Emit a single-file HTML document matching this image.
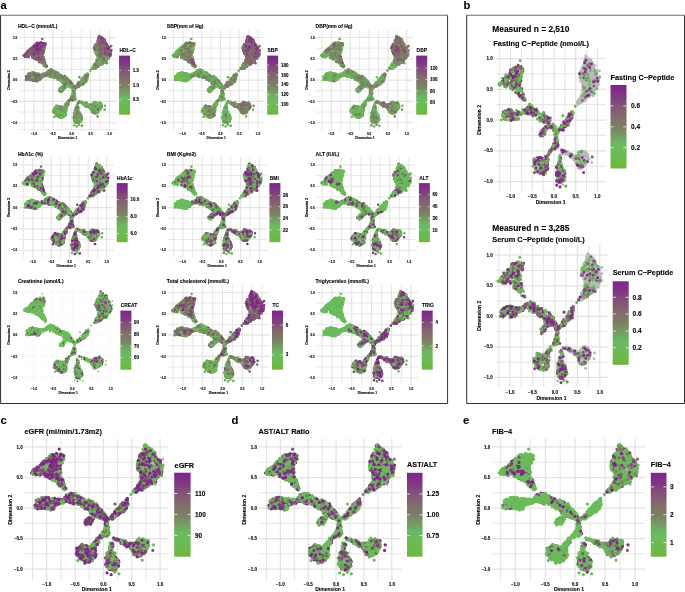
<!DOCTYPE html>
<html><head><meta charset="utf-8"><title>Figure</title>
<style>html,body{margin:0;padding:0;background:#fff}body{width:685px;height:592px;overflow:hidden;font-family:"Liberation Sans",sans-serif}svg{display:block;will-change:transform;filter:blur(0.3px)}text{stroke:#000;stroke-width:.1px}</style></head>
<body>
<svg width="685" height="592" viewBox="0 0 685 592" font-family="Liberation Sans, sans-serif" font-weight="bold" fill="#000">
<defs><linearGradient id="cg" x1="0" y1="0" x2="0" y2="1"><stop offset="0.00" stop-color="#7e228c"/><stop offset="0.14" stop-color="#803a82"/><stop offset="0.25" stop-color="#835477"/><stop offset="0.38" stop-color="#836c6c"/><stop offset="0.50" stop-color="#7b7f61"/><stop offset="0.60" stop-color="#769864"/><stop offset="0.68" stop-color="#6cb260"/><stop offset="0.75" stop-color="#6abc60"/><stop offset="0.88" stop-color="#6cba4e"/><stop offset="1.00" stop-color="#70b63e"/></linearGradient></defs>
<rect width="685" height="592" fill="#fff"/>
<path d="M0.6 15.3V403.5H447.6V15.3M466.7 15.3V403.5H684.5V15.3" fill="none" stroke="#2e2e2e" stroke-width="1"/>
<path d="M0.1 15.3H448.1M466.2 15.3H685" fill="none" stroke="#6e6e6e" stroke-width="1.1"/>
<text x="0.6" y="8.9" font-size="11.2">a</text>
<text x="463.4" y="8.9" font-size="11.2">b</text>
<text x="0.6" y="424.1" font-size="11.2">c</text>
<text x="231.4" y="424.1" font-size="11.2">d</text>
<text x="463.0" y="424.1" font-size="11.2">e</text>
<g><path d="M24.45 30.00V130.20M43.35 30.00V130.20M18.60 112.05H116.60M62.25 30.00V130.20M18.60 90.75H116.60M81.15 30.00V130.20M18.60 69.45H116.60M100.05 30.00V130.20M18.60 48.15H116.60M18.60 129.60H116.60" stroke="#e3e3e3" stroke-width="0.85" fill="none"/><path d="M33.90 30.00V130.20M18.60 122.70H116.60M52.80 30.00V130.20M18.60 101.40H116.60M71.70 30.00V130.20M18.60 80.10H116.60M90.60 30.00V130.20M18.60 58.80H116.60M109.50 30.00V130.20M18.60 37.50H116.60" stroke="#e3e3e3" stroke-width="1.10" fill="none"/><g transform="translate(19 30) scale(0.2)" fill="none" stroke-linecap="round" stroke-width="13.0"><path d="M0 0m219 411zm144-12zm15-8zm23-18z" stroke="#70b63e"/><path d="M0 0m230 384zm35-110zm36 135zm39-189zm43-112zm5 59zm-10 196zm3 33zm13 16z" stroke="#6db949"/><path d="M0 0m85 243zm56-21zm9-8zm13 14zm35 161zm-9 14zm0 10zm26-117zm0 91zm1 2zm-7 12zm14 1zm-11 19zm-3 13zm2 5zm18-177zm51 83zm13 32zm-6 31zm2 7zm5 42zm54-80zm-11 1zm22 21zm2 0zm26-223zm-7 5zm2 190zm13 27zm10-24z" stroke="#6bbb54"/><path d="M0 0m79 244zm82-19zm3 3zm30 153zm5 5zm-8 14zm15-171zm1 22zm9 42zm4 8zm-17 5zm2 86zm18 14zm-1 12zm-22 10zm22 1zm-22 3zm27-181zm11 120zm-10 24zm3 2zm19-144zm14 17zm-7 2zm13 30zm-7 48zm11 84zm15-158zm-9 62zm-5 5zm20 55zm4 17zm-4 18zm-4 6zm-10 6zm-4 9zm8 7zm16-182zm3 82zm9 74zm-11 23zm33-225zm-4 14zm-2 1zm-3 9zm12 110zm10 10zm2 6zm23 11zm24-305zm-15 16zm-1 3zm17 25zm0 23zm-16 18zm6 5zm-11 181zm12 13zm5 10zm-17 2zm13 18zm3 1zm-1 2zm23-275zm-13 0zm9 21zm-1 216zm0 21zm16-246z" stroke="#6abc60"/><path d="M0 0m72 246zm10-25zm-6 12zm40-66zm-12 73zm-4 7zm28-68zm20 45zm2-21zm9 0zm-4 9zm29 1zm-1 18zm-1 2zm17 12zm16 42zm8 1zm-21 10zm-2 3zm2 81zm14 8zm0 8zm-12 18zm39-172zm-15 1zm3 16zm3 12zm13 92zm-16 22zm2 13zm38-56zm-5 1zm-8 1zm-3 4zm38-69zm-17 48zm9 59zm2 9zm4 8zm1 1zm6 5zm-15 2zm-3 7zm14 1zm-10 23zm12 21zm26-226zm-1 3zm-19 117zm1 84zm33-197zm-11 6zm1 11zm15 110zm2 3zm-3 1zm34 0zm-19 2zm5 5zm28-279zm-5 6zm4 4zm-8 55zm-4 18zm7 172zm5 14zm10 13zm-15 16zm-1 11zm25-297zm10 1zm-11 5zm4 9zm-2 20zm-3 4zm20 7zm-21 3zm0 205zm2 1zm-4 4zm9 17zm16-282zm-1 4zm23 16zm-22 7zm3 12zm-4 10z" stroke="#6eae61"/><path d="M0 0m49 246zm12-28zm1 6zm-12 7zm38-138zm0 50zm3 0zm8 80zm-22 17zm3 3zm22-114zm11 3zm-3 15zm4 14zm1 63zm22-7zm8 7zm11 11zm23-26zm2 14zm18 11zm-5 14zm21-16zm-7 16zm9 16zm-7 24zm0 14zm0 8zm-9 114zm28-190zm6 4zm6 4zm0 10zm-7 122zm3 2zm-8 19zm28-135zm-6 8zm16 1zm-8 3zm12 77zm8-1zm11 29zm-6 22zm9 22zm-11 6zm-1 17zm-3 5zm9 2zm-10 4zm46-215zm-1 25zm0 2zm-11 5zm-3 155zm-6 17zm-1 19zm14 16zm31-257zm-5 16zm-3 15zm-11 9zm5 107zm-7 2zm13 2zm8 8zm-9 0zm34-193zm-1 1zm-6 189zm-13 8zm9 11zm31-301zm-12 9zm9 9zm4 11zm7 10zm-1 14zm0 19zm-18 11zm0 220zm-5 3zm15 3zm15-340zm19 26zm-20 3zm18 23zm-5 0zm-8 14zm2 10zm24-30zm-3 0zm15 16zm-22 8zm10 7zm-1 1zm1 16z" stroke="#779464"/><path d="M0 0m45 123zm-5 109zm27-7zm-4 17zm-9 4zm45-134zm-7 19zm-15 2zm21 97zm-7 8zm-2 7zm6 2zm16-148zm9 34zm2 9zm-17 14zm56 41zm-2 15zm-7 5zm-1 7zm4 1zm17 13zm22 8zm3 1zm-1 157zm13-173zm-4 8zm13 48zm-8 2zm33 70zm-18 27zm9 15zm34-55zm23-62zm-10 1zm-3 9zm9 92zm10 3zm-18 14zm2 52zm43-194zm-19 7zm0 7zm-5 7zm3 79zm14 7zm-6 59zm-10 13zm30-76zm36 24zm23-279zm-8 56zm5 13zm2 238zm4 16zm12-351zm-3 6zm11 15zm-9 20zm15 0zm-10 4zm13 27zm-4 17zm14-94zm0 38zm-5 16zm21 12zm-21 12zm29-26z" stroke="#7b7f61"/><path d="M0 0m30 126zm38-19zm-13 10zm3 5zm10 15zm-2 75zm-13 5zm9 2zm-12 7zm17 1zm4 1zm22-160zm-18 46zm15 1zm9 16zm-21 99zm4 1zm3 16zm17-125zm13 4zm-8 103zm22-8zm2 5zm36-25zm-17 5zm0 11zm23 1zm48 19zm-13 17zm3 50zm64 18zm28-58zm95-191zm-13 44zm3 34zm7 29zm-13 7zm26-139zm2 59zm-5 60zm33-47zm0 3zm5 8zm2 7zm7-20zm2 5z" stroke="#817269"/><path d="M0 0m58 118zm14 0zm-1 20zm10-57zm17 19zm-8 15zm-14 15zm20 9zm-12 7zm5 73zm-1 26zm8 3zm-20 5zm28-179zm10 13zm-4 3zm-2 8zm10 11zm-16 10zm21 38zm-9 2zm-8 0zm24-84zm-4 24zm-1 77zm4 3zm21 33zm183 46zm62-198zm-13 23zm-5 4zm6 0zm22-45zm17 14zm-3 9zm-8 1zm12 6zm-5 8zm1 7zm5 16zm3-42zm10 13zm11 15zm-3 5zm-5 11zm16 8zm3 9zm-6 8z" stroke="#836370"/><path d="M0 0m40 118zm1 4zm8 107zm0 5zm20-146zm-1 5zm-1 9zm4 1zm-21 10zm12 137zm30-176zm-1 3zm-10 3zm13 10zm-12 2zm-4 0zm14 9zm4 4zm16-38zm3 4zm4 6zm-18 3zm5 24zm16 4zm-21 1zm8 3zm-6 2zm307-57zm14 1zm-24 2zm29-11zm-2 21zm16 23zm3 5zm1 8zm4 25z" stroke="#835477"/><path d="M0 0m46 128zm-3 7zm22-15zm24-48zm-3 5zm3 25zm-10 13zm20 8zm-3 9zm15-39zm11 10zm11-35zm-3 9zm-4 1zm275-41zm7 16zm5 4zm1 10z" stroke="#81407f"/><path d="M0 0m83 73zm-1 1zm-5 30zm41-25zm-17 22zm29-28zm-5 1zm282-13zm39 26z" stroke="#7f3086"/><path d="M0 0m192 402zm23 14zm-13 10zm6 13zm40-81z" stroke="#70b63e"/><path d="M0 0m311 249zm-3 17zm36-38zm-1 156zm29-18zm-18 23zm37 12zm-15 10zm38-248z" stroke="#6db949"/><path d="M0 0m158 204zm19 18zm4 185zm3 11zm6 7zm32-181zm-10 149zm-4 6zm-3 22zm0 2zm13 1zm-10 8zm23-30zm26-144zm-7 10zm35 78zm6 27zm1 17zm-3 33zm-5 8zm6 14zm-10 10zm61-226zm-1 154zm25 1zm6 4zm25-216zm-4 193zm7 6zm0 22zm-11 19zm33-263zm-12 22zm-7 228zm34-235z" stroke="#6bbb54"/><path d="M0 0m93 239zm-2 2zm73-29zm9 199zm3-201zm0 183zm1 3zm35-160zm-1 152zm10 23zm0 1zm-1 14zm15-172zm1 7zm-2 1zm2 13zm4 90zm0 2zm-7 16zm3 4zm-2 39zm36-148zm-5 7zm7 33zm-4 3zm-8 29zm14 90zm17-165zm-16 42zm2 14zm20 67zm-16 7zm14 3zm0 43zm5-191zm2 97zm2 7zm7 86zm28-214zm3 9zm-15 12zm20 117zm-1 8zm14-6zm-5 12zm25-292zm5 22zm-2 68zm16 185zm-1 2zm-8 25zm6 4zm12-254zm8 7zm-16 22zm0 195zm5 28z" stroke="#6abc60"/><path d="M0 0m44 241zm24-16zm29-7zm22 4zm-9 19zm19-24zm8 2zm16 14zm43-13zm-19 3zm0 2zm13 14zm-5 175zm14 3zm-21 17zm29-207zm-7 3zm6 3zm10 4zm-12 1zm4 1zm10 45zm-12 22zm6 95zm21-159zm-4 12zm11 25zm9 76zm-20 25zm-3 3zm6 3zm41-99zm-1 31zm-4 10zm4 4zm2 3zm-6 2zm6 4zm2-22zm18 56zm-3 18zm-6 14zm1 11zm-10 11zm13 2zm2 26zm24-211zm2 11zm-8 8zm10 100zm-18 109zm30-244zm3 3zm6 6zm-7 10zm1 133zm36-193zm1 2zm1 4zm-16 8zm17 178zm-12 3zm25-265zm7 61zm4 3zm-6 183zm-9 5zm17 2zm-2 25zm-2 8zm20-322zm2 7zm5 20zm-8 10zm5 9zm-10 1zm-8 5zm8 10zm11 8zm-15 220zm6 2zm33-265zm-14 31zm6 1zm0 9z" stroke="#6eae61"/><path d="M0 0m49 234zm0 6zm-3 3zm27-105zm-18 81zm6 9zm-3 12zm2 2zm18-21zm0 3zm-2 19zm38-122zm-10 4zm15 6zm-7 93zm8 4zm-10 2zm-2 14zm26-58zm-3 36zm36-17zm-17 6zm5 10zm16 6zm23-14zm4 4zm0 3zm-3 23zm-10 145zm-4 14zm26-177zm9 13zm3 2zm-6 7zm9 30zm-5 24zm-12 93zm24-164zm4 14zm14 5zm-22 4zm5 11zm16 1zm-1 2zm-1 1zm4 8zm-4 0zm1 93zm-16 25zm1 8zm21-128zm19 44zm4 17zm-9 3zm5 13zm20-74zm7 3zm-7 5zm2 100zm-5 3zm-1 15zm7 1zm-13 9zm0 49zm25-195zm-1 160zm4 2zm-2 4zm-6 7zm43-213zm-11 17zm3 4zm-5 1zm44 124zm-8 3zm29-309zm-18 16zm8 23zm12 10zm-3 24zm-9 29zm-5 5zm4 200zm-5 7zm18 16zm-15 20zm23-321zm-4 7zm22 15zm-13 3zm13 1zm-17 7zm1 7zm9 4zm-7 27zm5 207zm20-301zm-4 11zm1 8zm-1 4zm4 48z" stroke="#779464"/><path d="M0 0m69 91zm0 34zm2 91zm0 7zm-10 1zm4 10zm-6 0zm9 16zm20-123zm-11 13zm22 13zm-15 64zm-6 18zm4 2zm10 4zm30-134zm-19 18zm10 5zm8 96zm27-15zm13-12zm-3 1zm-3 10zm12 18zm3 2zm-4 3zm8 2zm5-6zm-3 7zm17 2zm23 1zm-1 2zm-8 7zm0 188zm23-62zm43-87zm0 30zm-23 38zm37-65zm-4 103zm-1 18zm13 46zm-9 5zm38-212zm-1 5zm-16 8zm-5 184zm37-219zm35-52zm12-94zm13 11zm-13 12zm0 7zm7 48zm-3 16zm4 6zm2 201zm21-334zm-14 35zm18 3zm-12 12zm1 9zm9 11zm-7 22zm-11 30zm10 214zm14-261zm7 20z" stroke="#7b7f61"/><path d="M0 0m46 121zm1 98zm-1 14zm-4 11zm1 1zm-8 5zm26-146zm-11 5zm24 104zm13-106zm12 3zm-10 10zm6 102zm-18 6zm10 21zm6 5zm-5 2zm29-187zm1 38zm1 1zm-15 13zm-2 7zm7 17zm71 84zm19 176zm62-56zm21 77zm4 10zm10 19zm5-178zm72 125zm22-322zm1 7zm-17 7zm1 92zm40-126zm-11 2zm6 3zm-10 18zm-5 4zm4 16zm0 4zm19 31zm16-53zm1 23zm-15 3zm1 11zm23 4zm-12 11zm-6 0zm21-35zm0 32z" stroke="#817269"/><path d="M0 0m42 107zm0 23zm8-7zm0 7zm0 3zm23 5zm-13 91zm4 14zm16-137zm12 8zm-9 20zm-8 110zm29-174zm19 2zm-11 24zm3 3zm-14 16zm12 14zm10 16zm5-76zm66 170zm94 40zm31-10zm-5 0zm-8 155zm35-192zm56-168zm2 21zm12-31zm-11 10zm22 0zm2 6zm-6 26zm3 3zm-10 17zm26-15zm-7 21zm6 5zm25-47z" stroke="#836370"/><path d="M0 0m52 221zm8 11zm31-167zm1 1zm-7 11zm5 22zm7 37zm-7 9zm-1 102zm7 3zm14-189zm-3 18zm9 14zm1 13zm-3 1zm-10 26zm19 9zm-17 3zm16 74zm-19 26zm300-170zm5 1zm25 2zm9 2zm-8 4zm-8 4zm-1 1zm4 1zm-2 0zm13 11zm-2 7zm-10 0zm22-3z" stroke="#835477"/><path d="M0 0m48 107zm25-28zm0 7zm-10 3zm11 10zm-1 0zm-11 10zm0 5zm10 15zm27-63zm-7 20zm2 5zm-14 1zm22-22zm16 14zm-16 6zm9 14zm-9 18zm24-50zm293-19zm5 5zm-13 0zm4 38zm14-36zm-4 8zm8 8z" stroke="#81407f"/><path d="M0 0m59 100zm0 1zm-4 1zm-5 9zm14 6zm30-18zm316-48zm33 31zm5 22z" stroke="#7f3086"/><path d="M0 0m46 116zm56-33zm317-30zm9-2z" stroke="#7e228c"/><path d="M0 0m188 399zm-7 17zm44 17zm34-146zm31 93zm5 6zm5 78z" stroke="#70b63e"/><path d="M0 0m138 229zm67 182zm15 15zm-6 8zm-10 1zm1 3zm28-180zm-8 9zm6 107zm7 26zm36 42zm6-31zm30-145zm95 98zm1 6z" stroke="#6db949"/><path d="M0 0m198 383zm-15 16zm6 4zm5 4zm-4 5zm8 17zm4-198zm21 37zm1 2zm-21 136zm18 4zm-18 7zm13 19zm28-192zm-9 44zm-1 102zm0 1zm-8 2zm0 16zm44-68zm25-57zm-9 179zm-10 13zm59-223zm32 119zm-3 14zm32-226zm3 17zm-7 188zm4 9zm-20 2zm23 3zm-4 18z" stroke="#6bbb54"/><path d="M0 0m172 204zm1 20zm-15 1zm36 157zm-9 4zm1 12zm10 2zm-17 0zm5 1zm10 5zm-5 4zm-1 15zm35-184zm-2 8zm-5 53zm-1 104zm-2 4zm2 0zm-10 7zm-5 8zm2 6zm22 0zm-8 5zm-3 3zm12-186zm1 8zm8 107zm-3 27zm-1 26zm0 4zm39-151zm-17 1zm19 2zm-12 2zm-3 2zm18 0zm-3 1zm-1 35zm3 17zm10-51zm-4 15zm14 73zm-8 24zm-4 9zm8 13zm-3 19zm-7 16zm11 1zm-14 4zm33-200zm7 1zm-3 10zm-1 5zm28-46zm-13 23zm2 8zm2 111zm-6 7zm46-1zm-8 15zm-4 2zm21-218zm17 4zm-15 185zm17 20zm-5 8zm0 9zm-10 2zm18-269zm1 2zm0 36zm27-52zm9 9z" stroke="#6abc60"/><path d="M0 0m95 135zm23 30zm26 52zm13-13zm-2 13zm22 15zm9 4zm-2 1zm2 154zm3 6zm-5 4zm4 14zm1 2zm10 6zm25-183zm-5 0zm-12 15zm4 32zm3 3zm-5 94zm8 15zm-3 17zm31-157zm-13 0zm-3 3zm0 1zm20 91zm-11 19zm-2 16zm24-102zm8 13zm-7 37zm-2 3zm-3 10zm31 45zm-5 18zm4 3zm3 6zm7 28zm1 9zm-1 1zm25-193zm-19 167zm4 15zm-5 8zm41-239zm-3 7zm-4 2zm-4 9zm-1 4zm-1 1zm-3 2zm0 122zm5 1zm39 9zm2 3zm-12 9zm37-222zm-13 2zm15 6zm-18 5zm-4 194zm9 4zm-9 27zm20 0zm12-292zm-5 0zm13 31zm-9 17zm-5 1zm-3 2zm7 219zm-7 14zm27-269zm2 18zm-2 10zm0 3zm1 241z" stroke="#6eae61"/><path d="M0 0m43 234zm13-9zm29-115zm7 117zm15-136zm9 23zm-13 16zm11 9zm21 36zm-8 46zm44-16zm1 8zm7 6zm7 12zm-8 0zm5 2zm8 146zm0 29zm7 4zm-8 7zm-4 4zm19-183zm13 13zm-11 46zm8 3zm-11 1zm13 106zm22-166zm-11 26zm19 0zm-20 6zm1 0zm16 89zm-1 5zm-13 23zm3 27zm40-76zm22-79zm-19 40zm17 98zm4 21zm-14 4zm8 2zm3 8zm-17 17zm46-199zm-15 17zm-7 85zm15 6zm-15 1zm-1 48zm8 11zm-6 17zm31-206zm9 2zm-17 1zm5 18zm30 118zm13 17zm0 15zm-8 4zm17-337zm2 0zm-7 17zm21 49zm0 20zm1 7zm-6 9zm-7 7zm-11 12zm21 217zm7-317zm7 4zm-4 24zm15 7zm-13 6zm8 1zm-5 38zm28-49zm-13 12zm0 21zm14 9z" stroke="#779464"/><path d="M0 0m41 233zm29-5zm-8 11zm10 5zm8-150zm0 19zm8 13zm-4 15zm-2 79zm-6 14zm46-100zm-10 12zm1 18zm23 16zm-9 43zm20 3zm1 2zm2-23zm16 0zm4 3zm-16 0zm3 13zm6 4zm10 3zm-13 6zm24-23zm3 15zm7 202zm43-154zm-4 5zm11 92zm-9 6zm-8 20zm30-122zm10 61zm19-54zm-9 16zm-1 22zm-1 10zm12 108zm-2 8zm2 16zm15-226zm16 5zm-4 16zm8 14zm-19 187zm32-198zm-4 109zm43-186zm-6 214zm24-305zm-9 6zm6 5zm4 7zm0 9zm-2 59zm-9 236zm10 0zm12-351zm10 27zm-13 3zm11 12zm-4 12zm3 9zm13 7zm-21 19zm9 8zm37-43zm-16 26zm-7 2zm1 10zm8 3zm20-38z" stroke="#7b7f61"/><path d="M0 0m47 105zm2 22zm-11 105zm9 5zm22-141zm-14 24zm13 5zm6 102zm-23 9zm37-143zm10 32zm1 8zm-2 1zm-12 7zm9 1zm3 85zm2 11zm-14 4zm2 12zm36-141zm-13 47zm-10 0zm12 77zm34-14zm13-25zm5 36zm33-13zm-9 12zm-13 3zm28 62zm24-55zm20 16zm22 55zm28-44zm-7 166zm24 10zm84-385zm-2 10zm-5 14zm-6 97zm7 206zm17-302zm5 2zm-12 17zm13 2zm1 2zm17-45zm-2 19zm13 15zm-8 3zm20 20zm1 2z" stroke="#817269"/><path d="M0 0m47 229zm-10 2zm3 8zm27-150zm-10 5zm17 2zm0 7zm-20 6zm19 1zm-19 9zm14 3zm-9 100zm-4 11zm12 12zm-13 3zm21-133zm7 14zm10 6zm7 1zm17-91zm3 23zm-8 4zm8 9zm4 22zm-9 27zm-5 30zm10 62zm-7 17zm-7 3zm25-166zm77 216zm97 126zm94-371zm-3 16zm-1 21zm21-40zm-15 5zm13 20zm-1 12zm12 15zm-6 29zm13-39zm-4 2zm23 41z" stroke="#836370"/><path d="M0 0m73 87zm-3 14zm-19 11zm30-36zm3 17zm-7 33zm1 2zm14 20zm32-82zm-12 9zm0 17zm8 2zm-8 5zm-11 14zm5 4zm1 5zm7 3zm-13 32zm298-116zm-3 30zm11-33zm11 8zm1 7zm0 10zm-7 1zm-11 8zm27-14zm3 2zm8 10zm8 65z" stroke="#835477"/><path d="M0 0m23 128zm50-41zm-11 17zm12 7zm-8 19zm2 3zm25-69zm-5 24zm7 11zm-12 19zm-7 25zm47-73zm-1 10zm-1 0zm-17 7zm18 16zm-6 10zm-15 47zm298-117zm1-9zm11 27zm13 2zm19 39zm16 14z" stroke="#81407f"/><path d="M0 0m85 87zm14 15zm19-28zm12 0zm289-24zm-4 22zm0 21zm11-15zm19 19z" stroke="#7f3086"/><path d="M0 0m407 37zm3 2z" stroke="#7e228c"/><path d="M0 0m199 420zm49-62zm138-191z" stroke="#70b63e"/><path d="M0 0m186 232zm7 170zm28 2zm-17 1zm-4 20zm35-38zm1 14zm14-121zm39 114zm7 11zm-7 77zm19-38zm102-273zm-4 223z" stroke="#6db949"/><path d="M0 0m146 202zm22 25zm14 164zm-1 21zm14 5zm0 0zm28-186zm-3 57zm-11 10zm14 120zm-19 17zm45-163zm-21 1zm3 14zm0 139zm23-171zm18 60zm-9 25zm33 125zm23-216zm-8 209zm16-228zm11 3zm-1 144zm35-196zm-20 208zm28-283zm16 41zm-19 41zm22 178zm-11 15zm13-13z" stroke="#6bbb54"/><path d="M0 0m161 230zm25 10zm7 0zm17-12zm14 56zm-14 21zm6 85zm3 14zm-17 7zm9 2zm9 3zm5-175zm3 30zm13 8zm1 5zm-13 8zm-3 95zm9 2zm-2 22zm-5 5zm2 7zm41-111zm-5 27zm-11 8zm25-31zm6 77zm10 31zm-11 11zm0 9zm-3 9zm46-214zm11 131zm25-180zm-4 189zm-3 2zm14 10zm25-289zm-3 0zm-7 6zm13 5zm-20 55zm12 4zm-6 194zm12 1zm-8 11zm1 8zm-6 1zm5 12zm-6 17zm22-294zm-1 5zm15 8zm-16 241z" stroke="#6abc60"/><path d="M0 0m61 217zm18 25zm12 3zm30-83zm2 70zm-11 4zm22-59zm5 34zm10 17zm11-25zm1 2zm-3 8zm-2 10zm19-13zm17 14zm7 6zm-14 7zm14 149zm-9 2zm-9 5zm9 23zm11-181zm15 48zm-15 108zm23 4zm-17 6zm3 6zm11 16zm-18 0zm2 10zm37-167zm6 7zm-8 2zm-3 107zm-12 17zm6 11zm39-130zm-1 49zm-4 0zm6 18zm4-44zm2 22zm3 17zm14 43zm-3 5zm-1 2zm4 2zm-19 21zm21 13zm-11 6zm12 9zm20-183zm2 108zm-1 1zm-6 67zm-2 16zm23-218zm-2 21zm1 2zm7 114zm9 2zm1 7zm-1 0zm8 7zm7 3zm0 1zm8 1zm9-291zm18 31zm-8 28zm-1 7zm-3 198zm-6 44zm-4 6zm30-323zm15 38zm-7 1zm-1 9zm2 10zm-14 4zm12 1zm-13 9zm10 5zm1 210zm3 5zm-14 7zm27-305zm10 57zm0 2zm-5 10zm-3 3z" stroke="#6eae61"/><path d="M0 0m38 241zm36-123zm-6 124zm-17 2zm23 1zm7-28zm9 23zm3 1zm-18 1zm17 1zm31-139zm-11 43zm-10 5zm9 5zm7 1zm-2 77zm18-54zm5 3zm8 23zm9-1zm-6 19zm36 157zm-6 9zm12 1zm9-162zm22 17zm-14 135zm5 3zm-8 3zm13 4zm5 36zm12-180zm8 2zm-1 9zm-10 13zm8 111zm-11 1zm-2 10zm30-112zm13 9zm-2 14zm5 4zm21-27zm-19 46zm15 78zm-15 14zm4 9zm36-182zm-15 26zm12 86zm-13 59zm14 25zm17-219zm11 1zm2 151zm-14 1zm8 6zm20 1zm10 28zm24-300zm3 52zm-15 8zm8 5zm-9 1zm0 2zm8 2zm-4 4zm1 195zm-2 19zm3 0zm34-300zm-17 18zm0 8zm17 3zm-6 21zm2 16zm-2 7zm13-78zm3 10zm7 30zm9 5zm-12 1zm26-35z" stroke="#779464"/><path d="M0 0m39 236zm24-114zm-8 107zm-5 13zm2 1zm34-133zm2 0zm-3 12zm-8 108zm18 6zm-4 9zm21-136zm-4 22zm6 20zm-12 5zm22 1zm-22 65zm4 24zm21-88zm4 69zm20-10zm11 5zm-1 8zm12 180zm10-201zm15 12zm-16 9zm-1 173zm29-178zm9 73zm-6 1zm-6 101zm18-154zm1 3zm21 124zm0 1zm25-71zm23 129zm2 3zm-16 23zm14 2zm5-180zm37-49zm-6 10zm36 154zm12-302zm13 58zm-16 23zm13 12zm-5 4zm-3 191zm-3 23zm25-323zm1 49zm13 9zm-14 1zm-3 4zm18 1zm-17 1zm10 6zm14-103zm0 59zm10 46zm-5 9zm21-78zm8 42z" stroke="#7b7f61"/><path d="M0 0m48 100zm-3 11zm-18 15zm10 115zm33-143zm-1 25zm-19 99zm22 4zm-14 8zm13 7zm-3 3zm5 3zm16-154zm-5 12zm14 10zm-13 5zm4 1zm2 18zm-1 2zm-9 1zm15 2zm-11 88zm14 11zm14-133zm-3 23zm3 2zm0 6zm-12 1zm7 3zm16 9zm-1 0zm-3 9zm3 66zm2-69zm15 58zm43 0zm16 4zm6 83zm13 87zm11-162zm6 152zm29-51zm60-70zm43 140zm8-310zm10 1zm7 58zm1 32zm23-142zm-16 13zm14 4zm0 26zm-11 5zm15 6zm0 5zm-16 23zm8 8zm30-39zm4 6zm-11 1zm10 12zm3 3zm-7 8zm2 5zm-15 18zm11 4zm-1 9zm23-43z" stroke="#817269"/><path d="M0 0m44 123zm-10 11zm7 95zm-5 6zm9 3zm3 0zm2-128zm10 1zm9 6zm-12 103zm5 2zm-7 22zm14 9zm24-186zm-11 16zm0 23zm10 5zm7 4zm-19 8zm-1 3zm4 1zm-6 8zm7 1zm9 119zm11-181zm4 16zm-2 7zm3 17zm0 2zm12 1zm-10 1zm3 7zm2 26zm1 2zm-15 81zm23-166zm13 111zm64 58zm93 31zm42-38zm57-179zm-1 23zm10-43zm4 9zm8 1zm6 6zm1 28zm-21 2zm14 13zm9 10zm-17 9zm32-39zm-2 10zm2 22zm-7 25z" stroke="#836370"/><path d="M0 0m44 106zm-1 17zm13-28zm0 18zm15 1zm-21 1zm9 3zm36-53zm-4 17zm-12 16zm15 9zm-19 147zm41-174zm-8 26zm14 0zm2 57zm-5 69zm9-143zm294-30zm-7 14zm6 19zm8-37zm-4 11zm9 5zm13 39zm-19 10zm22-10z" stroke="#835477"/><path d="M0 0m28 125zm1 0zm40-31zm-8 3zm-7 10zm20 3zm19-38zm-16 7zm8 9zm-1 4zm21-1zm307-50zm6 10zm-17 3zm34 18zm-3 21zm-3 15zm5 5z" stroke="#81407f"/><path d="M0 0m61 118zm10 7zm17-45zm-3 8zm30-9zm2 1zm-17 3zm300-42zm62 60z" stroke="#7f3086"/><path d="M0 0m93 97zm27-29zm281-35zm0 6z" stroke="#7e228c"/><path d="M0 0m198 425zm12-15zm2 10zm183-44z" stroke="#70b63e"/><path d="M0 0m187 385zm-11 12zm-1 7zm7 16zm34 4zm-12 7zm70-111zm-8 12zm10 108zm10 16zm101-84zm21 20z" stroke="#6db949"/><path d="M0 0m189 236zm-1 143zm-11 18zm12 7zm10 17zm11-173zm7 44zm5 107zm-22 32zm9 7zm18-163zm2 110zm-2 15zm6 8zm-4 22zm43-95zm9 71zm3 23zm10 10zm-11 19zm22-29zm-4 24zm84-335zm7 17zm2 26zm-10 29zm2 178zm5 5zm-4 33zm3 8zm-15 2zm35-270zm0 23zm-6 200zm10 15zm26-238z" stroke="#6bbb54"/><path d="M0 0m88 217zm1 12zm42-64zm7 45zm-2 5zm-2 2zm61 27zm25 46zm-1 1zm-17 5zm9 2zm7 109zm-1 27zm20-199zm-9 12zm8 17zm-4 8zm9 9zm-11 6zm10 94zm-13 2zm3 37zm25-138zm8 49zm-5 20zm39 95zm7-5zm34-203zm-2 133zm-6 1zm-5 1zm18 0zm3 1zm19-181zm9 183zm15-261zm4 48zm-5 201zm0 6zm6 3zm-9 33zm20-253zm25-4zm-4 12zm4 218z" stroke="#6abc60"/><path d="M0 0m67 221zm-1 15zm30-15zm-16 2zm13 6zm-15 3zm37-78zm7 24zm2 47zm-14 7zm9 0zm6-1zm40-5zm2 5zm3 2zm0 171zm23-169zm6 4zm-3 3zm-15 146zm15 11zm17-162zm-4 1zm4 6zm-12 5zm0 0zm19 36zm-5 4zm7 103zm-12 33zm10 10zm18-183zm-6 16zm-3 6zm-4 20zm22 61zm-5 23zm-13 16zm6 11zm20-147zm-1 17zm12 1zm6 19zm-1 48zm5-26zm-1 21zm13 71zm2 2zm-13 6zm13 6zm-1 11zm-3 21zm38-210zm-11 26zm3 1zm-16 5zm7 0zm3 84zm0 1zm14 10zm12-127zm-10 14zm45-67zm-3 2zm4 173zm-1 2zm1 4zm-12 12zm-6 4zm13 10zm3 10zm4 6zm12-303zm-1 1zm11 40zm-5 222zm-5 23zm-10 6zm18 5zm1 2zm28-276zm-12 3zm-4 1zm4 31zm-6 193zm44-232zm-9 4z" stroke="#6eae61"/><path d="M0 0m49 225zm22-102zm-21 117zm17 4zm0 5zm25-9zm5 7zm10-151zm15 57zm-1 71zm-4 5zm-2 1zm-4 3zm5 3zm15-67zm16 37zm-7 17zm16-12zm13 14zm-4 5zm33-10zm-7 7zm-13 2zm16 5zm0 2zm-18 2zm16 188zm2 8zm16-199zm4 3zm8 60zm-6 8zm1 89zm6 9zm-14 0zm-4 20zm34-177zm0 2zm5 110zm-8 30zm55-109zm8 0zm-15 0zm12 3zm-15 0zm-6 25zm3 15zm0 13zm8 57zm-6 30zm11 5zm7 5zm-18 2zm9 6zm-3 1zm4 1zm0 8zm7 10zm14-27zm-11 2zm13 10zm15-206zm6 11zm-4 3zm7 109zm2 19zm19-9zm9 5zm2 17zm2 17zm15-338zm6 8zm-6 9zm12 7zm-18 2zm19 4zm-11 20zm9 7zm-8 27zm-2 11zm-8 13zm-3 6zm7 5zm-8 182zm34-266zm-9 14zm23 12zm-16 18zm11 8zm-16 13zm6 211zm32-276zm-6 24zm-3 23z" stroke="#779464"/><path d="M0 0m40 120zm8 13zm0 2zm1 106zm-6 2zm2 5zm22-126zm-8 128zm11 0zm-20 0zm29-118zm4 91zm-1 5zm4 14zm-2 3zm5 2zm6 7zm-10 1zm37-161zm-19 53zm19 16zm-16 84zm23-78zm11 47zm26-10zm2 3zm-11 0zm7 3zm19 22zm13 8zm26-7zm16 8zm-13 0zm11 7zm0 16zm-10 3zm27-16zm-1 11zm21 18zm6 2zm1 3zm15 76zm-4 24zm-2 16zm2 12zm-15 20zm27-163zm39-41zm-9 6zm3 5zm-2 9zm52-177zm0 9zm-8 1zm19 4zm-8 63zm-10 23zm10 7zm-9 231zm42-340zm-14 17zm6 2zm-10 4zm15 10zm-1 4zm3 29zm11-77zm17 32zm-9 3zm10 26zm5 4z" stroke="#7b7f61"/><path d="M0 0m49 125zm-17 5zm12 4zm22-39zm-5 8zm-7 12zm13 23zm5 81zm-16 11zm-2 10zm35-169zm10 11zm-2 18zm-9 28zm7 6zm-17 9zm-3 83zm15 4zm-4 1zm-5 20zm20-124zm14 13zm1 7zm-7 7zm18-84zm0 80zm1 10zm2 66zm6 4zm77 8zm17 35zm-3 12zm33-25zm6 74zm-6 11zm38-62zm-3 104zm24-118zm73-211zm1 1zm4 19zm-3 24zm7-60zm17 3zm-13 8zm-5 4zm12 18zm-11 6zm6 5zm2 0zm-7 12zm0 5zm1 15zm8 3zm-2 15zm17-61zm-1 6zm1 1zm23 18zm-9 30zm14-44z" stroke="#817269"/><path d="M0 0m70 109zm-15 2zm19 7zm0 4zm14-55zm-1 9zm-12 64zm19 1zm-9 3zm-5 79zm3 14zm40-167zm-9 4zm3 1zm-13 35zm4 7zm2 11zm6 1zm-6 3zm-10 7zm8 2zm-6 93zm161 34zm-11 83zm145-283zm-20 20zm3 8zm15 299zm13-310zm13 7zm-8 3zm-7 2zm4 3zm1 11zm-5 14zm24-60zm3 29zm2 4zm14 2zm-2 8zm-21 41zm29-19z" stroke="#836370"/><path d="M0 0m37 123zm9 9zm22-43zm-5 4zm5 9zm-8 17zm12 1zm26-51zm-10 6zm3 6zm-1 0zm-9 2zm8 28zm4 12zm-9 17zm0 4zm5 5zm7 76zm4-128zm5 1zm11 13zm-16 24zm12 14zm14-82zm141 284zm132-314zm14 1zm-6 14zm8 13zm-10 6zm21-22zm18 30zm-6 9zm-8 4zm9 26zm13-28zm4 27z" stroke="#835477"/><path d="M0 0m36 115zm-6 8zm0 11zm58-68zm4 1zm3 9zm-17 3zm19 16zm-19 12zm19 7zm-3 1zm-18 10zm22 18zm26-73zm-12 11zm-2 18zm311-38zm1 0zm27 29zm-1 2z" stroke="#81407f"/><path d="M0 0m74 122zm17-54zm7 2zm-2 9zm-20 6zm19 3zm11-24zm9 1zm-10 30zm338 0zm10 26z" stroke="#7f3086"/><path d="M0 0m87 80zm5 21zm325-61z" stroke="#7e228c"/></g><g font-size="3.10" stroke="#000" stroke-width="0.09"><text x="33.90" y="135.00" text-anchor="middle">−1.0</text><text x="17.20" y="123.82" text-anchor="end">−1.0</text><text x="52.80" y="135.00" text-anchor="middle">−0.5</text><text x="17.20" y="102.52" text-anchor="end">−0.5</text><text x="71.70" y="135.00" text-anchor="middle">0.0</text><text x="17.20" y="81.22" text-anchor="end">0.0</text><text x="90.60" y="135.00" text-anchor="middle">0.5</text><text x="17.20" y="59.92" text-anchor="end">0.5</text><text x="109.50" y="135.00" text-anchor="middle">1.0</text><text x="17.20" y="38.62" text-anchor="end">1.0</text></g><text x="67.60" y="139.00" text-anchor="middle" font-size="3.25">Dimension 1</text><text transform="translate(10.40 80.10) rotate(-90)" text-anchor="middle" font-size="3.25">Dimension 2</text><text x="18.00" y="28.30" font-size="5.00">HDL−C (mmol/L)</text><rect x="119.05" y="55.60" width="11.00" height="59.10" fill="url(#cg)"/><path d="M119.05 70.40h2.20M130.05 70.40h-2.20M119.05 84.90h2.20M130.05 84.90h-2.20M119.05 99.50h2.20M130.05 99.50h-2.20" stroke="#fff" stroke-width="0.55" fill="none"/><g font-size="4.50"><text x="132.75" y="72.02">1.5</text><text x="132.75" y="86.52">1.0</text><text x="132.75" y="101.12">0.5</text></g><text x="119.45" y="52.00" font-size="4.90">HDL−C</text></g>
<g><path d="M173.51 30.00V130.20M192.29 30.00V130.20M167.40 112.05H265.00M211.06 30.00V130.20M167.40 90.75H265.00M229.84 30.00V130.20M167.40 69.45H265.00M248.61 30.00V130.20M167.40 48.15H265.00" stroke="#e3e3e3" stroke-width="0.85" fill="none"/><path d="M182.90 30.00V130.20M167.40 122.70H265.00M201.67 30.00V130.20M167.40 101.40H265.00M220.45 30.00V130.20M167.40 80.10H265.00M239.22 30.00V130.20M167.40 58.80H265.00M258.00 30.00V130.20M167.40 37.50H265.00" stroke="#e3e3e3" stroke-width="1.10" fill="none"/><g transform="translate(167 30) scale(0.2)" fill="none" stroke-linecap="round" stroke-width="13.0"><path d="M0 0m35 126zm36 86zm-15 14zm-2 3zm27 4zm3 11zm9 1zm-12 8zm23-30zm193 154zm-6 20zm53-159z" stroke="#70b63e"/><path d="M0 0m59 217zm7 1zm1 32zm27-31zm-4 28zm97-14zm26-2zm-13 173zm42-33zm28-26zm1 1zm3 3zm10-11zm9 39zm14-16z" stroke="#6db949"/><path d="M0 0m45 118zm4 17zm18 84zm0 5zm5 1zm0 2zm-4 15zm-9 4zm-5 0zm22-18zm7 2zm13 8zm-11 5zm5 0zm4 2zm11 2zm-5 0zm1 1zm66-20zm9 10zm45 26zm-2 32zm-14 128zm28-162zm-8 39zm26 64zm29-36zm8 70zm-5 4zm10 12zm5 6zm-14 24zm37-77zm-16 41z" stroke="#6bbb54"/><path d="M0 0m45 232zm28-125zm-18 6zm5 4zm3 5zm10 15zm-18 94zm36-154zm-15 61zm17 5zm-6 78zm0 10zm-5 9zm-5 6zm32-172zm2 30zm9 22zm-17 104zm6 10zm17-137zm8 118zm29-9zm-10 12zm6 1zm10 3zm15-19zm-7 9zm22 163zm3-134zm12 63zm-1 91zm-5 15zm-4 12zm1 4zm11 7zm9-202zm14 1zm6 4zm2 117zm-12 38zm-8 9zm34-146zm-6 8zm12 2zm2 4zm5 70zm-12 2zm17-3zm5 2zm6 41zm8 12zm-4 7zm-10 15zm-6 14zm16 5zm-13 15zm0 1zm16 2zm8-98zm2 2zm-7 28zm28-137zm55-73zm9 224zm-7 0zm11 1zm-1 2zm2 6z" stroke="#6abc60"/><path d="M0 0m73 93zm0 9zm-2 18zm-21 3zm2 5zm2 106zm28-142zm11 1zm4 8zm-21 2zm19 12zm-1 0zm-10 0zm-7 3zm43-47zm-4 22zm-4 5zm4 1zm-10 10zm8 3zm-7 10zm7 25zm-4 9zm2 73zm22-154zm1 2zm-5 1zm11 139zm5 5zm3 2zm16-27zm-10 9zm0 6zm-1 5zm1 7zm11 1zm19-2zm8 180zm0 10zm26-181zm-16 2zm0 11zm9 3zm-1 3zm11 36zm-8 2zm-10 12zm10 1zm1 2zm-7 2zm-5 80zm17 12zm13-164zm14 10zm-9 130zm3 2zm-7 11zm-2 8zm1 0zm-7 23zm35-146zm-2 78zm8 0zm30-69zm-12 4zm-2 63zm12 58zm-4 2zm6 13zm-12 6zm13 6zm-17 16zm10 2zm17-183zm-3 11zm-4 132zm2 4zm11 12zm-10 13zm2 3zm-1 1zm-5 21zm39-219zm-8 16zm-2 1zm13 104zm1 10zm19 22zm2 0zm18-294zm-4 83zm17 244zm24-314zm-13 253zm-6 16zm13 2z" stroke="#6eae61"/><path d="M0 0m74 88zm24-20zm-10 5zm-1 1zm-1 6zm8 22zm-12 2zm42-27zm-18 3zm13 7zm-16 13zm1 12zm4 2zm-1 15zm-6 10zm10 20zm8 2zm2 6zm-2 57zm16-151zm-6 1zm-2 34zm2 68zm42 25zm-16 2zm9 0zm-4 9zm0 23zm38 11zm0 2zm-3 152zm15-171zm-1 10zm10 48zm2 6zm-15 5zm14 91zm-18 0zm7 3zm4 42zm14-146zm6 96zm-4 2zm8 14zm1 1zm16-148zm8 19zm19 22zm4 161zm3 6zm18-197zm2 11zm3 152zm-6 31zm0 5zm14 16zm25-259zm5 2zm-11 11zm-12 6zm1 1zm5 8zm-7 17zm20 108zm-4 0zm11 4zm11 20zm17-310zm11 18zm0 9zm-1 64zm-7 3zm-8 7zm5 172zm12 56zm21-275zm-5 26zm5 226z" stroke="#779464"/><path d="M0 0m47 122zm17-4zm35-28zm-12 2zm-7 22zm1 16zm16 1zm-8 15zm34-67zm-8 11zm-14 15zm22 4zm-19 14zm13 9zm16 47zm3 47zm18-12zm3 3zm31 14zm24 23zm2 34zm5 99zm1 3zm-4 31zm16-176zm13 7zm-7 21zm-11 129zm-1 27zm44-160zm4 33zm19-26zm-4 112zm-3 25zm28-141zm2 163zm18-188zm7 6zm-5 5zm-2 106zm-6 7zm12 7zm27 0zm-14 5zm13 16zm18-291zm9 1zm-4 6zm2 52zm-9 3zm8 6zm1 3zm-6 181zm-4 3zm4 8zm7 2zm-3 1zm-12 3zm20 6zm-17 2zm4 29zm25-297zm-4 14zm-4 4zm8 17zm-1 222zm-5 2zm43-283zm-19 10zm22 3zm-11 5zm-3 0zm6 12zm5 8zm-14 19zm-7 3zm13 6z" stroke="#7b7f61"/><path d="M0 0m93 72zm3 5zm-10 4zm-4 52zm14 10zm21-76zm-12 34zm-1 30zm33-63zm-12 65zm2 9zm62 71zm17 169zm17 29zm12-150zm50 183zm39-202zm-20 40zm25-25zm-1 4zm-2 6zm9 102zm5 12zm11-4zm7 2zm-8 2zm13 3zm7 4zm24-292zm-6 21zm-3 48zm0 9zm13 6zm-13 7zm-4 204zm3 5zm14 2zm-5 7zm10-345zm-3 29zm20 28zm2 5zm-15 1zm5 9zm-11 1zm0 16zm6 7zm-2 10zm-4 2zm11 200zm-5 4zm-3 1zm31-297zm13 11zm-21 28zm-2 2zm12 26zm-9 17zm-1 3zm31-35zm-5 3zm-2 0zm0 11z" stroke="#817269"/><path d="M0 0m107 119zm-6 13zm18 27zm12-60zm100 152zm63 33zm-15 38zm8 122zm59-68zm27-187zm-19 197zm31-303zm1 4zm-1 18zm1 6zm9 14zm-4 26zm-15 243zm2 8zm33-354zm-3 17zm9 2zm4 13zm-13 1zm-3 6zm2 7zm4 32zm1 5zm2 21zm-13 4zm20 14zm5-79zm23 7zm-14 16zm-7 21zm1 3zm0 5zm30-30zm-5 5zm3 5z" stroke="#836370"/><path d="M0 0m97 74zm30 83zm271-97zm-12 48zm-3 291zm30-342zm1 9zm-13 7zm12 34zm-6 15zm20-64zm3 3zm-1 9zm-3 2zm2 39zm19 27zm-18 16zm33-32zm-6 8z" stroke="#835477"/><path d="M0 0m132 179zm292-123zm-8 1zm-6 4zm12 4zm0 22zm-6 15zm2 29zm22-57zm7 20zm-4 11zm-2 15zm-12 10zm9 12zm12-53zm0 38z" stroke="#81407f"/><path d="M0 0m408 42zm3 11z" stroke="#7f3086"/><path d="M0 0m404 37zm27 12z" stroke="#7e228c"/><path d="M0 0m47 244zm1 1zm5-26zm13 5zm0 4zm-1 4zm-1 2zm9 16zm3-34zm7 5zm0 3zm0 11zm18 15zm25-31zm86 20zm32 126zm0 2zm27-30zm5-19zm29 156z" stroke="#70b63e"/><path d="M0 0m40 250zm33-25zm-10 15zm2 2zm-14 1zm28-30zm17 28zm-4 8zm23-19zm68 204zm39-150zm3 128zm28-57zm36-9zm5 99z" stroke="#6db949"/><path d="M0 0m49 241zm6-130zm10 118zm-11 5zm43-168zm-19 20zm21 5zm-22 38zm5 99zm5 9zm-7 7zm24-134zm61 89zm-6 22zm52 6zm12 13zm-12 8zm22-18zm-4 23zm5 11zm6 11zm-10 108zm6 3zm36-65zm-9 29zm26 57zm1 11zm-2 13zm-4 31zm21-15zm42-219zm26-39zm31-18zm-3 222z" stroke="#6bbb54"/><path d="M0 0m64 100zm3 9zm-12 14zm5 96zm-3 2zm-6 12zm19 1zm-1 9zm20-166zm-11 2zm10 55zm-10 4zm-2 85zm21 18zm-16 2zm13 4zm4 7zm-5 2zm30-149zm-19 46zm13 71zm7 4zm-9 13zm13-99zm7 80zm41 5zm2 8zm21 8zm-13 159zm9 23zm25-187zm-3 9zm-8 176zm13 1zm-11 12zm1 3zm25-195zm2 10zm9 14zm-4 11zm5 90zm-12 14zm3 4zm-7 7zm-8 17zm25-146zm4 3zm18 60zm-3 10zm-16 17zm25-14zm17 32zm1 12zm-11 20zm13 3zm-5 15zm-13 6zm12 2zm-8 24zm15 2zm8-93zm-7 34zm10 26zm-3 3zm2 6zm35-201zm-18 23zm23 127zm36 35zm29-41z" stroke="#6abc60"/><path d="M0 0m47 130zm20-16zm-16 2zm23 9zm-19 8zm-1 107zm31-134zm7 1zm-3 110zm9 22zm17-178zm-3 18zm-5 11zm14 3zm-3 14zm5 1zm-15 17zm9 4zm-8 4zm2 12zm-9 73zm11 26zm20-175zm1 148zm-9 9zm37-26zm10 5zm-2 28zm10 3zm18 3zm-2 163zm-11 5zm17-190zm9 8zm-7 5zm17 9zm0 62zm-5 100zm-13 4zm0 12zm21 9zm-18 0zm6 6zm37-165zm-1 9zm-22 1zm7 103zm18-131zm10 9zm-9 18zm21 2zm-5 7zm-16 73zm25-41zm2 0zm-4 1zm4 1zm2 12zm-6 1zm3 3zm-1 0zm14 53zm4 2zm-8 3zm7 0zm2 11zm-10 22zm9 31zm-5 5zm28-216zm3 11zm-21 198zm37-222zm5 3zm-7 8zm-1 5zm-6 1zm67-70zm2 2zm-11 4zm-10 195zm22 25zm14-285zm-10 250zm6 3z" stroke="#6eae61"/><path d="M0 0m47 107zm17-6zm-4 1zm-7 5zm2 2zm14 8zm-14 13zm41-65zm1 21zm-12 6zm-6 7zm14 28zm6 95zm8-152zm16 14zm-4 37zm5 10zm-16 114zm22-173zm8 114zm4 33zm20-15zm-3 6zm21 0zm1 13zm17 15zm-3 1zm-6 149zm-12 23zm12 3zm0 4zm14-198zm-3 0zm10 13zm6 3zm4 1zm-11 1zm10 3zm-10 153zm10 22zm-10 5zm28-179zm1 20zm-4 112zm40-56zm-9 31zm8 2zm3-64zm1 0zm20 88zm-8 28zm-4 8zm-1 2zm5 23zm10 15zm15-202zm-3 17zm-3 1zm-2 90zm5 72zm-7 11zm11 10zm31-223zm-2 2zm-10 1zm9 9zm-7 10zm23-46zm5 181zm4 0zm31-297zm-11 19zm11 66zm0 225zm0 5zm-20 9zm36-270zm-12 36zm0 195zm-1 1zm-2 25zm7 2zm30-316z" stroke="#779464"/><path d="M0 0m68 89zm-16 32zm23-30zm3 8zm19 15zm-3 6zm1 25zm14-75zm-2 13zm10 13zm3 3zm-4 5zm6 2zm-14 15zm-1 1zm11 8zm-16 6zm22 86zm3-150zm26 139zm15 1zm6 18zm-16 3zm40-20zm-17 9zm3 7zm-1 0zm-2 167zm29-90zm6 87zm-3 6zm13-155zm7 10zm2 148zm3 24zm17-152zm40 1zm-4 4zm-14 161zm27-180zm-4 20zm22 85zm23-120zm-15 12zm7 125zm10 2zm27-193zm-16 197zm-1 1zm31-271zm5 58zm-10 10zm-8 9zm19 171zm-1 32zm-17 4zm42-306zm-14 40zm12 27zm-15 210zm15 1zm12-263zm5 11z" stroke="#7b7f61"/><path d="M0 0m66 104zm29-5zm-17 39zm4 2zm40-71zm-16 46zm8 30zm12-38zm2 38zm44 83zm10-3zm-1 168zm34-5zm19 14zm59-125zm1 8zm-4 5zm21-27zm2 2zm10 4zm19-41zm1 155zm20-7zm11 12zm15-306zm8 58zm-2 20zm-7 9zm-5 5zm-6 2zm10 198zm7 27zm-3 11zm33-325zm-21 0zm-1 6zm11 15zm11 3zm-6 44zm-18 28zm13 202zm-8 14zm36-314zm-14 4zm5 1zm2 2zm4 35zm-4 10zm5 27zm24-84zm-13 24z" stroke="#817269"/><path d="M0 0m99 99zm5-33zm5 59zm45 86zm86 50zm77 8zm-12 8zm34-29zm12 126zm18 2zm14-280zm12 269zm-20 1zm10 5zm-8 2zm22 10zm20-334zm3 4zm-4 12zm-7 11zm-5 8zm12 0zm6 15zm-20 4zm5 26zm12 1zm-9 1zm-2 5zm1 12zm12 1zm-11 22zm19-120zm-3 17zm17 14zm-12 2zm-3 6zm13 18zm4 3zm-19 11zm0 2zm-2 14zm6 4zm7 1zm12-17zm3 8z" stroke="#836370"/><path d="M0 0m107 128zm273-45zm2 11zm6 11zm1 7zm0 7zm24-68zm-1 11zm-9 2zm3 11zm2 8zm-6 2zm19 11zm-9 3zm-5 8zm15 12zm-5 2zm2 19zm-7 27zm-10 204zm23-307zm2 6zm10 3zm-2 5zm-2 18zm8 12zm-10 0zm-5 14zm8 22zm3 0z" stroke="#835477"/><path d="M0 0m397 67zm1 13zm-16 301zm40-328zm-8 5zm-14 6zm20 27zm-12 5zm-1 7zm-7 13zm23 38zm3-96zm6 2zm12 20zm-1 21zm-4 51zm15-50zm-1 3z" stroke="#81407f"/><path d="M0 0m413 54zm10 6zm-9 56zm-2 30zm24-70zm-10 42zm13 19z" stroke="#7f3086"/><path d="M0 0m429 88zm11 13z" stroke="#7e228c"/><path d="M0 0m45 239zm7-10zm4 7zm-4 1zm7 11zm20-21zm-2 17zm15 10zm168 96z" stroke="#70b63e"/><path d="M0 0m43 232zm3 1zm21 6zm14-5zm134 53zm61 56zm17 74zm-6 10zm19 31zm71-275z" stroke="#6db949"/><path d="M0 0m56 112zm41 115zm-22 1zm15 14zm14-4zm72-33zm0 8zm3 23zm4 164zm18-179zm22 19zm-1 13zm-11 39zm-11 108zm19 6zm-13 25zm2 4zm20-195zm-1 1zm4 2zm-6 6zm24 10zm-8 15zm20 1zm-1 6zm12 19zm2 17zm-11 23zm10 1zm-20 13zm24-73zm2 39zm17 51zm-8 24zm9 7zm2 48zm-19 7zm10 5zm13-50zm2 22z" stroke="#6bbb54"/><path d="M0 0m29 128zm13 103zm30-142zm-13 20zm12 21zm-10 95zm11 20zm17-152zm-4 1zm-6 2zm-1 14zm5 18zm14 7zm-16 8zm6 77zm29-128zm4 22zm-18 20zm24-54zm6 143zm32-25zm25 188zm4 11zm-2 1zm3 12zm1 2zm-2 13zm13-194zm12 59zm-11 8zm13 4zm1 0zm-13 1zm13 96zm-14 7zm11 28zm3 2zm11-161zm7 13zm-1 80zm10 3zm-6 2zm-5 46zm-3 6zm-6 6zm44-117zm3-37zm0 5zm8 16zm11 82zm-4 15zm-1 21zm3 6zm5 15zm-19 5zm11 21zm19-45zm-3 22zm4 9zm-5 8zm-3 2zm2 5zm42-246zm0 18zm-12 5zm45-48zm9 209zm21-38z" stroke="#6abc60"/><path d="M0 0m49 234zm25-138zm-7 8zm-7 15zm13 14zm-9 89zm22-146zm7 12zm-14 15zm1 12zm17 33zm24-103zm-5 27zm-16 27zm16 0zm-10 61zm18 62zm-7 17zm18-165zm-9 29zm2 10zm-2 21zm22 83zm-16 4zm42-13zm-15 0zm2 13zm-10 2zm11 2zm6 9zm9-30zm11 7zm-5 8zm7 12zm-8 0zm10 2zm-3 4zm6 142zm4 27zm-1 1zm-6 8zm-2 8zm19-183zm2 59zm10 110zm-2 1zm-10 1zm-7 18zm18 7zm-11 2zm8 1zm26-196zm-13 18zm3 1zm0 1zm-6 5zm4 7zm6 4zm11 85zm-1 5zm-12 5zm5 15zm-2 2zm-8 2zm1 4zm11 3zm-13 33zm22-164zm22 5zm-17 1zm7 4zm8 57zm16-53zm-9 47zm7 74zm9 25zm-1 7zm-4 10zm-6 6zm-2 2zm-2 22zm42-235zm-8 16zm-8 107zm7 59zm-12 0zm17 23zm26-221zm-7 9zm-2 2zm-5 7zm-3 28zm36 121zm6 17zm16-231zm4 4zm-3 232zm46-16z" stroke="#6eae61"/><path d="M0 0m62 94zm-10 11zm8 15zm13 2zm-18 5zm43-63zm-8 23zm-12 0zm-3 14zm15 9zm-2 8zm11 24zm25-61zm-20 21zm1 11zm7 9zm6 8zm-14 6zm-2 91zm8 15zm25-166zm-7 27zm14 126zm12-24zm-2 21zm0 2zm13 6zm12-10zm14 2zm7 156zm-6 17zm1 4zm0 14zm24-7zm-15 2zm16 4zm-11 1zm-4 6zm1 2zm44-181zm-11 14zm2 119zm-1 13zm-4 2zm1 3zm-5 14zm4 12zm16-162zm15 78zm24-55zm-8 16zm-5 36zm23 52zm-9 50zm3 17zm6 7zm6-224zm14 22zm-19 12zm11 2zm4 1zm28-46zm-10 13zm-1 18zm2 108zm1 3zm38 6zm16-194zm10 193zm-4 14zm-19 2zm20 10zm-16 3zm19 7zm-4 4zm6-276zm5 14zm4 7zm-7 3zm3 9zm-4 2zm0 4zm-2 1zm9 192zm-6 25zm-3 8z" stroke="#779464"/><path d="M0 0m73 125zm-13 108zm33-140zm-14 18zm6 2zm5 28zm-1 0zm34-67zm-7 1zm-7 12zm3 4zm9 22zm-3 12zm-10 5zm9 16zm5 19zm-5 72zm12-171zm-1 4zm-1 10zm-2 14zm36 110zm-2 13zm8 8zm10 3zm5 4zm8 4zm0 155zm-3 8zm2 2zm7 7zm-10 8zm8 3zm18-164zm-10 128zm11 1zm-4 33zm15 9zm12-167zm-7 8zm-4 143zm37-123zm36-3zm-19 20zm5 107zm33-154zm-3 9zm3 2zm-12 89zm33-130zm-7 23zm7 3zm-5 2zm6 5zm-10 116zm41-4zm-3 14zm-4 1zm8 10zm16-230zm9 7zm-13 0zm11 4zm-14 194zm9 4zm-14 2zm1 27zm37-308zm6 38zm-18 30zm-1 0zm29-87zm-3 55zm3 22zm23-38zm6 3zm-6 9z" stroke="#7b7f61"/><path d="M0 0m78 87zm15 39zm-11 0zm5 3zm36-61zm-12 49zm-11 18zm19 4zm-13 18zm8 3zm1 0zm-10 0zm35 15zm0 5zm30 25zm19 196zm9 27zm31-175zm3 16zm31 18zm36-23zm25 3zm-5 96zm9-126zm-1 18zm3 110zm4 4zm29 4zm4 17zm12-14zm23-335zm-2 6zm7 16zm8 42zm-3 6zm8 14zm-6 1zm10 2zm-23 30zm5 2zm8 13zm-13 206zm1 4zm45-285zm-9 3zm7 1zm-16 43zm0 9zm9 4zm24-42zm-12 19z" stroke="#817269"/><path d="M0 0m103 125zm0 8zm15 31zm69 69zm41 37zm58 143zm5 25zm83-63zm25-304zm-14 1zm2 0zm10 12zm-17 5zm12 14zm-7 260zm12 28zm1 6zm4-354zm19 3zm1 4zm-6 19zm2 3zm-1 16zm0 2zm-13 3zm14 0zm-13 12zm13 2zm1 2zm-5 51zm-4 221zm21-323zm-4 5zm14 7zm-8 13zm1 3zm-4 2zm-3 8zm21 1zm-15 22zm9 5zm0 4zm-13 8zm3 8zm-3 13zm-1 0zm15 9zm16-43z" stroke="#836370"/><path d="M0 0m399 71zm-4 21zm-9 6zm10 21zm3 41zm-5 205zm24-321zm-4 17zm8 2zm-7 1zm-11 8zm10 9zm-2 5zm-5 25zm4 6zm-2 4zm-4 12zm1 2zm14 7z" stroke="#835477"/><path d="M0 0m398 63zm-2 47zm7-76zm6 3zm3 2zm9 14zm-20 8zm9 73zm24-74zm2 4zm0 79zm22-22z" stroke="#81407f"/><path d="M0 0m394 85zm8-36zm28 77z" stroke="#7f3086"/><path d="M0 0m410 38zm-5 55z" stroke="#7e228c"/><path d="M0 0m66 217zm-4 3zm5 2zm-4 12zm-10 4zm20 4zm-13 2zm35-4zm-16 5zm-1 2zm2 7zm203 62z" stroke="#70b63e"/><path d="M0 0m46 229zm-2 7zm-2 5zm31 3zm9-14zm-6 11zm31-7zm-7 2zm11 10zm103-21zm-11 195zm64-80zm14-15zm16 60zm2 75z" stroke="#6db949"/><path d="M0 0m34 125zm8 110zm1 6zm18-146zm-6 127zm-4 16zm4 4zm3 1zm-2 1zm34-156zm0 0zm-14 26zm6 21zm-5 91zm21 15zm-18 1zm34-128zm-10 1zm24 114zm0 3zm60-23zm-9 1zm8 8zm-2 175zm0 19zm10 4zm10-186zm0 5zm8 63zm-5 125zm0 12zm24-164zm3 16zm4 95zm35-70zm-6 19zm-18 42zm25-58zm9 27zm10 48zm0 16zm-6 38zm16-26zm11 18zm26-203zm-1 144zm53 9zm-14 29z" stroke="#6bbb54"/><path d="M0 0m49 106zm-16 19zm-1 1zm22-26zm5 7zm9 15zm-8 107zm14 24zm8-174zm-7 19zm18 12zm-9 132zm13 1zm-1 2zm1 10zm11-181zm13 6zm-14 142zm14 13zm-4 1zm-14 7zm41-32zm20-8zm22 27zm11 10zm-10 151zm-1 12zm-8 7zm28-173zm14 46zm-3 16zm-3 6zm-5 128zm24-203zm-6 1zm0 16zm3 2zm7 23zm7 3zm0 108zm13-128zm-3 25zm20 0zm-1 49zm-21 29zm27-55zm-2 6zm-2 38zm18 45zm-14 23zm20 13zm-15 1zm15 3zm-14 21zm14 12zm1-60zm1 30zm0 8zm13 15zm20-217zm7 142zm26-193zm16-18z" stroke="#6abc60"/><path d="M0 0m48 123zm-8 11zm34-40zm-7 3zm-12 13zm-5 1zm24 6zm-8 1zm-16 5zm43-43zm-6 3zm11 14zm-14 1zm-5 12zm11 10zm-1 2zm0 14zm-3 6zm4 90zm31-152zm-10 17zm2 34zm-12 13zm18 7zm5 81zm9-143zm-7 28zm18 101zm-9 9zm16-25zm15 20zm-6 1zm12 4zm25-3zm-8 13zm2 145zm-7 9zm13 1zm0 10zm2 15zm3-196zm1 1zm21 66zm-1 10zm-19 88zm6 2zm-5 3zm6 10zm12 3zm1 12zm-20 9zm25-184zm19 9zm-1 9zm-2 7zm1 18zm-7 105zm-11 6zm12 6zm-15 3zm0 19zm9 0zm19-151zm20 33zm-3 34zm-11 8zm-9 27zm25-83zm5 37zm18 66zm-18 26zm19 4zm-10 10zm-1 1zm-3 23zm8 24zm27-235zm-3 196zm-6 1zm20-214zm9 1zm-6 24zm-7 6zm25 119zm8 1zm14 10zm5-217zm-4 7zm5 7zm11 193zm1 18zm11-31zm6 26z" stroke="#6eae61"/><path d="M0 0m65 111zm-1 7zm10 5zm15-18zm5 16zm-6 6zm-2 90zm10 28zm4-180zm20 14zm-15 4zm11 26zm-1 9zm2 29zm-10 5zm23-84zm-3 36zm-1 2zm6 52zm11 21zm-5 2zm23 25zm-9 1zm1 21zm37 4zm0 8zm13-10zm6 75zm11 85zm4 2zm-13 8zm3 7zm-8 4zm-6 6zm32-144zm13 6zm-17 5zm5 8zm8 90zm-7 2zm-4 3zm9 0zm-7 7zm3 16zm2 1zm-5 5zm3 10zm16-153zm11 9zm6 47zm8-26zm14 90zm3 1zm28-25zm-8 83zm27-222zm-4 27zm6 114zm-8 6zm29 2zm-4 8zm15 5zm-3 20zm18-245zm-7 11zm0 2zm8 2zm6 0zm-9 8zm5 188zm-7 22zm20-274zm13 40zm-1 218zm-14 7zm31-264z" stroke="#779464"/><path d="M0 0m61 113zm37-46zm-4 26zm-7 13zm12 1zm-8 3zm-12 8zm-3 7zm20 14zm16-49zm1 16zm5 4zm-15 5zm11 1zm5 9zm2 26zm1 2zm-16 3zm10 1zm6 1zm6-1zm2 3zm13 24zm23 21zm-3 8zm-9 12zm11 5zm29 158zm25-3zm-11 20zm7 8zm14-167zm11 2zm-11 151zm-2 19zm94-158zm-17 20zm18 88zm13-144zm11 1zm-9 9zm-6 5zm17 137zm3-3zm10 11zm-6 5zm11 2zm16-298zm7 15zm6 4zm-13 56zm9 9zm-5 9zm3 179zm-1 1zm-1 15zm-6 23zm2 5zm3 7zm32-326zm-10 32zm5 8zm7 9zm-15 1zm-2 24zm-3 203zm5 9zm9 3zm22-281zm13 15zm-5 13zm-8 15zm4 2zm-11 1zm8 10zm-5 4z" stroke="#7b7f61"/><path d="M0 0m55 115zm43-43zm-9 20zm8 19zm-13 15zm11 15zm15-50zm4 42zm-2 12zm13-77zm3 86zm-3 9zm13 14zm18 40zm10 13zm48-2zm-1 154zm9 10zm6 36zm70-146zm24-33zm-17 24zm11 86zm26 11zm9 10zm16 10zm29-316zm-18 17zm9 1zm-4 14zm15 41zm-6 20zm0 19zm-8 195zm3 6zm1 13zm32-349zm-17 2zm15 20zm-15 4zm17 17zm-4 37zm0 9zm-12 6zm10 6zm2 3zm0 18zm11-107zm10 6zm10 25zm-20 3zm5 8zm4 5zm-5 7zm17 20zm-15 23zm19-53zm9 4z" stroke="#817269"/><path d="M0 0m96 82zm-11 41zm33 12zm-1 6zm-12 1zm20 20zm3 1zm170 105zm99-217zm-14 50zm13 1zm-1 48zm0 1zm-2 9zm5 4zm-4 8zm24-132zm6 19zm0 16zm-19 43zm0 4zm17 7zm-15 1zm-4 14zm14 6zm-1 0zm-4 19zm1 2zm-11 195zm30-311zm-2 31zm11 16zm-13 6zm21 2zm-7 11zm-3 27zm14-63zm8 21zm0 21z" stroke="#836370"/><path d="M0 0m370 395zm28-293zm8-71zm-2 8zm11 2zm-12 0zm21 6zm-16 45zm16 0zm-4 7zm2 1zm-12 9zm13 21zm-2 15zm-17 9zm30-61zm-6 2zm4 10zm7 30zm1 10zm-1 12zm25-56z" stroke="#835477"/><path d="M0 0m128 154zm242 247zm34-368zm5 7zm-5 14zm13 3zm-11 24zm10 2zm-15 49zm21 3zm6-86zm13 21zm1 21zm4 19z" stroke="#81407f"/><path d="M0 0m418 41zm-16 72zm5 14zm33-47zm-5 75z" stroke="#7f3086"/><path d="M0 0m406 88zm30-17z" stroke="#7e228c"/><path d="M0 0m72 221zm-22 27zm30-22zm15 4zm186 187z" stroke="#70b63e"/><path d="M0 0m42 123zm6 120zm17-124zm-4 111zm11 6zm-17 4zm0 1zm17 3zm0 5zm-8 1zm15-128zm9 101zm-2 28zm15-26zm14 8zm-8 1zm4 13zm50-38zm24 179zm-5 9zm33-159zm7 68zm9-63zm-3 55zm58 108zm-1 29zm31-74zm17-121z" stroke="#6db949"/><path d="M0 0m42 115zm4 5zm7 13zm1 92zm5 15zm40-125zm-5 114zm-3 2zm-8 1zm5 5zm9 3zm-22 10zm15 5zm11-34zm0 26zm-1 7zm39-37zm-13 7zm15 6zm41 167zm11 7zm3 22zm7-187zm21 51zm-4 134zm-7 14zm28-203zm2 14zm-9 24zm12 105zm12-103zm6 70zm18-22zm16 64zm-4 28zm-1 19zm0 7zm0 10zm15-10zm-8 5zm40-201zm-3 6zm-8 8zm17 114zm33-185zm-4 185z" stroke="#6bbb54"/><path d="M0 0m71 95zm-20 37zm4 118zm28-171zm13 2zm1 20zm-17 39zm-3 79zm8 4zm0 0zm13 6zm-7 13zm-2 3zm30-171zm-15 8zm15 58zm1 96zm7-142zm14 121zm4 1zm25-10zm-10 5zm35 16zm4 9zm0 8zm0 190zm4-214zm14 17zm0 1zm7 47zm-3 7zm-15 4zm-3 125zm1 10zm17 3zm22-187zm2 34zm-14 4zm2 100zm-7 7zm1 12zm43-128zm0 56zm1 19zm14-68zm-2 1zm-2 52zm9 57zm2 10zm-9 20zm-3 17zm9 2zm24-80zm-4 67zm-7 4zm2 3zm1 17zm36-215zm8 136zm19-181zm14-19zm8 232zm-7 6z" stroke="#6abc60"/><path d="M0 0m36 123zm13 11zm-14 0zm38-45zm-5 4zm-8 18zm-1 4zm34-49zm-1 1zm5 0zm-14 40zm-8 2zm14 31zm-6 3zm9 74zm-5 11zm7 19zm9-177zm-3 6zm1 3zm-1 9zm15 11zm-13 15zm4 13zm-1 12zm-2 4zm19 86zm-2 1zm-6 2zm16-165zm-2 3zm16 153zm-15 2zm0 6zm23-25zm21 3zm0 16zm-3 1zm-1 4zm3 1zm3 2zm43 5zm-17 4zm16 2zm-3 4zm-9 1zm18 42zm-8 7zm6 97zm21-152zm-10 4zm8 3zm0 14zm-10 5zm3 5zm-2 1zm-2 19zm15 87zm-13 2zm0 17zm28-142zm-3 6zm3 18zm8 49zm-5 20zm-12 4zm49-72zm-15 4zm-9 48zm24 28zm-7 46zm2 2zm-6 18zm-9 6zm19 4zm-9 16zm0 1zm17-184zm9 162zm1 12zm57-37zm24-36zm-3 2zm11-201z" stroke="#6eae61"/><path d="M0 0m38 130zm17-5zm31-42zm8 28zm-15 7zm-3 5zm5 2zm12 3zm6 13zm-10 3zm1 0zm30-15zm-15 6zm7 6zm5 8zm10 4zm56 76zm15 5zm-1 1zm-6 150zm-16 19zm5 0zm34-169zm-14 7zm19 47zm-19 110zm22 8zm-8 3zm-5 14zm5 1zm-12 0zm22 10zm2-200zm10 33zm12 91zm-8 30zm-7 5zm6 11zm-2 3zm26-148zm4 8zm21 12zm-12 2zm0 13zm4 22zm-2 3zm1 18zm-4 5zm20 44zm-1 56zm-7 15zm33-186zm16-35zm4 126zm-1 8zm-12 1zm1 1zm46-181zm-11 193zm7 14zm21-275zm5 39zm-4 18zm-10 1zm5 8zm4 180zm-2 28zm8 11zm19-314zm6 10zm-14 258zm26-207z" stroke="#779464"/><path d="M0 0m73 102zm-7 1zm-13 32zm19 3zm24-70zm-2 3zm-2 4zm0 1zm0 4zm3 1zm-18 39zm21 3zm-4 26zm9-80zm19 6zm-5 6zm-7 14zm1 1zm-6 1zm5 1zm11 13zm-9 6zm-12 17zm24 98zm5-162zm6 95zm-2 4zm-6 9zm16 32zm-9 16zm47 12zm6 182zm29 0zm-7 11zm33-179zm-2 14zm-4 6zm-2 15zm-8 112zm7 31zm24-177zm13 81zm25-54zm-17 28zm16 115zm29-154zm-7 2zm-12 6zm-2 3zm-2 181zm45-230zm-6 11zm-12 3zm10 6zm-3 121zm37-178zm3 175zm7-285zm8 28zm3 3zm-3 54zm2 195zm-16 3zm19 6zm3 22zm-18 9zm9 2zm10 5zm-21 4zm31-362zm0 18zm6 67zm-6 15zm6 17zm-7 199zm4 16zm22-293zm9 38zm-16 5zm16 11zm-14 3zm0 12zm5 218z" stroke="#7b7f61"/><path d="M0 0m72 122zm9-37zm-2 37zm5 10zm17-37zm1 5zm12 28zm1 4zm-7 15zm5 7zm19-84zm0 90zm36 52zm20 22zm5 2zm0 143zm12-130zm29 171zm22-69zm39 77zm16-151zm-10 6zm32-29zm9 128zm28-4zm-13 11zm17 23zm15-338zm-9 14zm8 3zm-5 5zm5 22zm4 33zm7 2zm-7 5zm5 3zm-11 32zm4 179zm-12 3zm20 1zm-6 38zm-14 2zm22-338zm2 26zm10 5zm2 2zm-9 7zm9 3zm-5 4zm-9 6zm24 7zm-11 8zm-2 246zm14-320zm18 37zm-18 26zm30-45zm3 40z" stroke="#817269"/><path d="M0 0m111 64zm9 1zm-11 45zm10 44zm12-4zm82 254zm148-31zm11 22zm24-336zm-7 24zm-1 30zm7 22zm-6 233zm-12 8zm41-311zm-18 3zm15 7zm-11 6zm8 5zm-12 2zm24 4zm-18 3zm3 2zm-8 1zm12 2zm-8 3zm16 6zm-9 27zm-2 3zm0 14zm3 16zm3 215zm18-323zm-1 4zm-4 10zm-1 7zm12 6zm-5 6zm10 1zm-7 3zm-5 51zm24-63zm-5 4zm-1 10zm7 17zm-2 4zm-3 1z" stroke="#836370"/><path d="M0 0m121 147zm14 22zm260-111zm-6 16zm-6 26zm19-63zm18 3zm-16 2zm-1 15zm13 34zm13-42zm-1 32zm15 15zm8 4zm-1 8zm7 18zm-6 5z" stroke="#835477"/><path d="M0 0m127 163zm268-81zm2 20zm24-57zm3 16zm-14 25zm1 3zm-6 9zm-2 25zm18 38zm25-82zm-10 54zm7 2z" stroke="#81407f"/><path d="M0 0m416 38zm-6 14zm15 9zm17 57zm8-26zm2 1z" stroke="#7f3086"/><path d="M0 0m411 85z" stroke="#7e228c"/></g><g font-size="3.10" stroke="#000" stroke-width="0.09"><text x="182.90" y="135.00" text-anchor="middle">−1.0</text><text x="166.00" y="123.82" text-anchor="end">−1.0</text><text x="201.67" y="135.00" text-anchor="middle">−0.5</text><text x="166.00" y="102.52" text-anchor="end">−0.5</text><text x="220.45" y="135.00" text-anchor="middle">0.0</text><text x="166.00" y="81.22" text-anchor="end">0.0</text><text x="239.22" y="135.00" text-anchor="middle">0.5</text><text x="166.00" y="59.92" text-anchor="end">0.5</text><text x="258.00" y="135.00" text-anchor="middle">1.0</text><text x="166.00" y="38.62" text-anchor="end">1.0</text></g><text x="216.20" y="139.00" text-anchor="middle" font-size="3.25">Dimension 1</text><text transform="translate(159.20 80.10) rotate(-90)" text-anchor="middle" font-size="3.25">Dimension 2</text><text x="166.80" y="28.30" font-size="5.00">SBP(mm of Hg)</text><rect x="267.20" y="55.60" width="11.00" height="59.10" fill="url(#cg)"/><path d="M267.20 65.10h2.20M278.20 65.10h-2.20M267.20 74.90h2.20M278.20 74.90h-2.20M267.20 84.80h2.20M278.20 84.80h-2.20M267.20 94.60h2.20M278.20 94.60h-2.20M267.20 104.50h2.20M278.20 104.50h-2.20" stroke="#fff" stroke-width="0.55" fill="none"/><g font-size="4.50"><text x="280.90" y="66.72">180</text><text x="280.90" y="76.52">160</text><text x="280.90" y="86.42">140</text><text x="280.90" y="96.22">120</text><text x="280.90" y="106.12">100</text></g><text x="267.60" y="52.00" font-size="4.90">SBP</text></g>
<g><path d="M321.86 30.00V130.20M340.74 30.00V130.20M316.20 112.05H413.50M359.61 30.00V130.20M316.20 90.75H413.50M378.49 30.00V130.20M316.20 69.45H413.50M397.36 30.00V130.20M316.20 48.15H413.50" stroke="#e3e3e3" stroke-width="0.85" fill="none"/><path d="M331.30 30.00V130.20M316.20 122.70H413.50M350.18 30.00V130.20M316.20 101.40H413.50M369.05 30.00V130.20M316.20 80.10H413.50M387.93 30.00V130.20M316.20 58.80H413.50M406.80 30.00V130.20M316.20 37.50H413.50" stroke="#e3e3e3" stroke-width="1.10" fill="none"/><g transform="translate(316 30) scale(0.2)" fill="none" stroke-linecap="round" stroke-width="13.0"><path d="M0 0m152 212zm80 175z" stroke="#70b63e"/><path d="M0 0m64 219zm-11 7zm-2 8zm0 12zm40-27zm-12 21zm3 3zm16 5zm-20 5zm22-23zm91 173zm20-172zm85 190zm33-159zm52-92zm0 9zm3 8z" stroke="#6db949"/><path d="M0 0m43 122zm5 6zm20 84zm-12 5zm13 8zm0 2zm4 1zm-21 3zm13 11zm9 4zm6-154zm4 129zm-6 12zm13 12zm10-22zm16 1zm-11 16zm22-162zm5 148zm36-25zm-8 2zm-9 3zm1 18zm13 4zm17-5zm13 158zm16-79zm1 2zm-8 2zm-1 76zm13 16zm7 31zm-13 5zm22-173zm0 136zm2 3zm37-51zm24 49zm7 11zm-2 6zm11 12zm2 8zm-12 5zm1 18zm0 5zm28-215zm42-60zm33-21zm-6 1z" stroke="#6bbb54"/><path d="M0 0m45 135zm18 83zm1 6zm-13 5zm5 17zm38-172zm-14 156zm7 13zm-6 1zm25-170zm15 3zm-13 27zm-6 143zm25-173zm12 143zm4 5zm4 2zm14-12zm-9 2zm0 3zm41 183zm8-166zm5 5zm13 25zm-1 29zm-17 8zm10 9zm6 77zm0 3zm3 21zm-17 13zm-1 4zm11 11zm17-177zm15 97zm4 6zm-11 11zm-2 25zm55-24zm-5 22zm-5 4zm14 18zm-10 23zm11 13zm27-192zm-11 7zm-3 155zm8 52zm73-312zm-2 9zm-7 5zm-5 7zm14 185zm-2 1zm-6 22zm9 7zm3 1zm-2 1zm21-253zm-2 216zm-5 4zm-4 4zm35-217zm13-17z" stroke="#6abc60"/><path d="M0 0m32 126zm10 106zm28-139zm0 14zm-18 6zm5 4zm17 1zm-14 4zm13 16zm-9 112zm27-178zm2 5zm3 13zm-12 2zm7 10zm-5 44zm-2 85zm9 7zm-3 7zm-3 2zm33-168zm-17 1zm13 7zm-3 12zm-8 15zm-4 9zm15 38zm-7 68zm18-53zm4 45zm32-24zm-6 15zm-3 5zm-4 7zm7 1zm8 3zm-7 7zm16 3zm10-5zm11 13zm4 1zm0 142zm-9 24zm27-181zm-7 22zm10 33zm-8 1zm5 8zm-14 2zm3 94zm18 10zm-18 14zm18 2zm7-184zm12 18zm-18 36zm15 83zm-9 13zm0 11zm-6 11zm43-137zm-3 1zm-5 2zm12 72zm-3 2zm-4 4zm30-69zm-15 13zm-2 35zm3 19zm14 29zm-8 11zm5 17zm1 1zm-4 2zm-5 5zm-2 7zm14 13zm-20 1zm3 15zm19 16zm26-226zm-20 25zm20 3zm-17 8zm-3 84zm1 2zm-1 82zm-1 1zm39-224zm-6 13zm3 20zm-12 4zm7 1zm-6 5zm17 113zm26-187zm-15 190zm9 20zm-3 0zm37-310zm-9 62zm-6 14zm-1 9zm13 6zm3 207zm-18 12zm-4 3zm30-360zm11 76zm1 52zm-17 203zm29-223zm22-32z" stroke="#6eae61"/><path d="M0 0m42 118zm5 5zm24-35zm-2 14zm4 1zm-3 34zm25-69zm-10 5zm-2 7zm7 13zm-13 21zm4 1zm-3 15zm16 1zm-15 2zm19 6zm-8 4zm3 0zm4 104zm17-180zm3 4zm-4 22zm-13 7zm2 1zm21 2zm1 5zm-21 1zm8 3zm-7 7zm0 3zm0 7zm11 3zm-3 15zm-4 12zm27-91zm-3 9zm-1 102zm21 24zm11 22zm23-12zm-1 18zm11 17zm2 156zm3-159zm9 3zm7 39zm-5 2zm10 12zm-4 88zm-7 12zm2 20zm-11 11zm35-194zm8 6zm-15 1zm6 28zm0 101zm-9 12zm3 9zm22-142zm1 15zm19 34zm-4 43zm-8 1zm-3 4zm34-74zm-8 9zm-6 37zm5 16zm-5 5zm5 2zm6 41zm11 3zm0 22zm-15 16zm9 12zm-10 5zm0 1zm6 6zm-10 3zm4 1zm3 6zm21-193zm-4 11zm-1 3zm4 79zm13 7zm29-146zm-10 24zm-5 1zm-7 14zm7 103zm-7 7zm17 2zm-4 0zm3 4zm7 0zm-10 4zm11-4zm2 6zm40-274zm-3 69zm1 1zm-12 181zm-2 17zm2 8zm4 29zm41-358zm-16 9zm5 1zm4 1zm8 50zm-20 14zm-4 18zm24 4zm-18 3zm-2 10zm3 208zm5 15zm16-328zm20 37zm-6 7zm-5 6zm12 16zm-21 11zm8 4zm-9 18zm31-47zm-2 10z" stroke="#779464"/><path d="M0 0m67 120zm17-46zm-1 7zm11 20zm-15 3zm13 11zm-1 0zm19-17zm10 11zm-19 3zm16 14zm-16 5zm23 11zm-17 14zm17 1zm-8 2zm2 8zm13-92zm-3 24zm2 80zm51 30zm26 20zm16 8zm-14 14zm-8 135zm42-144zm-14 9zm29 9zm35 24zm-4 113zm-10 58zm44-213zm20-4zm-18 2zm15 127zm-7 2zm15 12zm18-3zm-14 8zm9 11zm36-337zm-18 27zm5 0zm-3 18zm1 3zm6 7zm-1 2zm-3 243zm-4 3zm4 8zm-9 23zm22 4zm-14 5zm13 9zm-5 4zm3 16zm17-375zm-5 24zm15 6zm-6 15zm-3 5zm7 10zm2 5zm-15 1zm5 8zm5 0zm-8 21zm-4 219zm24-301zm-3 2zm14 2zm-6 2zm14 11zm2 2zm-24 2zm20 2zm3 13zm-12 37zm-8 0zm33-21zm-4 6z" stroke="#7b7f61"/><path d="M0 0m60 118zm28-41zm10 28zm0 27zm14-42zm10 43zm53 85zm84 54zm67-20zm13 126zm23 6zm6 4zm-7 11zm32-303zm-3 9zm-6 0zm1 6zm11 272zm-2 23zm21-349zm-14 3zm8 1zm12 4zm-1 15zm-17 7zm3 7zm0 28zm5 10zm-11 3zm0 21zm12 237zm34-299zm-20 9zm1 8zm7 0zm0 3zm6 6zm0 3zm5 8zm-18 4zm19 3zm-18 16zm-2 9zm29-33zm-5 1z" stroke="#817269"/><path d="M0 0m132 73zm135 201zm24 141zm108-342zm-15 10zm1 25zm9 17zm-14 266zm23-354zm7 11zm-2 69zm2 9zm-10 7zm12 8zm13-83zm1 57zm2 15zm24 1z" stroke="#836370"/><path d="M0 0m409 53zm21-4z" stroke="#835477"/><path d="M0 0m390 114z" stroke="#81407f"/><path d="M0 0m49 219zm13 13zm-2 8z" stroke="#70b63e"/><path d="M0 0m44 107zm0 137zm1 1zm-8 5zm33-25zm-19 15zm11 2zm29 5zm82-20zm22 11zm-8 176zm23 18zm79-44zm-6 23zm98-237z" stroke="#6db949"/><path d="M0 0m48 121zm0 112zm17-144zm-4 12zm2 127zm-2 6zm-10 0zm29 1zm9 14zm9 1zm-8 6zm29-150zm-16 9zm11 109zm9 2zm-11 4zm19-13zm8 2zm59 1zm-11 168zm6 14zm-7 16zm14-198zm18 19zm1 62zm3 110zm-12 28zm37-70zm-13 17zm17-31zm42 18zm1 31zm-11 1zm8 18zm-9 32zm21-178zm6 152zm63-240z" stroke="#6bbb54"/><path d="M0 0m52 123zm0 10zm21 83zm-19 5zm9 3zm-1 5zm5 5zm3 16zm23-185zm3 26zm0 8zm-7 8zm-13 106zm10 4zm13 1zm-20 10zm16 11zm0 15zm24-185zm-15 14zm16 1zm-2 9zm-4 3zm-1 8zm2 26zm-9 3zm18 86zm-2 9zm-12 16zm23-22zm27-18zm-4 17zm13 7zm3 2zm23 9zm2 4zm-14 159zm9 23zm-12 9zm20-217zm2 13zm16 7zm6 7zm-15 4zm-2 146zm3 5zm7 17zm-16 1zm21 9zm9-196zm0 24zm5 8zm12 3zm-16 109zm2 9zm1 43zm18-152zm21 44zm-13 32zm-10 5zm-1 3zm42 35zm6 5zm-11 9zm-1 24zm30-185zm-14 14zm7 3zm6 6zm-9 95zm2 69zm-5 14zm34-199zm8 136zm29-189zm23-23zm-1 10zm-14 4zm16 211zm-6 1zm0 3zm-9 16zm19-246zm-1 6zm0 194zm1 1zm34-288zm13 20zm-20 4z" stroke="#6abc60"/><path d="M0 0m48 116zm-2 125zm15-141zm-11 7zm2 2zm12 0zm0 5zm2 3zm-9 102zm35-120zm-17 0zm19 15zm5 22zm-24 2zm0 0zm22 84zm-17 2zm4 13zm9 4zm-15 2zm-1 1zm35-183zm-6 9zm11 29zm7 8zm-3 1zm-20 2zm5 15zm5 20zm10 77zm9-153zm-5 3zm0 70zm35 58zm-10 11zm18 22zm-13 0zm41-20zm-15 16zm-6 6zm3 158zm1 3zm4 11zm-8 4zm33-178zm6 3zm3 2zm-2 9zm9 30zm-4 7zm-7 104zm1 13zm9 11zm-16 11zm-3 3zm5 10zm22-172zm14 12zm-14 104zm-4 3zm4 11zm1 8zm27-144zm12 20zm0 73zm18-72zm-12 38zm2 14zm-3 4zm20 40zm-9 28zm10 5zm-19 21zm12 2zm2 14zm-4 17zm31-205zm-8 8zm-4 2zm14 2zm-13 155zm-6 16zm39-212zm1 11zm-8 5zm9 1zm-17 5zm3 7zm43 131zm-16 1zm38-229zm-18 16zm23 7zm-14 3zm9 179zm-1 1zm-17 7zm10 1zm11 9zm-19 28zm11 1zm33-263zm-11 18zm-11 206zm1 0zm6 1zm21-284zm10 11zm4 0zm-17 17zm13 19zm0 27z" stroke="#6eae61"/><path d="M0 0m44 130zm4 113zm23-118zm-19 5zm21 93zm-7 20zm28-177zm-19 13zm19 7zm-19 0zm7 6zm-6 7zm9 35zm-5 87zm24-151zm5 9zm11 28zm-15 18zm10 4zm-14 24zm11 88zm-7 4zm30-59zm27 13zm7 6zm-18 6zm15 1zm12-2zm0 26zm14 3zm17-14zm-3 13zm2 68zm-7 99zm19 19zm18-163zm9 6zm-5 12zm-1 88zm-8 35zm19-134zm20 50zm-2 10zm4 4zm-5 5zm-2 1zm-4 11zm29-72zm6 3zm-10 10zm-11 29zm-1 16zm11 11zm7 39zm0 5zm-7 46zm-12 4zm22 11zm1 4zm-1 2zm-15 5zm30-213zm12 6zm-14 11zm-6 91zm16 8zm-15 62zm8 23zm-10 24zm42-246zm-12 2zm3 3zm-1 16zm14 125zm-2 8zm10-179zm16 163zm-11 10zm5 0zm31-289zm-12 82zm8 11zm-11 191zm29-317zm-10 33zm4 16zm-3 0zm13 18zm-5 0zm0 50zm-11 200zm15 3zm-3 2zm-8 23zm33-256zm15-38zm-2 21z" stroke="#779464"/><path d="M0 0m71 91zm-14 11zm6 2zm11 25zm17-9zm-1 7zm-11 13zm22-74zm3 24zm2 31zm10 0zm-12 7zm4 17zm20-73zm-3 73zm54 80zm3 4zm27-2zm0 12zm12 1zm-4 1zm-11 180zm29-177zm14 5zm-22 4zm10 1zm9 14zm-4 97zm-4 22zm28-102zm7 33zm-3 3zm23-46zm-1 10zm-17 32zm1 24zm9 52zm-3 20zm6 5zm-4 8zm61-199zm-4 9zm-9 13zm40-58zm-10 193zm4 0zm-9 4zm39-321zm-15 27zm15 46zm-5 36zm-16 205zm6 0zm17 21zm14-351zm-1 11zm6 3zm-12 10zm-4 10zm-1 8zm17 3zm4 23zm-14 10zm13 1zm-3 10zm-8 8zm12 6zm-6 9zm-3 222zm-12 8zm29-342zm-2 17zm-1 2zm10 3zm-2 5zm9 2zm1 2zm-12 2zm8 1zm6 26zm-21 11zm8 15zm-8 1zm8 6zm5 8zm15-18z" stroke="#7b7f61"/><path d="M0 0m52 111zm35-34zm-5 29zm10 39zm2 96zm21-134zm6 24zm36 79zm21 12zm1 1zm34 170zm22-151zm3 33zm11 1zm25 11zm1 0zm68-55zm-1 151zm56-319zm-1 16zm-10 25zm0 1zm12 10zm-12 2zm0 1zm12 279zm-3 8zm25-353zm0 0zm-19 11zm21 0zm-16 19zm15 4zm-15 9zm3 3zm13 0zm-11 9zm11 3zm-13 20zm-7 5zm11 5zm-4 5zm7 9zm-11 245zm19-342zm3 30zm-2 1zm5 1zm1 6zm0 26zm-5 0zm4 20z" stroke="#817269"/><path d="M0 0m104 122zm189 335zm50-228zm-8 153zm44-299zm2 13zm6 16zm31-63zm-5 9zm-4 18zm10 15zm-13 16zm3 29zm22-76zm4 16zm7 32zm-2 0zm-13 16zm10 3zm-1 17zm17-42z" stroke="#836370"/><path d="M0 0m387 82zm-12 320zm47-342zm-17 24zm12 0zm45-4z" stroke="#835477"/><path d="M0 0m420 96zm-7 20zm19-24zm-6 19z" stroke="#81407f"/><path d="M0 0m45 234zm111-26zm30 178z" stroke="#70b63e"/><path d="M0 0m57 120zm95 85zm14 29zm25 163zm9 15zm0 17zm6 6z" stroke="#6db949"/><path d="M0 0m26 128zm14 104zm2 7zm30-11zm-15 5zm7 6zm5 6zm14-169zm4 65zm7 7zm5 79zm-21 7zm9 8zm2 12zm24-182zm-8 58zm9 107zm35-11zm-9 3zm19-25zm9 1zm12 26zm-3 5zm11 162zm10 2zm-7 3zm5 4zm11-167zm8 50zm4 119zm-4 1zm-8 1zm0 6zm11 19zm-11 2zm28-159zm11 92zm-7 2zm-7 19zm-5 17zm7 10zm-2 2zm19-67zm41 26zm-8 33zm15 10zm-7 30zm32-182zm-23 141zm6 37zm75-275zm-5 19z" stroke="#6bbb54"/><path d="M0 0m39 231zm4 2zm21-129zm-11 8zm-2 15zm35-34zm-9 22zm9 26zm-10 86zm38-152zm-8 12zm16 7zm-8 5zm-13 139zm6 4zm19-176zm20 151zm-17 4zm0 2zm44-18zm-1 3zm1 5zm-8 12zm-3 9zm19-15zm7 12zm-9 1zm7 5zm7 142zm-3 20zm-5 0zm1 2zm7 7zm-1 4zm-3 3zm3 4zm-4 4zm25-136zm-8 11zm4 1zm9 3zm1 97zm-2 7zm-15 19zm14 9zm-1 5zm11-186zm9 5zm-3 116zm5 15zm-1 1zm-8 3zm5 2zm-1 30zm-5 8zm31-152zm13 60zm26-77zm-10 18zm7 89zm-4 51zm3 7zm-14 25zm8 9zm17-227zm11 21zm-9 161zm4 5zm26-170zm-11 2zm2 121zm47 2zm25-213zm-16 13zm5 3zm-11 195zm1 27zm19 7zm-13 4zm24-44z" stroke="#6abc60"/><path d="M0 0m49 229zm0 8zm7-128zm12 21zm2 3zm-12 92zm-5 11zm21 8zm-18 4zm39-184zm-20 23zm15 1zm0 5zm0 33zm-10 2zm19 6zm-21 9zm16 84zm26-159zm0 6zm3 6zm-14 11zm7 48zm-13 18zm-1 3zm13 4zm6 58zm-7 17zm34-16zm11-2zm1 4zm-10 3zm35-17zm-10 17zm15 5zm-2 3zm-8 164zm6 1zm5 9zm-8 6zm12 12zm14-173zm0 37zm-3 11zm5 81zm12 26zm-6 0zm-2 6zm-11 1zm-4 6zm4 8zm25-188zm18 16zm-17 10zm19 0zm-23 1zm3 5zm17 89zm-10 4zm9 1zm-9 22zm-7 6zm-4 34zm48-154zm-12 2zm11 38zm-3 19zm-11 14zm41-80zm-20 28zm-4 45zm13 52zm7 7zm-12 2zm-1 7zm6 5zm3 1zm1 19zm-4 0zm9 14zm-16 2zm18 7zm20-218zm-1 17zm-9 14zm-6 162zm0 23zm33-230zm29 159zm32-226zm-10 22zm-11 1zm8 180zm9 2zm5 9zm-4 14zm2 3zm1 6zm-2 3zm9-295zm0 47zm-4 6zm13 2zm-9 11zm-3 2zm0 4zm40-53zm1 42zm19-50zm-3 7z" stroke="#6eae61"/><path d="M0 0m49 105zm22-9zm1 5zm-2 21zm-9 100zm26-135zm10 12zm-22 11zm12 0zm-2 8zm-6 8zm5 3zm10 6zm3 0zm-13 85zm34-175zm6 35zm-23 22zm17 12zm-4 32zm-3 14zm-8 0zm9 0zm8 5zm5-62zm36 95zm13 6zm25 17zm-10 5zm6 156zm-7 9zm8 15zm-6 19zm31-185zm-1 13zm-3 49zm-17 81zm5 23zm17 20zm3-185zm16 2zm-7 16zm-4 3zm0 1zm-3 4zm11 7zm-1 103zm3 23zm31-126zm-12 1zm-5 0zm6 12zm1 0zm9 13zm-7 37zm12-56zm2 49zm20 56zm-11 9zm-1 32zm4 11zm-13 4zm11 4zm-9 11zm19 3zm-8 2zm22-205zm12 10zm-8 1zm-12 96zm0 76zm13 6zm-11 12zm-4 6zm31-228zm-6 1zm5 4zm-3 2zm1 7zm1 8zm7 2zm-4 109zm41 36zm12-238zm6 11zm-13 194zm-4 18zm11 12zm13 1zm21-357zm-1 79zm-10 34zm-4 1zm-5 5zm13 8zm-6 191zm2 17zm-8 14zm29-337zm-1 30zm-3 8zm11 5zm-9 35zm-1 21zm3 241zm21-281zm6 3z" stroke="#779464"/><path d="M0 0m69 89zm-10 5zm-3 25zm14 6zm5-38zm1 9zm0 15zm6 2zm32-21zm-11 21zm6 9zm-8 14zm24-66zm7 6zm-7 37zm13 67zm19 37zm18 7zm10 9zm5 184zm14-186zm19 18zm-5 187zm7-196zm21 4zm-21 24zm5 7zm6 13zm37-6zm-12 58zm20-42zm-4 22zm0 156zm35-210zm-9 91zm14 6zm26-145zm-2 7zm0 2zm3 9zm-13 4zm0 15zm-3 110zm40 7zm-6 1zm11 2zm-11 12zm3 3zm-4 2zm9 5zm-3 12zm30-338zm-3 39zm1 9zm-1 55zm5 4zm-5 236zm26-361zm-7 8zm8 2zm-6 6zm2 3zm-4 9zm3 9zm0 3zm-10 18zm13 31zm-19 237zm1 4zm24-320zm7 20zm0 3zm15 11zm-3 5zm-15 24zm1 18zm-2 1zm0 12zm9 1zm14-29z" stroke="#7b7f61"/><path d="M0 0m76 103zm45-22zm-3 32zm-10 4zm-8 8zm16 0zm0 5zm-15 3zm31-59zm5 101zm111 84zm-21 2zm43 53zm4 20zm11-51zm11 1zm-19 20zm18 133zm39-203zm-1 132zm0 3zm38 6zm28-328zm-5 45zm-6 284zm13-342zm8 4zm-8 3zm0 8zm20 1zm-7 14zm-11 8zm8 14zm4 2zm-7 33zm14 7zm-17 7zm13 0zm-17 27zm34-98zm5 6zm-12 8zm18 20zm-14 21zm17 16zm-21 20z" stroke="#817269"/><path d="M0 0m82 94zm14 48zm27-39zm1 31zm189 139zm85-202zm-2 13zm12-47zm-7 6zm16 1zm-11 19zm8 42zm-3 6zm2 15zm-9 7zm5 1zm-9 4zm33-78zm8 68zm-13 26zm29-33z" stroke="#836370"/><path d="M0 0m397 63zm-13 9zm-5 17zm6 9zm26-59zm-9 54zm2 0zm13 14zm0 2zm-7 8zm15 16zm10 10z" stroke="#835477"/><path d="M0 0m399 61zm-13 11zm7 13zm-2 18zm21-6z" stroke="#81407f"/><path d="M0 0m57 244zm162 148zm77-110z" stroke="#70b63e"/><path d="M0 0m41 236zm11-121zm8 119zm-6 9zm87-32zm34 199zm40-111zm-2 114zm26-31zm53 24zm-15 9zm5 14zm21-156zm78-105zm9 213z" stroke="#6db949"/><path d="M0 0m46 123zm-3 106zm-5 6zm1 6zm33-143zm-8 124zm-14 16zm23 3zm2 6zm2 7zm41-19zm-4 1zm16-147zm18 113zm-23 27zm0 3zm59-14zm4 22zm-5 172zm38-114zm-16 125zm22-182zm-2 6zm8 40zm15 87zm-6 9zm-14 4zm9 0zm-10 12zm30-52zm29 88zm11 30zm77-284zm21 1zm-4 4z" stroke="#6bbb54"/><path d="M0 0m45 123zm-15 2zm17 113zm16-141zm-11 13zm19 7zm-8 100zm-10 27zm18 9zm13-147zm-1 36zm15 2zm-19 86zm8 2zm10 4zm-20 6zm16 3zm17-155zm5 20zm8 7zm-3 41zm-16 76zm-3 9zm48-36zm9-1zm-7 22zm12 2zm0 0zm28 158zm-8 15zm29-178zm10 63zm-12 10zm-3 7zm10 85zm-14 1zm6 10zm13 3zm-16 1zm6 2zm-8 4zm19 12zm-22 2zm5 10zm40-185zm-3 16zm-1 9zm-12 17zm7 97zm-11 6zm12 6zm-3 10zm-9 17zm24-156zm24 31zm-24 55zm32-16zm11 48zm-2 2zm0 2zm7 11zm-20 15zm19 4zm21-177zm-16 33zm0 138zm12 18zm1 7zm17-188zm14 121zm23 36zm19-245zm-7 5zm8 5zm-8 1zm-1 2zm-2 8zm13 190zm1 8zm-7 1zm-8 28zm38-242zm-3 206zm-5 15zm33-292z" stroke="#6abc60"/><path d="M0 0m29 126zm7 8zm4 107zm16-134zm7 11zm8 5zm-12 97zm-7 2zm22 4zm-17 3zm13 13zm-18 0zm18 2zm25-172zm-5 8zm3 2zm-2 11zm-3 17zm-12 8zm11 2zm4 1zm-6 6zm-2 90zm9 23zm3 1zm-14 1zm13 1zm-1 2zm2 10zm27-187zm-5 11zm-3 68zm2 4zm7 11zm-19 60zm17 10zm4-128zm1 53zm0 6zm15 55zm21-15zm-9 14zm4 6zm-5 2zm36 7zm-2 5zm-4 154zm2 0zm10 1zm-2 24zm4 1zm1 0zm3-196zm1 1zm0 8zm1 5zm9 147zm5 3zm-15 1zm7 2zm13 4zm0 12zm1 12zm-21 4zm25-174zm11 2zm6 31zm-17 5zm22 89zm-11 9zm-5 2zm-2 10zm3 16zm-3 6zm42-136zm-6 49zm0 2zm30-63zm-14 48zm5 118zm12 1zm0 8zm-13 1zm-3 14zm14 2zm-6 22zm30-233zm-2 11zm-5 99zm-2 93zm0 6zm21-234zm6 6zm0 3zm-5 24zm-9 4zm13 116zm20 10zm15 5zm23-228zm-5 3zm2 5zm-4 10zm-4 4zm1 4zm0 176zm4 33zm-7 1zm3 0zm20-270zm12 9zm-15 7zm8 25zm-9 197zm2 8zm22-310zm13 14zm-4 61zm4 4zm-3 9zm16-69zm8 42z" stroke="#6eae61"/><path d="M0 0m46 106zm-15 19zm31-14zm-1 7zm23-35zm3 5zm0 0zm-1 17zm4 5zm-3 12zm-5 1zm-1 3zm12 13zm-1 2zm-16 104zm42-165zm-11 11zm3 15zm13 0zm-12 8zm2 4zm-1 15zm3 2zm-12 7zm15 9zm-14 1zm4 94zm19-178zm2 90zm11 21zm1 5zm23 38zm6 5zm7-17zm7 20zm11 10zm-7 142zm-5 11zm12 9zm17-174zm-9 2zm6 170zm16-169zm3 18zm17 10zm-10 13zm14 1zm-5 11zm-19 134zm7 5zm42-108zm-3 14zm-3 10zm-3 1zm8 7zm2-38zm3 19zm10 65zm9 39zm-14 21zm38-85zm-11 76zm19-214zm10 1zm-7 146zm8 6zm11-3zm-1 0zm4 9zm11 1zm3 5zm14-294zm-4 73zm10 191zm-5 16zm-1 28zm35-368zm-12 40zm14 18zm-15 27zm2 1zm-3 27zm13 12zm-5 3zm-11 197zm16 18zm15-329zm5 17zm5 19zm5 6zm-1 13zm-10 3zm6 8zm-2 22zm-1 5zm13-38z" stroke="#779464"/><path d="M0 0m47 111zm24-17zm-13 1zm0 18zm7 9zm8 3zm24-60zm-18 14zm7 13zm9 5zm1 10zm-20 3zm18 1zm-8 25zm20-62zm13 6zm-11 17zm6 12zm-13 6zm10 1zm-1 15zm5 10zm4 12zm-6 4zm23 24zm-4 46zm28-14zm25-4zm9 15zm10 13zm14 46zm-6 22zm-5 128zm24-203zm-1 43zm3 153zm22-171zm5 27zm11 23zm1 7zm5-9zm18 82zm1 9zm2 34zm22-59zm24-144zm-9 9zm-5 5zm2 2zm34-51zm-7 194zm6 7zm4 10zm7-310zm21 11zm-15 4zm11 44zm1 1zm-8 230zm16-348zm6 7zm11 11zm-3 6zm-1 26zm7 9zm-3 2zm-19 19zm3 9zm18 7zm1 1zm-7 1zm5 4zm-16 5zm-2 4zm18 1zm-4 5zm-1 5zm20-84zm-8 24zm0 13zm4 0zm-1 12zm7 15zm-9 9zm6 11zm29-54zm-3 5z" stroke="#7b7f61"/><path d="M0 0m51 100zm44-33zm-14 31zm-2 37zm23-52zm8 62zm-7 11zm23-2zm-1 0zm11 23zm94 94zm22 9zm21 11zm6 34zm62 46zm20 8zm-2 2zm13 10zm23-340zm0 23zm-9 18zm-6 1zm13 19zm4 35zm-5 13zm7 207zm-14 49zm18-377zm11 2zm-12 12zm1 1zm20 21zm-18 13zm11 2zm-9 2zm2 17zm-2 13zm-7 10zm15 8zm0 10zm-13 14zm0 227zm33-293zm-4 7zm17 5zm0 3zm-5 13zm-10 1zm14 13zm-9 17zm-8 1zm1 5zm29-49z" stroke="#817269"/><path d="M0 0m73 114zm27 1zm16 10zm6 38zm5-3zm36 45zm178 165zm9 3zm45-271zm-15 302zm24-373zm13 9zm6 7zm0 12zm-7 14zm-14 4zm18 23zm-16 18zm36-48zm-11 16zm4 7zm-7 7z" stroke="#836370"/><path d="M0 0m387 108zm15-67zm10 89zm1 22zm14-103z" stroke="#835477"/><path d="M0 0m47 248zm22-110zm-13 102zm36-10zm12 4zm174 206zm106-247z" stroke="#70b63e"/><path d="M0 0m32 134zm37 87zm-11 9zm3 20zm26-106zm3 73zm8 4zm-21 5zm11 16zm-2 3zm37-21zm15-9zm31 16zm3 173zm59 16zm82 14zm75-265zm8 204z" stroke="#6db949"/><path d="M0 0m42 120zm32 99zm-22 21zm20 10zm6-165zm8 55zm-6 92zm5 5zm13 10zm-1 7zm22-25zm-1 7zm-10 11zm28-30zm-9 14zm58 3zm-7 4zm0 159zm13 7zm5 30zm28-42zm0 7zm-18 32zm-4 0zm9 7zm28-203zm-10 50zm19 70zm25-20zm19 80zm0 28zm29-174zm-14 160zm8 17zm23-204zm34-50zm-2 2zm45 190z" stroke="#6bbb54"/><path d="M0 0m39 123zm7 11zm16-15zm-12 16zm18 101zm1 8zm0 5zm-17 1zm46-171zm1 21zm-3 41zm-5 8zm-6 74zm-3 0zm1 28zm28-123zm-1 13zm7 89zm-5 2zm14-162zm23 136zm-9 4zm-2 20zm30-24zm3 19zm-4 5zm5 3zm24 3zm1 8zm-7 135zm-11 18zm-2 7zm7 16zm19-171zm15 43zm0 14zm1 89zm5 9zm-4 3zm-8 3zm-5 14zm11 10zm22-182zm-11 131zm2 11zm6 11zm-6 25zm26-172zm0 24zm8 49zm3 1zm0 2zm-8 17zm33-71zm-13 43zm-3 15zm11 55zm2 10zm2 20zm6 23zm-13 12zm53-213zm-12 0zm47 128zm-5 26zm23-218zm-11 1zm-3 6zm9 2zm-5 222zm30-243zm-2 216z" stroke="#6abc60"/><path d="M0 0m38 115zm-6 8zm16 9zm-3 111zm25-141zm4 18zm-5 2zm4 1zm-22 2zm-1 8zm1 92zm43-158zm-14 12zm0 28zm11 4zm-15 11zm14 6zm-10 15zm2 80zm2 5zm10 12zm6-170zm6 40zm-6 33zm5 4zm9 2zm-1 84zm16-163zm2 99zm2 0zm9 47zm0 7zm-16 2zm6 1zm38-17zm-3 17zm26 1zm2 8zm3 7zm0 157zm-4 27zm6-206zm4 76zm20 2zm-11 0zm-2 106zm1 21zm9 10zm20-186zm-13 20zm1 6zm2 12zm14 72zm-15 26zm-1 15zm6 8zm20-155zm10 15zm-12 83zm30-68zm-7 37zm3 16zm3 70zm8 3zm-9 14zm0 12zm7 7zm-1 13zm28-184zm-10 1zm13 0zm-18 8zm11 82zm-11 71zm3 20zm31-216zm5 1zm-10 2zm-4 132zm42-179zm1 185zm2 17zm2 17zm9-316zm17 57zm-17 21zm12 199zm-1 2zm4 1zm0 19zm-5 19zm-14 2zm37-341zm-4 317zm34-297zm-9 38zm-8 28zm5 218zm18-279zm8 17zm-3 4z" stroke="#6eae61"/><path d="M0 0m34 130zm36-41zm-5 4zm7 16zm-16 6zm-5 126zm32-158zm14 5zm-3 13zm2 14zm1 19zm-20 6zm21 85zm-3 4zm-7 2zm3 16zm17-183zm9 1zm-17 4zm7 26zm0 3zm11 13zm-8 6zm-7 10zm9 5zm-10 7zm22 14zm-14 1zm14 24zm-3 54zm7-165zm1 83zm29 61zm8 1zm14 17zm15 5zm-4 2zm7 6zm-15 146zm29-153zm3 3zm-14 1zm14 5zm-4 4zm-8 1zm13 40zm5 2zm-7 129zm-14 5zm40-182zm-10 4zm11 0zm-3 3zm-1 14zm-3 4zm-3 6zm12 7zm1 97zm-3 3zm-3 8zm16-125zm20 31zm-12 50zm7 6zm29-68zm-17 1zm1 3zm-6 21zm2 9zm19 46zm-4 24zm3 0zm-17 30zm14 11zm-2 6zm5 5zm-5 12zm-4 5zm40-83zm47-6zm-2 42zm27-341zm-4 93zm-5 203zm-3 4zm3 2zm-1 2zm-13 3zm0 1zm11 22zm2 8zm8 5zm-21 4zm47-323zm1 43zm-16 18zm12 8zm-16 13zm2 195zm22-320zm17 30zm-3 17zm-17 39z" stroke="#779464"/><path d="M0 0m57 111zm33-45zm0 9zm7 1zm-5 5zm7 14zm-23 23zm0 4zm19 1zm-17 2zm3 7zm5 12zm5 85zm25-155zm3 1zm-5 6zm-13 1zm23 12zm-15 2zm-7 1zm10 2zm5 30zm-15 6zm14 19zm9-84zm5 90zm59 225zm35-150zm-8 3zm6 47zm0 5zm-22 131zm18 3zm8-181zm12 23zm-7 7zm-4 21zm34-34zm-5 15zm12 1zm5 67zm13-63zm6 131zm-15 24zm14 6zm8 20zm3-184zm-2 6zm2 153zm4 5zm30-190zm0 0zm-4 3zm-4 5zm9 112zm10 3zm-6 8zm20 3zm33-327zm-6 16zm6 8zm-13 18zm6 18zm6 17zm-2 16zm-1 7zm4 5zm-7 243zm14-369zm17 3zm-9 12zm-2 19zm8 24zm-15 3zm20 11zm-9 0zm-3 16zm3 11zm2 34zm-6 193zm26-302zm-1 4zm-4 10zm-1 7zm22 10zm-17 0zm9 26zm0 12zm-9 19zm1 7zm23-70zm-2 4zm-4 10zm2 22zm5 8zm-7 1z" stroke="#7b7f61"/><path d="M0 0m63 103zm27-36zm-1 9zm4 5zm6 33zm-12 141zm30-115zm1 7zm6 16zm35 46zm56 28zm-4 1zm22 34zm41 10zm12 147zm23-152zm3 84zm31-130zm-11 141zm13 1zm28-4zm-13 4zm-4 16zm39-330zm-7 15zm11 4zm0 10zm-12 3zm1 21zm11 19zm-22 273zm19 5zm18-371zm-8 15zm-4 4zm20 4zm2 0zm0 11zm-15 17zm-4 6zm-1 3zm0 5zm16 2zm-18 18zm10 15zm11 0zm-14 1zm30-51zm-5 6zm15 14zm-7 27zm-1 11zm9-56zm1 3zm5 33z" stroke="#817269"/><path d="M0 0m93 68zm-2 3zm-2 9zm299 3zm8 19zm-5 13zm-1 9zm13-82zm17 3zm-4 20zm-7 20zm2 1zm4 5zm-3 9zm-8 18zm9 3zm-1 25zm-5 7zm20-4z" stroke="#836370"/><path d="M0 0m68 95zm65 70zm206 198zm41-279zm-1 4zm7 25zm23-27zm4 25zm14-30zm10 17z" stroke="#835477"/><path d="M0 0m402 81zm6 16zm-8 7zm42 5z" stroke="#81407f"/></g><g font-size="3.10" stroke="#000" stroke-width="0.09"><text x="331.30" y="135.00" text-anchor="middle">−1.0</text><text x="314.80" y="123.82" text-anchor="end">−1.0</text><text x="350.18" y="135.00" text-anchor="middle">−0.5</text><text x="314.80" y="102.52" text-anchor="end">−0.5</text><text x="369.05" y="135.00" text-anchor="middle">0.0</text><text x="314.80" y="81.22" text-anchor="end">0.0</text><text x="387.93" y="135.00" text-anchor="middle">0.5</text><text x="314.80" y="59.92" text-anchor="end">0.5</text><text x="406.80" y="135.00" text-anchor="middle">1.0</text><text x="314.80" y="38.62" text-anchor="end">1.0</text></g><text x="364.85" y="139.00" text-anchor="middle" font-size="3.25">Dimension 1</text><text transform="translate(308.00 80.10) rotate(-90)" text-anchor="middle" font-size="3.25">Dimension 2</text><text x="315.60" y="28.30" font-size="5.00">DBP(mm of Hg)</text><rect x="416.20" y="55.60" width="11.00" height="59.10" fill="url(#cg)"/><path d="M416.20 67.90h2.20M427.20 67.90h-2.20M416.20 79.30h2.20M427.20 79.30h-2.20M416.20 90.90h2.20M427.20 90.90h-2.20M416.20 102.30h2.20M427.20 102.30h-2.20" stroke="#fff" stroke-width="0.55" fill="none"/><g font-size="4.50"><text x="429.90" y="69.52">120</text><text x="429.90" y="80.92">100</text><text x="429.90" y="92.52">80</text><text x="429.90" y="103.92">60</text></g><text x="416.60" y="52.00" font-size="4.90">DBP</text></g>
<g><path d="M23.57 157.50V257.70M42.02 157.50V257.70M18.60 239.55H113.90M60.47 157.50V257.70M18.60 218.25H113.90M78.92 157.50V257.70M18.60 196.95H113.90M97.37 157.50V257.70M18.60 175.65H113.90" stroke="#e3e3e3" stroke-width="0.85" fill="none"/><path d="M32.80 157.50V257.70M18.60 250.20H113.90M51.25 157.50V257.70M18.60 228.90H113.90M69.70 157.50V257.70M18.60 207.60H113.90M88.15 157.50V257.70M18.60 186.30H113.90M106.60 157.50V257.70M18.60 165.00H113.90" stroke="#e3e3e3" stroke-width="1.10" fill="none"/><g transform="translate(19 158) scale(0.2)" fill="none" stroke-linecap="round" stroke-width="13.0"><path d="M0 0m44 244zm22-129zm4 13zm-10 81zm-4 12zm6 4zm5 19zm21-157zm9 25zm-7 17zm-7 87zm-4 29zm11 0zm53-44zm-5 20zm43 180zm19-172zm22 29zm-3 1zm8 115zm58 89zm57-87zm-17 2zm13 3zm31-209zm5 3zm14-141zm6 16zm-9 20zm4 15zm-13 328zm33-344zm3 39zm32 11zm-5 8zm-5 13z" stroke="#6db949"/><path d="M0 0m42 125zm6 90zm-3 14zm-1 3zm27-130zm-1 10zm-17 4zm21 124zm9-170zm-3 4zm5 0zm-10 4zm1 12zm10 8zm-3 1zm13 17zm0 4zm-3 0zm-7 9zm-8 15zm7 91zm4 9zm29-173zm-5 4zm6 1zm-11 9zm-7 10zm14 10zm-12 4zm13 31zm-9 17zm3 8zm12 11zm21 35zm10-16zm6 3zm6 18zm8 4zm-19 2zm32 156zm5 48zm28-183zm-19 8zm8 11zm-2 32zm-5 6zm0 8zm20 77zm-2 7zm-6 24zm-10 20zm31-195zm-2 8zm8 2zm9 18zm-4 79zm10-77zm16 11zm-3 9zm-8 9zm5 19zm1 7zm-6 16zm-3 2zm12 2zm4 51zm-3 45zm0 11zm24-180zm-4 3zm-1 3zm2 78zm-3 56zm-5 6zm1 0zm8 21zm-1 1zm-8 13zm40-224zm-7 30zm-5 4zm18-29zm-3 15zm2 125zm20 6zm22-301zm-6 5zm2 18zm5 2zm-3 1zm4 9zm-6 53zm8 6zm-9 186zm-13 16zm17 24zm28-337zm-13 24zm7 5zm-16 10zm0 10zm18 2zm3 14zm-11 3zm0 1zm12 6zm-4 11zm-18 15zm0 12zm17 195zm-10 24zm-2 7zm-3 0zm38-355zm-9 38zm-6 14zm11 13zm-8 3zm21 5zm-12 20zm3 8zm-7 3zm5 1zm-3 8zm22-76zm-6 19zm7 22zm8 1zm-7 3zm-5 0zm2 6z" stroke="#6bbb54"/><path d="M0 0m45 110zm-5 10zm-3 0zm-11 4zm13 8zm7 92zm-2 3zm-9 2zm29-144zm-1 5zm-3 28zm-3 99zm5 5zm10 6zm-1 2zm0 7zm2 4zm15-176zm10 7zm-3 5zm-13 14zm10 6zm3 9zm-2 23zm-3 7zm-8 5zm17 12zm-1 85zm-18 2zm2 2zm1 0zm23-177zm17 7zm-11 5zm7 19zm-14 1zm-5 4zm14 29zm-11 14zm18 32zm2 42zm3-153zm15 157zm3 0zm20 13zm33-9zm-11 19zm13 4zm-6 46zm-2 4zm15-69zm-6 15zm9 40zm-8 1zm13 0zm-6 5zm-6 10zm4 83zm-6 14zm23 0zm-9 6zm-1 22zm19-186zm10 26zm-17 133zm29-132zm11 73zm27-79zm0 97zm-15 36zm7 1zm29-145zm1 4zm-4 8zm-10 7zm13 100zm13 1zm4 1zm-5 5zm9 2zm14 18zm22-293zm4 10zm-5 245zm-5 0zm0 24zm-10 3zm14 9zm0 18zm24-372zm4 15zm-9 2zm5 5zm-14 31zm19 12zm-6 15zm-6 27zm-10 1zm14 16zm7 201zm-7 3zm2 1zm-7 16zm13 1zm0 4zm-18 14zm2 6zm32-352zm-7 5zm17 9zm-12 29zm7 10zm-9 3zm-5 1zm20 3zm-19 2zm15 21zm1 16zm-17 11zm28-65zm7 17zm-3 9z" stroke="#6abc60"/><path d="M0 0m35 115zm14 129zm14-139zm-10 15zm18 11zm-9 3zm15-64zm17 175zm49-42zm5 7zm9 15zm19-14zm25 75zm11 13zm-5 88zm22-18zm-4 2zm46 53zm-4 29zm27-188zm18-28zm15 127zm4 9zm5 1zm26-188zm0 213zm15-293zm18 18zm15-36zm-9 40z" stroke="#6eae61"/><path d="M0 0m77 72zm15 156zm31-154zm72 230zm25 89zm27-135zm17 173zm9 10zm1 18zm43-213zm4 9zm15 120zm11 21zm23-288zm-3 71zm46-112z" stroke="#779464"/><path d="M0 0m56 215zm20-137zm20 48zm9-36zm78 308zm9 24zm28-41zm-13 14zm-4 24zm22-148zm56 132zm6 6zm95-231zm-6 193zm11 2zm13-319zm32 42zm10 14z" stroke="#7b7f61"/><path d="M0 0m124 71zm-12 36zm-4 115zm87 192zm11-130zm1 103zm7 12zm47-53zm-8 2zm16 52zm8 49zm47-205zm10-24zm23-34zm10 210zm18-243zm-4 227zm20-316z" stroke="#817269"/><path d="M0 0m62 99zm46 24zm10 50zm25 41zm2 0zm48 165zm-2 5zm1 45zm24-45zm6 11zm57-121zm4 5zm10 79zm20-99zm57-175zm-1 79zm0 206zm36-291zm13 30z" stroke="#836370"/><path d="M0 0m66 101zm5 150zm23-152zm-4 4zm-14 115zm32-60zm67 71zm14 15zm0 142zm7 4zm61-124zm-1 76zm30 44zm4 52zm29-193zm9-27zm19 177zm27-23zm21-326zm-4 33zm5 51zm37-43z" stroke="#835477"/><path d="M0 0m93 110zm-8 2zm0 28zm63 92zm23-25zm-16 18zm19 6zm17 0zm43 125zm3 7zm33-27zm-3 115zm9-68zm-1 2zm1 20zm2 7zm13 44zm20-219zm56-61zm-5 198zm4 15zm16-332zm7 71zm2 36zm-14 237zm31-347zm3 78zm10 7zm9-47z" stroke="#81407f"/><path d="M0 0m72 90zm-22 25zm16 20zm-8 104zm-1 8zm29-175zm-2 41zm9 107zm15-152zm-5 20zm12 12zm-9 30zm10 24zm-16 2zm43 54zm-13 5zm22-15zm-1 9zm40 34zm-6 1zm3 158zm-8 9zm38-163zm8-13zm22 35zm0 74zm22-2zm2 69zm-2 7zm1 23zm-4 5zm13-164zm2 92zm-2 28zm10 5zm-6 23zm6 30zm20-221zm10 127zm-14 0zm-6 58zm1 9zm3 44zm35-93zm30-200zm-10 1zm32-65zm0 34zm-6 12zm-5 264zm38-356zm-5 54zm-1 8zm17-45zm8 25z" stroke="#7f3086"/><path d="M0 0m74 113zm-8 113zm10 3zm48-5zm-23 2zm33-7zm13 3zm49 14zm24-4zm-8 2zm-2 174zm-9 24zm78-57zm18 50zm-17 11zm35-175zm4 100zm42 31zm-10 4zm43-337zm-15 64zm19 27zm-11 221zm23-315zm11 53zm-9 49z" stroke="#7e228c"/><path d="M0 0m45 120zm11 102zm17 11zm29-91zm14 1zm-12 84zm87 187zm29-163zm18-5zm-11 12zm48 86zm10 109zm-1 1zm-3 1zm23-212zm17 3zm36-59zm1 2zm13 183zm-19 9zm29-316zm6 19zm-1 286zm6 2zm-1 25zm19-329zm7 14zm-10 2zm-2 10zm11 25z" stroke="#6db949"/><path d="M0 0m43 105zm2 3zm-1 130zm-3 3zm-11 7zm38-164zm0 13zm-14 1zm-4 2zm7 12zm15 106zm-7 3zm-10 5zm0 4zm-1 2zm1 7zm7 8zm23-185zm1 22zm2 12zm-7 9zm12 3zm-10 10zm14 1zm-1 7zm-19 5zm14 2zm2 17zm-17 85zm10 3zm1 13zm-5 3zm22-195zm17 8zm-9 15zm-1 23zm5 34zm6 75zm2 6zm-10 3zm-12 19zm45-35zm-5 1zm26 0zm-12 1zm16 18zm-10 1zm4 4zm19-22zm4 4zm-2 3zm12 6zm-3 12zm-14 1zm3 1zm-8 148zm6 14zm-7 17zm27-182zm5 3zm16 2zm-11 3zm-9 2zm17 18zm-13 36zm12 79zm-16 21zm5 23zm17-169zm21 3zm-10 7zm-10 10zm4 91zm-1 1zm-3 20zm32-109zm4 39zm2 0zm-7 12zm-1 8zm-6 12zm-1 2zm9 0zm13 43zm-2 20zm19-154zm5 8zm-14 8zm6 5zm5 77zm-16 45zm3 21zm7 27zm-9 12zm24-213zm29-20zm1 15zm5 129zm38-292zm-2 105zm-11 8zm1 178zm-3 15zm24-307zm10 3zm0 12zm-1 11zm6 1zm-13 8zm8 13zm3 3zm-7 4zm11 6zm-4 5zm-1 1zm-11 24zm1 12zm-5 182zm5 32zm5 2zm-6 2zm19-317zm9 5zm5 7zm7 4zm-9 7zm-8 12zm6 3zm8 22zm-13 4zm-1 5zm-6 10zm0 210zm27-294zm-1 21zm0 8zm4 2zm4 15zm3 9z" stroke="#6bbb54"/><path d="M0 0m37 104zm4 10zm-4 13zm8 4zm-3 86zm-3 21zm-2 3zm27-153zm-10 9zm14 0zm-12 9zm11 20zm1 10zm3 2zm-2 72zm-4 3zm6 12zm-15 1zm4 6zm-7 5zm6 3zm10 1zm27-174zm-17 8zm17 12zm-8 1zm-4 8zm11 17zm1 6zm2 4zm-1 0zm-19 91zm13 2zm-2 3zm-8 28zm25-154zm3 4zm2 6zm-4 16zm-1 8zm-6 16zm4 95zm37-29zm12-13zm-3 2zm18 193zm5 8zm17-182zm1 10zm6 3zm2 6zm-14 0zm1 4zm-9 172zm19 6zm0 2zm-14 3zm16 10zm12-195zm-4 1zm18 2zm-8 10zm-13 140zm38-126zm-3 8zm-4 0zm-4 4zm33 8zm4 43zm-5 2zm2 3zm-9 2zm9 4zm26-65zm-10 117zm-4 25zm19 5zm-2 3zm-4 13zm1 35zm26-217zm-16 192zm27-222zm21 149zm-14 5zm-6 2zm15 4zm-1 2zm31-284zm0 14zm-1 50zm-10 7zm-3 190zm2 15zm0 20zm2 10zm33-350zm-12 2zm3 1zm3 11zm-4 9zm9 14zm2 18zm-16 23zm-2 20zm17 12zm-15 10zm5 190zm11 5zm-14 7zm14 1zm-14 12zm20-347zm3 10zm2 5zm-7 1zm10 3zm2 21zm2 1zm-12 1zm-1 5zm6 14zm-7 10zm8 1zm2 2zm10 3zm-4 10zm-7 1zm-8 2zm14 2zm-14 14zm20 9zm6-82zm5 22z" stroke="#6abc60"/><path d="M0 0m45 106zm-3 12zm-4 125zm36-139zm-2 117zm21-157zm-7 0zm0 48zm33-43zm-18 7zm45 155zm25-4zm36 9zm17 24zm-3 139zm45 27zm31-163zm-15 120zm42-138zm-11 2zm31-46zm-15 29zm44-121zm-4 305zm18-239zm-12 235zm61-307z" stroke="#6eae61"/><path d="M0 0m58 86zm6 37zm19 121zm32-139zm-3 1zm-5 22zm-1 94zm92 23zm15 30zm-11 110zm9 38zm29-70zm-5 13zm27-81zm9 123zm22-47zm38-137zm36-53zm12 6zm40-101zm-2 13z" stroke="#779464"/><path d="M0 0m58 114zm54 15zm111 254zm-3 8zm2 9zm2 24zm36-108zm10 136zm9-177zm12 170zm57-64zm20-198zm1 185zm37-318zm6 35zm12 20z" stroke="#7b7f61"/><path d="M0 0m44 231zm53 12zm8-142zm8 118zm56 1zm30 209zm13-20zm58 51zm9-177zm18 143zm-2 4zm37-205zm-4 12zm44-134zm0 12zm16-15zm32-19zm3 54z" stroke="#817269"/><path d="M0 0m68 136zm28-56zm13 10zm4 135zm47-23zm9 18zm0 2zm-11 9zm38 161zm-3 32zm27-196zm21 44zm17 47zm14 105zm125-376zm0 4zm1 4zm-13 35zm9 42zm15-17zm-4 11z" stroke="#836370"/><path d="M0 0m63 223zm44-118zm58 304zm56-37zm15-108zm4 89zm22-38zm34-54zm12 6zm59-174zm18 277zm29-322zm23 51z" stroke="#835477"/><path d="M0 0m45 127zm-4 104zm15-130zm26 24zm34-55zm82 155zm11 56zm55 51zm13 54zm5 16zm-7 2zm52-171zm37-153zm19 4zm-5 279zm8 5zm1 1zm-2 21zm20-339zm5 5zm10 15zm-1 3zm3 66zm0 9z" stroke="#81407f"/><path d="M0 0m50 216zm48-149zm-23 23zm23 40zm-14 13zm1 96zm5 9zm21-182zm4 151zm12-34zm3 33zm38 18zm5 171zm-3 26zm27-127zm-7 98zm9 35zm18-57zm-17 16zm12 13zm-6 4zm29-148zm3 90zm17-73zm6 33zm2 122zm35-175zm-21 15zm-1 10zm7 86zm-2 15zm5 7zm-11 39zm5 8zm39-214zm1 13zm-9 11zm-5 3zm-4 12zm5 95zm60-271zm-14 282zm38-273zm-3 69zm-11 4zm1 225zm4 6zm34-346zm-5 51zm7 32zm28-63z" stroke="#7f3086"/><path d="M0 0m47 219zm21-142zm2 163zm17-3zm60-19zm3-17zm14 24zm-5 1zm10 167zm38-159zm16 146zm42-63zm6 86zm3 25zm7-58zm3 36zm-6 22zm44-197zm-3 15zm3 133zm9 2zm36-3zm27-305zm-4 9zm6 37zm0 45zm-19 231zm31-298zm17-15z" stroke="#7e228c"/><path d="M0 0m42 102zm-6 129zm18-12zm10 7zm23-164zm5 61zm-10 1zm17 116zm6-143zm42 109zm52 83zm-21 106zm19 13zm-7 19zm31-55zm-4 34zm-11 2zm21-136zm36 68zm21-58zm37-50zm26 157zm4-6zm48-321zm-10 40zm10 1zm-14 60zm7 199zm2 16zm-14 19zm25-347zm1 10zm4 0zm11 38zm-9 45zm1 12zm8 0zm20-37zm-16 7zm10 1z" stroke="#6db949"/><path d="M0 0m42 226zm25-141zm0 0zm-6 2zm7 13zm1 12zm-7 10zm10 2zm-11 4zm2 2zm8 10zm-20 82zm17 2zm-18 7zm16 11zm-4 1zm17-152zm-4 1zm4 15zm26-38zm18 2zm-3 148zm0 1zm9-43zm20 24zm-9 22zm12-27zm12 14zm7 6zm-4 17zm26-5zm-17 7zm23 62zm-14 83zm5 1zm-13 2zm3 14zm-4 1zm10 5zm0 1zm-5 3zm-2 6zm15 2zm-3 7zm27-182zm-6 7zm-3 4zm10 9zm-1 13zm0 122zm-12 9zm6 4zm9 15zm16-157zm12 11zm0 61zm-3 9zm-21 28zm1 11zm35-106zm8 15zm-10 16zm6 6zm5 92zm19 1zm24-176zm3 13zm1 8zm-12 0zm43 129zm17-14zm-8 3zm6 1zm1 27zm5 10zm27-375zm-12 8zm2 2zm-4 15zm1 8zm-5 14zm18 0zm-8 8zm-8 17zm10 24zm-5 24zm2 3zm3 9zm8 3zm-12 210zm-4 14zm2 5zm-1 7zm22-364zm1 4zm11 10zm-15 13zm10 5zm5 6zm0 2zm-16 21zm13 20zm-1 28zm17-57zm5 20z" stroke="#6bbb54"/><path d="M0 0m19 126zm30-19zm0 10zm-17 111zm1 1zm6 2zm-4 6zm17-145zm12 1zm0 6zm-8 2zm12 6zm5 18zm-2 106zm8-147zm3 7zm15 36zm-6 5zm-5 1zm3 0zm6 21zm-1 3zm1 1zm-4 66zm2 11zm-14 5zm2 11zm31-179zm-7 1zm18 1zm-10 4zm2 22zm2 1zm-8 11zm-8 8zm2 37zm4 4zm6 59zm-7 15zm0 1zm22-63zm9 41zm2 6zm2 5zm-10 1zm33-25zm-14 18zm15 7zm5 2zm-14 3zm19-22zm4 14zm-1 11zm18 3zm-2 59zm1 5zm-13 75zm-4 13zm3 6zm13 9zm-11 1zm7 16zm-10 2zm34-185zm10 17zm-8 4zm4 2zm-4 3zm-2 1zm5 8zm-17 11zm5 16zm2 96zm-2 37zm23-193zm7 16zm10 16zm-4 1zm-4 79zm-14 13zm4 33zm34-120zm2 23zm-13 34zm8 4zm5 135zm19-212zm2 6zm11 2zm-21 123zm9 64zm4 5zm30-228zm4 16zm-11 3zm-8 108zm11 1zm5 4zm-1 1zm-5 7zm16-158zm-2 9zm20 146zm24-301zm-1 94zm-11 212zm-9 12zm9 15zm-7 3zm34-375zm-1 8zm12 20zm-7 2zm-8 8zm-2 13zm-2 7zm17 20zm-16 8zm13 2zm-4 12zm5 0zm-11 26zm1 5zm2 8zm-7 215zm2 4zm-2 22zm33-277zm-8 5zm11 2zm-3 13zm19-60zm-3 6zm13 17zm1 4zm-9 11z" stroke="#6abc60"/><path d="M0 0m42 235zm21-116zm54-52zm-3 11zm-4 33zm-10 4zm7 8zm-1 21zm69 253zm6 4zm12 27zm12 4zm20-44zm25-103zm17 10zm-7 20zm18 105zm24-166zm18 109zm-17 81zm66-374zm-2 102zm-5 9zm-4 191zm15 2zm18-266zm3 48zm-4 2zm-6 18zm-5 186zm4 9zm42-304z" stroke="#6eae61"/><path d="M0 0m98 85zm-16 0zm13 25zm20-33zm-1 15zm-7 35zm55 79zm-7 16zm64 45zm-4 1zm9 121zm-9 40zm19-62zm33 85zm30-32zm21-168zm12-19zm31 155zm37-264zm6-1zm10 273z" stroke="#779464"/><path d="M0 0m93 99zm-13 40zm6 85zm24-181zm55 179zm14 8zm-3 169zm41-9zm-13 46zm71-156zm9 104zm9 32zm-14 18zm12 3zm78-261zm38-50zm-4 7z" stroke="#7b7f61"/><path d="M0 0m68 109zm-18 9zm25-44zm30 15zm6 73zm88 90zm-3 162zm18-175zm10 38zm-24 105zm4 25zm31-39zm55-7zm-8 7zm41-144zm-21 42zm60-76zm24-149zm-1 336zm29-321zm11 66z" stroke="#817269"/><path d="M0 0m76 127zm10 18zm-9 72zm35-152zm57 165zm18 167zm3 13zm-5 15zm31-174zm-8 49zm-3 114zm16 5zm4-133zm32 48zm7 105zm2 16zm19-8zm-9 12zm34-194zm62-85zm17-90zm9 68zm-12 17zm15-88zm9 6zm6 24z" stroke="#836370"/><path d="M0 0m46 233zm29-123zm2 5zm11 25zm13-51zm63 114zm-6 0zm-8 20zm28 6zm2 185zm31 9zm25-167zm11 22zm-19 92zm45-89zm-15 16zm11 153zm6-7zm43-204zm56-61zm-18 216zm24-223zm21-130z" stroke="#835477"/><path d="M0 0m49 245zm104-13zm18 166zm64-156zm29 86zm-1 4zm11 60zm-3 9zm20-167zm-16 180zm11 7zm-10 13zm14 20zm28-217zm53 163zm5-300zm17 268zm33-205z" stroke="#81407f"/><path d="M0 0m46 110zm-2 14zm25-31zm20 4zm4 34zm0 2zm-14 6zm38-76zm-1 47zm-1 22zm-7 5zm35 66zm46 16zm-14 11zm7 180zm-4 11zm17 11zm2 3zm13-197zm13 18zm-18 31zm17 106zm-14 14zm15 10zm-15 16zm27-71zm24-90zm2 2zm11 136zm1 14zm26-160zm-9 91zm-11 22zm4 23zm-4 14zm1 12zm-4 10zm3 14zm7 7zm38-200zm-24 14zm28-48zm37-137zm-11 283zm39-334zm1 0zm-6 35zm10 9zm-1 15zm-2 20zm-10 21zm-7 41zm22-110zm0 20zm1 4zm1 16zm8 25zm3 22zm32-40z" stroke="#7f3086"/><path d="M0 0m57 237zm46-80zm45 57zm25 200zm9 2zm39-27zm-5 41zm33-146zm49-30zm-7 178zm-8 3zm12 11zm-3 9zm-17 6zm31-223zm8 3zm-3 27zm59-173zm-1 266zm16-303zm5 91zm-3 243zm32-330zm-6 23zm6 55z" stroke="#7e228c"/><path d="M0 0m24 122zm55-37zm-3 19zm29 3zm11 123zm-6 2zm-4 1zm26-52zm42 34zm2 20zm8 165zm36-173zm-1 41zm-4 14zm4 110zm-17 18zm17 3zm-7 7zm9 3zm5-177zm6 36zm35 41zm16 68zm16 65zm6-211zm-3 112zm45 19zm-11 1zm8 7zm22-294zm-7 88zm15 1zm-22 9zm36-137zm3 76zm-4 34zm-9 8zm42-100zm-12 4zm-8 7zm12 61zm-11 22zm24-44zm6 18z" stroke="#6db949"/><path d="M0 0m39 103zm6 9zm-9 115zm-4 5zm0 7zm40-162zm-9 15zm-12 1zm14 2zm-9 0zm-4 122zm15 6zm2 17zm0 2zm-6 0zm4 2zm2 7zm20-188zm-2 6zm-5 8zm12 3zm-16 10zm0 13zm5 16zm-4 111zm35-164zm-4 12zm12 8zm-20 17zm5 19zm-5 7zm1 1zm4 2zm9 20zm-5 3zm10 0zm-4 0zm2 3zm8 16zm5 42zm19-5zm9 13zm30-4zm0 8zm6 74zm-12 88zm12 12zm-10 12zm1 0zm14-188zm15 17zm-2 1zm8 40zm-21 18zm5 81zm1 4zm2 2zm6 3zm-14 12zm10 9zm4 12zm17-149zm9 1zm4 67zm15-66zm1 11zm1 11zm-2 9zm-1 17zm7 0zm-11 1zm6 18zm18 46zm6 30zm0 4zm0 4zm1 4zm13 16zm-15 8zm1 6zm23-217zm13 8zm-15 3zm1 109zm12 8zm6-145zm15 158zm22-299zm4 89zm-2 8zm7 199zm-20 4zm4 11zm11 2zm33-363zm-12 37zm-7 24zm9 20zm3 1zm-3 17zm-1 7zm-11 13zm5 4zm-7 13zm17 218zm-16 5zm36-351zm3 7zm-14 2zm17 36zm-14 0zm1 7zm6 8zm9 5zm-6 7zm-7 9zm-2 5zm-2 4zm20 7zm-2 9zm1 2zm10-46zm3 0zm-8 16z" stroke="#6bbb54"/><path d="M0 0m23 122zm-1 1zm23-15zm-5 13zm-10 10zm15 88zm-11 14zm9 2zm-2 1zm-8 2zm14 3zm-1 1zm8-133zm-3 1zm3 5zm1 1zm13 0zm-4 5zm10 2zm-3 9zm-15 82zm-3 18zm11 18zm23-185zm-2 14zm-6 7zm20 3zm-16 1zm-3 17zm2 1zm-3 11zm-4 2zm3 12zm6 6zm11 1zm-20 74zm21 17zm-12 6zm2 4zm-1 1zm1 1zm1 9zm13-158zm7 13zm-5 7zm2 1zm1 30zm5 3zm7 4zm-12 2zm7 76zm-12 14zm27-65zm12 20zm13 1zm2 19zm20 170zm-9 19zm25-189zm-6 2zm9 7zm-15 1zm0 8zm3 148zm17 0zm0 13zm-16 15zm8 4zm6 13zm5-208zm15 16zm8 32zm-5 1zm0 18zm-3 108zm-6 4zm14 7zm-3 13zm11-157zm7 5zm9 11zm-20 99zm-2 0zm33-76zm4 3zm6 7zm1 113zm1 30zm19-186zm30-49zm-8 37zm18-35zm-4 8zm1 137zm0 1zm6 4zm4 5zm35-288zm-4 9zm-1 5zm4 84zm0 190zm-2 1zm-2 28zm20-377zm3 48zm0 8zm-8 14zm3 29zm-3 16zm16 5zm-22 14zm8 200zm2 0zm-9 19zm24-345zm7 6zm-4 5zm4 8zm15 20zm-10 7zm-12 4zm6 1zm-3 7zm20 3zm-5 39zm-15 5zm-3 5zm17 4zm-2 8zm-16 11zm1 211zm35-300zm-4 28zm12 2zm0 13z" stroke="#6abc60"/><path d="M0 0m87 95zm5 17zm-2 29zm6 78zm-3 21zm25-175zm-2 161zm58 1zm20 181zm13-127zm14 100zm1 26zm4-20zm30-51zm10 82zm8 23zm1-9zm11 8zm22-75zm37 16zm22-212zm26-132zm-5 114zm-13 227zm35-280zm5 5zm0 3zm8 40zm-23 2z" stroke="#6eae61"/><path d="M0 0m49 104zm14 136zm68-64zm47 203zm13 44zm20-34zm3 27zm39-78zm31-73zm67 123zm7 1zm-4 4zm33-251zm-8 6zm1 32zm-4 3zm35-119zm7 61zm26-22z" stroke="#779464"/><path d="M0 0m58 119zm15 121zm-23 2zm47-171zm-21 10zm3 36zm-3 23zm38-26zm-8 24zm-5 5zm72 248zm0 18zm60-152zm6 99zm35 76zm5-43zm18 52zm48-62zm28-16zm-10 49zm31-305zm-3 17z" stroke="#7b7f61"/><path d="M0 0m71 227zm6-102zm18 28zm97 79zm0 157zm18-93zm-10 84zm17 5zm27-133zm-7 119zm52-94zm-5 2zm103-241zm-7 34zm17 55zm5-90zm22 30zm-1 73z" stroke="#817269"/><path d="M0 0m44 97zm29-2zm37-18zm3 83zm1 0zm40 67zm-1 1zm32 9zm26 48zm-11 10zm35-48zm30 165zm54-173zm-18 194zm88-405zm-10 82zm0 38z" stroke="#836370"/><path d="M0 0m57 219zm9 19zm42-162zm41 127zm-1 17zm-6 6zm25-18zm31 190zm19-152zm-5 155zm53-100zm6 149zm5-60zm46-159zm51-66zm-6 0zm-12 245zm37-321zm-6 22zm3 5zm33 16zm-7 24z" stroke="#835477"/><path d="M0 0m69 107zm-3 15zm22-17zm-2 4zm7 3zm3 37zm-9 90zm28-136zm122 268zm-6 10zm49 23zm36-176zm9-1zm11 143zm36-7zm-3 35zm27-231zm0 2zm-9 196zm34-295zm-20 0zm-1 59zm0 24z" stroke="#81407f"/><path d="M0 0m40 108zm5 131zm18-125zm38-27zm7 62zm3 1zm6 10zm7 64zm16-19zm-8 4zm12 6zm-1 7zm29 166zm1 13zm2-194zm19 27zm-3 149zm4 37zm0 13zm19-205zm-10 68zm23 103zm35-87zm-8 17zm29 53zm-3 6zm6 15zm30-166zm3 16zm-17 187zm61-269zm4 4zm4 9zm-13 205zm14 9zm-2 16zm18-378zm-1 14zm2 323zm8 3zm-21 0zm36-284zm-6 34zm-6 11zm30-42zm17 4zm-18 8z" stroke="#7f3086"/><path d="M0 0m38 120zm28-9zm-16 116zm35-90zm4 96zm27-132zm-13 11zm51 90zm84 68zm-7 2zm-5 112zm44-45zm20 76zm-11 65zm46-106zm1 7zm47-276zm8-57zm8 76zm-2 265zm32-293zm6-8z" stroke="#7e228c"/><path d="M0 0m61 241zm22-178zm2 3zm-2 42zm6 23zm-6 16zm-2 92zm35-148zm-12 39zm11 45zm43 48zm1 5zm4 3zm29 15zm-6 186zm29-191zm7 28zm-4 13zm2 3zm9-44zm-1 9zm17 5zm25 148zm-1 30zm-3 5zm80-68zm20-191zm28-129zm-14 6zm14 28zm0 3zm-13 12zm12 24zm2 266zm46-261z" stroke="#6db949"/><path d="M0 0m32 121zm13 1zm-17 6zm35-29zm-8 18zm12 1zm2 1zm-7 1zm8 18zm2 2zm-3 84zm3 5zm14-164zm6 2zm-7 11zm8 2zm-2 13zm-5 5zm12 9zm-11 13zm7 13zm-16 4zm10 2zm-10 82zm0 21zm5 2zm-8 5zm14 3zm30-188zm1 4zm-2 0zm-9 40zm-8 6zm2 11zm6 1zm1 19zm5 15zm-6 68zm9 1zm-14 2zm57-25zm0 17zm9 3zm5 5zm10 1zm3 7zm-1 2zm5 5zm2 48zm-13 107zm16 21zm-13 2zm7 5zm14-194zm-1 1zm0 6zm15 2zm-8 39zm-5 4zm2 2zm-6 6zm11 1zm5 85zm1 1zm1 10zm3 14zm-3 12zm-19 4zm19 6zm10-181zm-4 0zm27 19zm21 12zm-11 2zm6 2zm0 138zm19-142zm11 81zm-23 31zm3 48zm-4 1zm37-70zm7 1zm-5 0zm11-128zm9 130zm-7 7zm15 8zm31-315zm-7 10zm7 7zm-3 102zm-10 174zm13 30zm-10 6zm9 2zm-15 4zm10 2zm32-374zm-11 4zm3 11zm1 19zm-8 17zm5 10zm-2 24zm-8 12zm17 1zm-20 15zm17 3zm1 231zm-13 10zm0 14zm24-363zm7 4zm-5 12zm5 21zm-12 8zm8 2zm8 0zm-11 13zm4 29zm7 14zm-12 12zm8 0zm4 218zm-16 6zm35-295zm-1 2zm1 1zm-6 3zm-3 1zm7 12zm-7 1zm14 16zm-14 9z" stroke="#6bbb54"/><path d="M0 0m36 118zm-10 2zm17 10zm-18 1zm19 91zm-6 18zm7 8zm18-162zm-8 15zm11 20zm4 1zm-8 14zm5 80zm-5 3zm12 2zm-23 6zm10 7zm31-166zm-10 4zm8 5zm-8 1zm7 7zm10 11zm-16 29zm12 0zm-1 11zm-15 5zm18 3zm-15 71zm2 12zm-4 2zm16 3zm-18 2zm8 3zm4 7zm17-173zm4 2zm-11 20zm4 4zm-3 42zm4 7zm11 5zm-14 0zm20 16zm1 56zm-13 3zm2 3zm-9 1zm6 3zm-9 12zm29-33zm4 1zm-6 2zm6 6zm25-18zm-1 24zm12 8zm12-1zm10 3zm-3 3zm-1 156zm3 22zm12-186zm16 41zm-9 119zm9 5zm-11 24zm19-160zm17 1zm-16 1zm17 10zm2 7zm10-6zm8 32zm4 14zm-12 11zm9 4zm-4 5zm13 86zm22-152zm-15 3zm4 3zm0 80zm-5 61zm44-181zm-2 8zm-20 195zm28-215zm17 154zm26-301zm-6 17zm6 11zm-1 6zm-16 76zm28-126zm0 11zm4 2zm-9 2zm17 4zm-3 10zm3 3zm-7 4zm7 5zm2 13zm-14 10zm-3 241zm1 4zm37-282zm-2 62zm12-77zm5 21zm5 20zm-13 10z" stroke="#6abc60"/><path d="M0 0m58 91zm15 14zm-4 14zm5 102zm16-2zm18-82zm32 67zm16 5zm30 24zm10 195zm17-195zm0 163zm30-146zm-9 107zm-7 30zm23-130zm34 127zm2 75zm72-270zm-4 186zm2 17zm30-357zm0 67zm11 7zm-21 4zm-1 8zm22 15zm-14 14zm-6 262zm26-374zm10 35zm12 42zm9 13z" stroke="#6eae61"/><path d="M0 0m49 112zm-10 19zm75 91zm93 81zm-7 98zm1 6zm70-126zm45-43zm2 13zm-18 181zm58-22z" stroke="#779464"/><path d="M0 0m64 248zm17-174zm18 18zm25 74zm43 235zm22 22zm11-187zm16 55zm-16 145zm89-162zm37-38zm35 177zm35-247zm-4 195zm8-268zm12 53z" stroke="#7b7f61"/><path d="M0 0m68 115zm63 93zm42 178zm-10 16zm69-123zm0 96zm30-82zm4 21zm26-44zm7 89zm-21 42zm2 7zm-5 45zm56-82zm36-278zm-1 78zm-7 196zm40-294zm-10 98zm-13 8zm2 191zm4 38zm35-345zm6 23zm-18 20zm35-22zm-6 13z" stroke="#817269"/><path d="M0 0m40 246zm20-154zm-7 155zm38-149zm-1 125zm19-161zm7 5zm67 158zm-4 158zm22-137zm16 21zm3 3zm7-37zm3 12zm12 103zm6 0zm-11 4zm57 74zm-19 27zm30-183zm66-82zm-17 209zm40-260zm14-79zm10 1zm-8 73z" stroke="#836370"/><path d="M0 0m32 113zm11 19zm49 9zm8-79zm69 333zm51-123zm-9 161zm15-31zm52 5zm6 29zm2 8zm39-83zm47-251zm36-40z" stroke="#835477"/><path d="M0 0m45 238zm28-162zm0 53zm21-34zm-16 47zm42 5zm29 59zm-20 21zm79 205zm59-99zm-2 100zm24 1zm1 16zm32-201zm52 121zm-15 1zm3 2zm12 31zm-11 10zm27-321zm-5 3zm-9 60zm5 3zm45-15z" stroke="#81407f"/><path d="M0 0m45 239zm26-157zm-6 24zm-15 3zm12 138zm20-182zm1 3zm6 6zm-14 7zm16 31zm-3 0zm-12 114zm12 0zm-5 1zm-4 26zm27-175zm2 73zm82 66zm-5 14zm19 4zm19 31zm-12 22zm-1 1zm-7 129zm27-40zm40-93zm-17 44zm3 1zm5 2zm-11 11zm7 5zm16 108zm14-176zm-6 104zm-1 28zm1 13zm6 5zm-8 1zm0 9zm42-206zm-6 22zm-13 13zm22 100zm39-184zm-10 6zm20 174zm14-310zm-8 0zm15 27zm-5 34zm3 35zm-12 10zm-5 200zm0 6zm26-304zm10 16zm10 17zm-1 35zm18-43zm3 27zm-5 5z" stroke="#7f3086"/><path d="M0 0m41 130zm8 107zm35-159zm37 80zm3 4zm-7 61zm31-14zm20 186zm6 23zm6-42zm33 14zm1 11zm-5 4zm55-87zm3 96zm26 24zm-14 11zm34-207zm-5 25zm65-195zm-9 13zm10 81zm-13 208zm36-231zm1 25zm-7 199zm-13 5zm30-236z" stroke="#7e228c"/></g><g font-size="3.10" stroke="#000" stroke-width="0.09"><text x="32.80" y="262.50" text-anchor="middle">−1.0</text><text x="17.20" y="251.32" text-anchor="end">−1.0</text><text x="51.25" y="262.50" text-anchor="middle">−0.5</text><text x="17.20" y="230.02" text-anchor="end">−0.5</text><text x="69.70" y="262.50" text-anchor="middle">0.0</text><text x="17.20" y="208.72" text-anchor="end">0.0</text><text x="88.15" y="262.50" text-anchor="middle">0.5</text><text x="17.20" y="187.42" text-anchor="end">0.5</text><text x="106.60" y="262.50" text-anchor="middle">1.0</text><text x="17.20" y="166.12" text-anchor="end">1.0</text></g><text x="66.25" y="266.50" text-anchor="middle" font-size="3.25">Dimension 1</text><text transform="translate(10.40 207.60) rotate(-90)" text-anchor="middle" font-size="3.25">Dimension 2</text><text x="18.00" y="155.80" font-size="5.00">HbA1c (%)</text><rect x="116.70" y="183.10" width="11.00" height="59.10" fill="url(#cg)"/><path d="M116.70 199.60h2.20M127.70 199.60h-2.20M116.70 216.50h2.20M127.70 216.50h-2.20M116.70 233.60h2.20M127.70 233.60h-2.20" stroke="#fff" stroke-width="0.55" fill="none"/><g font-size="4.50"><text x="130.40" y="201.22">10.0</text><text x="130.40" y="218.12">8.0</text><text x="130.40" y="235.22">6.0</text></g><text x="117.10" y="179.50" font-size="4.90">HbA1c</text></g>
<g><path d="M173.31 157.50V257.70M192.49 157.50V257.70M167.40 239.55H266.80M211.66 157.50V257.70M167.40 218.25H266.80M230.84 157.50V257.70M167.40 196.95H266.80M250.01 157.50V257.70M167.40 175.65H266.80" stroke="#e3e3e3" stroke-width="0.85" fill="none"/><path d="M182.90 157.50V257.70M167.40 250.20H266.80M202.07 157.50V257.70M167.40 228.90H266.80M221.25 157.50V257.70M167.40 207.60H266.80M240.43 157.50V257.70M167.40 186.30H266.80M259.60 157.50V257.70M167.40 165.00H266.80" stroke="#e3e3e3" stroke-width="1.10" fill="none"/><g transform="translate(167 158) scale(0.2)" fill="none" stroke-linecap="round" stroke-width="13.0"><path d="M0 0m48 132zm25-42zm-19 20zm16 8zm1 91zm-4 8zm-1 4zm-11 8zm44-164zm-11 7zm-2 6zm11 20zm12-26zm-2 34zm-2 139zm27-149zm-5 4zm10 124zm28-15zm-8 13zm34-11zm19 93zm6 128zm25-61zm60-92zm-1 124zm32-166zm20 136zm35-288zm1 18zm29-44zm-10 28zm14 63zm-8 218zm-13 34zm32-288zm0 37z" stroke="#6db949"/><path d="M0 0m44 229zm7-104zm7 90zm-3 9zm-1 8zm43-160zm-6 2zm-5 4zm-10 23zm4 11zm15 1zm2 16zm0 11zm-8 4zm-2 85zm-6 1zm15 5zm-12 6zm-7 3zm13 1zm30-177zm-5 20zm2 2zm-16 13zm14 6zm-7 3zm-4 8zm-2 9zm16 1zm-3 14zm-4 9zm-7 67zm16 2zm-7 4zm-3 12zm-8 7zm37-180zm-9 6zm5 1zm-7 33zm-2 25zm2 10zm2 33zm4 3zm1 42zm32-23zm-1 5zm-9 1zm5 9zm-6 1zm13 14zm-7 7zm24-25zm3 24zm23 5zm3 9zm2 41zm5 8zm-5 6zm-5 90zm11 5zm-7 3zm-13 4zm16 17zm9-185zm21 6zm-21 59zm16 75zm-12 10zm6 1zm-2 7zm6 7zm-12 27zm20-185zm24 25zm-9 4zm-14 86zm46-82zm-8 8zm-11 18zm1 46zm19 29zm-6 22zm7 5zm-8 9zm6 1zm14-54zm-3 55zm-6 6zm14 6zm-14 29zm8 2zm35-212zm-7 2zm3 9zm-8 114zm14 1zm2 5zm1-4zm7 3zm0 1zm-2 3zm4 3zm31-275zm6 7zm0 61zm-12 200zm6 38zm25-372zm8 59zm-23 7zm14 48zm-12 250zm30-350zm2 2zm3 2zm-8 5zm13 11zm1 37zm-17 4zm11 37zm-9 16zm25-77zm17 28zm-5 1z" stroke="#6bbb54"/><path d="M0 0m44 115zm2 5zm-12 4zm40-39zm-1 20zm-10 15zm-13 0zm22 14zm-6 81zm6 7zm0 3zm-19 2zm15 12zm-9 5zm-6 0zm14 3zm21-177zm6 0zm3 4zm2 13zm-12 3zm-5 12zm14 10zm-12 1zm-7 2zm4 13zm1 3zm-6 4zm17 6zm1 75zm-7 2zm-11 8zm7 2zm-1 9zm3 3zm6 0zm2 2zm-12 9zm37-186zm6 12zm-21 20zm3 2zm-2 11zm3 6zm13 7zm-13 3zm-2 3zm14 28zm-16 71zm-3 16zm36-173zm0 3zm-5 2zm16 143zm9-9zm0 4zm-5 7zm3 1zm14 0zm-7 0zm9 3zm26 176zm17-175zm9 4zm-18 14zm-4 0zm22 40zm-14 11zm-2 4zm12 2zm-1 7zm-16 70zm6 48zm18-141zm12 96zm-11 27zm33-142zm12 1zm-16 96zm28-44zm1 7zm-6 16zm-3 2zm12 2zm8 37zm-7 35zm1 23zm-3 5zm9 3zm16-188zm2 12zm-10 157zm41-200zm-11 20zm2 11zm-4 3zm15 112zm0 2zm9-158zm-5 15zm22 161zm26-232zm-9 12zm7 196zm-10 10zm-10 3zm14 9zm-1 2zm10 5zm0 12zm12-379zm-1 23zm4 35zm5 36zm0 2zm-11 1zm4 33zm-8 14zm15 187zm-5 4zm-3 2zm-1 2zm-6 7zm3 5zm13 1zm0 4zm13-321zm-4 16zm6 16zm1 7zm6 0zm-15 7zm22 5zm-4 19zm-9 1zm8 1zm14-54zm-2 9zm-6 7zm16 23zm-7 14z" stroke="#6abc60"/><path d="M0 0m72 99zm11-9zm10 1zm1 151zm26-157zm-8 16zm-4 19zm71 96zm11 13zm16 2zm0 153zm17 3zm-16 42zm34-158zm25-2zm53 0zm-7 89zm7 66zm5 53zm45-96zm29-205zm-6 8zm-8 2zm4 174zm0 29zm3 11zm28-276zm1 14zm-12 9zm-6 255zm33-290zm32-2zm-12 25z" stroke="#6eae61"/><path d="M0 0m206 243zm8 6zm10 13zm0 29zm5 125zm45-74zm-12 6zm26-12zm25-71zm-9 198zm88-383zm0 23zm-3 65zm7 7zm22-125zm-14 360zm44-338zm-20 6zm6 82z" stroke="#779464"/><path d="M0 0m285 453zm48-194zm91-195zm-7 85zm32-31zm-13 40zm26-42zm-4 9z" stroke="#7b7f61"/><path d="M0 0m113 95zm11 12zm-4 51zm97 128zm26-51zm40 105zm10 45zm-6 15zm5 41zm18-84zm-7 62zm43-169zm45-78zm11-49zm27-3zm26-28zm6 37zm-7 0z" stroke="#817269"/><path d="M0 0m107 77zm51 137zm20 21zm20 163zm18-169zm7 158zm15-129zm33 90zm28 88zm-10 6zm0 11zm20-15zm25-184zm45-68zm28-116zm8 9zm22-12zm-3 21zm2 48zm23-7z" stroke="#836370"/><path d="M0 0m134 176zm22 27zm74 196zm69-117zm-4 112zm-5 30zm-8 7zm24-22zm23-170zm18 125zm26 12zm19-292zm-11 101zm17 186zm25-317zm-8 8zm-14 31zm45 16zm-21 19zm10 4z" stroke="#835477"/><path d="M0 0m63 116zm49 40zm10 9zm87 214zm-5 7zm41-17zm-8 24zm29-49zm22-2zm-3 109zm8 8zm15-180zm3 161zm29-79zm0 5zm58-218zm-9 31zm2 190zm29-314zm0 50zm-15 290zm40-238z" stroke="#81407f"/><path d="M0 0m60 115zm34-16zm23-2zm-16 39zm42 79zm45 5zm7 191zm20-160zm7 133zm-11 30zm25-182zm-1 11zm-1 5zm2 11zm4 139zm-10 6zm27-153zm16 20zm13 20zm15 83zm4 12zm-2 9zm6 12zm1 34zm39-223zm-18 19zm9 8zm24 131zm5 19zm-1 1zm2 0zm23-291zm0 3zm5 4zm-4 3zm-2 243zm26-312zm-13 11zm16 6zm-7 57zm-6 33zm7 218zm-13 59zm37-383zm-2 81zm3 20zm16-64zm1 19zm7 24z" stroke="#7f3086"/><path d="M0 0m125 75zm3 79zm45 44zm28 47zm7 177zm10 14zm31-187zm-19 37zm8 109zm26-137zm31 147zm15-129zm11 157zm-11 27zm26-200zm-6 2zm-4 104zm34 18zm38-282zm-6 61zm-6 195zm-3 34zm1 7zm28-314zm4 29zm-2 6zm-2 8zm-4 4zm7 32zm-7 2z" stroke="#7e228c"/><path d="M0 0m49 238zm10-138zm7 6zm-12 21zm24-50zm5 156zm15 4zm-2 2zm-3 15zm23-195zm-7 8zm12 30zm-5 4zm3 4zm-10 18zm0 0zm-7 10zm13 94zm-6 16zm16-114zm0 90zm57 15zm16 165zm21-1zm-13 4zm0 12zm31-163zm2 132zm-2 8zm20-38zm41-78zm52-45zm39 148zm30-209zm24-93zm3 64zm6-63z" stroke="#6db949"/><path d="M0 0m53 105zm14 7zm-16 2zm1 103zm4 2zm9 11zm5 2zm27-170zm0 2zm-19 20zm21 4zm-4 8zm4 0zm-1 16zm-21 14zm1 10zm-2 77zm13 1zm-6 4zm0 3zm39-131zm-13 29zm-1 0zm1 11zm-9 89zm16 19zm11-133zm16 111zm-16 1zm9 3zm28-22zm0 3zm-3 6zm-5 1zm4 23zm27-4zm-11 1zm21 8zm-14 155zm8 25zm6 7zm-12 8zm20-217zm14 20zm-7 184zm0 2zm3 17zm29-179zm-3 2zm3 12zm3 92zm-19 45zm30-137zm-7 1zm5 82zm-4 11zm28-51zm5 13zm14 63zm-5 9zm-1 4zm-12 33zm38-190zm-10 27zm2 81zm-6 40zm-4 7zm7 35zm12 10zm-16 6zm44-220zm-7 8zm1 5zm-6 9zm6 124zm7 2zm3-157zm3 155zm19 2zm21-302zm-6 14zm6 10zm0 14zm-5 66zm-8 216zm37-340zm-6 14zm-8 5zm8 4zm11 36zm-8 8zm-12 11zm18 2zm-3 5zm-1 1zm1 19zm-12 17zm2 187zm-1 2zm-3 11zm15 1zm29-300zm-13 3zm3 3zm2 1zm-9 8zm15 1zm-7 21zm4 23zm3 7zm25-71zm-21 28zm4 2z" stroke="#6bbb54"/><path d="M0 0m46 104zm1 137zm1 2zm-9 5zm29-162zm6 2zm-10 10zm2 3zm-12 5zm1 2zm13 6zm-17 4zm3 2zm20 3zm-8 99zm7 1zm-7 3zm-1 0zm-15 5zm4 0zm9 1zm0 5zm2 2zm4 1zm-19 1zm22 6zm25-163zm-11 6zm6 15zm1 20zm-14 85zm-3 11zm6 4zm5 10zm10 3zm-16 2zm13 4zm-2 3zm6 4zm6-187zm3 16zm11 13zm6 12zm0 1zm-20 2zm15 11zm0 9zm-7 15zm-9 73zm15 6zm-4 20zm-13 6zm33-181zm-2 2zm-4 1zm1 69zm0 4zm6 71zm-9 9zm-1 2zm49-23zm-20 7zm7 9zm21-10zm1 12zm1 2zm-4 10zm-1 177zm21-199zm3 7zm4 10zm6 3zm10 4zm-23 2zm20 8zm-7 60zm-1 88zm-3 32zm5 9zm26-192zm-11 1zm4 9zm-4 24zm18 2zm-9 95zm-2 5zm-8 32zm0 14zm24-158zm3 8zm2 80zm38-66zm-14 27zm-3 2zm6 1zm-8 2zm4 11zm-5 4zm7 5zm6 72zm9 17zm25-161zm-10 157zm28-196zm-9 24zm-5 3zm2 12zm37-66zm-13 24zm-2 2zm1 15zm1 139zm43-278zm0 12zm4 58zm-15 1zm-2 18zm9 176zm2 4zm13-288zm2 7zm11 38zm-2 4zm7 28zm-16 229zm-8 5zm12 2zm-7 7zm29-348zm-2 6zm-7 1zm16 19zm-3 23zm-6 3zm1 11zm13 5zm-16 27zm23-71zm-2 18zm11 1zm0 33z" stroke="#6abc60"/><path d="M0 0m64 97zm-4 119zm-6 22zm24-141zm7 7zm3 27zm-8 110zm33-165zm26 107zm28 13zm47 27zm10 14zm30 25zm4 3zm21 50zm16 101zm-5 8zm13-18zm12 15zm28-190zm46-140zm-6 279zm28-270zm3 297zm15-346zm8 36zm-9 7zm8 26z" stroke="#6eae61"/><path d="M0 0m82 138zm110 247zm44-157zm1 34zm40 13zm5 57zm11 12zm-4 59zm3 25zm12 20zm6 24zm77-392zm-8 107zm4 192zm24-318zm3 1zm4 38zm-12 57zm7 212zm12 5zm-21 24zm27-351zm2 3zm-4 32zm10 27zm-2 7zm14 19z" stroke="#779464"/><path d="M0 0m95 143zm128 93zm-4 155zm14-11zm66-10zm19-108zm-6 99zm58 20zm10 4zm11 29zm23-310zm-5 266zm26-304zm10 15zm-5 58z" stroke="#7b7f61"/><path d="M0 0m297 421zm-3 13zm5 21zm-5 5zm54-235zm45-41zm-7 225zm32-336zm-3 20zm-5 276zm28-321zm6 26z" stroke="#817269"/><path d="M0 0m106 113zm64 96zm8 16zm33 10zm11 4zm-4 146zm84-12zm79-9zm39-316zm-16 17zm6 19zm9 12zm2 18zm-10 55zm-9 8zm4 217zm38-323zm-15 46zm2 29z" stroke="#836370"/><path d="M0 0m90 75zm-12 61zm46-54zm-10 60zm77 270zm9-175zm22 176zm4-175zm17 14zm12-6zm18 89zm3-9zm23 116zm24-199zm26-6zm7 134zm65-315zm-14 57zm-1 56zm28-101zm-3 16zm4 3zm-10 7zm34 29z" stroke="#835477"/><path d="M0 0m46 127zm62-40zm-4 63zm83 255zm51-6zm34-117zm9 3zm1 48zm6 127zm17-182zm9 152zm13-68zm68-253zm9 70zm-3 184zm6 32zm33-301zm-6 41zm8 6z" stroke="#81407f"/><path d="M0 0m55 131zm24-34zm44-31zm60 154zm2 7zm-2 166zm5 6zm17-182zm9 8zm1 11zm-13 4zm12 5zm1 184zm10-148zm23 82zm-8 17zm-2 20zm-13 21zm16 3zm24-169zm-12 9zm43 13zm-15 8zm2 29zm-6 34zm19 38zm-5 5zm-7 35zm4 26zm28-191zm-3 4zm-13 118zm0 5zm16 38zm-13 28zm36-208zm-6 1zm36 127zm-5 11zm30-218zm-14 22zm-5 184zm45-321zm-5 29zm5 24zm0 14zm-10 56zm-8 188zm22 8zm-18 28zm24-342zm-3 32zm22 16zm-14 16zm6 13zm-15 3zm0 16zm20 9zm12-60zm3 1z" stroke="#7f3086"/><path d="M0 0m94 118zm13-51zm16 36zm-16 23zm11 1zm56 99zm-2 5zm52 67zm-9 98zm26-157zm2 145zm26-38zm-2 2zm32-75zm-1 10zm-8 125zm19-151zm7 6zm-6 182zm34-200zm19 142zm26-216zm8 239zm12-328zm2 51zm4 239zm25-314zm-11 69z" stroke="#7e228c"/><path d="M0 0m58 107zm28-33zm-8 11zm1 15zm11 7zm-3 20zm35-84zm-17 56zm1 11zm0 48zm-2 77zm23-157zm36 141zm21 9zm6 2zm4 183zm20-124zm67 51zm8 61zm14-139zm17 9zm-6 175zm34-223zm-9 11zm-4 128zm16-129zm22 150zm26-283zm-14 274zm-8 20zm42-358zm-13 335zm-1 36zm23-284zm17 32zm21-38z" stroke="#6db949"/><path d="M0 0m28 126zm34-34zm-3 26zm-5 6zm17 4zm-11 94zm0 9zm7 6zm5 6zm-13 2zm31-161zm-12 1zm0 22zm1 2zm2 31zm18 0zm18-71zm7 3zm-7 17zm-16 8zm16 0zm5 14zm-3 16zm-19 6zm18 11zm5 18zm-21 62zm28-161zm6 11zm-8 3zm-2 15zm3 18zm13 67zm-9 43zm30-19zm-13 13zm2 6zm1 3zm26-22zm0 21zm15 1zm-2 11zm1 161zm-2 3zm4 3zm3 4zm-10 9zm16-195zm5 9zm3 9zm-2 59zm4 1zm-3 4zm-6 80zm-2 16zm9 11zm-7 2zm0 11zm6 11zm12 1zm8-195zm3 2zm7 15zm-6 18zm5 4zm2 9zm3 84zm-3 5zm0 13zm-1 1zm-7 6zm-9 1zm7 34zm20-188zm2 24zm15 69zm-5 12zm13-75zm2 2zm15 6zm-7 15zm-11 16zm7 17zm-2 4zm-6 2zm2 5zm21 111zm-13 2zm25-218zm8 20zm-16 146zm0 35zm2 22zm4 5zm34-230zm-3 5zm-13 1zm9 3zm5 126zm56-189zm-1 2zm-11 1zm3 189zm-1 31zm-4 2zm27-364zm-5 43zm20 4zm-2 17zm-19 14zm5 18zm10 21zm-10 0zm5 2zm-6 4zm2 219zm1 11zm-8 19zm27-361zm-4 40zm1 43zm11 19zm1 244zm18-302zm-3 6zm-3 25zm8 7z" stroke="#6bbb54"/><path d="M0 0m41 228zm1 1zm3 2zm3 0zm-3 6zm27-150zm2 6zm-23 9zm8 15zm14 2zm0 11zm-10 89zm-8 14zm-4 2zm47-173zm-5 23zm-4 6zm-4 1zm-6 1zm-4 6zm5 13zm13 12zm-11 0zm15 9zm-6 6zm-3 78zm-9 7zm18 0zm-22 2zm6 5zm9 9zm-13 2zm15 9zm32-186zm-7 8zm-8 12zm4 4zm8 23zm-10 3zm-7 8zm5 4zm-6 5zm2 1zm15 4zm-5 20zm0 0zm-9 0zm13 4zm-1 74zm0 1zm-7 4zm18-173zm7 4zm-11 7zm2 22zm2 1zm12 72zm-8 46zm11 7zm12-23zm16 0zm-8 20zm-10 2zm16 6zm-4 1zm12-29zm-1 3zm13 3zm-5 7zm-6 10zm12 9zm0 148zm5 12zm-1 2zm-10 1zm6 1zm6 17zm-2 7zm19-171zm10 48zm-8 82zm-6 22zm-9 0zm8 11zm-2 7zm-2 5zm16 5zm3 1zm-12 2zm19-196zm1 12zm0 13zm-1 4zm7 104zm5 14zm-10 4zm7 27zm-3 6zm27-145zm3 60zm-16 29zm39 43zm7 4zm-6 10zm7 10zm-4 9zm25-179zm-9 91zm0 6zm-9 7zm4 89zm44-232zm-5 25zm-7 5zm-12 0zm6 13zm20-52zm19 155zm23-276zm-3 77zm2 189zm-16 8zm4 3zm30-341zm-1 10zm-2 3zm1 14zm13 1zm2 7zm-12 4zm-10 13zm10 8zm9 3zm-2 20zm-11 62zm-6 186zm14 0zm-10 33zm2 5zm18-359zm4 19zm15 2zm-8 13zm-2 18zm12 5zm-20 8zm5 20zm3 5zm-7 8zm27-44zm6 31z" stroke="#6abc60"/><path d="M0 0m51 226zm61-106zm15 12zm-2 88zm40-24zm-4 10zm0 8zm32 15zm-9 1zm9 191zm28-7zm-21 11zm40-169zm6 142zm21-121zm11 38zm44-61zm-12 183zm63-49zm11-198zm22-121zm18 18zm-11 62zm-4 21zm-7 1zm7 4zm25-115zm-9 10zm12 15zm-12 19z" stroke="#6eae61"/><path d="M0 0m83 125zm14 20zm150 95zm-19 7zm-3 4zm11 9zm49 35zm20-27zm19 93zm-13 94zm22-221zm61-70zm-12 212zm35-341zm-3 73zm28-51zm-6 77zm0 20z" stroke="#779464"/><path d="M0 0m218 284zm2 152zm22-71zm15-13zm19-55zm18 117zm-12 25zm2 35zm32-204zm-13 114zm5 26zm-3 11zm-1 26zm64-58zm44-287zm-10 6zm10 23zm17-84zm8 108zm33-42z" stroke="#7b7f61"/><path d="M0 0m88 115zm109 295zm24-123zm17 102zm-5 17zm33-122zm25-3zm19 151zm29-180zm-7 1zm8 113zm47-280zm9 288zm23-265zm2 15zm-3 7zm3 40zm-19 214zm2 4zm24-346zm13 40zm25 35z" stroke="#817269"/><path d="M0 0m73 122zm17 17zm88 71zm15 179zm43-128zm-9 162zm4 6zm23-173zm6 17zm22 5zm11 114zm2 42zm-11 21zm54-216zm56 161zm28-321zm-3 4zm-6 49zm-3 27zm-10 17zm16 192zm22-312zm0 68zm29-3z" stroke="#836370"/><path d="M0 0m169 222zm25 8zm-13 3zm16 143zm101 1zm-1 43zm-2 39zm14-5zm21-189zm4 109zm40 32zm20-336zm-2 341zm14-342zm6 21zm4 29zm1 259zm24-297z" stroke="#835477"/><path d="M0 0m85 110zm34 13zm103 281zm2 3zm-2 1zm13-141zm48 50zm12 76zm-7 16zm11 17zm44-202zm-7 23zm4 116zm62-274zm20 69zm27-36zm-12 31zm23-38z" stroke="#81407f"/><path d="M0 0m56 110zm48 21zm2 23zm117 146zm-23 80zm9 48zm17-190zm4 27zm14 7zm-6 121zm-1 26zm28-147zm-13 96zm27-88zm5 21zm11 135zm-8 14zm35-184zm-6 154zm7 24zm21-187zm25 127zm23-314zm-1 106zm-12 197zm4 15zm33-353zm-7 11zm13 16zm-17 95zm44-90zm-10 74zm-3 2z" stroke="#7f3086"/><path d="M0 0m66 101zm28-10zm95 306zm7 10zm-1 7zm6-11zm19 4zm-8 7zm21-155zm2 14zm-7 135zm25-152zm14 29zm-15 77zm42 99zm9-179zm10 134zm92-355zm9 0zm-6 102zm5 5zm-5 209zm-5 20zm37-280zm4 23zm7 23z" stroke="#7e228c"/><path d="M0 0m49 108zm-4 119zm-4 12zm25-144zm-11 144zm27-162zm4 44zm-10 1zm8 1zm11 114zm3 2zm-18 1zm36-125zm2 23zm2 11zm11-84zm-5 1zm8 20zm-7 28zm13 60zm-15 56zm92 72zm-3 96zm0 0zm16-154zm17 28zm-2 107zm-8 2zm-10 8zm45-60zm11 83zm22 21zm41-204zm-20 28zm64-153zm6 259zm-5 16zm21-263zm-1 35zm28-98zm1 53zm5 46z" stroke="#6db949"/><path d="M0 0m48 103zm0 17zm1 1zm-17 1zm1 0zm8 110zm2 1zm31-141zm-21 5zm12 19zm9 5zm-12 96zm-7 2zm12 0zm-4 13zm-10 3zm4 6zm-1 1zm42-173zm-11 12zm3 4zm-1 5zm-14 5zm9 0zm9 13zm4 1zm-18 7zm9 9zm-6 7zm-5 91zm5 4zm-6 11zm21 3zm-19 3zm42-168zm2 1zm-11 17zm6 13zm2 0zm-5 5zm5 10zm0 10zm-6 11zm-6 6zm0 4zm0 78zm11 2zm10-132zm-1 2zm2 49zm2 6zm13 18zm1 5zm0 28zm-16 17zm28-11zm11 4zm6 5zm-19 2zm12 2zm24 7zm5 150zm3 5zm-19 18zm8 1zm19-177zm6 153zm-5 4zm9 15zm-15 10zm4 3zm27-171zm2 22zm0 3zm13 5zm-12 13zm-10 7zm17 103zm-15 21zm4 5zm26-148zm-4 94zm0 0zm23-68zm2 42zm19 44zm-14 29zm4 8zm5 15zm-3 9zm-1 6zm57-229zm1 4zm-10 6zm-5 21zm-4 107zm17 9zm28-186zm-22 35zm2 150zm14 8zm-6 6zm23-299zm6 11zm8 65zm-13 7zm3 6zm11 6zm-6 1zm-7 1zm8 178zm5 13zm-6 8zm-17 9zm22 4zm-7 1zm-1 9zm23-379zm-2 8zm11 2zm-12 37zm-9 35zm22 27zm-12 7zm-6 1zm-3 3zm21 5zm-23 4zm5 4zm2 203zm3 1zm16-328zm-1 1zm19 31zm-19 19zm6 1zm5 3zm-9 44zm17 2zm-1 14zm7-64zm5 7zm2 13zm-7 11zm2 5z" stroke="#6bbb54"/><path d="M0 0m31 123zm8 8zm3 107zm19-145zm-2 11zm5 5zm-3 1zm-6 2zm19 2zm-10 1zm2 99zm-6 13zm-10 9zm23 4zm-14 2zm14 0zm1 8zm24-185zm-2 14zm-6 7zm9 9zm-12 9zm12 1zm-8 2zm-15 4zm14 6zm5 2zm-6 14zm-3 7zm0 74zm4 16zm-6 10zm-5 2zm18 1zm1 9zm3-189zm21 15zm-16 2zm7 7zm-3 2zm4 14zm-10 9zm10 17zm9 21zm-6 4zm-10 65zm15 13zm-21 1zm3 7zm25-88zm4 3zm-7 5zm3 0zm11 19zm-4 45zm-7 6zm38-28zm-4 1zm1 8zm26-4zm-8 1zm17 13zm-11 6zm4 2zm1 8zm0 142zm13-159zm2 8zm12 68zm-8 6zm4 78zm-10 3zm-5 31zm11 16zm25-203zm-5 16zm11 3zm6 18zm-10 20zm3 100zm-10 8zm1 5zm-7 4zm10 12zm2 10zm12-166zm22 70zm-16 29zm26-50zm-4 3zm2 3zm8 1zm11 75zm-6 44zm4 48zm6-215zm-1 126zm18 42zm-4 8zm24-220zm-1 32zm9 116zm25 19zm15-298zm6 0zm-5 79zm-9 220zm8 12zm29-364zm-14 11zm8 3zm13 4zm-11 31zm-1 51zm-3 227zm1 25zm21-345zm-3 5zm-3 21zm19 41zm-5 7zm3 7zm5 15zm14-58zm12 17zm-4 4zm-16 4zm7 1zm-3 2zm12 15z" stroke="#6abc60"/><path d="M0 0m93 77zm3 165zm-16 9zm34-137zm-8 26zm5 104zm57-17zm21 162zm28-167zm-1 73zm11-10zm16 94zm-5 28zm-8 9zm33-72zm14-18zm26-47zm18 78zm-17 68zm77-247zm17 200zm-22 21zm26-251zm17 19zm-7 206zm9 3zm28-309zm-4 3zm-2 26z" stroke="#6eae61"/><path d="M0 0m68 119zm120 272zm18 32zm25-141zm10 126zm33-72zm14 3zm6 51zm15 25zm10 41zm76-351zm-1 273zm19-300zm2 11zm2 18zm4 43zm-11 11zm10 8zm4 213zm4-286zm18 36zm-6 28z" stroke="#779464"/><path d="M0 0m117 145zm12 10zm267 10zm1 9zm15-50zm8 3zm14-29zm-5 0zm27 39z" stroke="#7b7f61"/><path d="M0 0m123 155zm43 45zm-10 22zm32 179zm21 7zm28 13zm19-152zm28 57zm20 95zm53-51zm15 18zm22-200zm-1 226zm39-341zm-4 18zm21 8zm-14 7zm1 35z" stroke="#817269"/><path d="M0 0m55 108zm39-18zm28 58zm64 240zm23-154zm9 176zm-8 10zm1 13zm38-151zm30 7zm1 11zm29-23zm-4 163zm64-64zm41-338zm14 42zm-21 19zm9 20zm-4 10zm2 13zm13 29zm-20 9zm26-48z" stroke="#836370"/><path d="M0 0m126 160zm91 66zm49 54zm33 124zm43-173zm-3 8zm9 129zm-9 6zm26 10zm29 14zm11-298zm31-54zm-1 18zm-6 62zm-4 22z" stroke="#835477"/><path d="M0 0m90 119zm6 18zm93 78zm66 55zm30 53zm24-53zm-4 133zm17 37zm-19 17zm25-211zm19 135zm85-324zm15 89zm23-34z" stroke="#81407f"/><path d="M0 0m79 107zm30-36zm-5 41zm-3 29zm44 75zm8-11zm46 195zm-2 13zm8-194zm-5 18zm21 146zm2 4zm7-159zm11 42zm-8 115zm9 2zm-17 2zm10 3zm-8 21zm25-166zm9 5zm10 86zm7-60zm5 23zm14 90zm-4 41zm10-3zm15 20zm7-204zm32 132zm9 2zm23-214zm8 14zm-17 210zm-3 21zm33-380zm0 20zm-7 22zm12 48zm-1 7zm10 2zm-1 19zm-22 21zm-1 214zm16 9zm21-308zm3 19zm-9 24zm-3 16zm19 0zm0 11zm-22 9z" stroke="#7f3086"/><path d="M0 0m89 103zm6 36zm20-9zm37 69zm10 21zm44 8zm17 53zm-12 121zm21-164zm16 143zm-20 20zm74-19zm2 81zm32-235zm5 26zm-14 112zm31 12zm31-203zm-4 237zm23-301zm6 13zm33-47zm-5 14zm-3 65z" stroke="#7e228c"/><path d="M0 0m41 113zm-6 7zm17 10zm19 104zm-12 3zm-4 11zm41-170zm-15 4zm17 16zm-4 49zm-5 74zm6 6zm-6 15zm32-134zm-6 17zm-7 19zm-8 108zm30-184zm5 99zm18 37zm10 2zm12 17zm41 23zm7 175zm37-171zm11 79zm125-257zm-7 26zm5 12zm-17 81zm2 216zm23-352zm2 104zm14 223zm19-309zm9 23zm-2 35zm-13 5zm5 10zm27-58zm-5 18zm-8 1zm17 8z" stroke="#6db949"/><path d="M0 0m37 128zm11 3zm-14 0zm14 109zm17-139zm-5 8zm12 11zm-21 10zm2 2zm-3 114zm13 1zm30-182zm3 1zm-3 6zm-10 4zm12 2zm-16 37zm0 4zm0 0zm15 6zm-10 4zm-4 9zm19 88zm-8 3zm-2 5zm8 3zm-22 11zm11 1zm17-181zm16 3zm4 2zm-22 1zm9 18zm-1 15zm7 23zm-16 1zm5 5zm15 1zm-16 4zm10 10zm-13 72zm22 3zm-7 5zm-9 1zm-5 12zm30-180zm-3 3zm4 1zm-1 79zm2 11zm-6 2zm9 2zm-1 4zm8 42zm-4 7zm-10 8zm12 4zm-11 2zm40-2zm19 4zm6 3zm-13 1zm10 148zm-11 12zm2 0zm11 6zm-6 17zm11-186zm1 1zm20 2zm-5 1zm-13 3zm0 1zm5 6zm14 41zm-10 135zm5 0zm-13 1zm-3 9zm45-191zm-14 0zm3 3zm10 6zm-2 13zm-3 3zm-6 16zm-8 7zm23 86zm-13 17zm-7 4zm-4 9zm12 13zm-10 15zm47-103zm0 1zm-6 12zm-9 5zm34-70zm-11 40zm4 2zm-7 20zm20 72zm-14 2zm3 6zm-4 13zm20-153zm15 79zm-16 25zm3 46zm35-196zm4 8zm1 119zm2 18zm21 3zm17-297zm10 24zm-11 76zm-5 4zm12 2zm-12 176zm17 3zm-13 3zm-6 19zm-2 5zm21 7zm-17 6zm35-360zm0 19zm3 18zm-1 50zm-11 13zm9 1zm-3 20zm-7 203zm-1 32zm32-359zm-4 23zm9 20zm-12 13zm4 29zm7 14zm11-52zm8 34zm-9 4z" stroke="#6bbb54"/><path d="M0 0m45 118zm28-32zm-5 5zm2 1zm-5 25zm-11 5zm18 97zm-19 3zm7 5zm-5 11zm-1 1zm18 2zm0 6zm25-182zm-3 3zm-2 6zm1 4zm-7 3zm-10 40zm5 1zm2 18zm7 1zm3 74zm-16 1zm8 5zm0 0zm-5 3zm7 2zm7 1zm-11 2zm9 10zm2 5zm-4 9zm22-191zm5 16zm-16 7zm1 8zm3 2zm-2 17zm10 2zm8 12zm-16 7zm15 18zm-18 68zm19 9zm-6 2zm6 3zm7-142zm0 84zm14 37zm28-3zm5-3zm23 19zm-21 6zm11 155zm-6 15zm23-184zm1 20zm-4 4zm22 48zm-1 14zm-20 93zm13 5zm-5 27zm-4 1zm22-196zm14 14zm0 14zm-10 6zm6 2zm-3 3zm-2 1zm-2 18zm15 87zm-22 14zm9 5zm2 31zm27-173zm4 2zm17 57zm2 19zm-11 15zm19 42zm4 18zm-1 30zm-3 1zm4 10zm-7 7zm22-30zm-4 8zm3 4zm-2 12zm-5 9zm38-210zm-4 2zm-4 5zm20 116zm34-279zm-1 86zm-5 195zm2 27zm10 2zm-12 10zm40-378zm-14 0zm1 20zm-3 21zm17 12zm-11 5zm-1 3zm-4 0zm2 24zm10 23zm-5 218zm8 21zm-18 26zm36-345zm-16 0zm11 17zm7 12zm-15 14zm8 52zm30-30z" stroke="#6abc60"/><path d="M0 0m75 106zm38 33zm-1 106zm158 21zm19 137zm44-161zm41-51zm-22 180zm46-250zm13-82zm9 58zm-16 2zm17 37zm-18 25zm18 7zm11-110zm10 1zm6 27zm-14 46zm25-34z" stroke="#6eae61"/><path d="M0 0m98 120zm30 31zm-3 78zm112 41zm29 78zm23-67zm-1 4zm11 136zm-7 5zm19-156zm-11 7zm51-49zm12 159zm35-231zm55-63z" stroke="#779464"/><path d="M0 0m41 121zm74-24zm57 106zm13 23zm-8 176zm31-156zm9 161zm10-124zm16 104zm-13 14zm30-139zm20 31zm-1 39zm20 93zm8-147zm29-40zm-4 131zm63-280zm-19 286zm19 20zm-6 14zm28-359zm-1 44zm12-51z" stroke="#7b7f61"/><path d="M0 0m94 108zm5 31zm96 237zm5-145zm27 57zm7 93zm-5 9zm25-38zm40 101zm27-10zm46-73zm21-288zm10 279zm23-242zm-20 13zm41 22zm23-70z" stroke="#817269"/><path d="M0 0m94 63zm7 14zm6 48zm92 299zm10-130zm-4 124zm39-185zm3 12zm-11 137zm110-146zm50-70zm-14 199zm35-281zm6 9zm-2 16zm11-19zm-4 68zm36-40z" stroke="#836370"/><path d="M0 0m72 136zm27-24zm4-45zm23 155zm10 1zm37 5zm74 19zm27 27zm13 8zm10 149zm-3 22zm34-186zm66-79zm13-59zm54-9z" stroke="#835477"/><path d="M0 0m73 99zm-15 13zm63-50zm-16 18zm7 13zm34 128zm74 21zm77 159zm1 39zm22-8zm-15 12zm39-75zm55-256zm0 66zm-1 188zm1 45zm-14 2zm22-349zm0 21zm5 30zm8 50zm-16 226zm31-313zm5 297zm10-261z" stroke="#81407f"/><path d="M0 0m83 105zm28-9zm11 49zm-5 1zm29 67zm26 10zm48 12zm0 1zm-2 59zm1 123zm5 14zm-8 4zm33-157zm-20 17zm13 106zm-2 4zm22-133zm1 7zm18 0zm2 55zm16 49zm-3 23zm-8 26zm33-164zm-12 5zm6 0zm-9 6zm12 79zm-15 77zm42-196zm-20 30zm14 100zm-5 0zm62-298zm3 76zm-10 23zm-8 200zm22-315zm19 17zm-20 7zm7 22zm10 4zm-3 17zm3 10zm-5 234zm-10 3zm-4 2zm18 17zm13-330zm23 18zm5 10zm1 3zm-1 7zm6 26zm-15 5z" stroke="#7f3086"/><path d="M0 0m77 118zm12 19zm0 5zm14-44zm59 111zm55 23zm20 53zm14 72zm32-51zm1 132zm19-78zm40-112zm53-167zm-2 34zm1 250zm16-287zm7 4zm1 2zm-7 17zm5 50zm-16 219zm26-332zm31 51zm-8 55z" stroke="#7e228c"/></g><g font-size="3.10" stroke="#000" stroke-width="0.09"><text x="182.90" y="262.50" text-anchor="middle">−1.0</text><text x="166.00" y="251.32" text-anchor="end">−1.0</text><text x="202.07" y="262.50" text-anchor="middle">−0.5</text><text x="166.00" y="230.02" text-anchor="end">−0.5</text><text x="221.25" y="262.50" text-anchor="middle">0.0</text><text x="166.00" y="208.72" text-anchor="end">0.0</text><text x="240.43" y="262.50" text-anchor="middle">0.5</text><text x="166.00" y="187.42" text-anchor="end">0.5</text><text x="259.60" y="262.50" text-anchor="middle">1.0</text><text x="166.00" y="166.12" text-anchor="end">1.0</text></g><text x="217.10" y="266.50" text-anchor="middle" font-size="3.25">Dimension 1</text><text transform="translate(159.20 207.60) rotate(-90)" text-anchor="middle" font-size="3.25">Dimension 2</text><text x="166.80" y="155.80" font-size="5.00">BMI (Kg/m2)</text><rect x="269.40" y="183.10" width="11.00" height="59.10" fill="url(#cg)"/><path d="M269.40 195.30h2.20M280.40 195.30h-2.20M269.40 206.70h2.20M280.40 206.70h-2.20M269.40 218.30h2.20M280.40 218.30h-2.20M269.40 229.90h2.20M280.40 229.90h-2.20" stroke="#fff" stroke-width="0.55" fill="none"/><g font-size="4.50"><text x="283.10" y="196.92">28</text><text x="283.10" y="208.32">26</text><text x="283.10" y="219.92">24</text><text x="283.10" y="231.52">22</text></g><text x="269.80" y="179.50" font-size="4.90">BMI</text></g>
<g><path d="M322.26 157.50V257.70M341.54 157.50V257.70M316.20 239.55H416.20M360.81 157.50V257.70M316.20 218.25H416.20M380.09 157.50V257.70M316.20 196.95H416.20M399.36 157.50V257.70M316.20 175.65H416.20" stroke="#e3e3e3" stroke-width="0.85" fill="none"/><path d="M331.90 157.50V257.70M316.20 250.20H416.20M351.17 157.50V257.70M316.20 228.90H416.20M370.45 157.50V257.70M316.20 207.60H416.20M389.73 157.50V257.70M316.20 186.30H416.20M409.00 157.50V257.70M316.20 165.00H416.20" stroke="#e3e3e3" stroke-width="1.10" fill="none"/><g transform="translate(316 158) scale(0.2)" fill="none" stroke-linecap="round" stroke-width="13.0"><path d="M0 0m86 78zm11 51zm-15 2zm25-25zm1 10zm-4 4zm17 3zm-19 13zm18 21zm5-82zm12 149zm20-21zm2 11zm21 2zm11 13zm-2 2zm18 0zm5 5zm5 162zm-9 24zm29-190zm-12 30zm8 122zm4 9zm14-152zm38 95zm4 61zm-5 3zm14-26zm18 50zm-9 17zm-8 13zm45-204zm0 120zm17 6zm-4 5zm13 15zm25-284zm0 64zm-1 196zm-23 4zm17 36zm10-306zm1 17zm11 245zm-9 42zm26-347zm-1 15zm7 34zm9 29zm-16 27zm34-52z" stroke="#6db949"/><path d="M0 0m34 124zm14 8zm25-42zm-10 26zm0 4zm-5 95zm8 6zm6 1zm-17 2zm17 1zm-17 4zm13 10zm-1 8zm32-182zm-11 5zm3 4zm6 0zm-14 16zm12 23zm-11 0zm-3 15zm16 12zm-4 1zm-10 87zm4 1zm-6 1zm16 5zm-6 5zm2 2zm-16 2zm41-179zm-9 7zm15 5zm-9 11zm2 2zm-13 7zm2 2zm18 8zm-9 2zm-7 3zm-6 17zm16 1zm-3 14zm-4 9zm1 3zm-8 64zm16 2zm-7 4zm-13 18zm6 1zm31-174zm-1 1zm0 2zm-4 2zm-5 24zm1 5zm1 49zm2 19zm12 42zm4 4zm21-24zm-12 16zm0 3zm15 11zm8 10zm17 166zm0 10zm17-185zm10 58zm1 7zm-19 95zm18 9zm-16 31zm32-168zm-2 1zm-11 26zm5 1zm15 83zm-4 2zm-4 10zm-7 23zm-1 22zm20-186zm15 18zm-5 8zm7 3zm-1 1zm-14 86zm3 7zm24-63zm-4 42zm1 2zm12 2zm11 29zm-7 36zm-9 20zm10 10zm-7 10zm1 2zm25-192zm-2 18zm-10 3zm11 75zm2 1zm-7 28zm-2 9zm7 61zm34-226zm-12 7zm-2 2zm15 5zm-5 1zm-5 9zm7 1zm-7 6zm13 103zm-14 5zm12 7zm4-158zm5 2zm-5 15zm7 140zm13 6zm23-297zm-6 1zm5 18zm-1 3zm6 7zm-5 50zm6 1zm-6 8zm5 3zm-17 11zm12 172zm-8 16zm4 15zm3 5zm21-360zm6 16zm-13 7zm13 2zm-10 28zm7 5zm0 28zm-2 8zm7 2zm2 20zm-7 4zm-2 10zm8 226zm-20 12zm39-355zm-16 7zm9 0zm-8 10zm13 3zm-4 2zm14 3zm-18 13zm-6 14zm3 16zm11 13zm-1 8zm9 3zm-6 9zm6 9zm8-66zm-3 12zm15 17zm-16 0zm17 6zm-5 3zm-7 0zm1 6z" stroke="#6bbb54"/><path d="M0 0m49 120zm-5 109zm30-144zm-2 14zm1 6zm-3 13zm-19 7zm15 90zm1 2zm-14 10zm6 17zm-6 0zm44-172zm-11 6zm13 9zm-12 3zm6 1zm4 7zm-2 1zm-13 3zm14 10zm-7 32zm5 72zm-7 2zm-11 8zm6 11zm3 3zm-1 1zm10 1zm-4 3zm-9 6zm40-183zm-14 9zm13 8zm-7 10zm4 2zm-5 4zm-11 2zm3 7zm4 10zm-1 6zm-2 3zm15 29zm2 7zm-19 63zm7 10zm-8 7zm37-180zm-8 6zm1 25zm-4 44zm6 36zm1 0zm0 42zm39-20zm-8 2zm-9 1zm0 9zm5 0zm-7 12zm33-2zm11 178zm18-169zm-15 16zm15 41zm-8 9zm8 5zm2 1zm-8 3zm-1 75zm-4 5zm18 3zm-1 0zm-12 27zm8 5zm-11 10zm9 3zm2 4zm22-38zm1 1zm-15 9zm40-64zm5 4zm3-82zm24 8zm-9 8zm-5 44zm9 59zm2 20zm-7 13zm1 24zm-3 4zm33-177zm-17 10zm10 79zm-13 44zm7 7zm10 16zm-6 35zm-5 3zm26-226zm3 13zm-1 9zm-2 3zm10 104zm-15 0zm20 12zm-22 99zm34-103zm-2 4zm13 17zm1 1zm23-316zm-4 23zm4 5zm2 7zm2 59zm-7 2zm0 3zm-3 203zm-4 10zm2 7zm7 1zm28-345zm-10 2zm6 5zm6 1zm-14 7zm7 9zm-3 6zm5 29zm-2 6zm-6 12zm0 15zm-10 1zm10 5zm0 13zm7 205zm-16 30zm3 1zm32-301zm2 7zm9 1zm-3 2zm-10 3zm-5 1zm2 5zm6 12zm-3 19zm5 1zm21-65zm-2 9zm11 14zm3 9zm-6 8zm-5 2z" stroke="#6abc60"/><path d="M0 0m71 209zm-17 23zm40-162zm-6 2zm-8 40zm-4 23zm50-5zm25 91zm17 1zm37 22zm-4 0zm16 64zm-5 82zm30-119zm3 103zm18-26zm40 71zm36-173zm14 127zm46-271zm-4 3zm-6 255zm32-232zm0 237zm-5 4zm-12 61zm35-372z" stroke="#6eae61"/><path d="M0 0m312 440zm108-394zm2 59z" stroke="#779464"/><path d="M0 0m46 120zm115 102zm45 21zm17 51zm13-51zm55 181zm153-350zm-8 14zm1 70zm24-18z" stroke="#7b7f61"/><path d="M0 0m223 384zm75 28zm54-41zm65-331zm5 346zm-22 27z" stroke="#817269"/><path d="M0 0m229 234zm50 108zm31 96zm60-42zm23-212zm-5 174zm-10 27zm58-225z" stroke="#836370"/><path d="M0 0m44 115zm125 110zm47 20zm75 196zm5 8zm13-36zm73-228zm4 1zm17-93zm17 31zm-10 7z" stroke="#835477"/><path d="M0 0m77 115zm85 117zm29-21zm24 38zm1 2zm12 48zm2 100zm50-53zm16 37zm-2 76zm20-186zm-3 3zm11 157zm15-173zm4 101zm9 14zm56-197zm-6 193zm9 14zm-2 10zm53-270z" stroke="#81407f"/><path d="M0 0m76 101zm111 106zm36 23zm-5 56zm-15 116zm32-154zm1 144zm3 3zm11-146zm8 2zm14 16zm2 4zm10 48zm12 75zm18-129zm-13 138zm10 4zm-7 12zm0 11zm57-46zm29-216zm3 201zm-2 27zm31-258zm-4 11zm-12 231zm-3 24zm33-348zm8 52zm-6 32zm19-48zm-6 26z" stroke="#7f3086"/><path d="M0 0m54 110zm6 5zm12 19zm93 75zm-8 13zm50 77zm-5 79zm41-143zm-4 150zm-9 31zm57-125zm-3 49zm6 2zm0 111zm10-17zm32-172zm84-100zm-4 207zm0 2zm15-245zm31-44zm1 19z" stroke="#7e228c"/><path d="M0 0m53 105zm1 1zm0 21zm11 103zm-1 9zm28-134zm-9 116zm0 12zm4 2zm5 12zm31-181zm-6 35zm2 4zm-1 22zm10-22zm93 139zm-2 141zm-7 7zm26-130zm7 10zm3 5zm-23 21zm23 66zm-4 20zm-15 25zm24-144zm26 51zm13 75zm1 37zm19-73zm-6 98zm43-220zm5 148zm41-197zm27-136zm-1 11zm-5 45zm-10 33zm-2 40zm35-90zm3 7zm-7 22zm-7 21z" stroke="#6db949"/><path d="M0 0m46 127zm3 111zm-10 10zm29-162zm-4 11zm0 1zm2 8zm1 6zm-16 6zm23 5zm-22 94zm14 5zm0 4zm31-162zm-7 11zm7 9zm-19 0zm8 6zm-8 7zm16 21zm-1 7zm-5 6zm1 83zm-13 7zm22 16zm-2 2zm-16 2zm14 3zm5 7zm11-184zm3 9zm-5 11zm14 3zm-4 3zm3 4zm2 6zm1 2zm-19 3zm4 11zm11 0zm-13 7zm12 2zm-17 5zm-2 86zm18 3zm-4 20zm-12 6zm32-181zm-5 3zm-4 36zm4 33zm0 4zm11 40zm-12 34zm-1 6zm-2 2zm49-23zm-4 7zm-9 9zm25 9zm12 9zm-6 149zm7 14zm-7 13zm6 11zm-12 8zm17-214zm16 17zm5 0zm-23 2zm18 155zm1 7zm3 15zm-7 24zm25-196zm-11 1zm8 130zm-1 5zm4 3zm-4 11zm-8 18zm27-163zm17 36zm-3 64zm-2 2zm-10 5zm-5 13zm25-91zm19 2zm2 6zm-17 2zm0 29zm-5 5zm4 11zm2 9zm-4 9zm18 38zm-7 17zm-1 8zm-7 26zm7 15zm0 8zm29-197zm-3 2zm8 2zm-23 6zm6 5zm-5 110zm1 14zm14 28zm-16 12zm49-217zm-8 3zm1 13zm-17 2zm12 12zm29-54zm-13 23zm-3 13zm2 5zm4 137zm9 6zm23-305zm3 11zm0 2zm5 10zm1 6zm0 6zm-12 59zm6 9zm-8 9zm2 178zm-1 29zm3 10zm35-357zm-10 10zm-2 29zm6 9zm6 5zm2 34zm-5 6zm-7 24zm-11 4zm2 190zm7 5zm2 1zm-5 12zm1 13zm8 3zm-8 2zm20-352zm3 3zm4 6zm1 12zm10 6zm0 7zm-11 38zm2 2zm12 14zm-14 0zm11 7zm3 7zm-1 13zm26-84zm-21 20zm0 8zm8 17z" stroke="#6bbb54"/><path d="M0 0m46 104zm1 137zm1 2zm11-143zm7 1zm2 13zm-14 6zm1 11zm5 85zm-4 3zm17 4zm-8 3zm-15 5zm4 0zm16 1zm-7 0zm0 5zm-10 1zm16 2zm-19 1zm22 6zm25-185zm2 26zm0 8zm-21 1zm7 7zm-8 22zm1 10zm0 0zm1 74zm-3 3zm7 5zm15 20zm-17 2zm12 14zm23-195zm-12 5zm3 3zm0 13zm2 43zm1 7zm4 12zm-2 1zm-8 7zm-1 66zm22-87zm42 67zm-2 2zm-1 3zm-8 7zm-2 1zm20 17zm-1 5zm10-23zm1 12zm-6 5zm9 2zm-10 1zm6 6zm5 171zm13-195zm4 4zm1 3zm8 13zm-2 5zm11 1zm-22 1zm23 0zm-1 2zm-8 6zm-1 59zm2 92zm-4 22zm1 2zm24-192zm4 11zm-8 12zm11 1zm1 6zm-15 17zm-4 6zm22 82zm-14 17zm6 3zm-2 16zm1 1zm-11 23zm38-168zm-11 7zm4 10zm40 3zm-17 10zm2 29zm-7 12zm6 6zm8 76zm7 13zm-13 5zm32-165zm2 1zm-16 111zm-3 18zm16 30zm-6 16zm-6 17zm-3 1zm10 17zm33-241zm2 14zm-6 1zm3 0zm-9 1zm-1 5zm-4 15zm25-42zm-2 2zm-1 3zm20 144zm-21 7zm15 6zm32-308zm0 24zm-1 64zm-15 20zm-4 186zm-2 8zm18 33zm15-353zm-2 17zm11 3zm-6 1zm4 0zm-7 2zm9 9zm-4 7zm8 19zm-4 7zm3 3zm1 35zm-16 15zm4 2zm2 189zm6 2zm5 10zm-12 8zm-8 5zm38-347zm-9 3zm10 7zm-7 4zm11 14zm-2 6zm-6 5zm4 1zm2 1zm-14 0zm1 5zm3 3zm1 11zm-8 10zm16 1zm6 5zm-17 3zm12 7zm5 6zm-15 6zm-6 7zm-2 8zm30-81zm-5 25z" stroke="#6abc60"/><path d="M0 0m51 114zm45-18zm-1 47zm-13 82zm42-143zm-16 37zm1 124zm23-174zm74 333zm9 27zm59-94zm-17 20zm39-68zm-1 147zm15-177zm-4 138zm65-14zm22-13zm14-199zm4 6zm-5 229zm21-341zm10 3zm-4 18zm16 14zm-9 7zm-3 4zm-6 8zm29-15z" stroke="#6eae61"/><path d="M0 0m55 108zm129 114zm54 29zm82-4zm-7 114zm84-244zm26-3zm-10 19zm1 264zm13-315zm11 38zm19-12z" stroke="#779464"/><path d="M0 0m109 123zm28 97zm54 196zm24-180zm43 117zm23-38zm10 109zm91-235zm8 189zm-8 7zm39-216zm4 202z" stroke="#7b7f61"/><path d="M0 0m98 112zm63 95zm19 25zm4 161zm18-153zm96 188zm4-45zm2 23zm54-35zm33-200zm15-106zm45 17z" stroke="#817269"/><path d="M0 0m116 227zm19-13zm80 11zm-6 199zm33 0zm34-90zm19 66zm-1 4zm121-331z" stroke="#836370"/><path d="M0 0m184 220zm-4 189zm141 38zm-16 1zm39-69zm55 31zm21-314zm-18 302zm62-299zm0 33z" stroke="#835477"/><path d="M0 0m78 77zm65 139zm109 57zm34 55zm10 132zm5-90zm122-314zm-12 313zm21-312z" stroke="#81407f"/><path d="M0 0m82 138zm25-25zm9 125zm9-19zm35 12zm23 160zm5 8zm27-176zm-8 191zm8 19zm12-195zm15 22zm-16 161zm28-157zm2 9zm29 44zm11 99zm15-142zm2 150zm-2 21zm17-83zm54 2zm13 8zm-11 7zm28-295zm9 60zm-17 13zm6 213zm-1 25zm37-324zm-19 23zm15 45zm-10 12zm22-74z" stroke="#7f3086"/><path d="M0 0m74 88zm133 139zm52 38zm22 50zm2 18zm11 11zm23 82zm10-171zm92-182zm-11 40zm11 20zm-17 230zm21 11zm15-289zm6 56zm19-38z" stroke="#7e228c"/><path d="M0 0m45 231zm21 6zm6 6zm-14 2zm20-160zm1 8zm38-4zm-13 42zm-1 93zm1 11zm14 0zm8-143zm66 143zm3 162zm28-97zm-6 82zm-12 45zm21-176zm5 14zm8 107zm5 14zm9-144zm2 14zm10 16zm5 63zm-2 3zm-3 9zm13-75zm18 121zm23-139zm9-16zm43 146zm25-314zm-12 318zm23-319zm-5 14zm11 19zm6 54zm-8 225zm-5 8zm33-304zm-12 5zm0 14zm1 29zm17 7zm-8 14zm21-60zm-3 6zm13 18z" stroke="#6db949"/><path d="M0 0m48 231zm11-114zm14 13zm-10 89zm-3 3zm0 9zm-5 2zm44-171zm-5 29zm-6 24zm5 9zm-6 3zm10 18zm-9 72zm-9 7zm2 7zm11 20zm30-208zm-5 26zm7 3zm-7 1zm-4 16zm-12 8zm16 0zm3 26zm-11 4zm10 0zm-14 6zm15 4zm-14 17zm13 7zm-8 79zm19-177zm6 8zm-11 7zm2 0zm0 22zm2 10zm-1 22zm16 94zm12-23zm-6 11zm3 6zm11 3zm14-20zm13 6zm4 21zm-13 3zm11 1zm-1 149zm1 6zm0 6zm-3 2zm2 1zm-6 0zm10 3zm2 9zm-3 3zm10-194zm5 9zm11 59zm-6 2zm-4 12zm-5 80zm-5 23zm9 11zm12 17zm2 1zm-11 2zm18-197zm2 13zm8 5zm-7 3zm3 2zm-4 3zm-1 4zm11 18zm-1 79zm0 24zm-4 0zm-4 1zm1 5zm6 22zm14-151zm13 19zm25-4zm-16 16zm2 18zm5 2zm11 97zm4 20zm-3 2zm9-174zm15 2zm-3 6zm-6 85zm-2 55zm5 6zm-8 5zm18 23zm19-212zm-8 2zm5 3zm-1 2zm-3 2zm9 9zm-5 2zm-7 1zm-2 12zm10 102zm-6 7zm17-158zm19 155zm25-191zm-11 1zm-5 192zm18 1zm-19 20zm32-363zm8 4zm-10 9zm0 14zm14 1zm-17 2zm10 0zm8 1zm-17 7zm6 1zm10 9zm-17 3zm15 1zm-17 6zm-4 11zm24 3zm-5 28zm-4 1zm-1 17zm-4 7zm13 2zm-12 1zm-1 4zm0 7zm-7 192zm15 6zm-11 3zm0 36zm23-357zm8 25zm5 6zm-17 6zm22 11zm-19 25zm9 20zm13-76zm5 28zm6 20zm7 6zm-18 1zm9 10zm-7 31z" stroke="#6bbb54"/><path d="M0 0m27 126zm14 102zm1 1zm2 8zm27-150zm-9 5zm12 1zm-16 14zm-2 3zm17 9zm-19 5zm17 4zm-20 98zm0 9zm35-161zm4 10zm3 1zm-15 0zm-3 14zm4 1zm-1 7zm12 0zm-4 3zm-6 2zm3 13zm16 15zm-2 84zm-22 2zm15 14zm-13 2zm47-177zm-14 20zm12 26zm-1 1zm-9 3zm0 5zm-9 12zm15 12zm-3 13zm-9 0zm1 1zm17 4zm5-95zm7 7zm-8 3zm1 24zm13 72zm0 4zm-9 42zm-8 1zm8 0zm33-24zm-4 18zm2 5zm-10 4zm17 8zm-4 1zm12-31zm1 21zm14 1zm-14 3zm13 3zm-9 1zm14 146zm-2 19zm-5 4zm8 6zm-2 2zm-9 7zm8 9zm19-171zm3 32zm6 16zm-21 97zm-1 6zm9 1zm12 0zm0 4zm-22 17zm10 7zm13 1zm-3 3zm14-196zm13 0zm-12 33zm5 4zm2 98zm-4 18zm-14 3zm4 12zm9 15zm-6 6zm1 1zm28-157zm4 5zm2 6zm-14 78zm-2 5zm44-87zm-7 15zm-6 37zm-6 2zm3 5zm3 1zm17 37zm-5 15zm1 69zm28-207zm0 12zm-2 5zm-10 90zm-9 7zm3 16zm6 53zm-1 17zm2 1zm29-221zm-4 13zm-11 8zm20 2zm-10 105zm6 4zm8-143zm0 2zm3 8zm21 155zm19-318zm1 25zm-3 77zm7 6zm-12 12zm7 171zm-5 9zm-5 6zm12 24zm-7 1zm-12 5zm17 5zm28-375zm-10 3zm0 2zm0 5zm3 44zm-10 18zm12 0zm5 1zm-1 5zm3 10zm-8 34zm-7 4zm3 13zm-9 1zm15 186zm2 16zm-12 17zm20-354zm3 2zm1 4zm9 9zm3 1zm-7 3zm-11 6zm2 4zm16 13zm-17 3zm2 20zm14 11zm-3 7zm-6 2zm6 26zm0 3zm33-42zm-4 4zm-16 8z" stroke="#6abc60"/><path d="M0 0m89 91zm-4 1zm-3 32zm15 9zm8-34zm-1 24zm11 34zm3 79zm46-35zm-3 5zm9 16zm-16 3zm23-19zm29 215zm1 1zm22-175zm28 105zm47-70zm7 150zm4 14zm-8 11zm38-233zm-6 31zm43 117zm5 2zm25-283zm6 28zm-15 292zm26-272zm9 14z" stroke="#6eae61"/><path d="M0 0m221 414zm15-147zm17 101zm25-57zm21 103zm-7 10zm-9 15zm12 4zm-10 12zm24 7zm105-331zm17-71zm31 66z" stroke="#779464"/><path d="M0 0m66 101zm25 38zm122 275zm70-136zm20 157zm92-271zm23-129zm17 96z" stroke="#7b7f61"/><path d="M0 0m106 110zm72 100zm28 200zm3 18zm18-190zm-2 169zm81-139zm68 115zm71-321zm-9 31zm5 48zm6 14z" stroke="#817269"/><path d="M0 0m51 102zm39 37zm95 89zm16 152zm34-107zm-7 150zm71 27zm6-3zm27-179z" stroke="#836370"/><path d="M0 0m190 230zm3 191zm44-161zm8 12zm39 56zm14 92zm20 0zm70-334zm22 49zm-6 36z" stroke="#835477"/><path d="M0 0m59 118zm151 178zm36 74zm65-136zm-8 166zm89-224zm-8 227zm23-246zm16 14z" stroke="#81407f"/><path d="M0 0m73 122zm6-13zm2 31zm19-7zm72 70zm24 211zm2 2zm15-179zm2 60zm6 110zm-8 1zm18-169zm15 159zm-12 8zm4 13zm42-145zm0 6zm5 21zm4 108zm7 25zm-8 16zm8 9zm-11 15zm20-17zm20-96zm52 8zm45-275zm-18 23zm5 59zm1 201zm-6 8zm1 12zm4 3zm31-4z" stroke="#7f3086"/><path d="M0 0m186 216zm55 39zm2 133zm11-132zm14 21zm18 18zm4 106zm1 9zm-5 42zm14-26zm41-63zm29 26zm44-221zm-3 224zm27-258z" stroke="#7e228c"/><path d="M0 0m49 121zm5-13zm8 109zm1 15zm-6 9zm42-172zm-6 8zm-11 150zm-6 11zm8 2zm12 2zm23-110zm4 23zm-11 89zm15-130zm3 41zm-4 5zm14 19zm6 37zm23 3zm-1 9zm14-20zm54 63zm-2 114zm38-47zm8-49zm4 12zm27-31zm-5 133zm31-175zm-8 18zm-2 11zm36 130zm27-297zm-2 95zm24-135zm7 57zm-5 17zm2 3zm-4 262zm35-319zm-3 21zm-3 15zm5 32zm3 16zm-7 6z" stroke="#6db949"/><path d="M0 0m41 232zm0 7zm25-144zm-8 9zm2 6zm-6 2zm20 2zm-9 2zm3 3zm-8 108zm-5 12zm4 3zm15 8zm23-171zm-10 2zm3 4zm0 1zm-15 9zm24 0zm-2 14zm-21 2zm3 5zm11 3zm5 0zm-9 21zm0 74zm-9 9zm20 18zm-18 1zm22-179zm21 14zm0 1zm-16 2zm5 9zm0 5zm3 9zm3 4zm2 0zm-15 5zm12 3zm4 7zm-6 7zm-13 12zm21 7zm-15 1zm13 0zm3 1zm-5 83zm-17 0zm25-167zm9 20zm-3 72zm-2 2zm14 16zm-7 48zm-8 6zm36-19zm-7 4zm4 5zm-6 2zm33 5zm5 152zm4 34zm8-193zm-6 1zm17 1zm-9 10zm2 2zm-10 3zm24 44zm-8 14zm-3 7zm-6 81zm7 2zm9 2zm-11 15zm-2 6zm8 2zm30-138zm-16 10zm8 2zm-12 1zm15 102zm-18 2zm11 3zm8 7zm-13 17zm1 9zm24-155zm3 7zm22 23zm2 6zm2 20zm-5 19zm19 44zm-3 1zm-1 42zm-5 24zm14-177zm18 154zm-15 0zm13 23zm-16 1zm37-236zm6 6zm-6 12zm1 15zm7 115zm-1 12zm11-3zm9 1zm28-289zm-5 79zm-4 2zm-4 7zm15 1zm-3 5zm0 4zm-20 0zm22 175zm-20 30zm19 5zm16-360zm-7 10zm-1 51zm18 28zm-8 10zm-7 8zm-4 3zm20 2zm-17 11zm15 6zm-20 16zm7 181zm2 0zm7 28zm16-348zm16 33zm-10 7zm-6 5zm3 9zm-5 0zm6 8zm9 5zm-2 14zm4 7zm-23 5zm24 3zm0 6zm-4 6zm-20 1zm38-71zm-6 13zm2 13zm13 4zm-20 7zm2 5zm17 1z" stroke="#6bbb54"/><path d="M0 0m47 120zm-14 2zm-2 1zm8 8zm6 96zm-2 6zm-1 5zm19-145zm3 16zm0 6zm2 99zm-11 5zm12 0zm-14 16zm-3 1zm23 4zm0 2zm-17 0zm42-177zm-4 25zm-5 0zm0 13zm-2 1zm12 1zm-8 2zm-1 10zm-14 5zm6 10zm7 1zm7 6zm-6 91zm5 7zm3 2zm-18 1zm17 3zm-19 1zm2 7zm18 1zm11-181zm12 5zm-8 11zm2 25zm-11 0zm10 2zm1 16zm3 8zm-12 2zm7 3zm5 2zm-11 86zm-3 9zm27-175zm-2 36zm-2 2zm3 49zm-1 0zm4 3zm7 19zm6 35zm-21 21zm29-25zm1 21zm36-19zm2 22zm-1 6zm1 2zm4 148zm-17 23zm8 1zm18-190zm3 9zm9 74zm-2 78zm-8 9zm-8 1zm18 14zm-16 10zm4 3zm1 6zm5 7zm19-202zm3 18zm2 22zm1 21zm-10 7zm22 85zm-22 8zm5 3zm-4 9zm11 6zm-11 6zm1 7zm24-173zm-2 10zm-1 7zm0 18zm23 45zm-18 44zm24-62zm-1 17zm-3 10zm14 3zm10 52zm-14 27zm9 14zm-3 18zm13-185zm6 12zm12 80zm-19 34zm-3 13zm10 11zm-4 25zm41-211zm1 2zm-4 0zm-6 6zm-12 8zm15 8zm-7 5zm15 110zm-9 6zm13-151zm2 150zm15 3zm-11 1zm9 4zm-1 3zm30-279zm-6 60zm8 9zm-4 210zm-2 14zm-15 1zm13 8zm-12 3zm33-380zm1 6zm11 2zm-11 13zm-9 21zm8 3zm3 11zm-12 24zm11 6zm3 4zm-5 24zm-9 4zm-3 16zm2 5zm19 0zm-17 11zm10 193zm9 3zm-23 2zm27-341zm0 1zm14 15zm-14 17zm11 22zm7 4zm-16 0zm12 7zm-1 15zm-8 9zm6 14zm-12 7zm21 4zm-6 4zm-14 7zm-1 219zm25-283zm20 4zm-16 4zm7 1zm-3 2zm-1 27zm17-38z" stroke="#6abc60"/><path d="M0 0m74 92zm8-15zm2 18zm0 28zm4 2zm19 28zm10 1zm49 46zm24 15zm31 81zm12-53zm16 33zm-3 103zm-3 5zm20-40zm16-66zm24 104zm15 59zm29-67zm27 14zm12-300zm6 11zm-3 302zm25-373zm23 36zm9 5zm-16 74zm21-76z" stroke="#6eae61"/><path d="M0 0m145 181zm8 18zm128 113zm19 76zm5 41zm82-17zm25-270zm-12 255z" stroke="#779464"/><path d="M0 0m97 137zm66 66zm12 21zm67 184zm25-128zm38 145zm86-321zm2 275zm44-333zm-7 45z" stroke="#7b7f61"/><path d="M0 0m93 108zm145 273zm19-112zm66 171zm95-403zm-5 82zm39-31z" stroke="#817269"/><path d="M0 0m32 122zm54-1zm136 262zm33-12zm141-8zm-14 26zm43-309zm6 46zm-6 22zm0 23z" stroke="#836370"/><path d="M0 0m48 103zm74 129zm46-30zm50 24zm20 195zm51-108zm9 167zm99-315zm-7 10zm0 2zm5 201zm15-249zm2 32zm-10 222zm28-334z" stroke="#835477"/><path d="M0 0m53 97zm134 291zm2 13zm17-173zm8 170zm17-154zm13 2zm18 6zm27 174zm16-5zm15 28zm-15 14zm110-385zm2 11zm-16 287zm33-319zm-5 79z" stroke="#81407f"/><path d="M0 0m74 121zm33 98zm20-59zm41 67zm21 162zm-1 2zm27 7zm-15 2zm3 14zm8 6zm26-193zm5 43zm-9 127zm40-68zm13-6zm-2 89zm10 29zm34-75zm30 4zm16 18zm8 1zm25-289zm3 11zm3 40zm-12 6zm25-102zm8 18zm-7 15zm4 44zm18 11z" stroke="#7f3086"/><path d="M0 0m49 108zm30-1zm50 119zm82 207zm22-195zm10 141zm-16 22zm9 12zm3 10zm18-67zm21-53zm51 62zm65 49zm22-290zm-4 241zm13-236z" stroke="#7e228c"/><path d="M0 0m48 240zm3-110zm2 92zm19 19zm25-176zm-1 1zm2 54zm-4 27zm-19 101zm43-170zm-3 47zm14-58zm5 91zm-6 2zm15 67zm21-21zm13 25zm19 3zm12 12zm22 144zm-4 15zm15 1zm9-31zm44-97zm18-8zm31-36zm-9 8zm63-161zm-20 294zm5 35zm21-355zm21 18zm-14 29zm-10 11zm23 55zm-23 193zm20 21zm11-279zm30-6zm5 21zm2 10z" stroke="#6db949"/><path d="M0 0m68 91zm-3 10zm-13 29zm0 2zm7 105zm-5 1zm9 9zm29-173zm-9 2zm10 2zm2 0zm-14 4zm13 26zm5 4zm-22 6zm2 1zm15 6zm-5 12zm-9 1zm9 83zm-4 0zm0 0zm14 5zm-4 1zm-12 2zm6 5zm8 3zm-8 5zm-3 7zm4 4zm31-191zm-9 0zm8 9zm3 2zm-22 4zm10 15zm-9 1zm14 4zm-13 1zm0 14zm10 2zm8 12zm-16 10zm16 1zm-13 7zm10 2zm-16 73zm14 12zm-14 13zm10 1zm-12 7zm33-184zm-3 0zm-2 23zm5 56zm-5 4zm9 11zm0 4zm4 49zm5 6zm-19 1zm3 1zm1 6zm-6 0zm29-25zm8 5zm10 18zm4-4zm14 8zm4 152zm-10 12zm6 23zm11-187zm17 1zm4 3zm-5 1zm-11 1zm-3 159zm21 25zm-19 2zm7 5zm34-187zm1 4zm1 2zm-2 3zm-8 35zm-3 96zm9 6zm-13 14zm33-146zm4 2zm-5 16zm-11 84zm38-76zm-7 37zm4 2zm-12 10zm9 5zm-8 13zm13 72zm-4 13zm14 5zm0 2zm-4 13zm22-179zm-12 6zm15 79zm-16 25zm-4 24zm10 26zm37-192zm-7 9zm7 110zm-1 8zm3 10zm20-9zm20-288zm8 27zm-1 6zm3 6zm-9 50zm-4 202zm11 22zm-1 8zm-15 4zm4 6zm31-363zm-4 5zm-7 1zm12 13zm-14 11zm16 4zm2 0zm-3 10zm-4 22zm-5 13zm-6 3zm18 1zm-3 18zm-18 5zm17 205zm-1 6zm-16 0zm6 7zm-1 32zm25-363zm-3 20zm7 7zm4 3zm-1 6zm8 13zm-20 1zm22 3zm-1 35zm-2 23zm-14 4zm30-69zm-5 4zm6 5zm-1 8zm7 17zm-15 5zm9 0zm-9 4z" stroke="#6bbb54"/><path d="M0 0m41 113zm-6 7zm6 1zm-4 7zm11 3zm-14 0zm15 115zm21-154zm3 7zm-15 13zm-4 10zm18 14zm0 83zm-12 8zm11 7zm-17 5zm18 8zm-17 1zm39-185zm-1 2zm1 3zm-1 4zm4 6zm-11 3zm12 17zm-19 21zm2 3zm3 7zm15 10zm-16 1zm7 1zm-1 1zm4 73zm-16 1zm3 8zm7 2zm8 1zm-4 2zm3 15zm9-176zm-2 6zm4 6zm-4 5zm11 8zm-7 2zm6 1zm-2 11zm13 1zm-22 23zm13 8zm-9 2zm10 10zm6 0zm3 75zm-2 2zm-6 2zm-8 2zm14 1zm11-169zm3 103zm-7 8zm15 37zm-7 11zm36 0zm3-17zm23 19zm-10 161zm-5 9zm-1 6zm39-166zm-1 1zm-16 3zm16 3zm-3 4zm-8 0zm13 41zm2 2zm-14 5zm14 9zm-8 98zm2 6zm2 11zm-14 0zm11 4zm-1 14zm29-203zm-9 11zm8 17zm-4 5zm-6 1zm6 2zm-3 3zm-2 1zm-7 10zm0 5zm20 90zm-11 4zm-12 10zm18 10zm-5 16zm23-168zm0 12zm10 4zm1 63zm-12 19zm-5 4zm33-70zm1 3zm-5 21zm-3 26zm-1 8zm10 63zm7 4zm-12 31zm14 11zm-4 4zm6-176zm6 3zm12 79zm-8 91zm-5 9zm42-223zm-10 2zm8 2zm-2 8zm0 1zm-8 7zm-7 11zm5 102zm6 1zm12-142zm18 154zm27-293zm-6 4zm5 17zm2 56zm-8 13zm-3 6zm-5 4zm-3 2zm15 0zm-11 174zm15 5zm-15 1zm15 33zm13-369zm2 4zm-4 37zm3 2zm8 9zm-10 9zm12 1zm-16 2zm8 2zm7 5zm2 13zm-12 1zm11 16zm-3 1zm3 6zm-21 5zm24-113zm4 3zm9 9zm-4 11zm-1 1zm11 0zm-1 4zm-18 25zm5 18zm5 26zm0 0zm-2 4zm9 10zm-4 0zm0 12zm4 218zm-17 6zm31-305zm5 10zm4 1zm-3 2zm-9 4zm-1 13zm0 8zm0 29z" stroke="#6abc60"/><path d="M0 0m60 109zm32 130zm11-172zm19 78zm78 87zm2 9zm36 29zm-1 158zm38-154zm23 127zm-12 13zm9 25zm13-161zm-8 134zm15 14zm-9 18zm85-346zm0 311zm29-327zm-5 11zm-2 3zm5 27zm-10 27zm-7 29zm1 193zm31-282zm34-6zm-5 36z" stroke="#6eae61"/><path d="M0 0m72 120zm163 162zm121 90zm41-7zm23 24z" stroke="#779464"/><path d="M0 0m45 118zm62 7zm39 88zm98 34zm0 16zm5 16zm-22 10zm40 59zm8-17zm30 29zm-4 65zm20 7zm14-62zm51 44zm33-364zm-2 101zm25-61zm8-4z" stroke="#7b7f61"/><path d="M0 0m183 235zm23-18zm13 78zm104-26zm-22 115zm-1 37zm123-312zm-17 283zm32-312z" stroke="#817269"/><path d="M0 0m202 233zm31 58zm-3 105zm5 1zm-8 36zm58-119zm23 116zm80-345zm-12 106z" stroke="#836370"/><path d="M0 0m75 106zm129 134zm3 189zm74-136zm104 81z" stroke="#835477"/><path d="M0 0m83 105zm22 28zm40 75zm29 20zm3 174zm47 30zm6-199zm52 47zm11 146zm61-55zm11 16zm32-315zm0 0zm-15 295zm-5 30zm10 4zm22-315zm-3 322zm-5 4zm68-297z" stroke="#81407f"/><path d="M0 0m79 115zm-3 6zm40 9zm-15 93zm72-20zm12 23zm11 150zm6 56zm31-191zm-3 55zm34-16zm23 53zm8 57zm3 41zm-6 25zm12-20zm10 2zm9 5zm72-255zm-16 204zm30-327zm-4 94zm-1 2zm17 5zm-16 204z" stroke="#7f3086"/><path d="M0 0m73 86zm-8 31zm106 92zm25 192zm3 23zm14-2zm24-30zm32-49zm20 90zm21-159zm16-4zm88-99zm-11 199z" stroke="#7e228c"/></g><g font-size="3.10" stroke="#000" stroke-width="0.09"><text x="331.90" y="262.50" text-anchor="middle">−1.0</text><text x="314.80" y="251.32" text-anchor="end">−1.0</text><text x="351.17" y="262.50" text-anchor="middle">−0.5</text><text x="314.80" y="230.02" text-anchor="end">−0.5</text><text x="370.45" y="262.50" text-anchor="middle">0.0</text><text x="314.80" y="208.72" text-anchor="end">0.0</text><text x="389.73" y="262.50" text-anchor="middle">0.5</text><text x="314.80" y="187.42" text-anchor="end">0.5</text><text x="409.00" y="262.50" text-anchor="middle">1.0</text><text x="314.80" y="166.12" text-anchor="end">1.0</text></g><text x="366.20" y="266.50" text-anchor="middle" font-size="3.25">Dimension 1</text><text transform="translate(308.00 207.60) rotate(-90)" text-anchor="middle" font-size="3.25">Dimension 2</text><text x="315.60" y="155.80" font-size="5.00">ALT (IU/L)</text><rect x="418.90" y="183.10" width="11.00" height="59.10" fill="url(#cg)"/><path d="M418.90 194.60h2.20M429.90 194.60h-2.20M418.90 206.70h2.20M429.90 206.70h-2.20M418.90 218.30h2.20M429.90 218.30h-2.20M418.90 229.90h2.20M429.90 229.90h-2.20" stroke="#fff" stroke-width="0.55" fill="none"/><g font-size="4.50"><text x="432.60" y="196.22">60</text><text x="432.60" y="208.32">45</text><text x="432.60" y="219.92">30</text><text x="432.60" y="231.52">15</text></g><text x="419.30" y="179.50" font-size="4.90">ALT</text></g>
<g><path d="M24.31 285.00V385.20M43.49 285.00V385.20M18.60 367.05H117.80M62.66 285.00V385.20M18.60 345.75H117.80M81.84 285.00V385.20M18.60 324.45H117.80M101.01 285.00V385.20M18.60 303.15H117.80" stroke="#efefef" stroke-width="0.25" fill="none"/><path d="M33.90 285.00V385.20M18.60 377.70H117.80M53.08 285.00V385.20M18.60 356.40H117.80M72.25 285.00V385.20M18.60 335.10H117.80M91.42 285.00V385.20M18.60 313.80H117.80M110.60 285.00V385.20M18.60 292.50H117.80" stroke="#efefef" stroke-width="0.35" fill="none"/><g transform="translate(19 285) scale(0.2)" fill="none" stroke-linecap="round" stroke-width="8.5"><path d="M0 0m44 116zm-12 1zm7 2zm-2 12zm34-47zm-15 41zm0 92zm17 0zm-5 15zm-13 9zm26-144zm8 7zm4 22zm-18 3zm44-1zm-15 21zm3 9zm17 62zm-19 3zm2 2zm80-13zm-1 204zm37-180zm-1 52zm-4 19zm0 81zm9-149zm19 34zm-20 28zm16 86zm-8 2zm-9 31zm15 1zm13-171zm17 82zm4 15zm2-60zm6 38zm2 4zm-1 7zm-7 3zm7 64zm15 13zm-23 0zm24 15zm-5 39zm33-225zm5 127zm6 9zm23 6zm5 12zm28-326zm0 24zm-12 68zm-7 22zm9 179zm13 45zm22-339zm-6 14zm1 47zm-3 3zm10 29zm-13 207zm-1 13zm28-319zm-6 9zm21 6zm12 22z" stroke="#6db949"/><path d="M0 0m35 115zm1 1zm-7 6zm3 2zm7 100zm-4 6zm30-139zm6 13zm-18 0zm11 5zm-10 4zm2 6zm11 2zm7 6zm-20 0zm8 6zm6 83zm-15 14zm0 1zm0 5zm19 4zm0 5zm-18 6zm29-182zm16 5zm-13 1zm9 2zm-15 27zm11 4zm-10 1zm-5 2zm23 4zm-9 10zm5 7zm-4 2zm8 5zm-17 3zm5 1zm1 6zm-6 74zm-5 10zm21 4zm-16 3zm8 0zm2 11zm13-172zm19 2zm-10 12zm10 0zm-11 9zm-9 4zm0 1zm0 0zm8 5zm0 18zm-5 10zm-5 1zm8 9zm13 2zm-2 8zm3 5zm-3 13zm-10 41zm-2 2zm9 2zm9-141zm3 133zm9 5zm26-20zm-10 1zm12 5zm-7 5zm3 1zm8 11zm0 5zm22-17zm1 6zm-5 4zm9 12zm-16 2zm1 149zm6 12zm0 14zm10 5zm-1 4zm-12 2zm21-196zm-2 2zm-4 6zm5 1zm1 11zm13 1zm-20 1zm21 46zm2 4zm-7 1zm5 8zm-12 99zm12 4zm-11 4zm11 5zm-7 2zm-6 12zm3 2zm-6 4zm22-205zm3 5zm3 1zm12 13zm-20 8zm8 1zm11 1zm3 92zm-2 18zm-16 17zm-4 28zm4 4zm25-161zm-1 9zm11 6zm-13 3zm23 6zm-10 1zm9 0zm25-2zm-15 3zm-8 26zm4 19zm16 42zm-6 7zm-2 20zm11 16zm-11 7zm6 12zm-13 6zm12 4zm-11 4zm5 1zm12 4zm22-194zm-14 3zm10 8zm-2 2zm-10 7zm3 76zm-5 1zm11 14zm3 58zm-16 27zm6 0zm2 7zm41-233zm-8 7zm7 4zm-5 1zm-3 8zm-12 2zm-3 13zm11 102zm-3 7zm-1 3zm9 2zm-1 0zm20 1zm10 7zm-12 1zm12 18zm27-319zm-15 2zm10 28zm7 7zm-4 19zm-1 25zm1 13zm4 5zm-5 175zm-9 9zm13 17zm-2 16zm-7 3zm-6 3zm29-377zm-7 4zm2 2zm4 4zm-3 6zm4 8zm7 2zm-9 7zm3 2zm10 5zm-2 2zm-13 8zm-8 2zm23 8zm1 6zm-24 2zm11 0zm0 2zm-2 9zm15 2zm-22 1zm18 6zm-2 9zm1 6zm-17 13zm17 10zm-9 10zm4 203zm-1 14zm-2 5zm21-340zm1 10zm8 13zm6 16zm-22 4zm12 2zm4 3zm-7 3zm11 9zm-11 15zm8 7zm-10 0zm12 2zm-19 5zm6 3zm10 6zm1 12zm8-48zm5 9zm6 0zm-8 2zm3 1zm3 2z" stroke="#6bbb54"/><path d="M0 0m41 111zm2 1zm5 1zm1 4zm-18 2zm0 5zm14 3zm4 91zm10-115zm-6 6zm18 1zm-18 4zm10 3zm8 3zm-11 1zm1 11zm2 2zm-3 0zm-7 1zm-3 90zm16 5zm-1 12zm-3 7zm25-181zm-12 8zm18 2zm3 2zm-21 1zm10 1zm12 0zm-7 6zm7 8zm-10 1zm0 1zm-10 10zm2 3zm15 0zm-4 1zm-11 0zm2 11zm1 25zm-4 69zm8 5zm11 2zm-18 11zm19 6zm-20 5zm14 3zm20-180zm-8 1zm4 11zm-2 2zm-3 13zm-1 20zm8 35zm5 2zm9 1zm-12 8zm2 8zm3 48zm-8 7zm4 0zm9 3zm0 0zm-21 10zm5 4zm21-90zm2 10zm1 18zm2 41zm30-23zm-5 2zm10 1zm-9 4zm-6 21zm17 4zm2 1zm-16 1zm30-16zm1 6zm5 171zm-4 20zm10 4zm-11 2zm2 5zm32-196zm4 2zm-24 3zm24 12zm-18 1zm4 0zm11 11zm1 37zm-15 0zm16 10zm-1 82zm-17 1zm13 30zm-10 4zm-4 6zm18 1zm2 4zm4-194zm11 12zm-8 1zm-3 6zm6 0zm11 6zm-13 10zm5 3zm11 2zm-2 89zm-9 13zm-3 10zm6 2zm-5 29zm-7 11zm27-157zm12 8zm3 44zm1 4zm28-61zm-8 12zm2 1zm-7 8zm-2 26zm-8 8zm17 50zm6 5zm-8 21zm2 8zm-5 3zm-1 0zm6 11zm-2 8zm8 0zm-10 3zm-1 3zm8 9zm-5 2zm-2 3zm-10 25zm33-223zm5 1zm-3 7zm0 7zm-12 91zm-2 72zm2 3zm0 5zm1 18zm45-235zm0 3zm-12 7zm-2 1zm8 1zm-10 6zm-1 26zm10 99zm-5 5zm-6 4zm35 4zm-13 3zm14 4zm2 4zm4 13zm24-319zm-10 7zm-4 12zm7 22zm1 3zm9 8zm-1 15zm-5 14zm-7 203zm5 2zm-6 6zm5 5zm-2 3zm4 6zm-14 10zm2 14zm27-371zm4 0zm0 3zm2 2zm-4 5zm2 19zm-11 9zm3 7zm13 2zm-5 8zm2 2zm-1 62zm2 8zm-2 1zm3 3zm-4 0zm-5 3zm-5 190zm9 6zm-1 32zm20-340zm2 18zm18 3zm-17 5zm-6 0zm1 22zm17 2zm0 12zm-12 4zm2 33zm-3 1zm24-41zm-5 4z" stroke="#6abc60"/><path d="M0 0m43 125zm4 102zm14 0zm18-105zm3 99zm16 6zm89-4zm-4 162zm55-120zm12 92zm56 2zm31-120zm36 135zm26-295zm-3 62zm3 16zm25-90zm-3 80zm-18 35zm41-87zm-4 6zm3 55z" stroke="#6eae61"/><path d="M0 0m399 103zm-4 12zm3 17zm4-58zm4 69zm6 9zm30-3z" stroke="#779464"/><path d="M0 0m99 253zm93 173zm102-138zm54 95zm8 7zm46-211zm54-78z" stroke="#7b7f61"/><path d="M0 0m98 75zm311 44zm1 9zm10 245zm-18 15zm1 15zm22-341zm22 62z" stroke="#817269"/><path d="M0 0m46 252zm7-146zm124 99zm43 196zm103-141zm65 149zm23-260zm31-36zm-15 37z" stroke="#836370"/><path d="M0 0m396 126zm22 253zm17-214z" stroke="#835477"/><path d="M0 0m52 238zm31-120zm-4 111zm27 5zm20-152zm66 295zm-7 38zm-5 19zm20-38zm38 12zm51 24zm3 27zm19-98zm91-300zm15 3zm-6 8zm11 40zm-16 4zm30-63zm-4 3zm-2 31zm6 11zm-11 37z" stroke="#81407f"/><path d="M0 0m39 247zm33-147zm-3 146zm21-154zm-14 27zm14 114zm15-113zm85 302zm19-35zm31 3zm21-128zm36 145zm24-142zm-14 14zm-1 152zm65-50zm27-290zm-7 14zm13-51zm14 50zm3 3zm3 52zm-20 231zm3 10zm23-319zm3 23zm4 11zm-9 31z" stroke="#7f3086"/><path d="M0 0m78 80zm35 19zm156 191zm4 36zm3 5zm22 48zm-5 36zm10-147zm22-10zm70-109zm-11 248zm22-325zm8 29zm-6 31zm13 18zm0 5zm-21 227zm31-242zm-2 21z" stroke="#7e228c"/><path d="M0 0m25 122zm20 108zm19-130zm-12 1zm2 136zm40-167zm2 9zm2 12zm-7 41zm26-87zm-8 26zm-5 3zm-4 65zm8 93zm23-72zm0 9zm4 5zm-4 12zm-2 38zm3 1zm33-23zm-2 14zm12 8zm2 5zm15 12zm-15 156zm39-166zm3 152zm-17 27zm19 18zm5-183zm5 7zm17 106zm22-35zm7-10zm0 14zm15 110zm24-180zm15-9zm-6 116zm6 12zm29 3zm26-292zm8 18zm5 76zm0 179zm-8 25zm19-312zm-6 39zm-2 38zm5 7zm-3 222zm35-289zm8 24zm-15 3zm20-36zm7 47z" stroke="#6db949"/><path d="M0 0m47 119zm-10 0zm12 3zm-12 5zm-3 0zm1 3zm7 107zm-5 3zm35-153zm0 4zm0 2zm-6 6zm-12 6zm6 11zm13 3zm-3 8zm4 2zm0 13zm-21 75zm20 5zm-21 1zm11 2zm-9 0zm4 9zm11 17zm2 0zm21-186zm0 2zm3 7zm-10 0zm-7 9zm-2 10zm16 8zm-3 8zm-4 15zm11 8zm-14 0zm9 84zm2 3zm-15 0zm15 28zm20-168zm-8 2zm10 14zm-11 13zm5 11zm-8 1zm10 12zm-1 1zm-10 9zm13 12zm5 9zm3 10zm-21 52zm5 2zm-5 4zm4 10zm25-80zm-2 3zm0 2zm-2 7zm6 3zm10 33zm2 11zm2 2zm27-20zm-16 1zm11 2zm1 9zm0 3zm4 8zm-4 6zm21-17zm-12 23zm14 148zm2 13zm-5 16zm11 6zm0 3zm-11 1zm3 7zm16-187zm13 32zm-13 23zm8 2zm-10 106zm9 1zm7 18zm-12 7zm1 2zm13 1zm23-197zm-20 6zm-1 4zm19 3zm-5 8zm9 8zm-9 4zm-14 11zm5 1zm14 82zm-10 3zm9 3zm1 1zm-7 25zm-4 3zm1 9zm-1 2zm3 17zm18-153zm14 4zm-9 1zm10 2zm-1 2zm5 60zm-14 9zm33-71zm-5 3zm-12 33zm13 73zm-2 2zm-5 15zm13 8zm1 8zm-3 4zm-5 4zm-2 21zm4 9zm34-213zm-9 8zm-13 11zm20 2zm-12 1zm-5 128zm8 23zm-3 10zm1 19zm-6 0zm1 1zm43-218zm-11 0zm-5 2zm10 2zm0 4zm3 9zm-9 113zm24-162zm12 163zm1 10zm-7 16zm30-317zm-10 4zm0 4zm11 13zm-13 1zm-7 1zm1 3zm15 0zm-8 1zm8 3zm-11 64zm13 2zm-6 15zm2 179zm-4 3zm-4 18zm10 1zm-18 3zm1 1zm0 23zm0 2zm8 1zm17-361zm21 13zm-6 5zm-10 4zm14 18zm-1 7zm-12 20zm17 21zm-4 3zm3 9zm1 12zm-23 5zm16 218zm-1 4zm-15 13zm38-351zm-14 2zm13 4zm4 3zm-15 6zm8 7zm-7 3zm16 21zm-14 1zm7 1zm-3 0zm3 1zm11 0zm-9 14zm9 9zm-20 9zm20 3zm-6 0zm-13 13zm5 0zm19-71zm4 2zm-1 6zm1 42zm-6 2z" stroke="#6bbb54"/><path d="M0 0m46 114zm-3 1zm-5 4zm5 7zm2 100zm-7 20zm26-151zm-5 0zm15 4zm-14 1zm13 3zm-12 5zm13 3zm-15 2zm6 1zm0 3zm3 1zm-16 4zm11 3zm-9 1zm10 3zm-3 1zm-9 3zm21 1zm-18 82zm4 6zm-9 6zm21 12zm1 3zm-18 7zm38-180zm7 1zm-5 3zm-5 0zm5 0zm-5 1zm-6 4zm9 15zm-3 2zm-11 13zm21 6zm-4 5zm-4 3zm8 0zm-19 3zm-2 0zm7 1zm-6 10zm14 3zm-17 75zm14 14zm-5 10zm20-178zm17 9zm-2 1zm-20 11zm6 9zm16 0zm-1 4zm-17 1zm4 4zm-2 16zm0 4zm6 0zm10 26zm2 74zm-18 2zm5 15zm-5 6zm19-181zm1 5zm3 18zm-3 16zm7 65zm1 16zm-2 47zm29-29zm-2 19zm14 9zm5-24zm2 1zm9 15zm-12 2zm20 10zm-1 2zm-3 9zm3 145zm-13 4zm-4 10zm-1 2zm8 6zm1 12zm30-193zm-6 2zm-4 5zm10 4zm-16 4zm11 2zm9 14zm3 3zm-10 34zm-8 81zm3 7zm-8 14zm0 8zm12 7zm-10 13zm11 12zm26-204zm-4 7zm6 1zm6 4zm-4 1zm0 11zm-5 12zm3 2zm-12 13zm1 2zm15 84zm1 1zm-12 12zm5 6zm-13 12zm2 10zm-4 13zm32-176zm-6 16zm5 10zm0 5zm8 54zm7 4zm-7 3zm-1 7zm-13 22zm42-88zm-15 2zm-2 45zm1 3zm-1 8zm19 31zm0 22zm-2 9zm-1 3zm8 8zm-7 1zm-2 10zm-12 0zm12 15zm7 9zm-16 2zm14 8zm29-212zm-21 17zm-3 16zm6 129zm3 46zm-5 0zm42-230zm-6 9zm-2 1zm-11 10zm19 0zm-21 3zm14 4zm-12 7zm-2 7zm17 107zm32-183zm-22 191zm7 6zm4 1zm-1 6zm30-320zm6 6zm1 36zm-7 35zm6 3zm-6 3zm-11 16zm1 5zm16 3zm-4 4zm-16 183zm6 15zm-6 2zm10 6zm2 20zm-3 5zm-4 2zm24-364zm17 1zm-13 7zm-6 15zm17 2zm-19 1zm16 4zm-3 5zm1 3zm7 1zm-15 1zm13 8zm-16 2zm3 2zm-4 3zm0 3zm-4 4zm21 11zm-9 0zm-10 26zm-2 3zm5 14zm11 2zm-15 2zm-1 189zm4 23zm7 2zm2 2zm-1 0zm18-327zm1 8zm-2 7zm12 12zm6 9zm-19 4zm4 3zm15 4zm-10 4zm-10 5zm-3 19zm19 20zm9-58zm15 1zm-13 12zm5 3zm3 10z" stroke="#6abc60"/><path d="M0 0m66 101zm-9 132zm29-13zm12 8zm22-120zm-8 44zm-11 7zm0 86zm60-31zm29 6zm34 14zm-12 153zm-10 28zm0 15zm23-178zm10 143zm34-116zm21 130zm10 49zm34-221zm-5 128zm90-249zm-6 7zm-9 16zm-1 14zm12 9zm-12 196zm-2 46zm24-319zm19 43zm-5 13zm-10 19z" stroke="#6eae61"/><path d="M0 0m274 347zm22 46zm1 14zm-12 45zm91-44zm43-309zm-7 62zm13-112z" stroke="#779464"/><path d="M0 0m93 106zm142 323zm155-351zm-6 15zm44-7zm-1 46z" stroke="#7b7f61"/><path d="M0 0m98 74zm27-3zm29 135zm56 232zm32-46zm-4 22zm182-298zm-19 249z" stroke="#817269"/><path d="M0 0m86 79zm7 157zm141 173zm150-237zm37-72z" stroke="#836370"/><path d="M0 0m238 267zm63 7zm83-166zm10 49zm-3 232zm18-337zm0 13z" stroke="#835477"/><path d="M0 0m74 87zm8 150zm15 12zm4-28zm132 163zm45-66zm13 58zm5 10zm7 70zm95-340zm-6 272zm22-308zm8 3zm16 34zm4 19zm-3 13zm-2 4z" stroke="#81407f"/><path d="M0 0m64 216zm3 12zm-7 4zm1 11zm21-128zm11 113zm24-146zm7 6zm-2 144zm54-6zm21 185zm-16 4zm7 5zm27-35zm5 1zm-2 4zm6 11zm14-159zm61 170zm-9 38zm11-96zm1 6zm8 81zm49-56zm40-217zm-21 12zm3 235zm21-361zm14 28zm-6 25zm9 25zm-2 29zm-16 6zm16 1zm-14 204zm5 21zm27-338zm13 43zm-14 11z" stroke="#7f3086"/><path d="M0 0m111 91zm89 311zm50-126zm47 109zm0 14zm3 58zm31-90zm49-267zm11 4zm16-74zm1 14zm10 62zm-2 292zm10-334zm23 31zm-19 33zm26 8z" stroke="#7e228c"/><path d="M0 0m40 120zm1 11zm-12 0zm5 120zm27-140zm-2 2zm6 2zm-15 10zm20 9zm3 7zm-18 93zm32 3zm23-172zm8 19zm-14 2zm10 11zm-10 41zm13 18zm-4 11zm-5 60zm16 2zm22-12zm26-12zm-9 1zm14 28zm13 2zm5 148zm3 9zm-15 0zm19-164zm-2 15zm14 2zm-8 47zm17 6zm-16 1zm26-47zm-3 12zm-1 144zm2 10zm-1 3zm27-146zm-6 0zm15 51zm-2 21zm28 74zm1 26zm4 3zm38-201zm5 127zm31 25zm17-240zm1 26zm-3 202zm-7 18zm3 9zm21-366zm19 60zm-20 27zm7 15zm-2 29zm3 186zm22-278zm5 55zm8 3zm14-39zm4 13z" stroke="#6db949"/><path d="M0 0m31 124zm-4 5zm10 1zm11 109zm-2 4zm-3 2zm1 0zm24-156zm-17 29zm22 8zm-4 89zm-15 1zm20 1zm-18 7zm42-155zm-14 6zm9 8zm2 1zm-20 1zm20 7zm-6 19zm10 8zm-2 4zm-9 9zm-6 1zm-5 3zm3 2zm12 4zm4 1zm-8 4zm7 4zm-12 65zm-6 0zm-2 1zm17 18zm6 2zm-23 0zm20 4zm4 3zm-19 0zm7 9zm33-190zm-19 6zm13 15zm-3 27zm2 2zm6 17zm-13 4zm2 7zm15 3zm-5 15zm3 5zm-12 0zm7 5zm3 2zm-17 58zm20 3zm-19 18zm22-181zm2 93zm-1 2zm6 10zm4 6zm-3 2zm2 29zm10 1zm4 4zm4-14zm4 4zm-2 5zm-5 5zm7 4zm9 7zm25-14zm-14 11zm10 0zm-10 2zm5 2zm3 8zm13 8zm-13 137zm-5 4zm2 12zm-3 2zm19 8zm-2 1zm-1 14zm28-178zm-12 6zm-1 4zm12 4zm-1 42zm-12 101zm-1 26zm-1 1zm-5 0zm1 2zm25-189zm14 3zm-1 1zm3 4zm-12 0zm-1 0zm18 9zm-4 2zm-8 5zm-12 2zm16 7zm-7 98zm4 12zm-4 14zm-5 8zm2 15zm2 14zm19-177zm7 8zm3 9zm-1 1zm3 7zm7 5zm1 25zm2 11zm-1 8zm1 4zm-6 6zm2 3zm3 1zm-13 1zm16-67zm13 3zm-12 2zm0 2zm9 2zm-9 32zm-2 6zm8 13zm-2 1zm10 29zm6 6zm-1 7zm-1 21zm-8 3zm-6 1zm12 18zm-15 2zm13 1zm-14 9zm20 27zm24-220zm-2 16zm-15 2zm-3 178zm12 15zm-4 6zm37-229zm3 2zm-23 8zm2 7zm7 0zm-7 5zm14 115zm5 1zm-10 3zm12 0zm21 14zm4 15zm-2 13zm26-350zm-6 39zm2 6zm-1 8zm1 9zm-2 35zm5 8zm-13 18zm-1 192zm6 6zm-9 2zm-1 5zm18 6zm15-363zm7 7zm5 8zm-10 0zm6 17zm-16 4zm2 2zm8 19zm-11 5zm13 2zm-16 1zm1 1zm23 2zm-19 10zm13 5zm-5 10zm-12 5zm0 29zm0 16zm4 1zm7 190zm1 7zm-1 1zm10 5zm-12 4zm-4 15zm32-352zm-10 3zm-3 15zm6 5zm1 9zm12 12zm4 1zm-5 6zm0 10zm5 4zm-20 8zm21 10zm-22 0zm11 15zm29-69zm-13 41zm4 9z" stroke="#6bbb54"/><path d="M0 0m23 128zm10-12zm-1 9zm7 4zm5 1zm-5 4zm-1 96zm28-136zm6 2zm-3 12zm-11 1zm-3 13zm10 1zm-10 3zm17 14zm-14 76zm6 13zm-13 16zm34-173zm9 3zm-12 22zm12 6zm-16 32zm3 1zm13 11zm-14 67zm1 10zm-3 7zm9 5zm11 4zm-12 1zm35-175zm-9 7zm-12 8zm2 5zm13 6zm0 10zm-14 18zm11 11zm7 4zm-13 2zm3 1zm-9 83zm21 3zm-3 4zm-17 7zm26-67zm7 5zm11 31zm4 0zm-9 4zm-1 0zm5 3zm5 2zm-14 0zm8 0zm1 3zm2 5zm-19 0zm7 9zm28-31zm8 9zm-13 1zm8 1zm14 7zm-4 2zm10 9zm4 7zm7 10zm-16 160zm13 3zm-10 1zm7 2zm5 1zm0 15zm6-207zm19 14zm2 9zm-5 48zm-7 3zm-3 1zm-2 3zm4 4zm-4 2zm13 1zm-16 1zm4 75zm17 24zm-22 1zm15 9zm2 2zm-11 3zm10 20zm13-197zm0 18zm-1 15zm0 17zm-4 5zm9 79zm-8 13zm-1 18zm11 16zm-6 8zm32-165zm-11 4zm1 2zm-1 2zm19 1zm-11 1zm3 2zm8 4zm-8 1zm3 3zm9 36zm-11 17zm6 0zm-4 12zm28-70zm-1 0zm7 2zm-24 15zm2 43zm18 34zm-5 14zm-4 10zm0 3zm2 7zm-6 2zm7 1zm-11 7zm13 13zm-5 3zm2 24zm4 6zm27-220zm2 2zm-4 10zm-4 4zm8 4zm-12 2zm-4 93zm12 1zm-7 62zm-1 8zm22-191zm8 6zm-9 4zm7 0zm-9 2zm0 1zm1 15zm0 97zm0 8zm14 6zm2 5zm27-5zm-8 3zm4 8zm5 2zm-8 9zm32-318zm-10 4zm3 8zm7 45zm-5 24zm-9 12zm16 187zm-9 12zm9 2zm-20 3zm1 20zm8 6zm2 1zm-8 7zm8 1zm31-374zm-8 11zm6 1zm-1 0zm-2 9zm-1 0zm-8 3zm5 1zm-12 12zm24 5zm-1 13zm-5 4zm-9 4zm8 1zm-1 6zm-4 12zm8 1zm-19 2zm6 2zm17 2zm-18 1zm4 0zm2 13zm6 13zm-5 4zm-6 14zm-5 205zm3 22zm39-326zm-14 1zm2 0zm3 3zm-3 17zm2 7zm10 1zm-2 0zm-11 12zm10 11zm-11 12zm5 4zm4 1zm-10 2zm10 13zm0 1zm-4 217zm17-280zm14 16zm-11 10z" stroke="#6abc60"/><path d="M0 0m55 250zm19 1zm15-125zm-3 4zm19 4zm17 32zm51 42zm9 6zm29 81zm5 105zm-5 25zm33-50zm13-114zm24 40zm24-65zm41-2zm24 150zm10-6zm29-346zm-3 10zm7 68zm-6 7zm4 43zm25-22zm10 8zm8-55z" stroke="#6eae61"/><path d="M0 0m65 104zm42 2zm161 217zm126-203zm8 55zm42-72zm13 25z" stroke="#779464"/><path d="M0 0m85 89zm125 337zm72-88zm102-151zm23-106zm24 5zm16 51z" stroke="#7b7f61"/><path d="M0 0m89 86zm294 97zm6 5zm23-35z" stroke="#817269"/><path d="M0 0m72 238zm56-162zm226 305zm29-201zm33-96zm-14 17zm46 3zm2-6z" stroke="#836370"/><path d="M0 0m103 75zm97 350zm206-332zm-6 268zm16 31z" stroke="#835477"/><path d="M0 0m42 239zm17-121zm-6 4zm22-39zm0 140zm105 165zm104 36zm63-192zm-17 11zm47-54zm8 203zm17-274zm15 42zm-3 14zm-8 209zm23-328zm3 22zm0 54zm6 2zm-6 26z" stroke="#81407f"/><path d="M0 0m66 245zm95-36zm15 193zm5 13zm31-5zm-12 3zm18 23zm19-61zm21-26zm31-67zm-8 50zm-1 3zm-1 102zm11 0zm20 5zm-10 17zm55-87zm18 18zm21-309zm-3 298zm-12 31zm31-377zm-4 41zm15 5zm-13 29zm10 6zm-14 243zm36-282zm-2 19zm-8 68z" stroke="#7f3086"/><path d="M0 0m56 251zm43-112zm89 247zm14 27zm4 3zm25-37zm42-32zm8-32zm10 96zm0 28zm3 26zm13-44zm-4 29zm35-214zm53-133zm5 55zm18-106zm2 20zm-1 31zm6 13zm1 14zm-2 14zm-11 35zm35-103z" stroke="#7e228c"/><path d="M0 0m47 109zm-9 24zm4 98zm15-135zm10 150zm-15 4zm35-166zm0 25zm-10 2zm-2 7zm13 3zm9 127zm-1 5zm28-179zm-6 1zm-15 6zm8 80zm1 2zm-8 69zm4 8zm22-157zm5 139zm-5 0zm27-24zm-1 7zm31 17zm3 17zm-1 3zm-3 1zm-5 146zm39-141zm4 19zm-9 34zm3 79zm-8 3zm11 12zm2 20zm12-41zm4 2zm3 5zm-5 48zm33-113zm-3 12zm-3 9zm5 9zm10-58zm2 12zm-6 44zm17 84zm-5 16zm-1 3zm0 18zm17-203zm12 2zm-13 13zm1 157zm41-186zm-8 3zm-11 9zm4 5zm1 109zm32 23zm18-31zm37-290zm7 7zm0 35zm-19 20zm16 20zm-1 11zm-12 219zm27-338zm6 54zm-4 1zm9 30zm5 8z" stroke="#6db949"/><path d="M0 0m42 115zm0 7zm6 8zm-7 102zm-2 3zm7 4zm-6 3zm6 5zm-2 4zm17-161zm5 1zm6 14zm-6 4zm-7 4zm-6 6zm9 9zm0 1zm10 6zm-18 88zm-2 5zm-2 3zm18 4zm1 6zm-2 1zm-5 6zm25-174zm-8 7zm2 19zm9 0zm-15 2zm5 2zm7 3zm11 5zm-15 1zm11 6zm-10 1zm10 1zm4 2zm-20 7zm2 1zm7 0zm7 4zm1 11zm-3 7zm-15 62zm12 22zm-12 3zm13 5zm27-182zm-2 2zm6 2zm-13 15zm3 5zm-1 4zm0 0zm9 1zm-1 2zm5 12zm-12 0zm-3 3zm-3 0zm-3 11zm5 1zm10 2zm-4 1zm-9 9zm1 3zm-4 1zm6 10zm9 1zm-8 11zm11 4zm-9 4zm13 0zm-19 67zm11 3zm-8 1zm-3 7zm27-163zm-6 17zm5 64zm0 4zm-1 1zm17 34zm3 0zm-1 2zm-10 9zm7 5zm8-12zm16 16zm3 4zm1 2zm-1 184zm3-201zm18 5zm-4 1zm-9 12zm-2 1zm-2 0zm11 12zm-11 154zm2 12zm18 3zm-4 4zm-8 8zm6 8zm10-212zm16 10zm-6 11zm-10 1zm12 4zm-9 3zm20 9zm1 10zm-1 24zm-1 1zm-17 12zm5 0zm-5 93zm8 0zm0 1zm9 15zm-7 3zm-9 7zm42-176zm-3 1zm-15 15zm0 9zm4 3zm6 2zm8 3zm-8 93zm-8 8zm7 13zm-2 1zm-8 1zm6 3zm3 3zm-12 18zm0 17zm24-193zm8 17zm4 4zm3 1zm-1 2zm-7 9zm5 0zm8 1zm0 0zm4 37zm-2 2zm-2 21zm-13 17zm33-78zm-1 110zm5 9zm-5 0zm1 10zm-10 12zm18 7zm-19 18zm14 3zm-4 3zm-9 3zm2 7zm3 5zm37-213zm-4 2zm2 2zm-18 24zm8 79zm14 14zm-19 52zm-1 3zm-3 21zm15 2zm-8 2zm-8 15zm1 1zm33-232zm2 6zm6 4zm-10 3zm-4 6zm5 112zm-3 5zm13 3zm-3 2zm10-146zm22 140zm-10 4zm-6 5zm7 8zm2 3zm2 11zm5 4zm19-313zm-4 15zm10 5zm-3 40zm0 11zm-11 4zm7 1zm-11 11zm11 7zm6 184zm-5 9zm-10 1zm3 11zm8 19zm5 21zm17-388zm7 7zm-3 1zm-13 1zm19 5zm-8 26zm-2 2zm7 8zm-11 25zm2 7zm11 9zm-5 30zm-1 206zm-13 25zm32-323zm-9 8zm15 6zm-9 19zm11 4zm-6 21zm-8 11zm10 0zm3 2zm-14 3zm-4 19zm28-68zm9 15z" stroke="#6bbb54"/><path d="M0 0m38 122zm6 5zm-15 2zm18 6zm0 93zm-8 11zm25-150zm1 4zm8 5zm-19 12zm13 3zm-9 20zm4 1zm3 91zm7 2zm0 14zm10-165zm8 3zm5 22zm-9 1zm7 8zm1 10zm-13 8zm17 5zm-23 5zm13 83zm10 3zm-14 15zm11 1zm-14 6zm15 0zm-5 5zm0 0zm25-166zm-13 3zm17 8zm-1 4zm-8 2zm13 5zm-9 14zm-5 6zm11 33zm-3 8zm-8 54zm2 4zm-3 1zm18-161zm19 139zm-7 5zm16-13zm11 11zm8 3zm-20 3zm8 2zm-2 4zm17-3zm-1 0zm9 25zm11 137zm-10 0zm1 28zm-4 3zm7 8zm21-185zm6 4zm-13 5zm4 1zm-2 1zm-3 5zm20 11zm-6 24zm-4 5zm-6 3zm16 6zm-5 2zm-13 5zm-5 79zm7 12zm6 2zm1 5zm1 1zm-5 6zm-5 5zm15 11zm-4 9zm-12 1zm29-192zm12 12zm-1 6zm-17 12zm1 2zm21 3zm-2 3zm-21 3zm2 0zm-1 5zm15 72zm-10 5zm11 3zm-4 2zm-6 10zm1 1zm1 16zm-6 30zm44-109zm-7 11zm2 5zm-7 7zm-2 3zm27-60zm-2 35zm-1 25zm2 51zm-5 7zm13 8zm-8 6zm36-169zm-9 19zm-10 8zm13 83zm-10 64zm9 8zm-6 1zm-7 0zm10 7zm2 6zm6 4zm-18 9zm15 0zm3 21zm15-247zm7 10zm-2 3zm-1 9zm-1 123zm11 2zm2-152zm20 162zm-1 0zm0 12zm25-332zm3 11zm-1 6zm-8 24zm2 1zm9 7zm-5 46zm-2 13zm-11 4zm5 190zm11 0zm-14 1zm14 6zm-2 0zm-13 4zm15 12zm-5 8zm5 3zm-18 4zm2 8zm26-377zm-4 22zm-2 16zm16 8zm-5 3zm-12 8zm19 1zm-2 0zm0 18zm-10 13zm11 5zm-9 11zm-7 8zm11 14zm-4 214zm4 6zm30-319zm0 5zm-10 19zm4 18zm11 3zm-1 11zm-21 22zm7 252zm18-296zm4 27zm5 2z" stroke="#6abc60"/><path d="M0 0m33 120zm27-31zm1 30zm-1 126zm26-174zm-9 157zm33-113zm5 20zm6 26zm62 52zm3 206zm16-27zm13 2zm3 7zm-17 17zm41-53zm0 0zm2 13zm11-101zm19 5zm-11 52zm17 8zm11 28zm3 20zm-6 28zm2 6zm23-66zm78-256zm-3 13zm11 270zm7-290zm24-22zm10 33zm4 28z" stroke="#6eae61"/><path d="M0 0m56 223zm50 23zm91 183zm21-144zm7 102zm50-73zm140-268zm19 80zm-5 6z" stroke="#779464"/><path d="M0 0m211 437zm59-96zm31-58zm85-206zm19-18zm11 27z" stroke="#7b7f61"/><path d="M0 0m82 83zm213 313zm92-216zm-10 11zm74-88z" stroke="#817269"/><path d="M0 0m87 236zm207 223zm39-229zm-7 13zm62-154zm11 20zm15 24zm19-56z" stroke="#836370"/><path d="M0 0m41 242zm241 172zm89-36zm67-292zm-9 29zm10 37z" stroke="#835477"/><path d="M0 0m62 218zm14 5zm121 160zm37 28zm62 33zm-4 38zm18-41zm73-41zm21-245zm8 212zm4 2zm10-258z" stroke="#81407f"/><path d="M0 0m73 235zm-11 10zm23-11zm2 16zm20-172zm1 36zm-8 138zm28-171zm58 307zm-10 27zm18 6zm27-129zm0 2zm-18 130zm6 7zm32-62zm-13 36zm31-137zm21 161zm82-46zm29-307zm-10 18zm18 267zm-10 6zm-12 0zm13 6zm-11 1zm0 3zm15 4zm-17 6zm25-333zm18 0zm-14 22zm5 50zm-9 38zm2 13zm-2 1zm5 189zm-7 38zm37-339zm-5 14zm4 13zm-6 65zm27-57zm1 32z" stroke="#7f3086"/><path d="M0 0m69 116zm11-42zm4 7zm93 316zm58 28zm35-86zm19 125zm44-205zm-7 112zm45 22zm20-307zm9-11zm4 81zm11 231zm-3 5zm14-293zm21 9zm9-9z" stroke="#7e228c"/><path d="M0 0m45 133zm-2 2zm5 112zm25-158zm-16 36zm8 15zm-14 75zm8 5zm-4 15zm14 1zm8-131zm-1 2zm9 36zm0 108zm22-165zm-6 18zm5 10zm-5 36zm1 4zm23 10zm45 71zm17 191zm30-190zm-3 154zm12-160zm-1 10zm0 5zm3 26zm16 105zm-10 49zm16-181zm44 166zm-4 47zm22-14zm25-213zm5 1zm-13 33zm-2 98zm37 32zm30-230zm4 20zm-21 8zm21 197zm7-294zm19 6zm-1 41zm-19 24zm2 206zm-4 19zm1 8zm33-296zm6 7zm-9 15zm19-30z" stroke="#6db949"/><path d="M0 0m46 117zm1 4zm-8 0zm-4 2zm1 2zm10 8zm-8 0zm4 95zm6 16zm14-149zm-5 4zm-5 4zm0 7zm2 4zm20 4zm-8 4zm2 3zm-14 4zm16 3zm-5 80zm-8 3zm-5 1zm6 3zm-7 4zm8 0zm8 6zm-9 16zm-8 3zm34-168zm-7 2zm16 0zm-6 2zm2 1zm-14 13zm15 4zm-6 16zm14 8zm-10 1zm9 2zm-6 16zm-12 75zm1 1zm2 14zm7 1zm-5 4zm12 9zm26-176zm-19 19zm11 3zm-9 4zm9 1zm-3 21zm-10 20zm4 12zm17 1zm-12 3zm5 8zm4 3zm-16 62zm15 2zm-17 16zm30-167zm-3 13zm-2 66zm8 10zm0 11zm12 39zm10-23zm1 5zm14 1zm-11 8zm-3 13zm41-2zm-12 6zm3 1zm-9 0zm5 155zm8 1zm-12 1zm10 8zm4 10zm0 2zm-2 0zm-8 5zm22-185zm6 15zm6 56zm-4 1zm6 8zm-10 80zm12 2zm0 10zm-23 4zm5 20zm8 2zm3 7zm-3 4zm-11 3zm32-203zm5 6zm7 5zm-10 10zm-1 3zm9 1zm-17 1zm4 0zm-3 2zm12 9zm-3 7zm-7 1zm5 3zm-7 1zm21 72zm-11 16zm8 6zm-7 9zm-14 1zm5 3zm4 17zm-4 1zm9 8zm-10 0zm-4 1zm29-166zm15 18zm1 8zm-5 0zm-7 2zm1 4zm12 3zm0 26zm-10 30zm13 4zm-16 7zm36-79zm2 7zm-11 5zm-4 54zm10 41zm6 14zm-1 1zm-11 23zm2 6zm-10 6zm15 7zm6 4zm0 5zm-8 0zm9 11zm-16 7zm41-217zm-8 2zm1 4zm3 10zm-13 0zm9 2zm1 3zm-14 152zm1 14zm7 11zm-5 0zm13 4zm-8 2zm6 0zm-12 21zm40-241zm-17 14zm12 5zm-7 9zm15 113zm-6 2zm6 3zm7-6zm34-301zm4 0zm-4 6zm10 6zm-12 5zm-2 3zm-2 3zm-2 7zm18 26zm-3 5zm-4 27zm-6 19zm-3 198zm6 9zm-9 5zm8 1zm3 3zm-15 1zm21 7zm-8 4zm0 2zm20-373zm4 0zm8 7zm-11 5zm13 7zm-22 7zm12 30zm5 4zm4 8zm-6 1zm-1 2zm-6 1zm11 1zm-5 5zm-3 16zm11 18zm-14 1zm-5 1zm6 14zm-10 15zm11 189zm7 16zm-7 12zm-5 2zm3 3zm26-344zm-8 17zm4 0zm-4 8zm0 3zm15 3zm4 7zm-15 4zm13 13zm-3 8zm3 19zm-19 6zm15 15zm-2 5zm14-76z" stroke="#6bbb54"/><path d="M0 0m39 117zm-6 0zm2 14zm26-35zm-4 1zm10 1zm-4 7zm-11 27zm1 4zm19 2zm-14 84zm15 5zm-12 2zm12 20zm12-170zm-10 17zm11 15zm-7 7zm18 4zm-18 1zm19 3zm-13 15zm14 4zm-7 72zm-11 0zm8 1zm-2 11zm-2 11zm-7 1zm20 3zm-1 1zm-13 7zm8 3zm28-195zm-3 27zm3 9zm-20 6zm19 1zm-6 3zm2 13zm2 6zm-9 2zm-4 8zm-3 1zm4 12zm8 14zm2 8zm-13 52zm18 2zm0 4zm-13 4zm20-136zm1 59zm17 54zm-10 1zm10 4zm-8 3zm-8 8zm12 1zm16 7zm25-20zm15 4zm1 8zm-4 14zm2 156zm-5 13zm-11 1zm26-186zm2 12zm7 2zm-14 5zm9 0zm-5 6zm-4 2zm18 7zm-5 36zm3 5zm1 2zm-5 1zm7 3zm1 87zm-7 12zm-7 5zm0 8zm16 12zm2-180zm0 3zm22 4zm-11 4zm5 9zm-11 1zm-3 1zm5 6zm13 107zm-19 20zm5 4zm26-144zm0 2zm-6 15zm9 2zm-4 3zm12 0zm3 2zm-3 2zm1 24zm5 11zm-2 9zm-10 19zm13-73zm0 6zm5 17zm-5 8zm0 16zm7 3zm0 4zm-2 6zm-3 7zm13 21zm-3 38zm8 17zm-12 15zm12 14zm-1 13zm29-199zm-3 3zm-20 9zm23 83zm-19 56zm4 5zm-4 14zm-4 2zm16 10zm-12 14zm2 1zm39-240zm-3 1zm-7 1zm5 3zm-1 7zm0 0zm-3 2zm-2 2zm11 5zm-19 5zm3 10zm3 5zm-6 97zm19 11zm2 5zm-3 5zm2 3zm24-12zm0 40zm26-350zm2 2zm-1 13zm-4 3zm-1 2zm-8 30zm10 27zm0 17zm2 16zm3 184zm-11 46zm-11 2zm7 3zm6 1zm-3 0zm-4 2zm-8 9zm31-373zm-4 11zm13 0zm8 3zm-16 3zm4 4zm8 2zm-6 10zm-11 0zm8 40zm8 13zm1 6zm-10 14zm8 7zm-8 4zm14 3zm-3 207zm-8 7zm1 7zm1 7zm22-341zm2 23zm4 1zm3 11zm-2 12zm0 10zm6 1zm-17 8zm16 10zm-7 2zm8 10zm-15 5zm6 2zm10-50zm8 7zm4 6zm-9 21zm1 9z" stroke="#6abc60"/><path d="M0 0m71 247zm19-165zm-2 4zm9 32zm-13 98zm38-118zm-7 44zm13-49zm7 83zm-9 46zm30 6zm60 161zm-9 26zm40-152zm14 21zm18 9zm44-23zm-20 3zm2 179zm92-357zm-4 21zm-7 269zm18-324zm20 19zm-17 14zm0 18zm17 43zm-4 220zm16-266zm14 22z" stroke="#6eae61"/><path d="M0 0m100 222zm151 148zm138-299zm35 92zm30-39z" stroke="#779464"/><path d="M0 0m104 104zm77 111zm111 174zm96-274zm34-47zm-9 53zm16-65zm7 13z" stroke="#7b7f61"/><path d="M0 0m291 413zm112-337zm19 90z" stroke="#817269"/><path d="M0 0m281 339zm126-264zm14 2zm-15 89zm35-113zm-13 63zm4 7z" stroke="#836370"/><path d="M0 0m67 211zm133 22zm39 147zm35-50zm29 134zm83-356zm3 2zm-7 269zm32-294zm-1 57z" stroke="#835477"/><path d="M0 0m73 246zm51-178zm-6 7zm74 147zm-11 180zm2 8zm16 11zm35-37zm49 60zm17-55zm14 56zm81-347zm4 14zm-15 64zm-5 192zm7 18zm34-345zm-10 44zm-8 18zm15 40zm-3 235zm19-327zm-2 39zm30 19zm2 10z" stroke="#81407f"/><path d="M0 0m88 69zm-13 40zm3 130zm7 5zm20-175zm83 340zm8 21zm13-198zm15 169zm0 20zm-21 1zm33-54zm36-85zm-22 78zm41-87zm3 10zm-17 53zm11 39zm2 28zm-3 59zm9 5zm8-198zm13 168zm0 9zm25-214zm-14 133zm37 11zm33-259zm-5 5zm-8 239zm-5 5zm-4 37zm3 9zm35-314zm-10 11zm19 22zm-2 11zm-9 2zm11 11zm-22 0zm54-21z" stroke="#7f3086"/><path d="M0 0m80 246zm137 188zm-5 6zm50-175zm2 77zm12-21zm36-46zm-12 142zm29-179zm68-61zm2 186zm-12 17zm37-275zm-19 23zm12 260zm32-305zm-21 3zm10 44z" stroke="#7e228c"/></g><g font-size="3.10" stroke="#000" stroke-width="0.09"><text x="33.90" y="390.00" text-anchor="middle">−1.0</text><text x="17.20" y="378.82" text-anchor="end">−1.0</text><text x="53.08" y="390.00" text-anchor="middle">−0.5</text><text x="17.20" y="357.52" text-anchor="end">−0.5</text><text x="72.25" y="390.00" text-anchor="middle">0.0</text><text x="17.20" y="336.22" text-anchor="end">0.0</text><text x="91.42" y="390.00" text-anchor="middle">0.5</text><text x="17.20" y="314.92" text-anchor="end">0.5</text><text x="110.60" y="390.00" text-anchor="middle">1.0</text><text x="17.20" y="293.62" text-anchor="end">1.0</text></g><text x="68.20" y="394.00" text-anchor="middle" font-size="3.25">Dimension 1</text><text transform="translate(10.40 335.10) rotate(-90)" text-anchor="middle" font-size="3.25">Dimension 2</text><text x="18.00" y="283.30" font-size="5.00">Creatinine (umol/L)</text><rect x="120.40" y="310.60" width="11.00" height="59.10" fill="url(#cg)"/><path d="M120.40 322.40h2.20M131.40 322.40h-2.20M120.40 334.40h2.20M131.40 334.40h-2.20M120.40 346.00h2.20M131.40 346.00h-2.20M120.40 357.80h2.20M131.40 357.80h-2.20" stroke="#fff" stroke-width="0.55" fill="none"/><g font-size="4.50"><text x="134.10" y="324.02">90</text><text x="134.10" y="336.02">80</text><text x="134.10" y="347.62">70</text><text x="134.10" y="359.42">60</text></g><text x="120.80" y="307.00" font-size="4.90">CREAT</text></g>
<g><path d="M172.99 285.00V385.20M192.81 285.00V385.20M167.40 367.05H269.40M212.64 285.00V385.20M167.40 345.75H269.40M232.46 285.00V385.20M167.40 324.45H269.40M252.29 285.00V385.20M167.40 303.15H269.40" stroke="#e3e3e3" stroke-width="0.85" fill="none"/><path d="M182.90 285.00V385.20M167.40 377.70H269.40M202.73 285.00V385.20M167.40 356.40H269.40M222.55 285.00V385.20M167.40 335.10H269.40M242.38 285.00V385.20M167.40 313.80H269.40M262.20 285.00V385.20M167.40 292.50H269.40" stroke="#e3e3e3" stroke-width="1.10" fill="none"/><g transform="translate(167 285) scale(0.2)" fill="none" stroke-linecap="round" stroke-width="13.0"><path d="M0 0m49 123zm16 95zm2 1zm15-86zm29 107zm48-37zm0 3zm36 7zm25 41zm-7 128zm-4 7zm7 3zm-14 8zm19 1zm2 20zm-11 3zm-1 4zm12 11zm17-188zm3 10zm-15 128zm-1 9zm20 3zm-12 5zm-4 5zm3 7zm37-146zm2 0zm-23 104zm45-38zm7 70zm22 19zm-13 6zm23-65zm-2 111zm24-106zm-1 5zm42 7zm18-2z" stroke="#70b63e"/><path d="M0 0m33 126zm39 11zm46-38zm-13 124zm65-26zm29 216zm1-10zm15 13zm18-179zm7 8zm-13 42zm16 100zm0 10zm12-145zm6 113zm24-16zm25 72zm39-57zm6 17z" stroke="#6db949"/><path d="M0 0m63 118zm-5 128zm19-128zm18 101zm-1 26zm8-113zm0 7zm19 20zm-17 71zm26-73zm6 22zm23 33zm62 222zm27-196zm-11 148zm-10 4zm29-146zm29 58zm6 27zm-10 16zm1 1zm13 74zm1 35zm7-58zm14 12zm0 54zm39-96zm26 32zm18-220zm22 197z" stroke="#6bbb54"/><path d="M0 0m43 118zm16-1zm11 95zm11-82zm4 113zm-1 1zm16-154zm9 24zm14 53zm9-93zm-2 68zm29 75zm15 11zm42 11zm-12 7zm23-14zm3 55zm17 87zm-6 21zm1 0zm23-127zm4 82zm9-80zm0 80zm20 63zm21-52zm-12 45zm2 15zm1 36zm8 1zm25-195zm15-43zm-6 13zm7 140zm10 13zm30-216zm20-14zm30-2zm19-16z" stroke="#6abc60"/><path d="M0 0m57 217zm-3 14zm13 11zm25-165zm-8 38zm3 106zm26-117zm-5 15zm6 110zm12-152zm6 99zm37 27zm2 22zm-7 0zm19-7zm27 27zm-2 2zm-3 134zm30 21zm22-43zm24-90zm9 53zm0 21zm4 5zm-5 86zm4 15zm-1 6zm24-173zm4 79zm-18 25zm-2 2zm18 56zm-6 21zm33-203zm-6 5zm10 102zm-20 66zm32-59zm5 1zm13 7zm0 13zm-1 2zm24-294zm-1 309zm39-244zm21-47zm10 4zm-13 15z" stroke="#6eae61"/><path d="M0 0m62 122zm4 102zm-12 2zm13 24zm32-182zm-12 24zm8 10zm-19 1zm6 1zm-2 10zm-4 24zm18 5zm-7 88zm35-160zm-20 34zm6 4zm8 3zm-7 10zm-4 1zm7 33zm9 5zm-20 86zm34-68zm10 38zm23-5zm-15 12zm4 0zm8 11zm26-12zm3 8zm23-2zm-7 5zm-5 14zm18 56zm-8 2zm-5 80zm31-152zm-12 30zm4 37zm9 83zm-15 3zm18 13zm-10 29zm44-155zm15 129zm25-139zm-13 20zm4 114zm-4 41zm13 4zm-19 18zm65-80zm21 7zm7 6zm20-269zm3 273zm-3 6zm-2 1zm24-348zm12 58zm-21 259z" stroke="#779464"/><path d="M0 0m47 135zm-4 97zm29-5zm26-126zm-3 14zm3 16zm-5 114zm26-178zm2 20zm-3 6zm-4 5zm-7 3zm1 28zm30-52zm-1 144zm12 1zm-10 4zm20-12zm2 3zm11 11zm21 5zm26 18zm2 38zm-9 143zm87-33zm-2 28zm-5 27zm21-65zm-7 16zm11 35zm26-183zm-2 4zm28 122zm54-296zm-22 21zm7 6zm1 37zm-2 27zm-5 182zm7 13zm-2 1zm-6 22zm8 20zm35-360zm-12 51zm37-9zm3 33zm-14 28zm19-29z" stroke="#7b7f61"/><path d="M0 0m94 72zm3 5zm-10 3zm-1 1zm3 65zm-6 84zm14 8zm-15 2zm9 3zm-1 4zm-8 6zm26-173zm-4 20zm2 31zm28-32zm-5 4zm-4 6zm39 103zm13-11zm44 30zm-1 17zm2 40zm-1 22zm-14 94zm64-144zm1 86zm13-2zm12 100zm8-168zm13 83zm-15 92zm24-179zm15 99zm17-133zm-5 8zm-4 12zm49-153zm-1 258zm-4 14zm-14 22zm39-326zm-12 103zm8 4zm-13 7zm0 184zm13 41zm16-355zm15 34zm-19 26zm14 5zm-9 19zm22-65zm14 18zm4 48z" stroke="#817269"/><path d="M0 0m45 122zm28-29zm0 14zm-20 6zm-3 15zm22 97zm26-151zm-15 18zm11 1zm-18 135zm43-96zm3 92zm16-151zm-1 2zm-12 4zm35 145zm53 74zm34-25zm16-20zm30 41zm3 51zm25-77zm-12 13zm-4 96zm4 0zm6 38zm31-167zm48-60zm-11 190zm39-341zm-14 68zm-1 10zm2 52zm-1 12zm16 192zm-6 16zm-16 16zm44-345zm-18 3zm13 4zm8 5zm-24 24zm10 8zm4 15zm-9 9zm18 17zm-20 9zm-2 4zm22 4zm3-111zm4 65zm20 4zm8 4zm-5 1z" stroke="#836370"/><path d="M0 0m74 88zm-4 32zm-18 126zm44-131zm1 28zm-20 103zm33-172zm6 73zm-14 101zm88-39zm51 53zm-13 31zm-1 3zm28-54zm41 43zm3 159zm-3 1zm18-34zm-10 4zm35-150zm-12 162zm31-50zm31-188zm22-80zm-6 8zm18 14zm-23 50zm22 192zm-9 59zm16-384zm7 19zm-10 56zm10 8zm12 7zm-15 14zm-7 15zm0 205zm5 21zm29-319zm6 19zm4 13zm9 22z" stroke="#835477"/><path d="M0 0m52 229zm1 5zm35-161zm0 1zm17 38zm8 47zm-7 88zm27-169zm-4 30zm52 130zm158 1zm2 1zm7 7zm-6 5zm22-30zm3 155zm6 2zm25 12zm18-331zm-12 48zm-1 3zm16 22zm0 16zm5 17zm-22 8zm10 232zm14-364zm23 19zm-9 19zm7 23zm0 32zm-3 18zm-13 215zm40-279zm-8 16zm-11 45z" stroke="#81407f"/><path d="M0 0m117 90zm24-22zm70 233zm10 1zm15-14zm85-13zm-4 4zm38-26zm42-166zm-6 101zm5 172zm7-277zm-1 82zm17 3zm-19 231zm10 4zm22-337zm13 6zm-4 15zm3 30zm-6 1zm-12 4zm23 8zm-18 2zm15 31zm-14 226zm23-278zm2 32z" stroke="#7f3086"/><path d="M0 0m72 102zm9 131zm41-107zm6 7zm123 238zm87-129zm57 160zm26-342zm-18 27zm15 2zm-6 7zm7 39zm10-82zm-3 12zm0 16zm22 30zm-17 20zm38-44zm-11 24zm3 9zm13 11zm-8 0zm14-18z" stroke="#7e228c"/><path d="M0 0m69 234zm-16 0zm57-101zm21 9zm6 75zm8 2zm-16 0zm-2 9zm60-3zm-4 10zm8 167zm4 12zm6-175zm5 4zm17 145zm0 5zm-21 9zm8 3zm0 12zm9 15zm1 7zm11-199zm-4 1zm22 20zm-2 1zm2 13zm-7 105zm7 7zm-7 7zm-12 30zm16 2zm15-177zm3 19zm22 50zm5 1zm-8 2zm14 105zm10-53zm3 2zm-7 13zm17 39zm2 6zm42-51zm10 6zm39-208zm-9 194zm34-234z" stroke="#70b63e"/><path d="M0 0m49 233zm5-122zm11 117zm-2 6zm31 22zm30-187zm-14 52zm-7 15zm10 9zm13-14zm37 90zm-1 12zm28-4zm-7 182zm28-181zm6 76zm2 130zm27-192zm-8 9zm-5 158zm28-135zm30 153zm11-11zm2 5z" stroke="#6db949"/><path d="M0 0m68 117zm-9 102zm9 24zm4 7zm24-105zm-13 76zm16 18zm19-135zm-8 21zm7 116zm53-42zm11 28zm10 180zm28-168zm1 160zm-4 22zm-15 4zm41-195zm-14 9zm1 62zm14 101zm-10 10zm26-145zm-2 9zm6 79zm34 56zm24-144zm-1 97zm-20 43zm1 29zm10 15zm1 4zm54-81zm34-188zm2 185zm18 0zm1 1z" stroke="#6bbb54"/><path d="M0 0m49 243zm19-154zm-4 12zm-5 1zm-3 119zm22-135zm8 6zm-8 7zm16 28zm-7 110zm-6 6zm27-173zm1 52zm1 3zm20 20zm56 65zm-7 20zm16 158zm-8 8zm31-163zm24 21zm0 10zm3 122zm-18 30zm26-137zm21 71zm-21 17zm31-89zm3 9zm0 31zm2 17zm0 6zm6 72zm12-138zm-1 170zm12 2zm-16 15zm15 12zm32-230zm-1 5zm5-1zm-2 134zm94-264zm-18 11zm19 9zm-4 16z" stroke="#6abc60"/><path d="M0 0m46 244zm6-137zm1 16zm21 2zm-23 94zm27-120zm17 21zm-2 129zm6 5zm9-171zm-8 8zm1 131zm29-150zm-1 35zm-4 0zm3 119zm36-16zm25 19zm-3 7zm3 198zm18-214zm9 203zm-3 3zm14-188zm7 6zm1 33zm8 97zm-10 52zm38-168zm-7 16zm24 13zm-5 41zm15 65zm8-108zm-6 61zm18 11zm-12 36zm6 5zm-11 5zm7 1zm15 20zm1 5zm-20 2zm24 19zm31-218zm2 152zm55-304zm1 92zm13-1zm36-89zm5 22zm-19 38z" stroke="#6eae61"/><path d="M0 0m53 109zm13 115zm-1 5zm-1 13zm34-176zm-2 33zm2 15zm-20 24zm4 2zm-2 104zm28-116zm12 2zm-15 23zm10 91zm-5 1zm23-173zm-7 150zm47-10zm4-7zm10 17zm0 1zm-1 170zm33-168zm0 23zm27-6zm-1 141zm13-115zm4 90zm-9 7zm5 4zm21-84zm1 53zm4 13zm32-91zm-11 17zm3 108zm32-130zm-14 10zm10 4zm21-33zm1 147zm26 1zm9 18zm29-299zm-17 66zm5 7zm8 222zm-16 19zm29-309zm0 59z" stroke="#779464"/><path d="M0 0m45 107zm3 134zm-1 4zm3-124zm4 12zm-1 107zm44-175zm-20 64zm1 9zm5 97zm15 6zm9-126zm13 14zm16-60zm22 142zm19 17zm27 10zm20 163zm4-164zm71 194zm-11 9zm7 15zm0 7zm29-199zm-22 27zm47-60zm-13 135zm15-116zm41-54zm-1 171zm-6 10zm8 5zm-13 3zm35-244zm6 37zm-13 235zm34-352zm7 28zm1-37zm2 9zm5 24zm6 17z" stroke="#7b7f61"/><path d="M0 0m38 251zm36-160zm-11 9zm3 9zm1 5zm-3 118zm14-153zm20 7zm-6 21zm-3 27zm-10 79zm-4 3zm21 25zm-1 6zm22-186zm6 32zm-20 125zm14 12zm8-124zm16 80zm26 14zm0 4zm-10 7zm38 207zm21-180zm0 156zm32-140zm-18 30zm8 99zm22-118zm22 72zm14 68zm7-126zm4 111zm4 18zm16-159zm33-4zm37-162zm-3 290zm2 38zm10-293zm0 1zm16 17zm-9 24zm2 22zm5 189zm-1 2zm1 0zm-4 33zm30-348zm-6 38zm-15 11zm10 267zm17-284zm9 18zm-4 36z" stroke="#817269"/><path d="M0 0m45 130zm20-26zm-15 12zm4 14zm35 87zm-6 7zm31-145zm-5 11zm-9 9zm2 151zm23-166zm1 24zm79 105zm18 23zm-19 3zm39 163zm20-47zm22-37zm7 13zm-3 4zm-14 14zm41 91zm-9 17zm25-211zm-2 23zm29-40zm-7 4zm21 156zm26-295zm-5 82zm-4 15zm-11 185zm11 12zm27-301zm0 310zm-6 1zm21-344zm14 16zm-3 17zm-11 29zm13 6zm-4 8zm2 19zm9-53zm22 9zm-24 3zm3 14zm19 4zm-13 38zm16-30z" stroke="#836370"/><path d="M0 0m90 77zm15-11zm17 33zm-2 8zm-15 3zm16 11zm17 101zm81 5zm6 20zm65 70zm-4 15zm58-75zm30-54zm-17 25zm49-146zm18 2zm-24 12zm4 90zm12 197zm28-319zm-7 1zm10 24zm-16 32zm17 1zm-18 9zm0 15zm-1 2zm8 7zm20-82zm-2 5zm7 7zm6 26zm-9 41z" stroke="#835477"/><path d="M0 0m73 225zm-11 15zm20-12zm28-158zm5 75zm4 79zm90-7zm0 3zm102 237zm31-207zm16-11zm41 142zm22-317zm-3 0zm2 21zm-2 31zm4 55zm-4 12zm1 210zm-2 9zm16-344zm-2 4zm-4 21zm10 1zm0 12zm10 15zm-6 8zm-12 17zm6 27zm-9 211z" stroke="#81407f"/><path d="M0 0m85 106zm-9 117zm43-127zm169 221zm46-60zm87-170zm-15 19zm0 6zm-6 62zm11 227zm27-352zm9 19zm-18 8zm14 23zm1 12zm-12 265zm0 9zm-6 15zm27-316zm7 17zm-2 26zm-5 10zm6 6zm-5 1zm31-64z" stroke="#7f3086"/><path d="M0 0m175 233zm149 33zm-7 11zm-5 3zm49-53zm1 1zm27-39zm26-122zm5 26zm-14 12zm7 260zm-1 1zm11 33zm8-348zm10 2zm0 0zm-16 22zm24 15zm-10 1zm-12 5zm3 3zm-5 4zm11 18zm11 3zm-13 17zm22-65zm9 4zm-12 12zm10 16zm-4 29zm16-35z" stroke="#7e228c"/><path d="M0 0m61 94zm62-49zm-5 47zm-18 50zm55 81zm12 2zm22 175zm9 15zm1 10zm9-204zm11 34zm-15 127zm-4 15zm0 13zm17 1zm-1 6zm-2 0zm-3 8zm-2 4zm34-55zm5 15zm-19 10zm4 11zm-6 0zm-2 6zm11 15zm-10 3zm2 2zm-3 3zm38-85zm22-77zm3 4zm-5 33zm14 99zm16-143zm-5 101zm3 15zm-6 50zm26 10z" stroke="#70b63e"/><path d="M0 0m88 220zm33-81zm47 59zm12 10zm18 18zm1 173zm0 18zm10-34zm-8 36zm12 12zm2 4zm20-167zm6 7zm5 4zm-19 127zm24-6zm32-126zm11 24zm-7 36zm26 125zm34-204zm109-112z" stroke="#6db949"/><path d="M0 0m40 231zm31-101zm-13 118zm36-155zm-15 134zm14 27zm14-141zm6 9zm8 3zm-2 21zm-12 14zm13 4zm5-90zm71 162zm0 155zm1 7zm-4 1zm3 24zm11-23zm7 6zm-5 6zm27-171zm10 17zm-8 3zm10 116zm-9 20zm-1 12zm33-134zm-1 75zm29-67zm-9 47zm-2 13zm4 111zm9-8zm10 4zm75-78zm26-7z" stroke="#6bbb54"/><path d="M0 0m50 229zm9 4zm35-145zm-12 38zm32-35zm-9 42zm14 104zm-14 1zm7 4zm26-166zm6 104zm-9 41zm0 2zm29-6zm2 4zm23-2zm-6 9zm14 3zm-2 155zm24-87zm-18 113zm16 26zm22-195zm6 16zm2 29zm-4 104zm-14 17zm8 24zm-9 3zm25-193zm13 32zm20 7zm6 16zm-2 6zm-6 37zm11 70zm-4 46zm33-185zm-24 123zm18 39zm-16 2zm0 2zm55-213zm21 167zm63-342zm-8 110z" stroke="#6abc60"/><path d="M0 0m47 234zm27-138zm-8 8zm-13 23zm10 95zm28-112zm-11 5zm14 11zm7 9zm6 22zm0 3zm22-57zm1 10zm-5 52zm18 10zm-17 47zm37-14zm-11 9zm4 9zm13 8zm13-30zm16 29zm-13 3zm10 1zm0 164zm0 0zm21-161zm-11 167zm5 16zm-6 5zm33-175zm4 9zm0 1zm-1 12zm7 115zm0 1zm-2 28zm-3 6zm31-146zm0 8zm-15 77zm25-64zm7 20zm6 84zm-6 72zm21-192zm-2 118zm-5 20zm5 15zm9 3zm-1 17zm-15 5zm40-225zm-4 30zm6 98zm14-138zm38 149zm24-203zm-13 8zm-5 182zm5 13zm31-241z" stroke="#6eae61"/><path d="M0 0m71 89zm-21 16zm8 14zm15 3zm-13 103zm30-84zm-9 2zm0 91zm9 8zm28-170zm-8 15zm13 27zm-18 11zm11 35zm0 0zm15-94zm15 163zm35-24zm7 26zm5 2zm-1 183zm21-185zm2 72zm-14 76zm27-77zm11 91zm-14 17zm17 11zm18-162zm-10 15zm48 153zm-4 25zm23-88zm-15 31zm14 17zm-10 17zm16 20zm23-199zm-15 7zm-4 0zm1 9zm22 100zm-1 3zm5-109zm78-221zm5 51zm-4 7zm11 31zm6 26zm0 3zm1-31zm8 32z" stroke="#779464"/><path d="M0 0m54 236zm-4 1zm36-143zm12 41zm-7 6zm10-42zm17 0zm-8 31zm10 0zm-15 6zm26-66zm28 135zm-3 23zm19-23zm8 19zm38 160zm15-144zm-5 0zm-1 13zm11 16zm-5 1zm11 98zm-4 27zm16-136zm11 22zm3 59zm-17 29zm33 73zm22-178zm-5 116zm-5 36zm18 42zm22-203zm-11 13zm12 108zm18-158zm-10 16zm43 156zm28-356zm-3 13zm6 46zm0 59zm-5 6zm-6 16zm7 209zm-16 19zm33-358zm3 2zm-13 75zm39-19z" stroke="#7b7f61"/><path d="M0 0m58 109zm-3 3zm4 8zm31-33zm-13 0zm1 23zm20 38zm8-46zm-3 125zm78-14zm18 190zm20-111zm-17 116zm23-118zm33-46zm18 93zm25 126zm51-236zm27 146zm13 5zm-9 8zm-4 1zm41-338zm-5 35zm-3 1zm1 25zm6 28zm0 27zm5 6zm-23 7zm10 0zm3 222zm4 3zm19-331zm2 53zm-10 9zm4 39zm-5 208zm34-311zm5 28zm6 19zm-22 281z" stroke="#817269"/><path d="M0 0m41 232zm2 7zm30-106zm-7 106zm6 6zm27-181zm-13 12zm0 37zm2 5zm16 16zm15 105zm7-171zm3 12zm0 54zm43 91zm1 9zm21-23zm-7 21zm45 194zm28-157zm22 67zm23 81zm16 1zm-16 35zm11 11zm44-228zm31 139zm26-304zm4 91zm-3 3zm-18 9zm19 205zm-3 18zm-14 17zm11 0zm16-376zm20 50zm-3 45zm2 3zm0 9zm21-48zm4 32zm-10 37zm20-50zm-2 7z" stroke="#836370"/><path d="M0 0m26 128zm53-25zm-1 8zm5 17zm15 99zm-21 17zm41-169zm-5 42zm25-43zm-11 7zm39 123zm39 202zm28-157zm25 122zm-7 2zm34-56zm33-81zm-1 121zm7 66zm-11 0zm-2 37zm35-202zm-18 15zm67-80zm2 179zm-9 25zm9 6zm19-340zm-14 9zm20 21zm-8 26zm10 14zm0 2zm-11 253zm28-325zm7 15zm-23 33zm4 48zm-2 211zm29-306zm-4 55zm-1 25z" stroke="#835477"/><path d="M0 0m44 233zm34-146zm1 9zm8 33zm36-16zm8-10zm91 184zm-8 11zm121-57zm8 2zm-11 120zm21-110zm30 137zm9 15zm-8 4zm35-348zm-6 31zm5 86zm-13 4zm23-145zm-3 26zm9 1zm2 24zm10 8zm-13 30zm6 16zm9 15zm2-99zm21 77zm8-14z" stroke="#81407f"/><path d="M0 0m74 101zm-2 24zm2 103zm53-134zm111 173zm36 20zm27-5zm46-42zm-14 18zm6 13zm10 98zm40 6zm31-334zm-3 30zm5 1zm-17 0zm-2 26zm13 62zm-12 7zm16 10zm-3 197zm-2 17zm6 4zm12-334zm13 2zm-12 42zm3 2zm-7 10zm19 38zm-23 209zm28-304z" stroke="#7f3086"/><path d="M0 0m90 93zm38-13zm99 222zm121-66zm-1 5zm50-152zm-3 94zm26-140zm-10 60zm13 2zm-7 305zm24-357zm-5 16zm-2 12zm-2 5zm5 7zm1 16zm-6 2zm-6 49zm28-77zm0 3zm5 15zm4 23zm0 4zm17-8z" stroke="#7e228c"/><path d="M0 0m46 123zm36 12zm26 99zm38-55zm2 32zm19 2zm4 9zm-13 6zm32 163zm1 2zm-8 17zm37-28zm-20 6zm12 3zm2 20zm8 2zm-21 3zm10 9zm26-179zm11 141zm-7 7zm-3 5zm11 2zm-17 15zm28-43zm0 1zm32-49zm-2 90zm27 3zm18-49zm22 2zm18 16z" stroke="#70b63e"/><path d="M0 0m40 241zm25-123zm11 123zm45-90zm14 7zm7 19zm29 53zm38-9zm13 7zm-3 173zm-14 16zm1 0zm38-7zm-1 13zm13-164zm5 14zm-7 6zm31 33zm10 117zm53-188zm-18 202zm82-331zm16-72z" stroke="#6db949"/><path d="M0 0m48 111zm-16 14zm32-7zm-9 126zm19 9zm21-132zm2 18zm-19 108zm40-138zm-10 43zm15 83zm2-82zm0 5zm8 2zm-5 2zm2 70zm-4 0zm29-30zm15 3zm24 4zm-9 1zm8 8zm20 19zm5 163zm-15 2zm43-130zm-5 20zm-15 93zm12 2zm-5 17zm13 7zm-9 17zm13-46zm34-102zm7 48zm4 14zm2 111zm8-61zm-4 42zm4 48zm21-30zm97-334zm-12 268z" stroke="#6bbb54"/><path d="M0 0m56 243zm31-160zm3 149zm7 13zm1 10zm22-145zm-15 5zm15 20zm-2 22zm15-89zm15 150zm21-15zm-9 14zm10 13zm27 152zm-4 9zm-1 12zm18-181zm-7 2zm0 168zm12 31zm39-40zm33-80zm22 82zm25-125zm14 117zm15-1zm24 25zm33-288zm15-30zm5 11zm-1 45z" stroke="#6abc60"/><path d="M0 0m49 238zm11-143zm1 125zm1 14zm11 8zm9-163zm7 13zm-13 22zm14 8zm-4 1zm0 94zm-4 13zm17 11zm2-176zm14 41zm-1 39zm-6 11zm20-88zm3 86zm-1 0zm26 53zm21 20zm18 10zm15-7zm2 0zm8 68zm-9 88zm31-156zm-14 53zm3 15zm17 84zm-6 2zm6 5zm-11 6zm-2 23zm27-60zm44 32zm6 15zm-6 1zm6 22zm-12 7zm27 23zm40-78zm4 9zm12 1zm41-309zm-2 73zm12-113zm2 109zm20-37zm3 35z" stroke="#6eae61"/><path d="M0 0m39 235zm34-141zm-21 6zm14 122zm-7 22zm32-134zm7 1zm-7 9zm-6 6zm2 16zm-8 103zm1 9zm44-174zm-9 36zm1 17zm3 14zm12 10zm34 66zm-6 2zm33 5zm30 75zm0 102zm-12 13zm6 13zm28-146zm-17 103zm3 2zm2 0zm-1 12zm2 19zm34-168zm-5 17zm7 75zm16-56zm5 12zm-12 28zm0 9zm8 7zm10 111zm14-190zm3 175zm11 1zm-13 21zm34-235zm-4 31zm14-31zm-4 4zm6 136zm37-279zm5 87zm1-72zm24 34zm-14 238zm-1 3zm12 10zm5-264zm9 23zm0 23zm16-118zm19 55z" stroke="#779464"/><path d="M0 0m48 123zm-18 2zm-1 1zm13 110zm12-14zm-2 16zm47-171zm0 5zm0 25zm-20 21zm-3 7zm12 2zm-11 99zm19 14zm-16 2zm17 3zm26-165zm-16 3zm7 7zm-7 52zm-6 94zm41-55zm5 3zm50 56zm-6 172zm21-177zm-8 5zm12 65zm2 83zm19-147zm1 8zm3 167zm2 10zm14-176zm7 30zm8 2zm12 23zm2 10zm19 79zm6 38zm34-193zm-12 8zm17 10zm6 126zm43-215zm-2 20zm-21 193zm11 31zm8 3zm26-362zm-5 94zm-4 3zm2 32zm-9 184zm36-266zm-16 30zm31-59zm7 20zm-9 2zm-3 27zm13 6zm-10 1z" stroke="#7b7f61"/><path d="M0 0m47 106zm-6 135zm19-128zm-6 2zm20 8zm-9 94zm-6 12zm35-149zm2 61zm28 10zm-19 92zm31-154zm-6 15zm-3 59zm11 64zm-8 2zm66 3zm20 173zm-1 30zm34-187zm-17 40zm23-22zm-2 9zm35 34zm-4 20zm-4 10zm30-57zm0 112zm44-17zm13 3zm19 15zm35-354zm-7 33zm8 3zm-16 31zm17 14zm1 4zm-3 38zm-9 8zm-4 5zm-6 204zm2 6zm1 13zm32-360zm6 7zm-16 45zm5 38zm8 15zm-4 239zm21-312zm4 30zm7 38zm-13 15zm27-49z" stroke="#817269"/><path d="M0 0m44 229zm10-119zm10 1zm4 11zm-14 120zm36-154zm1 0zm-16 10zm23 145zm24-164zm-11 12zm5 23zm-11 1zm12 3zm4 7zm-9 121zm19-83zm34 43zm56 19zm20 46zm0 2zm14 11zm24 45zm37-49zm-14 113zm9 31zm25-175zm-7 187zm70-343zm-16 97zm38-46zm-10 16zm9 206zm4 10zm-15 23zm-7 1zm1 16zm33-359zm1 33zm6 2zm-12 79zm1 208zm24-238zm4 2zm22-16z" stroke="#836370"/><path d="M0 0m37 134zm60-52zm-13 16zm5 7zm26 26zm-13 13zm27-38zm107 125zm0 53zm-11 15zm70 17zm18 119zm-13 9zm11 16zm37-205zm-19 104zm7 9zm24-143zm-4 8zm10 140zm30-199zm-20 210zm14 7zm1 1zm7 12zm24-350zm-6 48zm3 30zm-3 32zm-7 3zm-5 23zm-4 219zm37-368zm3 10zm7 15zm1 29zm-9 4zm7 1zm-5 29zm-6 11zm-4 29zm-4 225zm47-309zm-22 23z" stroke="#835477"/><path d="M0 0m73 244zm22-151zm-8 13zm7 4zm-10 132zm28-145zm-12 10zm135 140zm82 26zm65 118zm42-360zm-10 71zm-4 84zm8 181zm4 1zm-18 13zm44-332zm-22 73zm9 9zm0 24zm26-85zm-1 10zm-4 18zm-4 7zm10 16zm-10 42z" stroke="#81407f"/><path d="M0 0m58 107zm15 10zm6-7zm49 7zm227 114zm44-51zm23-147zm2 55zm-2 58zm-9 5zm-6 16zm-3 19zm32-113zm-7 36zm12 26zm7 9zm-12 22zm37-56zm-14 47zm24-43z" stroke="#7f3086"/><path d="M0 0m66 97zm23 39zm21-62zm9 67zm-11 81zm11 14zm172 184zm58-196zm42-43zm-12 198zm43-340zm-8 12zm-9 41zm-5 9zm0 71zm7 10zm-1 183zm38-306zm0 16zm5 11zm-2 22zm-5 22zm-9 22zm34-55zm-1 13zm3 3zm-10 22zm1 10zm-3 9zm-6 4zm35-57z" stroke="#7e228c"/><path d="M0 0m32 134zm38-39zm2 154zm20-173zm-15 44zm13 24zm-7 88zm3 19zm20-116zm0 4zm-4 86zm22 4zm13-3zm62 153zm-13 18zm-6 7zm27-162zm5 7zm0 0zm-2 172zm7 3zm-12 10zm21-196zm15 36zm5 134zm-18 16zm4 11zm79-72zm30 9zm1 1z" stroke="#70b63e"/><path d="M0 0m64 119zm7 3zm1 16zm26-71zm-17 18zm8 59zm9 96zm46-25zm4 8zm25-11zm18 176zm8 16zm-14 0zm8 16zm12-184zm16 2zm-18 188zm31-191zm11 33zm-13 17zm-1 6zm-2 104zm5 4zm8 31zm-13 4zm38-181zm-12 125zm35-40zm-4 5zm5 92zm7 23zm23-29zm-8 32zm14-100zm61 34z" stroke="#6db949"/><path d="M0 0m47 134zm6-9zm18 119zm22-164zm-7 3zm35-9zm-18 21zm7 15zm-6 33zm35 22zm27 44zm12 16zm16 9zm10 0zm-4 2zm7 163zm13 5zm1 21zm17-156zm1 16zm-10 7zm5 6zm-6 8zm6 86zm14 13zm-18 2zm21-164zm42 80zm3 83zm16-123zm-2 156zm-9 16zm52-84zm26 14zm28-13zm5 1z" stroke="#6bbb54"/><path d="M0 0m44 120zm7 13zm20 103zm13-104zm9 85zm2 12zm-1 18zm40-97zm4 19zm10 47zm-3 14zm30-24zm3 3zm2 24zm17 152zm7-150zm18 0zm2 3zm-1 60zm-1 112zm-2 28zm21-191zm8 3zm-7 37zm-1 98zm1 35zm9-168zm36 30zm2 26zm4 28zm-2 104zm13-31zm2 6zm8 18zm2 3zm-11 15zm-4 5zm40-211zm11 6zm3 112zm36 6zm-2 40zm21-294zm53-19z" stroke="#6abc60"/><path d="M0 0m47 243zm11-3zm-4 0zm0 10zm39-175zm-13 65zm-5 110zm30-168zm12 17zm-17 16zm1 19zm13 7zm9 95zm-22 18zm35-85zm-7 9zm13 39zm-14 7zm3 1zm43 5zm3 1zm36 65zm11 124zm-15 5zm28-131zm2 89zm3 11zm10-147zm14 17zm-12 17zm-1 100zm42-94zm-8 8zm-7 37zm1 2zm14 101zm5-155zm10 107zm-9 6zm5 18zm1 17zm-2 6zm-4 8zm16 11zm13-182zm43 118zm39-307zm-6 30zm15 11zm-8 40zm-4 207zm2 5zm4 20zm-9 3zm9 11zm30-274zm-2 3zm-15 1z" stroke="#6eae61"/><path d="M0 0m33 123zm35-30zm-16 42zm23-26zm4 13zm4 21zm2 80zm14 6zm-9 26zm11-167zm12 8zm-10 18zm20 33zm10-80zm1 3zm1 90zm75 60zm-3 22zm14 6zm-10 183zm14-194zm24 27zm0 2zm-17 24zm17 99zm1-154zm41 82zm13 86zm-4 26zm5 12zm8 5zm35-74zm-20 62zm71-260zm0 8zm-15 11zm7 180zm-14 0zm26-180zm7 221zm62-314zm4-10z" stroke="#779464"/><path d="M0 0m39 115zm11 17zm10 98zm35-159zm3 30zm-19 17zm-3 5zm23 0zm-5 26zm-2 82zm0 11zm12-172zm20 5zm-23 1zm13 41zm3 116zm13-80zm-1 10zm18 47zm9-4zm9 5zm23 18zm-2 9zm16-11zm22 17zm15 31zm-13 14zm42-14zm4 76zm-15 8zm23-83zm36 1zm-1 3zm5 161zm6-79zm31 20zm33-190zm5 224zm22-263zm-11 215zm38-296zm3 9zm-16 19zm-4 25zm19 10zm2 26zm-23 208z" stroke="#7b7f61"/><path d="M0 0m35 130zm14 118zm23-27zm21-154zm-9 12zm12 2zm-7 59zm-12 79zm45-154zm-10 30zm-6 2zm10 31zm7 1zm-23 12zm15 13zm-12 67zm13 11zm-8 2zm24-3zm43-5zm35 13zm6 192zm21-188zm7 29zm-2 1zm-3 127zm13-151zm17 9zm0 24zm25 2zm1 139zm12-36zm-1 36zm27-151zm22-34zm37 129zm-6 32zm20-325zm1 9zm16 15zm-15 26zm10 7zm-6 4zm-3 229zm6 9zm-8 33zm9 5zm-16 1zm39-372zm-7 98zm21-73zm5 33zm-4 58z" stroke="#817269"/><path d="M0 0m40 123zm33-34zm-14 22zm-7 114zm45-157zm-2 43zm-1 17zm-5 95zm-4 0zm19-154zm15 12zm-7 17zm-4 29zm-5 120zm10 0zm13-15zm61 165zm19-153zm29 160zm39-144zm-9 91zm-5 4zm36-72zm-18 48zm4 20zm10 66zm27-145zm-13 171zm24 3zm24-201zm-2 6zm46-167zm-3 291zm-1 1zm0 39zm27-358zm-15 17zm12 14zm-12 3zm9 11zm9 16zm-19 0zm30-80zm5 7zm-11 40zm6 6zm-5 45zm1 10zm17 3zm-22 4zm2 0zm12 8zm-9 8zm2 1zm21-109zm12 34zm-13 54zm25-63z" stroke="#836370"/><path d="M0 0m65 103zm-7 12zm-5 126zm44-160zm-18 41zm1 104zm7 2zm2 17zm14-145zm28-30zm-2 24zm157 241zm37-58zm-9 6zm22-14zm24-38zm1 142zm26-179zm-1 184zm4 34zm23-354zm9 23zm1 22zm-3 1zm-11 54zm1 23zm18-129zm6 23zm-1 46zm-4 271zm38-313zm4 13zm-16 2zm8 15zm-1 9zm18-1zm-2 9z" stroke="#835477"/><path d="M0 0m94 66zm-11 41zm12 123zm-6 7zm24-173zm-11 15zm15 53zm5 8zm-3 9zm2 5zm156 114zm12 52zm61-83zm14 137zm33-286zm22 10zm-12 71zm16 5zm-19 16zm44-141zm-5 12zm0 31zm-8 3zm-6 290zm44-292zm-1 7zm1 22zm-17 11zm7 2zm0 11zm-10 233z" stroke="#81407f"/><path d="M0 0m73 102zm-10 148zm60-139zm-14 36zm13 83zm10-160zm175 210zm36-21zm11-17zm42 162zm24-367zm-6 22zm4 9zm-3 93zm1 215zm-11 30zm44-331zm-18 11zm-6 9zm16 10zm-11 4zm30-21zm12 2zm-9 40zm16 0z" stroke="#7f3086"/><path d="M0 0m81 125zm193 220zm71-105zm3 14zm48-66zm26-146zm-4 36zm-18 18zm0 4zm5 13zm5 38zm16-98zm18 8zm-7 4zm-11 6zm22 11zm-20 4zm1 3zm-2 8zm13 12zm-8 2zm-5 252zm8 21zm18-292zm18 16zm1 23zm5-10z" stroke="#7e228c"/></g><g font-size="3.10" stroke="#000" stroke-width="0.09"><text x="182.90" y="390.00" text-anchor="middle">−1.0</text><text x="166.00" y="378.82" text-anchor="end">−1.0</text><text x="202.73" y="390.00" text-anchor="middle">−0.5</text><text x="166.00" y="357.52" text-anchor="end">−0.5</text><text x="222.55" y="390.00" text-anchor="middle">0.0</text><text x="166.00" y="336.22" text-anchor="end">0.0</text><text x="242.38" y="390.00" text-anchor="middle">0.5</text><text x="166.00" y="314.92" text-anchor="end">0.5</text><text x="262.20" y="390.00" text-anchor="middle">1.0</text><text x="166.00" y="293.62" text-anchor="end">1.0</text></g><text x="218.40" y="394.00" text-anchor="middle" font-size="3.25">Dimension 1</text><text transform="translate(159.20 335.10) rotate(-90)" text-anchor="middle" font-size="3.25">Dimension 2</text><text x="166.80" y="283.30" font-size="5.00">Total cholesterol (mmol/L)</text><rect x="272.00" y="310.60" width="11.00" height="59.10" fill="url(#cg)"/><path d="M272.00 325.20h2.20M283.00 325.20h-2.20M272.00 354.80h2.20M283.00 354.80h-2.20" stroke="#fff" stroke-width="0.55" fill="none"/><g font-size="4.50"><text x="285.70" y="326.82">6</text><text x="285.70" y="356.42">3</text></g><text x="272.40" y="307.00" font-size="4.90">TC</text></g>
<g><path d="M321.99 285.00V385.20M341.81 285.00V385.20M316.20 367.05H418.40M361.64 285.00V385.20M316.20 345.75H418.40M381.46 285.00V385.20M316.20 324.45H418.40M401.29 285.00V385.20M316.20 303.15H418.40" stroke="#e3e3e3" stroke-width="0.85" fill="none"/><path d="M331.90 285.00V385.20M316.20 377.70H418.40M351.72 285.00V385.20M316.20 356.40H418.40M371.55 285.00V385.20M316.20 335.10H418.40M391.37 285.00V385.20M316.20 313.80H418.40M411.20 285.00V385.20M316.20 292.50H418.40" stroke="#e3e3e3" stroke-width="1.10" fill="none"/><g transform="translate(316 285) scale(0.2)" fill="none" stroke-linecap="round" stroke-width="13.0"><path d="M0 0m43 232zm14-15zm31-143zm-6 30zm7 42zm6 73zm-13 21zm3 3zm36-156zm-17 13zm4 29zm-7 118zm32-169zm3 101zm13 43zm10-10zm5 13zm17 13zm40-7zm-13 16zm-3 1zm15 6zm-11 135zm3 43zm29-198zm44 68zm7 153zm27-191zm23 107zm55-284zm7 21zm15 41zm22-84zm7 46z" stroke="#6db949"/><path d="M0 0m45 122zm-12 4zm41-38zm-1 5zm-1 9zm1 5zm-10 11zm9 19zm-6 87zm6 1zm-20 4zm1 5zm-1 12zm47-178zm-11 5zm10 1zm-6 3zm5 0zm-10 3zm0 12zm-4 0zm15 9zm-18 13zm16 1zm-1 0zm-11 0zm-7 3zm4 12zm1 3zm-6 5zm11 83zm-11 7zm21 10zm-13 6zm10 1zm-4 2zm-8 6zm28-179zm-2 6zm10 13zm-5 11zm-11 1zm14 7zm-7 2zm-1 5zm-3 4zm17 3zm-16 5zm13 1zm-17 0zm0 7zm14 8zm5 12zm-8 0zm8 2zm-16 62zm17 1zm-8 5zm-10 1zm2 17zm35-179zm-9 6zm5 1zm-11 2zm12 0zm-13 2zm4 24zm3 73zm3 3zm10 38zm-8 4zm33-24zm-11 6zm10 0zm-10 3zm5 6zm-5 5zm2 0zm-8 7zm30-6zm10 15zm6 180zm21-165zm-9 53zm2 81zm-13 21zm12 21zm-1 4zm16-196zm6 5zm4 149zm6 11zm-8 9zm36-134zm2 0zm-4 78zm24-56zm-8 50zm8 105zm27-88zm-17 36zm7 1zm57-21zm6 2zm26-209zm-5 18zm4 175zm-12 25zm7 6zm-14 3zm16 5zm27-365zm-11 72zm-6 8zm-3 70zm22 184zm-23 25zm-1 3zm10 4zm2 3zm1 26zm16-379zm2 4zm15 34zm-11 11zm3 16zm11 12zm-13 1zm12 12zm21-45z" stroke="#6bbb54"/><path d="M0 0m43 118zm6 5zm-2 12zm6-22zm6 4zm11 3zm-8 2zm-12 6zm20 84zm-5 6zm2 1zm-13 7zm0 5zm13 11zm-9 4zm9 4zm27-178zm-8 9zm8 12zm1 9zm-19 1zm22 28zm-1 12zm-16 90zm10 10zm2 2zm-16 1zm42-179zm3 4zm-5 19zm-17 0zm14 8zm4 1zm-11 2zm1 8zm-3 3zm4 10zm3 34zm-1 84zm-9 8zm36-175zm-4 26zm-5 9zm-4 1zm5 33zm0 15zm38 55zm-9 2zm-2 10zm3 0zm11 1zm1 3zm2 0zm-9 7zm25-26zm26 30zm-6 6zm-6 1zm15 5zm2 38zm0 21zm0 91zm2 20zm25-183zm-19 26zm7 24zm6 96zm1 3zm-2 8zm-6 7zm-1 16zm17-47zm30-102zm-3 1zm12 52zm0 21zm5 77zm2 24zm-1 1zm25-170zm-12 102zm8 32zm7 18zm-7 13zm21-198zm10 5zm11-9zm-3 135zm9 8zm26-193zm30-128zm-19 114zm5 4zm-7 3zm9 235zm20-368zm-3 17zm21 50zm-16 17zm13 21zm27-64zm-3 5zm2 12zm-12 5zm0 31zm25-20z" stroke="#6abc60"/><path d="M0 0m72 227zm22-84zm-11 87zm4 1zm36-64zm5-34zm11 93zm55 5zm13 173zm34-142zm6 11zm-20 14zm70 140zm-1 28zm45-215zm-7 128zm15 1zm30 15zm33-288zm7 37zm-10 18zm19-90zm12 19zm7 23zm2 51zm-23 2zm29-45zm17 20zm-14 28z" stroke="#6eae61"/><path d="M0 0m223 304zm5-11zm-1 3zm28-44zm8 1zm-6 106zm38-21zm1 7zm14 76zm44-175zm35-57zm27-129zm-8 45zm0 9zm5 11zm6 10zm0 21zm-17 9zm7 2zm6 13zm11-57zm6 18zm14 22zm15-43z" stroke="#779464"/><path d="M0 0m195 213zm20 93zm28-45zm-10 40zm22-59zm1 2zm49 133zm41-129zm4 10zm49-153zm-21 294zm2 0zm43-268zm1 35zm11-109zm-9 24zm-1 13zm14 23z" stroke="#7b7f61"/><path d="M0 0m215 416zm32-42zm44-45zm3 74zm-5 31zm16-158zm4 5zm7 1zm3 79zm-17 25zm4 19zm3 16zm-3 18zm35-178zm18 112zm44-290zm0 28zm4 65zm-6 238zm25-372zm23 28zm-8 17zm-13 65zm-2 15zm28-91z" stroke="#817269"/><path d="M0 0m210 234zm3 64zm-8 83zm35-136zm42 101zm12 2zm5 51zm5 16zm78-16zm19-291zm7 71zm5 225zm19-297zm0 282z" stroke="#836370"/><path d="M0 0m210 386zm30-135zm-12 138zm7 40zm37-83zm24-61zm-15 60zm4 4zm36-81zm-3 91zm-7 74zm1 32zm31-202zm75-174zm1 79zm3 208zm8-250zm17 9zm1 25zm18-67zm2 45zm4 4zm7-14z" stroke="#835477"/><path d="M0 0m191 223zm31 65zm-1 14zm-19 98zm19 34zm9-147zm12 108zm19-30zm54 50zm24-176zm-12 33zm2 163zm32-59zm5 1zm-11 1zm0 3zm39-4zm-11 1zm36-305zm-17 32zm0 255zm0 11zm20 2zm-15 1zm8 38zm29-356zm2 2zm-20 314zm25-323zm20 78zm7-4z" stroke="#81407f"/><path d="M0 0m177 201zm40 28zm-1 163zm7 47zm4-52zm0 3zm0 8zm18 2zm26-140zm-6 8zm-15 108zm48 37zm1 31zm-7 10zm25-175zm-17 109zm13 1zm-11 19zm12 3zm5 32zm-1 1zm-8 13zm8 1zm-18 3zm17 2zm26-206zm2 5zm-6 5zm10 97zm-17 115zm26-259zm-6 13zm3 20zm3 124zm11 6zm28 2zm1 6zm25-304zm-23 92zm9 194zm-7 30zm34-336zm9 5zm-1 45zm-17 0zm-1 5zm15 0zm-10 9zm9 39zm-9 223zm29-319zm9 13zm-14 27zm6 9zm5 8zm-9 12zm-5 7zm28-37z" stroke="#7f3086"/><path d="M0 0m247 401zm-16 10zm48-137zm-1 76zm28-66zm1 122zm-4 45zm39-199zm-3 13zm-12 162zm37-205zm-8 145zm13 19zm27-26zm7-273zm4 28zm8 268zm3 4zm-2 11zm-5 7zm38-344zm-17 5zm16 72zm-15 14zm-2 216zm-5 6zm37-269zm11 26zm1-13zm2 12z" stroke="#7e228c"/><path d="M0 0m45 107zm0 23zm18-30zm-4 2zm6 2zm1 5zm1 5zm-17 2zm3 7zm12 105zm-1 4zm-11 8zm33-148zm10 7zm-2 28zm-7 110zm9 4zm2 0zm-18 3zm37-183zm7 8zm-1 24zm-14 29zm6 23zm-14 77zm24-138zm12 133zm30-13zm56 189zm2-146zm17 133zm0 14zm-9 32zm70-147zm7 96zm69 1zm45-292zm-18 34zm-6 68zm13 179zm19-249zm13 6zm-15 49zm30-70z" stroke="#6db949"/><path d="M0 0m52 107zm2 4zm-4 10zm1 98zm18 15zm-6 0zm-10 0zm11 8zm8 8zm6-164zm0 13zm7 7zm7 1zm6 7zm-3 6zm-18 9zm1 9zm11 79zm-13 6zm7 12zm12 12zm-2 2zm6 5zm9-184zm0 13zm1 7zm13 9zm-22 0zm20 8zm-15 3zm2 5zm3 6zm0 4zm10 5zm-10 3zm-5 20zm-2 65zm-1 32zm28-178zm-5 34zm6 36zm-1 3zm11 41zm4 33zm-16 0zm-2 9zm40-28zm-4 21zm18 6zm-4 1zm2 2zm-4 3zm20 155zm-8 8zm-4 15zm26-194zm0 3zm14 16zm-4 12zm4 140zm-7 33zm3 11zm0 4zm19-183zm10 1zm-10 129zm-5 28zm-6 5zm3 8zm31-148zm-8 3zm10 76zm-10 12zm26-82zm10 50zm0 0zm-14 14zm22 62zm19-151zm-16 86zm18 11zm2 7zm-13 26zm25-144zm-6 19zm35-38zm-2 5zm-8 17zm7 134zm15 6zm7-5zm41-320zm-3 0zm2 21zm-14 20zm0 7zm7 48zm-9 26zm16 185zm-16 3zm15 19zm27-335zm-13 0zm9 2zm-5 5zm0 19zm10 5zm-10 7zm3 0zm3 3zm4 12zm-6 19zm-11 1zm4 10zm-3 26zm22-83zm18 20zm-13 23zm1 10zm-5 7zm5 20zm16-30z" stroke="#6bbb54"/><path d="M0 0m49 233zm-1 8zm1 2zm-2 2zm-9 6zm30-162zm-4 12zm-11 8zm15 8zm-14 13zm0 3zm5 86zm-3 2zm10 3zm7 1zm-8 4zm-3 11zm6 3zm29-178zm1 1zm-8 11zm-12 2zm20 7zm-20 13zm11 35zm-11 4zm4 2zm14 5zm-17 68zm-4 3zm8 5zm0 3zm-1 4zm17 11zm-18 4zm24-177zm5 4zm4 9zm-14 12zm19 5zm-1 8zm3 17zm-11 4zm-2 3zm12 1zm-17 7zm10 9zm6 79zm-2 6zm0 11zm-2 3zm-5 1zm26-176zm-3 3zm-4 35zm-4 0zm1 1zm0 23zm0 91zm12 0zm-10 4zm42-27zm-6 11zm-7 1zm1 0zm15 1zm-11 21zm15-28zm9 5zm4 19zm-7 6zm8 167zm4 12zm0 4zm12-198zm12 5zm-1 8zm-2 5zm-12 0zm13 68zm-16 119zm12 1zm15-189zm18 5zm-12 2zm8 10zm4 172zm14-161zm-1 2zm5 1zm19 53zm1 30zm23-76zm4 176zm1 4zm-5 2zm29-188zm0 96zm58-189zm-9 200zm-1 8zm33-297zm-17 9zm22 7zm0 33zm-7 4zm7 31zm-1 6zm-8 3zm2 2zm-13 189zm15 26zm24-344zm-9 1zm15 14zm-6 51zm-14 10zm2 7zm14 13zm-8 14zm-9 237zm40-318zm-9 2zm-7 24zm2 34z" stroke="#6abc60"/><path d="M0 0m46 244zm28-153zm0 34zm20 131zm93-31zm2 4zm128 48zm-13 146zm18 10zm-16 12zm38-188zm52 154zm25-324zm-15 32zm11 53zm-5 194zm15-283zm34 25zm-2 35z" stroke="#6eae61"/><path d="M0 0m187 223zm46 189zm53-94zm6 13zm6 62zm-1 33zm-2 29zm7-165zm72 98zm19-7zm6 0zm16-314zm3 116zm9-87zm-2 7zm13 37zm-12 234zm6 11zm24-309zm9 4zm-3 5zm-9 52z" stroke="#779464"/><path d="M0 0m219 239zm-17 163zm25-164zm3 46zm13 118zm14-126zm55 4zm-4 105zm-5 3zm49-155zm67 140zm12-322zm-6 56zm32-34zm6 28zm9 25zm-15 18z" stroke="#7b7f61"/><path d="M0 0m282 337zm9 92zm15-144zm6 113zm-4 6zm10 43zm24-197zm22 132zm54 16zm20-349zm-9 27zm20 14zm-10 1zm16-13zm-3 12zm16 21z" stroke="#817269"/><path d="M0 0m204 239zm6 178zm10 22zm22-209zm3 153zm19-109zm10 76zm-11 5zm-5 14zm30 71zm36-177zm0 166zm-23 7zm39-181zm17-27zm2 1zm38-146zm-8 106zm4 213zm13-320zm14 11zm1 279zm-10 29zm-3 11zm23-350zm1 314zm21-284z" stroke="#836370"/><path d="M0 0m186 236zm61 26zm-4 140zm19-44zm25-40zm-4 10zm16 103zm7-38zm-6 14zm4 24zm-2 31zm47-232zm13-2zm30-33zm26-79zm-1 286zm8-327zm18 12zm1 24zm8-51z" stroke="#835477"/><path d="M0 0m189 434zm12-195zm5 4zm14 156zm26-155zm3 17zm-14 16zm10 109zm4 1zm12-138zm35 156zm-1 57zm25-35zm-3 47zm31-225zm12-4zm-7 3zm-2 134zm43-9zm26-2zm-4 12zm15-275zm15 30zm-9 17zm22-3z" stroke="#81407f"/><path d="M0 0m187 222zm-1 171zm33-166zm-8 3zm13 171zm4-162zm-1 2zm22 34zm-20 26zm14 73zm28-116zm-18 107zm31-87zm3 9zm1 0zm2 30zm-5 1zm10 95zm29-147zm-3 1zm-16 10zm6 131zm12 16zm11-167zm-6 193zm30-211zm8 135zm-5 10zm29 4zm26-308zm-10 26zm-1 63zm-5 5zm10 2zm10 197zm-9 25zm12 1zm-7 7zm-14 11zm42-353zm-14 35zm6 22zm-5 0zm17 1zm-18 24zm-1 2zm21-97zm24 54zm11-25zm-10 22z" stroke="#7f3086"/><path d="M0 0m191 407zm14-194zm11 181zm-6 11zm6 18zm15-183zm11 24zm16 4zm30 49zm3 2zm-5 13zm-6 6zm9 3zm18 32zm-6 30zm1 15zm14 22zm-5 17zm38-213zm-22 5zm3 20zm44-66zm-17 33zm42-142zm-9 97zm1 175zm50-313zm5 17zm3 18zm-4 30zm2 6zm-5 30zm-7 220zm17-278zm11 12zm-10 14z" stroke="#7e228c"/><path d="M0 0m59 233zm31-146zm-10 28zm7 14zm4 12zm-1 101zm33-197zm-5 54zm-5 23zm8 3zm-2 21zm-12 14zm5 82zm17-162zm0 54zm6 87zm17-4zm17 17zm14-10zm15 2zm21 73zm-12 101zm9 17zm-1 18zm26-172zm-2 134zm6 22zm-17 17zm54-100zm19-54zm115-219zm35 335z" stroke="#6db949"/><path d="M0 0m26 128zm14 103zm1 1zm6 2zm24-145zm3 12zm-16 8zm15 13zm-20 5zm7 98zm14 3zm-24 1zm0 8zm16 2zm-8 9zm28-172zm-9 11zm17 1zm-4 5zm4 0zm-8 1zm-7 9zm-1 7zm13 0zm-3 8zm6 8zm-12 0zm8 15zm-9 2zm17 5zm0 79zm-21 17zm16 10zm25-182zm-17 27zm22 14zm-10 4zm7 13zm-19 5zm20 4zm-14 18zm-4 70zm2 11zm14 1zm12-173zm0 4zm7 6zm-11 5zm4 22zm-2 0zm1 10zm-4 109zm9 1zm11 6zm22-31zm-5 10zm9 17zm1 9zm9-30zm-1 1zm16 26zm-1 160zm-3 8zm6 18zm9-196zm5 10zm3 9zm3 15zm3 32zm-13 96zm-4 23zm0 1zm9 10zm-5 12zm8 9zm14-198zm8 3zm-1 18zm2 14zm7 116zm-20 15zm2 3zm13 12zm-17 18zm28-196zm7 16zm-4 110zm34-65zm28-68zm-13 217zm43-217zm-10 31zm-10 6zm25-20zm42-60zm2 179zm-14 14zm9 19zm29-371zm-1 7zm-15 31zm8 20zm9 1zm-9 17zm6 48zm0 7zm-1 13zm-7 0zm-9 236zm27-376zm11 8zm1 17zm-4 9zm-1 16zm-3 38zm10 2zm-14 6zm19 11zm-19 14zm21-101zm4 2zm8 10zm-9 13zm14 15zm-5 30zm-11 16zm12 22zm16-46zm2 3z" stroke="#6bbb54"/><path d="M0 0m44 233zm17-139zm13 2zm-8 8zm-16 1zm5 7zm3 7zm1 1zm13 5zm-1 5zm2 3zm-10 89zm-9 14zm18 9zm27-181zm-21 23zm1 9zm-1 15zm8 2zm-3 15zm15 7zm-10 85zm-9 7zm2 7zm37-159zm-8 12zm4 4zm-8 11zm17 12zm-18 11zm5 5zm-5 3zm-1 1zm1 2zm-5 6zm16 18zm0 0zm-9 0zm12 77zm7-169zm12 6zm-10 6zm-1 14zm-2 71zm18 10zm1 5zm22 24zm-7 1zm5 12zm2 4zm-11 2zm12 2zm-11 1zm0 2zm19-23zm5 3zm14 3zm-5 8zm-6 9zm4 4zm11 1zm-13 3zm10 1zm2 161zm2 1zm-10 1zm6 1zm1 22zm3 2zm2-46zm3 3zm-2 26zm15 3zm-8 1zm-8 7zm10 6zm30-156zm-5 1zm10 9zm-19 23zm11 107zm-13 1zm8 0zm9 15zm-5 8zm-9 3zm32-167zm11 6zm2 4zm-15 85zm25-90zm0 40zm1 27zm18 95zm9 24zm37-91zm48 7zm21-305zm-7 32zm13 2zm1 30zm-3 27zm-17 5zm20 4zm-4 212zm-16 19zm21-339zm10 6zm13 9zm1 10zm-3 8zm-9 11zm-12 4zm24 46zm-1 0zm-20 224zm22-255zm6 17zm23-22z" stroke="#6abc60"/><path d="M0 0m118 92zm-11 21zm13 51zm5-90zm56 139zm60 49zm0 13zm-16 15zm3 12zm23 71zm37-30zm12 52zm18 45zm29-199zm2 125zm0 3zm11-151zm-2 9zm60-180zm-4 72zm17-80zm9 14zm-10 64zm9 8z" stroke="#6eae61"/><path d="M0 0m214 298zm22-57zm2 26zm9 123zm-21 44zm40-159zm4 6zm20 49zm5 81zm23 23zm-16 28zm14 2zm27-221zm-10 15zm61-75zm-10 226zm35-348zm-7 24zm0 280zm5 9zm1 29zm9-282zm21 15zm10 22z" stroke="#779464"/><path d="M0 0m204 428zm44-51zm-5 18zm30-108zm36 150zm8 20zm-4 2zm29-222zm-12 31zm30-32zm26 136zm-7 1zm41-324zm-2 116zm-5 223zm21-324zm15 90zm0 1zm-23 209zm32-263zm-6 18z" stroke="#7b7f61"/><path d="M0 0m193 233zm8 179zm9 11zm33-49zm20-20zm-5 17zm32-51zm2 134zm52-89zm8-138zm67-89zm-3 259zm-2 3zm2 10zm-3 4zm18-328zm7 49zm1 7zm32-7z" stroke="#817269"/><path d="M0 0m43 239zm155 176zm21-123zm-5 114zm23-153zm6 139zm7-118zm24 13zm11-10zm3 4zm11 2zm12-19zm-2 138zm12 16zm3 5zm-22 15zm33-197zm-9 16zm5 189zm66-357zm-14 301zm14 13zm20-332zm-2 13zm-12 14zm21 35zm4-96zm13 13zm5 83zm-13 40zm20-87z" stroke="#836370"/><path d="M0 0m188 231zm8 5zm3 167zm14 28zm23-191zm-3 9zm-3 4zm5 15zm-8 142zm9 21zm22-187zm28 38zm6 16zm-3 144zm28-85zm-11 23zm-2 42zm1 14zm42-181zm77-103zm-23 26zm35-85zm-4 4zm-1 14zm-6 49zm58-44z" stroke="#835477"/><path d="M0 0m192 416zm55-128zm26 52zm14-6zm9 70zm1 9zm1 14zm4-32zm-1 21zm29-159zm16 1zm-7 13zm3 105zm15-151zm67-132zm-4 84zm-13 4zm66-64z" stroke="#81407f"/><path d="M0 0m195 386zm0 15zm20-98zm6 81zm-21 13zm46-139zm-1 1zm2 109zm1 21zm-9 4zm-10 6zm-4 17zm7 10zm27-167zm-8 141zm32-100zm2 17zm-9 20zm18 115zm-3 5zm33-185zm-16 99zm3 15zm5 26zm-10 17zm16 20zm-11 1zm8 8zm-18 5zm46-223zm-2 10zm-4 5zm-9 108zm18-129zm39 141zm-10 12zm-1 5zm10 5zm34-325zm-20 0zm14 88zm4 13zm-15 9zm-3 181zm13 28zm6 4zm25-332zm-10 27zm-2 15zm-1 55zm23-96zm13 33zm-3 5zm-4 22z" stroke="#7f3086"/><path d="M0 0m200 410zm70-60zm24-52zm-4 178zm23-206zm-2 14zm6 80zm-12 53zm8 6zm-12 23zm26-180zm26-6zm38 115zm1 3zm1 12zm27-347zm-7 131zm-13 0zm7 202zm12 3zm18-335zm-4 17zm0 20zm4 28zm-10 261zm46-241z" stroke="#7e228c"/><path d="M0 0m30 125zm14 104zm-5 6zm34-118zm-9 1zm10 135zm8-174zm12 1zm3 2zm-13 16zm5 7zm8 34zm-13 103zm31-136zm-1 39zm7 6zm-2 85zm11-82zm3 6zm13 19zm-4 2zm13 21zm36 210zm19-182zm12 177zm13-160zm9 40zm-3 107zm-4 34zm47-148zm28 125zm-1 19zm112-306zm-11 54zm44-31zm3 16z" stroke="#6db949"/><path d="M0 0m48 123zm-19 3zm20 112zm-8 3zm32-147zm-13 1zm6 2zm-8 10zm6 4zm-10 4zm14 7zm-7 98zm-7 2zm12 0zm-14 16zm21 6zm-18 0zm44-172zm-12 11zm3 5zm-1 4zm10 5zm-24 1zm16 12zm-12 0zm19 1zm-22 3zm3 4zm16 3zm-9 2zm-1 3zm-3 9zm5 7zm3 90zm8 11zm-1 2zm0 0zm4-180zm21 14zm1 1zm1 0zm-17 3zm7 7zm-3 1zm1 6zm6 12zm-13 6zm12 3zm4 7zm-6 6zm5 4zm-18 9zm17 3zm5 4zm-16 71zm0 12zm-7 2zm4 7zm23-175zm8 21zm-7 17zm-4 47zm6 1zm4 4zm-7 4zm3 1zm11 14zm5 7zm-17 45zm40-24zm-3 8zm-9 15zm13 2zm-1 0zm34 10zm18 65zm-6 0zm6 108zm-11 12zm31-41zm-10 8zm0 24zm35-161zm-5 17zm-9 3zm1 4zm18 3zm15 21zm3 0zm1 25zm4 14zm15-74zm1 164zm-10 2zm-1 1zm48-180zm0 122zm12-152zm-3 146zm-3 6zm13 3zm9 4zm14 7zm24-340zm10 30zm0 7zm-5 44zm5 8zm-8 7zm-4 3zm10 4zm-1 10zm-21 8zm7 10zm29-125zm7 35zm-17 35zm15 8zm-2 4zm1 6zm-5 5zm28-59zm4 6zm-6 5zm3 24z" stroke="#6bbb54"/><path d="M0 0m47 106zm1 5zm-2 12zm-14 2zm5 9zm5 102zm-2 5zm12-141zm2 10zm6 3zm5 5zm9 5zm-9 94zm-6 12zm3 5zm11 8zm-19 0zm2 1zm3 1zm40-177zm-8 21zm4 5zm-8 13zm7 4zm-3 10zm-1 2zm-14 3zm12 2zm1 9zm7 5zm-14 89zm14 10zm3 1zm-23 0zm4 1zm-1 3zm-1 2zm2 7zm18 1zm12-181zm-10 33zm20 3zm-4 4zm-11 1zm10 1zm1 17zm3 8zm-12 1zm1 10zm0 4zm10 1zm-6 89zm21-178zm-3 36zm-2 13zm-3 41zm2 5zm21 48zm0 7zm-18 14zm-4 0zm43-29zm-4 3zm-9 1zm4 10zm11 5zm-12 3zm26-15zm-8 17zm19 5zm-5 161zm19-171zm11 3zm-9 10zm8 63zm-2 90zm1 13zm-5 10zm27-140zm5 1zm-20 113zm12 2zm0 12zm8 12zm-11 7zm20-152zm0 18zm5 89zm28-64zm4 16zm-13 4zm11 86zm7 38zm14 7zm25-211zm0 119zm63-200zm0 10zm-8 3zm6 7zm-11 207zm36-356zm-1 2zm-7 33zm-8 34zm7 43zm-4 16zm1 19zm-6 0zm0 195zm0 6zm-2 13zm3 0zm38-353zm4 19zm-12 17zm2 7zm11 5zm-23 35zm23 14zm-17 27zm20-116zm5 43zm-4 7zm4 8zm6 8zm-2 24zm26-44z" stroke="#6abc60"/><path d="M0 0m86 217zm-9 9zm46 9zm8-78zm7 70zm54 3zm20 161zm3 44zm16-137zm17 84zm-4 28zm-3 6zm2 10zm14-176zm3 124zm-6 9zm42 75zm9-64zm19 50zm5-8zm42-47zm23-298zm2 83zm-21 213zm47-354zm-6 69zm-14 279zm9 5zm-11 23zm29-300zm31 34z" stroke="#6eae61"/><path d="M0 0m195 237zm2 3zm-7 151zm32-163zm-22 160zm41-96zm-16 7zm36-26zm34 43zm-11 13zm-4 10zm119-246zm-17 298zm9 1zm31-338zm-2 59zm16 53zm18-73zm-2 15zm-1 12zm3 7z" stroke="#779464"/><path d="M0 0m197 382zm-4 9zm10-167zm9 6zm-9 172zm29-114zm16 101zm-15 34zm53-108zm0 32zm9 82zm18 14zm-8 39zm30-113zm48-179zm33-26zm-10 201zm4 13zm-7 38zm33-343zm8 2zm-5 24zm2 1zm-14 294zm41-254zm-16 23zm30-36z" stroke="#7b7f61"/><path d="M0 0m205 417zm1 0zm30-186zm2 18zm-1 146zm12 6zm13-43zm16-27zm31 54zm21 58zm27-73zm43-269zm5 265zm32-326zm-10 52zm20 16zm-16 61zm1 210zm29-309zm-10 88zm31-52z" stroke="#817269"/><path d="M0 0m210 420zm39-172zm-8 25zm9 109zm35-91zm-1 14zm7 115zm19-26zm2 34zm33-198zm3 11zm2 16zm45 158zm25-49zm15-226z" stroke="#836370"/><path d="M0 0m194 209zm-2 194zm17-182zm4 16zm-10 155zm15 8zm-17 16zm29-24zm55-80zm-7 28zm24 53zm15 25zm70-6zm13-306zm24 20zm0 250zm-15 23zm23-269zm10 0zm14-59zm4 9zm6 30zm4 0zm-11 25z" stroke="#835477"/><path d="M0 0m220 382zm-4 23zm21-159zm73 36zm-5 110zm36-131zm-12 98zm26-129zm-4 4zm32 156zm41-359zm-2 46zm-10 35zm9 279zm7-351zm6 1zm3 0zm11 8zm-22 73zm7 30zm50-38z" stroke="#81407f"/><path d="M0 0m165 223zm28-5zm-10 192zm33 23zm12-150zm8 1zm-3 120zm-2 0zm12 19zm13-164zm8 21zm49 155zm-2 30zm38-241zm-4 15zm-12 8zm1 13zm-7 198zm28-227zm1 2zm7 143zm4 4zm32-200zm-20 199zm-3 2zm22 23zm23-351zm-16 39zm9 10zm9 20zm-2 22zm-12 237zm35-322zm2 41zm-11 31zm1 19zm-1 23zm39-88zm-1 25zm-4 3zm-10 35zm-2 6zm-2 1z" stroke="#7f3086"/><path d="M0 0m211 386zm4 37zm27-193zm-5 11zm11 146zm-21 3zm42-43zm48-74zm-1 7zm-10 110zm0 16zm-6 38zm26 8zm40-79zm-10 10zm31 18zm35-255zm-11 14zm-4 7zm1 10zm6 5zm-10 8zm14 177zm4 1zm18-317zm9 35zm-9 8zm1 35zm-6 26zm1 229zm21-312z" stroke="#7e228c"/><path d="M0 0m49 248zm4-123zm-2 8zm21 88zm0 28zm14-166zm-11 26zm14 35zm15-74zm9 26zm-7 1zm-3 17zm19 26zm2 89zm-8 3zm22-63zm37 57zm2 5zm8 173zm19-169zm20 3zm-3 10zm3 172zm13-177zm4 31zm1 120zm-8 5zm118-148zm89-146zm2 33zm-12 8zm9 15zm32-30zm6-45zm-1 35z" stroke="#6db949"/><path d="M0 0m39 115zm1 8zm-5 7zm12 4zm-15 0zm38-39zm-5 8zm-1 16zm7 3zm-19 13zm20 3zm-20 87zm8 5zm-2 10zm-5 1zm40-166zm-9 4zm13 2zm-1 0zm-15 4zm17 16zm-3 10zm-18 9zm2 2zm-3 1zm8 9zm-1 11zm11 6zm-17 70zm12 4zm-4 0zm14 6zm-7 2zm-9 1zm6 5zm3 5zm-3 3zm15-176zm20 6zm-23 1zm4 6zm12 17zm-14 1zm20 11zm-15 16zm15 2zm-6 3zm-16 2zm5 5zm-6 2zm4 2zm15 6zm2 5zm1 76zm-5 3zm-4 14zm16-153zm0 69zm10 2zm8 45zm-3 5zm4 1zm-6 1zm-14 7zm3 1zm6 1zm-5 5zm-6 1zm30-26zm10 3zm9-3zm13 23zm6 5zm-8 4zm-6 166zm13 16zm11-186zm1 2zm1 8zm6 5zm10 161zm-19 16zm2 8zm21-196zm23 26zm0 2zm-5 6zm-18 17zm6 1zm-1 1zm4 113zm11 4zm23-150zm5 2zm-6 15zm-3 76zm-10 27zm25-102zm7 6zm7 2zm-8 59zm9 92zm-4 0zm24-155zm-3 3zm-6 140zm1 5zm-6 28zm54-218zm42-150zm-9 307zm-2 4zm21-316zm-1 8zm-1 22zm3 11zm9 29zm-2 8zm-2 2zm-7 205zm1 4zm9 4zm13-291zm6 10zm-5 14zm15 26zm1 0zm2 14zm25-56zm-10 16zm0 21zm0 16zm-10 3zm25-23z" stroke="#6bbb54"/><path d="M0 0m44 120zm3 123zm26-154zm-5 4zm5 9zm-14 9zm-9 21zm21 104zm-17 4zm17 4zm-8 6zm-9 0zm39-183zm5 0zm-1 1zm-2 3zm-3 5zm1 4zm-10 27zm-4 11zm0 4zm20 1zm-18 2zm13 3zm-5 12zm-9 0zm10 4zm3 73zm-8 6zm-5 3zm7 2zm8 1zm0 1zm3 10zm-4 7zm-19 3zm15 5zm23-191zm9 1zm-1 9zm-2 7zm-18 7zm2 7zm9 0zm0 3zm-12 17zm14 2zm2 11zm-10 7zm8 6zm9 6zm-14 0zm6 7zm-13 71zm6 9zm15 2zm-20 11zm-2 7zm32-187zm1 3zm-3 0zm1 0zm2 80zm-4 3zm5 7zm1 9zm-7 9zm19 45zm-3 7zm20-19zm8 1zm5-3zm0 16zm2 8zm17 152zm-6 3zm-4 9zm23-158zm-3 3zm17 2zm-4 160zm-3 20zm-8 1zm30-150zm-7 10zm2 13zm7 87zm1 35zm-10 15zm34-171zm3 18zm-12 77zm30-64zm2 25zm-9 12zm13 4zm-11 15zm16 107zm16-175zm0 150zm-13 22zm59-224zm24-38zm7 180zm4 2zm1 29zm25-347zm-8 1zm5 20zm-18 22zm23 3zm-3 1zm-15 14zm16 5zm-11 28zm-6 39zm8 183zm27-333zm9 9zm-4 12zm3 20zm1 1zm-13 9zm-10 4zm15 14zm-8 2zm-6 42zm2 0zm20 8zm-17 8zm2 1zm-6 193zm2 22zm43-285zm-9 35zm-10 244z" stroke="#6abc60"/><path d="M0 0m33 123zm25-8zm36-49zm-8 185zm16-172zm8 31zm-7 111zm117 217zm25-170zm-7 1zm-10 37zm68 100zm-1 17zm9-20zm-3 39zm12 19zm20-189zm21-30zm7 131zm38-199zm-4 242zm25-379zm-2 51zm-3 285zm1 38zm27-350zm-6 4zm-11 6z" stroke="#6eae61"/><path d="M0 0m186 397zm13 7zm11-184zm11 18zm-5 193zm23-48zm-10 51zm21-199zm17 18zm26 70zm-12 11zm11 83zm31-140zm-17 134zm0 32zm51-61zm42-200zm-12 12zm32-96zm-4 4zm-9 10zm38-40zm-16 67zm27-45zm18 28zm-17 11z" stroke="#779464"/><path d="M0 0m200 236zm21 189zm13-190zm-6 189zm24-177zm8 108zm31-38zm9-37zm5 161zm43-69zm25 17zm19-22zm26-299zm-12 6zm16 7zm-4 50zm-11 38zm8 240zm13-323zm25-21z" stroke="#7b7f61"/><path d="M0 0m222 235zm-10 14zm-1 182zm26-137zm12 95zm-1 16zm4-156zm34 86zm18 74zm2 6zm-6 14zm5 22zm86-82zm3 7zm30-258zm-12 17zm11 39zm-14 196zm-2 36zm36-314zm-11 46zm-3 254zm25-331zm6 27zm12 2zm-19 2z" stroke="#817269"/><path d="M0 0m223 298zm19-11zm-8 105zm-5 3zm67-112zm25 146zm15-160zm-10 93zm15 10zm-11 74zm68-362zm-9 325zm25-350zm-8 15zm6 8zm-2 99zm-5 225zm23-354zm5 69zm25-23z" stroke="#836370"/><path d="M0 0m199 379zm8-137zm6 54zm-6 103zm42-149zm-19 157zm21-164zm21 108zm47-79zm31-35zm4 8zm1 118zm67-321zm-22 54zm9 268zm-9 48zm49-337zm-18 11zm-1 50z" stroke="#835477"/><path d="M0 0m239 285zm35 60zm33 42zm-2 47zm38-175zm-15 175zm25-63zm53 27zm19-29zm10 15zm28-288zm9 4zm-10 18zm14-28zm3 40z" stroke="#81407f"/><path d="M0 0m174 230zm28-3zm8 194zm15-184zm17 36zm-3 127zm15-119zm-1 100zm42-94zm-6 21zm-11 23zm12 7zm1 102zm25-163zm-9 3zm-6 113zm15 43zm-6 3zm3 7zm4 7zm28-213zm-4 5zm-14 116zm37 13zm32-186zm-6 4zm-13 181zm2 12zm11 27zm4 3zm29-317zm-13 17zm-1 43zm2 217zm29-330zm-14 8zm8 22zm-5 14zm-2 8zm0 28zm40-46zm4 29zm-17 48zm26-39z" stroke="#7f3086"/><path d="M0 0m241 247zm-12 45zm13 138zm9-178zm26 16zm34 95zm-1 24zm10 54zm28-187zm-18 17zm12 102zm10-122zm34 127zm17-185zm12 202zm-5 19zm25-376zm-4 62zm40-8zm-5 3z" stroke="#7e228c"/></g><g font-size="3.10" stroke="#000" stroke-width="0.09"><text x="331.90" y="390.00" text-anchor="middle">−1.0</text><text x="314.80" y="378.82" text-anchor="end">−1.0</text><text x="351.72" y="390.00" text-anchor="middle">−0.5</text><text x="314.80" y="357.52" text-anchor="end">−0.5</text><text x="371.55" y="390.00" text-anchor="middle">0.0</text><text x="314.80" y="336.22" text-anchor="end">0.0</text><text x="391.37" y="390.00" text-anchor="middle">0.5</text><text x="314.80" y="314.92" text-anchor="end">0.5</text><text x="411.20" y="390.00" text-anchor="middle">1.0</text><text x="314.80" y="293.62" text-anchor="end">1.0</text></g><text x="367.30" y="394.00" text-anchor="middle" font-size="3.25">Dimension 1</text><text transform="translate(308.00 335.10) rotate(-90)" text-anchor="middle" font-size="3.25">Dimension 2</text><text x="315.60" y="283.30" font-size="5.00">Triglycerides (mmol/L)</text><rect x="421.70" y="310.60" width="11.00" height="59.10" fill="url(#cg)"/><path d="M421.70 322.40h2.20M432.70 322.40h-2.20M421.70 346.00h2.20M432.70 346.00h-2.20" stroke="#fff" stroke-width="0.55" fill="none"/><g font-size="4.50"><text x="435.40" y="324.02">4</text><text x="435.40" y="347.62">2</text></g><text x="422.10" y="307.00" font-size="4.90">TRIG</text></g>
<g><path d="M499.75 48.70V191.00M521.45 48.70V191.00M495.00 166.12H606.30M543.15 48.70V191.00M495.00 135.38H606.30M564.85 48.70V191.00M495.00 104.62H606.30M586.55 48.70V191.00M495.00 73.88H606.30" stroke="#e3e3e3" stroke-width="0.95" fill="none"/><path d="M510.60 48.70V191.00M495.00 181.50H606.30M532.30 48.70V191.00M495.00 150.75H606.30M554.00 48.70V191.00M495.00 120.00H606.30M575.70 48.70V191.00M495.00 89.25H606.30M597.40 48.70V191.00M495.00 58.50H606.30" stroke="#e3e3e3" stroke-width="1.25" fill="none"/><g fill="#b9b9bd"><polygon points="576.0,104.1 577.3,100.6 579.6,96.4 581.9,91.6 582.3,86.9 580.5,82.2 578.7,77.4 579.2,73.3 581.4,67.3 583.7,62.0 584.2,58.5 585.8,54.6 588.7,57.8 592.3,60.8 594.1,65.0 595.9,69.7 598.7,71.4 597.9,75.0 599.7,80.9 599.5,84.8 597.3,88.3 595.0,91.9 594.3,96.6 590.9,96.2 587.8,99.0 585.0,102.0 581.4,103.8 578.3,104.9"/><polygon points="560.1,150.9 561.5,149.8 565.9,150.3 570.4,152.3 574.4,154.7 577.1,154.7 578.9,151.7 581.1,150.0 584.7,150.0 587.4,151.7 589.0,154.7 589.6,158.4 588.3,162.7 586.5,165.0 584.7,167.0 582.5,169.3 579.3,169.7 577.1,167.4 575.6,163.5 574.1,160.5 571.3,159.1 567.7,156.1 564.2,153.8 561.0,153.1"/><polygon points="559.9,152.9 561.7,154.7 561.9,160.5 563.5,166.4 565.7,172.3 566.6,177.6 564.8,181.4 561.2,183.8 557.2,182.6 555.7,177.0 555.3,169.9 556.8,164.1 558.4,158.8 558.7,154.7"/><polygon points="555.7,130.8 557.6,128.6 561.6,123.9 565.2,118.5 568.8,113.2 571.6,109.9 573.1,109.9 573.5,114.3 572.5,119.1 568.8,125.0 563.4,129.8 558.0,132.8 556.2,133.5"/><polygon points="554.9,131.7 557.9,132.3 558.3,139.1 558.6,144.0 559.4,148.2 556.2,149.2 552.3,150.8 549.9,150.0 552.3,145.8 554.0,141.5 554.7,136.6"/></g><g transform="translate(495 49) scale(0.2)" fill="none" stroke-linecap="round" stroke-width="14.5"><path d="M0 0m298 428zm1 42zm-7 6zm5 2zm-4 1zm6 2zm-7 3zm-3 4zm4 2zm-5 3zm-1 2zm-5 5zm3 1zm10 0zm27-104zm-2 0zm3 1zm0 5zm-1 1zm-4 2zm3 1zm-2 2zm-7 3zm3 9zm-6 2zm-7 7zm1 4zm-1 1zm0 3zm7 5zm-8 8zm9 3zm-10 2zm14 1zm-3 4zm0 5zm-8 3zm10 2zm-4 3zm6 6zm-11 1zm-1 2zm3 2zm8 0zm0 0zm-5 3zm-6 0zm-2 8zm0 4zm20 44zm1 7zm-2 11zm2 6zm-3 7zm1 3zm-4 0zm-1 3zm-1 4zm7 4zm-14 1zm3 5zm6 1zm6 9zm-4 6zm-11 6zm6 1zm7 3zm2 0zm-14 0zm9 1zm7 2zm0 1zm-6 6zm-11 0zm4 1zm9 0zm-6 1zm-2 1zm7 9zm4 1zm-8 0zm2 2zm-5 2zm9 10zm-13 0zm7 1zm7 0zm2 2zm-14 1zm13 1zm-1 0zm1 1zm-1 0zm-2 2zm-4 2zm-7 13zm30-347zm4 31zm6 7zm0 2zm-12 7zm-4 1zm4 3zm-1 0zm-5 3zm2 1zm14 1zm-13 0zm5 1zm4 1zm-13 2zm-3 0zm0 1zm7 8zm-4 1zm11 2zm-7 99zm11 2zm1 3zm-1 1zm0 1zm-5 0zm-6 4zm4 0zm9 4zm-8 5zm-14 10zm4 11zm-2 8zm-1 0zm-1 8zm1 4zm7 15zm-5 5zm6 5zm-5 1zm-1 1zm7 3zm-3 1zm-2 5zm-5 2zm5 2zm8 2zm10 1zm-8 3zm8 1zm-13 2zm3 3zm1 4zm5 0zm1 1zm-12 7zm10 1zm1 3zm-8 2zm11 3zm-7 3zm7 0zm2 0zm-1 1zm-20 3zm3 4zm8 5zm-13 2zm6 0zm-4 1zm19 1zm-20 1zm11 3zm-8 5zm8 10zm-13 12zm45-365zm0 5zm3 4zm-8 6zm6 2zm-1 1zm-1 4zm3 2zm-10 0zm3 0zm6 2zm-6 0zm-7 1zm9 4zm-5 1zm0 1zm7 3zm1 3zm-11 0zm9 1zm-4 3zm4 3zm-6 9zm6 1zm-8 0zm-10 3zm1 2zm1 1zm5 126zm9 3zm4 8zm-16 2zm15 0zm-19 97zm0 29zm4 34zm33-373zm-5 3zm9 5zm-9 6zm-6 2zm10 3zm-10 4zm5 0zm-1 3zm-4 5zm9 0zm-6 1zm3 2zm-6 9zm5 170zm10 2zm-12 4zm6 1zm3 0zm-2 3zm-6 1zm-4 0zm23 2zm-5 1zm-7 2zm-7 1zm-3 0zm18 13zm28-432zm-1 130zm-8 5zm4 0zm-8 9zm8 2zm-3 7zm-14 9zm15 232zm7 1zm-10 12zm8 1zm-15 3zm2 1zm0 5zm-8 2zm13 6zm6 0zm-15 0zm11 6zm9 0zm-18 3zm-5 1zm21 3zm-17 3zm5 5zm9 2zm-9 1zm-7 0zm19 0zm-12 3zm1 4zm5 1zm-1 2zm1 11zm4 3zm29-539zm-1 11zm0 13zm-2 3zm2 0zm-13 8zm4 0zm7 3zm-3 6zm-10 3zm16 3zm-2 1zm-14 1zm13 1zm-2 1zm-17 1zm5 3zm-3 1zm4 5zm2 1zm3 1zm9 1zm1 3zm-6 1zm4 5zm-21 2zm6 2zm-3 4zm0 0zm1 1zm-1 0zm17 2zm3 5zm-3 5zm4 1zm-20 6zm4 2zm9 9zm1 0zm-2 6zm0 3zm8 2zm0 2zm-2 0zm-7 2zm4 9zm-6 10zm-3 1zm8 5zm1 1zm3 1zm-6 1zm8 4zm-4 2zm-8 3zm-4 3zm14 0zm2 6zm-10 0zm1 2zm-4 2zm0 4zm5 5zm-15 2zm22 0zm-23 0zm17 3zm-10 2zm3 1zm11 1zm-13 1zm4 0zm-1 1zm10 1zm-13 1zm-8 5zm8 246zm-3 2zm12 1zm-4 2zm5 4zm-7 7zm5 1zm5 0zm-7 4zm-12 2zm1 2zm13 2zm3 2zm-2 2zm-3 1zm-3 0zm10 2zm-1 0zm-16 1zm5 2zm1 5zm4 2zm6 2zm1 3zm-19 5zm5 1zm17 2zm-2 0zm-3 9zm-15 2zm-2 0zm11 1zm-1 1zm-11 3zm13 0zm-9 0zm-1 2zm1 1zm9 2zm4 0zm-6 2zm-10 0zm-1 1zm9 2zm0 3zm8 21zm11-582zm2 8zm-6 3zm15 3zm1 4zm6 2zm-17 0zm1 4zm3 8zm15 2zm-19 2zm2 2zm16 1zm0 2zm-12 2zm0 1zm1 0zm7 2zm-8 0zm10 2zm-6 1zm6 3zm2 0zm-5 1zm-1 3zm7 1zm-24 0zm7 1zm8 6zm-10 1zm4 11zm-5 0zm-3 2zm0 3zm12 1zm-3 1zm13 2zm-21 3zm12 3zm1 0zm-9 1zm1 0zm-4 1zm1 6zm11 1zm-8 0zm15 1zm-12 1zm4 4zm-13 0zm14 1zm-9 1zm9 0zm2 1zm-10 1zm-5 1zm20 1zm-10 1zm-2 1zm-10 0zm7 2zm11 0zm-11 3zm13 4zm-11 2zm0 3zm11 0zm-18 4zm9 3zm-1 1zm-7 3zm21 2zm-6 2zm4 1zm-16 13zm-6 1zm23 7zm-3 0zm-3 1zm-7 1zm-2 2zm11 0zm-5 2zm-6 4zm0 1zm-7 4zm18 1zm-3 1zm-10 0zm2 2zm7 1zm-12 2zm2 1zm9 0zm7 0zm-17 1zm15 0zm-18 2zm9 1zm9 2zm-5 1zm-3 4zm3 0zm-14 1zm23 3zm-15 1zm-8 1zm0 3zm5 4zm2 280zm1 2zm-3 5zm7 1zm-9 1zm1 0zm3 2zm-6 1zm0 0zm9 2zm6 5zm-10 2zm2 1zm13 0zm-6 1zm-2 4zm-1 8zm2 1zm-11 5zm-2 11zm26-526zm2 1zm-1 2zm-2 5zm6 2zm4 5zm3 5zm-7 1zm-4 3zm-3 1zm3 0zm7 6zm-7 1zm1 4zm2 3zm3 9zm6 1zm-7 0zm15 3zm-5 1zm-16 0zm20 2zm-18 3zm-1 2zm21 2zm-15 1zm6 1zm2 4zm-17 0zm9 1zm-2 1zm17 2zm-3 18zm0 2zm-8 3zm-5 0zm9 0zm6 2zm-3 5zm0 2zm-19 2zm-1 4zm18 1zm-10 2zm0 4zm-8 1zm4 2zm20 0zm-15 4zm-8 1zm13 3zm-4 1zm-7 0zm16 2zm-18 1zm21 1zm-8 0zm-5 1zm8 0zm-3 2zm-2 0zm-5 1zm-1 2zm15 4zm-21 1zm1 1zm17 2zm-1 1zm3 2zm-8 0zm-5 1zm-6 5zm1 0zm16 3zm-12 0zm4 1zm-8 0zm1 1zm11 4zm1 1zm7 2zm-21 6zm2 0zm13 6zm-5 306zm-2 28zm16-486zm6 23zm16 4zm-17 1zm-3 12zm5 1zm-3 2zm3 0zm-5 8zm2 2zm2 5zm17 0zm-3 5zm-9 2zm-10 8zm5 1zm13 1zm-6 3zm1 1zm-9 0zm4 4zm2 1zm-1 2zm-4 2zm0 5zm-6 0zm2 2zm14 0zm-12 3zm4 1zm-3 3zm2 2zm3 0zm-1 0zm1 7zm-9 1zm8 0zm0 4z" stroke="#b9b9bd"/><path d="M0 0m41 341zm17-183zm116 118zm128 141zm24 240zm84-87z" stroke="#70b63e"/><path d="M0 0m44 178zm15-29zm-2 177zm38-194zm-20 204zm38-244zm3 56zm-15 42zm35-78zm-9 44zm-2 19zm30 131zm26 3zm43 300zm7-185zm17 130zm13-192zm7 14zm-9 10zm38 92zm2 3zm16-60zm-3 213zm116-491z" stroke="#6db949"/><path d="M0 0m73 309zm4 24zm-2 3zm9 15zm30-169zm3 130zm-1 10zm-4 11zm-12 12zm28-139zm16 100zm-5 9zm26-20zm-9 11zm59 11zm8 303zm11-264zm8 245zm16-261zm-6 60zm21 118zm8-130zm4 113zm29-44zm-7 160zm32-283zm-14 201zm22 124zm125-479z" stroke="#6bbb54"/><path d="M0 0m57 140zm1 44zm31-68zm-4 39zm22-38zm12 7zm-6 21zm59 152zm44 282zm27-14zm-13 18zm19 32zm17-247zm-10 234zm30-220zm47 199zm6 41zm33-273zm13 184zm31-15z" stroke="#6abc60"/><path d="M0 0m90 150zm49 153zm45-19zm64 72zm20 196zm-11 18zm90-180zm1 223zm22-283zm-8 50z" stroke="#6eae61"/><path d="M0 0m107 219zm34-109zm-1 145zm183 143z" stroke="#779464"/><path d="M0 0m59 171zm25 18zm11 158zm8-189zm88 139zm39 52zm79 65zm21-20zm5 202zm47-280zm113-158z" stroke="#7b7f61"/><path d="M0 0m142 227zm82 116zm37 190zm0 49zm147-41z" stroke="#817269"/><path d="M0 0m76 140zm31 29zm0 151zm95 7zm15 223zm16-122zm81 157zm22 51zm34-272zm134-239z" stroke="#836370"/><path d="M0 0m109 148zm55 171zm6 2zm43 285zm38-51zm52-72zm34-102zm32-20z" stroke="#835477"/><path d="M0 0m123 176zm-2 59zm18-135zm28 207zm-11 15zm42 234zm45-238zm9 22zm17 180zm52 138zm7-65zm43-242zm-20 35zm79 127zm21-396z" stroke="#81407f"/><path d="M0 0m37 162zm21 23zm-3 155zm35-232zm-4 51zm8 177zm10-180zm5 12zm2 14zm-4 146zm3 23zm24-152zm6 29zm15 80zm35 18zm16 4zm16 15zm0 214zm25-226zm-1 13zm-18 277zm29-287zm5 200zm-4 52zm30-195zm15 4zm16 12zm-2 237zm6 17zm2 27zm86-110zm58-350zm-7 333z" stroke="#7f3086"/><path d="M0 0m88 136zm6 201zm13-151zm138 443zm28-121zm20-99zm26 166zm-12 15zm11 21zm16-106zm25-141zm-7 23zm24-31zm39 227zm47-434zm-1 86z" stroke="#7e228c"/><path d="M0 0m75 132z" stroke="#70b63e"/><path d="M0 0m54 146zm8 23zm3 8zm23 24zm-10 101zm42 19zm6-262zm1 70zm1 15zm6 65zm60 94zm-4 283zm28-259zm0 242zm58-209zm145 172zm8 47zm80-381z" stroke="#6db949"/><path d="M0 0m65 333zm24-165zm-14 142zm19 27zm18-184zm0 38zm3 13zm3 4zm-4 9zm-2 96zm20-225zm0 24zm3 6zm37 159zm-7 11zm8 36zm4-39zm19 288zm41-139zm19-71zm-2 49zm20 97zm-23 55zm43-163zm1 7zm54-34zm-23 192zm22 43zm22-266zm-2 38zm56 174zm8 11zm18-372z" stroke="#6bbb54"/><path d="M0 0m73 345zm12-36zm6 34zm25-178zm3 54zm-9 131zm7 0zm17-110zm7 79zm59 236zm46-232zm-4 30zm-5 239zm23-247zm-7 24zm3 236zm78-14zm42-247zm32 192z" stroke="#6abc60"/><path d="M0 0m94 93zm119 471zm28 20zm14-239zm11 211zm-5 14zm61-173zm111 114zm42-432z" stroke="#6eae61"/><path d="M0 0m38 146zm31 159zm-1 6zm139 11zm15 27zm84 136zm59-134zm83-223z" stroke="#779464"/><path d="M0 0m97 140zm-18 198zm32-129zm-2 117zm17-200zm118 205zm-8 25zm4 79zm5 184zm6-230zm58 99zm62-146zm102-267zm-16 80z" stroke="#7b7f61"/><path d="M0 0m74 337zm74-88zm81 179zm5 3zm-7 150zm41-219zm32 94zm3 13zm6 5zm34 157zm94-374zm-10 334zm59-51z" stroke="#817269"/><path d="M0 0m75 120zm23 201zm-4 33zm9-216zm5 20zm-7 168zm46-76zm108 337zm107-230zm132-172z" stroke="#836370"/><path d="M0 0m69 178zm29 147zm124 19zm32 14zm14 3zm4 10zm20 105zm22 9zm10 139zm34-272zm28-20z" stroke="#835477"/><path d="M0 0m68 150zm-11 171zm48-166zm89 157zm49 43zm19 43zm3 198zm59 29zm-6 6zm5 13zm-13 18zm18-76zm40-221z" stroke="#81407f"/><path d="M0 0m65 319zm31-222zm-20 26zm19 73zm24 19zm-16 2zm108 93zm12 234zm17-205zm-4 68zm-6 12zm-2 16zm36 142zm18-77zm20-65zm9 31zm2 152zm6 25zm1 23zm19-275zm-10 155zm21 77zm32-296zm3 17zm-6 1zm66 212zm66-410z" stroke="#7f3086"/><path d="M0 0m65 335zm20-153zm14 11zm-21 2zm15 135zm36-240zm11 146zm54 81zm40 103zm67 31zm14 208zm16-271zm14 235zm22-267zm81-287z" stroke="#7e228c"/><path d="M0 0m24 181z" stroke="#70b63e"/><path d="M0 0m19 178zm28 10zm-1 125zm27-4zm18-167zm4 40zm-10 132zm7 20zm17-224zm-2 43zm8 45zm-11 1zm10 26zm12-35zm13 42zm48 58zm9 265zm15-247zm5 265zm7 20zm-22 7zm9 2zm33-204zm0 30zm0 200zm47-253zm-14 11zm24 18zm18 2zm-7 55zm1 187zm12 13zm10-271zm47-54zm68-116zm-22 359zm25-432zm18 12z" stroke="#6db949"/><path d="M0 0m44 329zm5 20zm30-203zm19 29zm-8 157zm18-25zm9 38zm20-240zm-11 139zm57 69zm9 243zm12 57zm42-267zm26 7zm16 140zm18-92zm-2 80zm11 163zm12-249zm64-74zm98-102z" stroke="#6bbb54"/><path d="M0 0m45 153zm0 177zm19-24zm21-138zm27-58zm-2 68zm102 172zm12 81zm16-107zm-9 2zm5 6zm24 208zm-9 45zm26-68zm33-63zm10 124zm17-193zm131-233z" stroke="#6abc60"/><path d="M0 0m34 163zm77-36zm5 64zm-8 0zm22-71zm-4 77zm109 141zm-7 75zm5 136zm12 34zm48-104zm27-82zm187-272z" stroke="#6eae61"/><path d="M0 0m31 173zm26-3zm1 160zm34-212zm14 65zm26-40zm64 166zm60 28zm17 19zm0 30zm49 18zm35 109zm87-316zm32 2z" stroke="#779464"/><path d="M0 0m91 100zm60 210zm87 268zm34-196zm17 106zm20-45zm4 28zm-12 29zm39 142zm-10 26z" stroke="#7b7f61"/><path d="M0 0m129 101zm-1 62zm241 184z" stroke="#817269"/><path d="M0 0m97 156zm-21 26zm16 137zm24-158zm24 64zm34 83zm63 264zm10 5zm-6 12zm36-244zm10 150zm94 31zm38 23zm31-308z" stroke="#836370"/><path d="M0 0m51 320zm69-104zm15-97zm62 500zm47-275zm-15 242zm105-183z" stroke="#835477"/><path d="M0 0m41 315zm7 36zm25-38zm18-177zm11-36zm6 66zm39 81zm51 56zm6 256zm38 59zm10-81zm58 58zm18 63zm54-311zm-6 190zm70-441zm35 117z" stroke="#81407f"/><path d="M0 0m53 144zm11 174zm15-188zm33-20zm17 28zm1 20zm7 88zm25 66zm20-16zm-1 28zm22 7zm17 215zm-8 11zm27-211zm-5 263zm23-63zm-5 44zm1 8zm46-128zm8 161zm36-239zm-13 12zm108-280zm76 37z" stroke="#7f3086"/><path d="M0 0m78 168zm4 171zm80-45zm10 24zm29-13zm55 264zm41-174zm44 11zm-2 249zm-12 5zm49-324z" stroke="#7e228c"/><path d="M0 0m41 161zm297 447z" stroke="#70b63e"/><path d="M0 0m22 171zm10 184zm33-225zm-8 182zm-1 5zm18 40zm5-205zm35-62zm0 85zm-10 10zm12 23zm-12 143zm28-224zm8 189zm-13 3zm20 4zm37-15zm103 79zm25 25zm-3 11zm19 223zm40-275zm12-32z" stroke="#6db949"/><path d="M0 0m38 335zm10 12zm10-200zm1 208zm39-246zm-15 5zm3 40zm-5 44zm8 146zm27-200zm-1 14zm0 18zm-4 37zm0 10zm20-17zm89 114zm-5 30zm10 10zm9 212zm14 42zm41-237zm4 113zm8-101zm26 5zm138-267z" stroke="#6bbb54"/><path d="M0 0m34 177zm32 139zm47-104zm3 103zm57 10zm30 253zm34-152zm3 121zm15 22zm65-7zm24 60zm18-273zm109-265zm6 23z" stroke="#6abc60"/><path d="M0 0m46 158zm7-27zm62 16zm1 61zm1 142zm88 243zm21 16zm27 11zm62-39zm134-13zm16-425zm12 67z" stroke="#6eae61"/><path d="M0 0m115 155zm-10 197zm115 222zm10 11zm9 12zm34-79zm53 36z" stroke="#779464"/><path d="M0 0m48 148zm44-6zm-2 62zm13-110zm28 234zm25-30zm48 7zm-1 293z" stroke="#7b7f61"/><path d="M0 0m69 332zm15-229zm-2 203zm36-168zm-5 12zm124 399zm31-200zm-1 39zm-9 3zm13 136zm-18 58zm40-190zm28 12zm4 155zm39-194z" stroke="#817269"/><path d="M0 0m45 171zm12 14zm25-4zm37-50zm77 445zm48-246zm-3 235zm40-174zm22 97zm166-283zm36-44z" stroke="#836370"/><path d="M0 0m60 184zm-6 6zm40 157zm152 224zm6 11zm43-81zm7-63zm28 168zm30-225z" stroke="#835477"/><path d="M0 0m76 115zm40-34zm35 175zm23 59zm4-19zm5 31zm51 266zm37-202zm51 272zm11-281zm132-297z" stroke="#81407f"/><path d="M0 0m45 152zm-8 12zm29-24zm-1 3zm-9 39zm-5 128zm29-182zm19 9zm-22 40zm9 166zm-11 1zm54-112zm20 73zm57 288zm36-193zm-7 22zm12 195zm21-272zm-12 43zm6 215zm33-220zm7 47zm-1 66zm21 125zm0 38zm0 5zm-13 17zm34-316zm3 145zm-14 87zm8 15zm-8 45zm30-299zm14-29zm3 203zm37 49zm20-38zm38-450zm-23 21zm42 51z" stroke="#7f3086"/><path d="M0 0m64 136zm57 47zm3 51zm41 91zm25 10zm45 223zm25 35zm54-108zm-6 136zm15 43zm22-153zm-20 93zm40-264zm80-195z" stroke="#7e228c"/><path d="M0 0m124 155zm128 459zm81-225z" stroke="#70b63e"/><path d="M0 0m63 154zm-1 10zm0 150zm21-203zm4 210zm49-203zm-5 16zm5 79zm34 86zm-3 0zm-1 12zm61 50zm15 207zm-15 32zm37-215zm-6 2zm1 185zm62 17zm1 16zm27 37zm5 44zm33-373zm14-27zm46-58zm-8 6zm18-106z" stroke="#6db949"/><path d="M0 0m47 314zm-10 13zm22-197zm4 30zm11 187zm1-154zm38-101zm-1 4zm1 49zm-12 197zm49-94zm21 41zm4 11zm33-2zm30 47zm50 37zm8 2zm-4 100zm-17 32zm55 86zm105-479zm15 27zm47-41zm0 113z" stroke="#6bbb54"/><path d="M0 0m33 169zm19-17zm15 22zm6 6zm22 152zm15-231zm-3 76zm9 16zm-7 9zm13 5zm8-67zm32 162zm22 23zm9 9zm38 234zm70-173zm2 39zm18 110zm15-159zm104-197zm35-24zm48-24z" stroke="#6abc60"/><path d="M0 0m24 172zm31 17zm33-18zm151 418zm-2 18zm61-179zm40 190zm100-38z" stroke="#6eae61"/><path d="M0 0m87 332zm28-10zm82 227zm2 25zm65-9zm101-216zm-15 35z" stroke="#779464"/><path d="M0 0m64 165zm7 156zm52-231zm-18 11zm16 227zm62-2zm53 230zm2 66zm12-196zm97 213zm115-559z" stroke="#7b7f61"/><path d="M0 0m59 308zm46-134zm1 151zm131 34zm6 51zm30 102zm6-118z" stroke="#817269"/><path d="M0 0m77 322zm10 1zm-4 27zm39-254zm1 77zm139 362zm-5 60zm59-17zm113 8z" stroke="#836370"/><path d="M0 0m66 173zm11-68zm9 54zm2 175zm22-195zm55 164zm26 19zm1 8zm68 23zm21 42zm0 115zm123 39zm26 35zm9 5z" stroke="#835477"/><path d="M0 0m102 108zm-1 83zm142 176zm-1 48zm4 197zm18-240zm-9 17zm-2 219zm55 50zm23-8zm124-549zm3 110z" stroke="#81407f"/><path d="M0 0m85 325zm6 25zm15-260zm0 34zm1 55zm9 137zm-4 12zm69-26zm15 265zm28-26zm-12 2zm-9 21zm-3 11zm18 2zm12-157zm-5 7zm5 168zm-2 3zm9 20zm27-276zm51 138zm5 152zm-6 1zm24-117zm6 118zm26-309zm3 9zm70 284zm12-562zm27 19zm-7 123z" stroke="#7f3086"/><path d="M0 0m68 302zm27-165zm-5 7zm-9 214zm35-247zm-10 11zm11 100zm43 96zm15-26zm9 27zm22-13zm7 309zm19-71zm9 84zm42-240zm40 15zm26-31zm74-248z" stroke="#7e228c"/></g><g font-size="4.50" stroke="#000" stroke-width="0.14"><text x="510.60" y="198.00" text-anchor="middle">−1.0</text><text x="492.80" y="183.12" text-anchor="end">−1.0</text><text x="532.30" y="198.00" text-anchor="middle">−0.5</text><text x="492.80" y="152.37" text-anchor="end">−0.5</text><text x="554.00" y="198.00" text-anchor="middle">0.0</text><text x="492.80" y="121.62" text-anchor="end">0.0</text><text x="575.70" y="198.00" text-anchor="middle">0.5</text><text x="492.80" y="90.87" text-anchor="end">0.5</text><text x="597.40" y="198.00" text-anchor="middle">1.0</text><text x="492.80" y="60.12" text-anchor="end">1.0</text></g><text x="550.65" y="204.20" text-anchor="middle" font-size="5.05">Dimension 1</text><text transform="translate(481.40 119.85) rotate(-90)" text-anchor="middle" font-size="5.05">Dimension 2</text><text x="492.30" y="32.30" font-size="8.40">Measured n = 2,510</text><text x="493.30" y="45.80" font-size="7.38">Fasting C−Peptide (nmol/L)</text><rect x="610.50" y="85.00" width="16.00" height="83.50" fill="url(#cg)"/><path d="M610.50 105.90h3.20M626.50 105.90h-3.20M610.50 126.80h3.20M626.50 126.80h-3.20M610.50 147.60h3.20M626.50 147.60h-3.20" stroke="#fff" stroke-width="0.75" fill="none"/><g font-size="6.50"><text x="631.00" y="108.24">0.6</text><text x="631.00" y="129.14">0.4</text><text x="631.00" y="149.94">0.2</text></g><text x="610.50" y="79.60" font-size="7.30">Fasting C−Peptide</text></g>
<g><path d="M498.77 244.70V386.60M521.23 244.70V386.60M495.00 362.12H607.90M543.67 244.70V386.60M495.00 331.57H607.90M566.12 244.70V386.60M495.00 301.03H607.90M588.57 244.70V386.60M495.00 270.48H607.90" stroke="#e3e3e3" stroke-width="0.95" fill="none"/><path d="M510.00 244.70V386.60M495.00 377.40H607.90M532.45 244.70V386.60M495.00 346.85H607.90M554.90 244.70V386.60M495.00 316.30H607.90M577.35 244.70V386.60M495.00 285.75H607.90M599.80 244.70V386.60M495.00 255.20H607.90" stroke="#e3e3e3" stroke-width="1.25" fill="none"/><g fill="#b9b9bd"><polygon points="577.7,300.5 579.1,297.0 581.4,292.8 583.8,288.1 584.2,283.4 582.3,278.7 580.5,274.0 580.9,269.9 583.3,263.9 585.6,258.7 586.1,255.2 587.8,251.4 590.8,254.5 594.5,257.5 596.4,261.6 598.2,266.3 601.1,268.0 600.3,271.6 602.2,277.5 602.0,281.3 599.7,284.8 597.3,288.4 596.6,293.1 593.1,292.7 589.8,295.5 587.0,298.4 583.3,300.2 580.0,301.3"/><polygon points="561.2,347.0 562.6,345.9 567.2,346.4 571.9,348.4 576.0,350.8 578.8,350.8 580.6,347.8 583.0,346.1 586.6,346.1 589.4,347.8 591.1,350.8 591.7,354.5 590.4,358.7 588.5,361.0 586.6,363.0 584.4,365.3 581.1,365.7 578.8,363.3 577.2,359.5 575.7,356.6 572.8,355.1 569.1,352.2 565.4,349.8 562.1,349.2"/><polygon points="561.0,349.0 562.8,350.8 563.1,356.6 564.7,362.4 567.0,368.2 567.9,373.5 566.1,377.3 562.4,379.7 558.2,378.5 556.7,372.9 556.2,365.9 557.8,360.1 559.4,354.9 559.8,350.8"/><polygon points="556.7,327.0 558.6,324.9 562.8,320.1 566.5,314.8 570.3,309.5 573.1,306.2 574.7,306.2 575.1,310.7 574.0,315.4 570.3,321.3 564.6,326.0 559.0,329.0 557.1,329.7"/><polygon points="555.8,327.9 558.9,328.5 559.4,335.2 559.6,340.1 560.5,344.3 557.1,345.3 553.1,346.9 550.6,346.1 553.1,342.0 554.9,337.7 555.6,332.8"/></g><g transform="translate(495 245) scale(0.2)" fill="none" stroke-linecap="round" stroke-width="14.5"><path d="M0 0m298 473zm1 0zm-5 15zm4 1zm-6 4zm5 2zm-5 1zm1 2zm5 1zm-3 1zm16-98zm6 5zm4 2zm-2 1zm2 1zm1 1zm-13 1zm13 4zm-7 4zm-3 3zm0 2zm3 0zm-9 2zm5 0zm-2 0zm-1 3zm5 1zm-2 4zm6 4zm-5 8zm-6 1zm3 0zm0 5zm-3 4zm-3 1zm11 1zm5 8zm-14 3zm2 2zm4 4zm-7 1zm11 3zm-13 1zm6 0zm8 3zm-11 4zm1 0zm-3 1zm-1 1zm22 1zm-17 1zm8 1zm-6 0zm2 4zm13 36zm0 28zm0 4zm-3 6zm1 8zm-7 10zm-1 2zm8 2zm-1 0zm2 2zm-7 2zm6 5zm1 9zm-7 1zm1 6zm5 2zm-5 1zm-1 1zm7 0zm-5 3zm-6 2zm2 3zm3 5zm2 1zm-7 2zm0 5zm6 1zm0 12zm-3 0zm8 3zm-9 20zm31-344zm-2 38zm3 7zm-3 3zm-6 1zm9 1zm3 1zm-7 3zm-4 1zm11 6zm-18 2zm1 0zm4 2zm10 0zm-1 2zm3 0zm-8 1zm-11 0zm2 5zm18 104zm0 3zm-6 0zm-12 10zm0 5zm3 1zm-2 7zm5 2zm2 6zm-2 1zm-2 1zm-1 9zm7 0zm-7 2zm-6 5zm1 6zm6 10zm-3 1zm-5 3zm5 0zm6 2zm-11 2zm-1 8zm12 2zm1 1zm-4 3zm14 3zm-21 2zm9 0zm4 2zm-11 3zm7 6zm-7 1zm1 0zm4 2zm0 1zm-10 0zm14 2zm5 0zm-17 4zm22 0zm-3 2zm-5 0zm7 2zm-11 1zm12 1zm-20 3zm16 0zm-11 1zm14 2zm-20 1zm8 5zm6 2zm1 2zm5 1zm-11 5zm5 1zm-17 2zm5 5zm7 2zm-11 1zm10 1zm-1 0zm9 8zm-14 12zm42-357zm-1 1zm2 5zm-4 0zm4 4zm1 2zm0 3zm-8 1zm-5 5zm4 1zm3 2zm-8 0zm0 1zm9 1zm-9 2zm13 0zm-6 0zm2 1zm-4 1zm-2 0zm1 0zm-2 10zm6 1zm-6 4zm-12 2zm2 3zm3 4zm-5 9zm2 1zm8 114zm11 7zm2 1zm-22 0zm12 1zm8 1zm-9 2zm3 2zm8 3zm-5 0zm5 7zm-23 70zm0 2zm2 9zm-2 6zm5 4zm2 2zm0 10zm-5 3zm6 2zm-2 0zm4 3zm-10 6zm1 1zm10 33zm30-377zm-1 5zm-2 1zm-6 2zm10 8zm-11 6zm8 0zm-6 3zm-7 0zm9 1zm2 5zm-12 3zm1 1zm0 3zm8 3zm3 2zm-10 3zm-1 3zm4 3zm0 1zm7 4zm-12 6zm6 149zm1 2zm4 7zm-9 0zm21 1zm-2 1zm-4 2zm1 6zm6 0zm-4 3zm4 4zm24-286zm1 11zm0 1zm-5 2zm-1 1zm-9 13zm-6 241zm13 13zm-2 1zm-10 0zm7 3zm7 2zm-11 1zm15 0zm-7 1zm-9 2zm8 2zm-4 3zm11 1zm-2 4zm5 5zm-8 1zm3 1zm1 4zm-1 7zm4 6zm0 1zm-1 2zm25-498zm-4 6zm0 13zm-6 1zm1 5zm0 1zm-4 1zm8 2zm7 3zm-11 1zm-7 2zm10 1zm2 4zm-8 3zm10 2zm4 3zm0 1zm-12 1zm11 4zm-15 1zm1 0zm10 1zm1 1zm-12 1zm4 1zm0 0zm-6 3zm18 0zm-1 3zm-2 0zm-1 11zm4 5zm0 11zm0 13zm-4 11zm4 13zm0 4zm-6 4zm-11 12zm14 1zm-9 3zm-4 1zm2 8zm7 1zm-8 1zm1 0zm6 3zm-5 0zm-7 3zm3 0zm-6 0zm18 2zm1 0zm-15 3zm4 1zm2 7zm-11 0zm10 1zm9 232zm1 1zm-3 6zm6 2zm-13 1zm7 8zm-14 0zm11 2zm-13 4zm0 5zm20 1zm-3 0zm-2 0zm-16 5zm23 0zm-11 4zm-10 0zm1 1zm3 0zm0 0zm4 0zm-10 1zm0 1zm6 1zm-6 0zm19 2zm-16 1zm17 1zm-14 0zm13 3zm-3 0zm-8 0zm7 4zm-1 0zm-12 4zm5 1zm-2 0zm14 4zm2 16zm-2 1zm-12 3zm9 0zm2 2zm-18 2zm8 1zm8 1zm2 0zm0 3zm20-552zm3 5zm-4 5zm4 1zm-8 2zm4 3zm12 9zm-16 0zm11 2zm1 0zm2 3zm-19 5zm10 7zm-6 1zm6 0zm1 1zm-6 0zm9 2zm-2 0zm2 2zm-6 4zm-6 2zm-1 1zm-2 0zm21 1zm-21 3zm18 3zm-3 1zm-6 8zm-10 0zm18 2zm-17 0zm21 1zm-4 0zm1 3zm-12 0zm5 1zm0 0zm0 0zm-9 2zm11 2zm3 5zm-2 0zm3 0zm-7 8zm12 2zm-6 2zm-2 1zm-4 3zm-1 1zm0 1zm-1 2zm-7 2zm19 5zm-14 0zm5 1zm-6 3zm-5 4zm8 0zm13 9zm-4 1zm-10 5zm-9 5zm20 0zm2 1zm-5 2zm-2 0zm-2 0zm5 2zm-11 2zm-3 2zm14 0zm-12 1zm-1 2zm8 1zm-1 0zm8 0zm-20 1zm9 0zm0 2zm9 1zm0 3zm0 2zm-5 1zm-7 0zm10 0zm0 1zm-16 1zm6 2zm18 6zm-13 2zm11 2zm-2 1zm0 1zm-10 1zm-6 2zm3 1zm15 0zm-11 1zm2 3zm4 0zm-2 1zm-2 1zm-2 1zm-2 1zm-6 2zm-2 1zm15 1zm-13 1zm1 0zm0 1zm17 0zm-9 1zm0 8zm0 3zm-5 5zm-5 245zm8 5zm-8 0zm13 1zm-3 1zm-2 7zm-2 1zm6 0zm-8 0zm10 3zm0 3zm-12 3zm3 4zm17 2zm-21 1zm20 4zm-1 2zm-4 0zm6 1zm-1 3zm-6 1zm-10 2zm7 0zm-9 1zm-4 1zm14 1zm8 3zm-4 3zm-19 3zm1 2zm5 1zm-2 0zm14 1zm-14 3zm17 0zm-17 15zm-1 5zm0 26zm25-560zm1 3zm10 5zm-6 3zm10 8zm3 1zm-15 1zm11 0zm5 0zm-4 2zm6 2zm-8 0zm4 2zm-14 1zm17 1zm-21 1zm20 1zm-20 1zm19 0zm-10 3zm-4 1zm3 4zm-9 0zm11 3zm-1 0zm3 2zm-11 1zm13 0zm-11 1zm6 0zm-10 2zm1 0zm8 2zm2 2zm-1 2zm-3 1zm0 4zm10 3zm5 3zm-21 2zm10 0zm0 2zm10 1zm1 1zm1 1zm-7 2zm-14 5zm17 1zm-10 3zm5 0zm-4 3zm-5 2zm8 2zm-12 2zm13 2zm4 1zm1 1zm-5 3zm3 1zm5 2zm-12 1zm-10 2zm19 1zm-9 0zm9 2zm-20 1zm11 1zm4 2zm2 2zm2 0zm-19 1zm13 1zm6 1zm-3 1zm-2 3zm-14 7zm11 7zm-7 1zm-2 3zm18 1zm-2 9zm-11 9zm11 1zm-15 0zm7 3zm13 2zm-7 1zm7 1zm-4 2zm-16 1zm1 1zm-4 0zm17 1zm-2 4zm-9 1zm18 0zm-20 4zm4 3zm15 299zm-20 0zm0 8zm-2 3zm0 2zm19 16zm8-478zm0 9zm11 7zm9 6zm-16 0zm3 2zm7 3zm-11 3zm11 1zm-5 1zm-6 0zm13 1zm-11 8zm7 0zm-8 1zm4 1zm-6 3zm12 5zm2 1zm-6 2zm-12 0zm5 0zm8 0zm-9 1zm19 3zm-17 0zm-2 2zm5 2zm-4 1zm15 1zm-15 0zm4 4zm5 2zm-8 1zm6 2zm9 0zm-18 0zm10 0zm-13 1zm6 0zm-1 2zm3 2zm12 3zm-21 3zm24 2zm-12 1zm-4 0zm-8 1zm20 1zm-9 2zm9 2zm-17 0zm-3 2zm4 0zm14 1zm-3 2zm5 1zm-18 1zm-1 2zm9 0zm1 1zm8 1zm-5 1zm-11 1zm5 5zm9 9zm-14 0zm-1 14zm32-113zm1 31zm-1 35zm-9 3zm1 3z" stroke="#b9b9bd"/><path d="M0 0m115 162zm188 297zm41 218z" stroke="#70b63e"/><path d="M0 0m87 92zm-3 4zm6 34zm-5 227zm27-264zm-8 61zm15 18zm-13 7zm18 27zm5-88zm-4 1zm15 199zm52-18zm4 285zm7-14zm29-229zm1 17zm-5 236zm30-262zm6 59zm55 18zm2 1zm-21 2zm17 27zm7 94zm-2 60zm1 18zm26-6zm23-274zm16-18zm37 228zm43-331zm24-79zm28 52z" stroke="#6db949"/><path d="M0 0m44 312zm5 13zm16-199zm-5 55zm14 183zm23-253zm1 208zm6-203zm5 40zm6 13zm-1 36zm20-80zm-7 114zm4 91zm57-28zm1 1zm32 18zm-4 24zm-14 241zm38-221zm8 55zm24-19zm-12 157zm16-31zm57 33zm77-14zm27-422zm6 433zm23-462zm-6 57zm11 9zm-22 42zm33-86zm2 24z" stroke="#6bbb54"/><path d="M0 0m39 191zm16-51zm4 168zm3 9zm25 4zm30 18zm43-29zm57 299zm12-187zm-3 194zm34-230zm-1 188zm33-193zm24 104zm15-86zm18 117zm124-413zm-3 21z" stroke="#6abc60"/><path d="M0 0m59 316zm26 3zm29 16zm96 206zm12 77zm55-101zm62 30zm116-446zm22 49z" stroke="#6eae61"/><path d="M0 0m78 134zm15 74zm126 369zm15-251zm45 50zm18 119zm15-69zm30-36zm-4 1zm-2 10zm83 161zm26-8zm37-338z" stroke="#779464"/><path d="M0 0m51 344zm47-158zm63 109zm38 278zm41-24zm32-161zm34 40zm3 26zm23 85zm-6 129zm25-16zm70-94zm80-413z" stroke="#7b7f61"/><path d="M0 0m83 111zm40 46zm-9 61zm-6 118zm22-104zm68 102zm53 83zm17 113zm-6 78zm15-248zm192-240zm55 57z" stroke="#817269"/><path d="M0 0m38 191zm-4 161zm33-16zm40-125zm13 106zm69 18zm42 241zm70-159zm11 31z" stroke="#836370"/><path d="M0 0m56 175zm35-65zm1 49zm-15 190zm110-41zm86 77zm-9 162zm48 92zm30 10z" stroke="#835477"/><path d="M0 0m64 180zm5 1zm-19 171zm34-254zm-4 215zm19 15zm20-193zm-6 54zm40 106zm45 7zm47 323zm36-225zm46 189zm25-193zm79 158zm24-1zm32-453z" stroke="#81407f"/><path d="M0 0m44 161zm-12 166zm8 15zm32-198zm-9 33zm22-50zm30-4zm-5 44zm33-76zm-12 225zm5 10zm4 1zm33-19zm10-18zm12 284zm5-239zm15 214zm59-191zm-8 9zm-12 11zm9 160zm14-166zm68-36zm-11 303zm34-283zm-16 284zm105-550zm4 61zm-4 81zm33-80z" stroke="#7f3086"/><path d="M0 0m36 157zm29 151zm23-165zm18-23zm14 52zm20-54zm55 189zm23 240zm-3 44zm-5 22zm28-264zm32 188zm-18 57zm25-246zm26 40zm43-2zm3 11zm-7 261zm23-296zm12 167zm86-291zm-9 8z" stroke="#7e228c"/><path d="M0 0m79 314zm232 91zm131 109zm33-341z" stroke="#70b63e"/><path d="M0 0m21 178zm1 2zm19-8zm4 157zm24-194zm-1 22zm0 6zm28-37zm-7 15zm-6 20zm19-42zm28 99zm64 112zm31 294zm37-82zm-7 21zm29-188zm25 38zm6 13zm-10 45zm40-68zm-19 194zm10 72zm89-120zm44-475zm3 3z" stroke="#6db949"/><path d="M0 0m63 333zm13-29zm48-242zm0 83zm8 66zm61 376zm27-255zm-6 14zm19 206zm-8 0zm14 61zm12-49zm-1 18zm7 10zm0 23zm30-237zm6 24zm7 11zm5 76zm1 0zm9 5zm9 72zm3 63zm36-267zm-8 24zm-5 220zm99-483zm52 42z" stroke="#6bbb54"/><path d="M0 0m87 160zm-6 29zm10 133zm-3 12zm14-203zm4 68zm-2 135zm26-228zm5 18zm0 81zm-3 48zm-3 75zm43 3zm17 4zm28 210zm-12 34zm25-159zm13 126zm-13 18zm7 25zm81 68zm96-103z" stroke="#6abc60"/><path d="M0 0m42 152zm55 159zm25-83zm96 373zm34-204zm79 134zm27 111zm115-84z" stroke="#6eae61"/><path d="M0 0m61 139zm-7 8zm0 188zm33-230zm-11 251zm34-173zm2 129zm117 7zm1 25zm27 66zm41 89zm16 93zm32-211zm3 254zm149-506zm-22 34z" stroke="#779464"/><path d="M0 0m41 361zm60-225zm16 97zm9-60zm37 118zm227 22zm62-144zm7 36z" stroke="#7b7f61"/><path d="M0 0m36 160zm78-75zm-4 82zm13 62zm2-122zm79 200zm27 12zm1 117zm39 141zm-11 0zm42-95zm44-81zm20-53zm-4 29zm111-256zm-11 137z" stroke="#817269"/><path d="M0 0m108 314zm25-213zm-2 115zm60 121zm23 208zm-9 32zm63 31zm-9 0zm32-205zm-15 1zm22 85zm19 147zm26-262zm0 142zm61 27zm27-390zm32 59z" stroke="#836370"/><path d="M0 0m54 190zm25-38zm40-1zm-14 24zm27 34zm62 95zm32 43zm29 205zm53-121zm16 61zm149 57zm14-424z" stroke="#835477"/><path d="M0 0m66 308zm27-123zm1 172zm24-181zm-15 164zm38-15zm46-5zm20-4zm36 92zm73 190zm2 28zm30-223zm115-278z" stroke="#81407f"/><path d="M0 0m60 151zm-2 24zm40 26zm-23 106zm28-211zm13 13zm6 15zm-18 10zm4 87zm-5 123zm123-16zm12 14zm-11 14zm22 253zm2-230zm4 162zm21-185zm12 34zm33 204zm1 9zm-6 20zm-4 5zm0 16zm16-79zm-3 95zm93-385zm36-44zm39-111zm-3 50z" stroke="#7f3086"/><path d="M0 0m62 125zm1 38zm-12 3zm40-30zm-2 17zm-12 39zm6 169zm106-57zm25 37zm8 230zm-13 9zm30-230zm8 58zm-15 161zm-2 14zm44-233zm3 30zm25 38zm4 31zm31-64zm11 267zm33-322zm67 186zm-2 70z" stroke="#7e228c"/><path d="M0 0m355 625z" stroke="#70b63e"/><path d="M0 0m14 181zm30-20zm0 12zm12-19zm-4 11zm34-13zm-2 9zm17 19zm20 150zm20-233zm-10 216zm-6 21zm74-36zm14 244zm7 5zm-11 16zm34-231zm-10 17zm15 37zm5 7zm61 67zm-7 13zm2 21zm60-133zm40-73zm29-172zm20-25zm-4 107zm12 331zm21-419z" stroke="#6db949"/><path d="M0 0m20 184zm24 6zm1 156zm7-204zm37-22zm-11 24zm16 182zm-7 17zm-11 5zm33-252zm0 17zm3 39zm13 77zm68 105zm44 24zm12 22zm1-30zm9 59zm-7 147zm14 3zm32-86zm-3 27zm-13 27zm83-173zm11-8zm1 8zm61-237zm5 475z" stroke="#6bbb54"/><path d="M0 0m28 335zm56-188zm-1 162zm30-216zm1 76zm-6 7zm7 7zm12-60zm21 194zm25-21zm24 36zm9 228zm-4 9zm-1 0zm3 36zm29-26zm30-207zm30 126zm15-81zm6 214zm47-278zm54 197zm80-386zm-2 43zm-8 13z" stroke="#6abc60"/><path d="M0 0m29 162zm60-14zm14-15zm1 86zm84 103zm49 239zm-2 5zm29-42zm-9 27zm21-42zm5 12zm53 37zm37-225zm143-226z" stroke="#6eae61"/><path d="M0 0m43 340zm20-157zm31-2zm33 23zm73 111zm40 114zm62 62zm35 57zm37-201zm-13 338zm81-431zm20-7zm-8 285zm39-315z" stroke="#779464"/><path d="M0 0m35 322zm25 22zm29 3zm163 7zm12 196zm14-164zm31 42zm78-89zm-11 4zm42 205z" stroke="#7b7f61"/><path d="M0 0m51 313zm40-218zm113 240zm28 110zm90 135zm12-48zm16 72zm49-58zm52-303zm28-183z" stroke="#817269"/><path d="M0 0m30 180zm53-71zm-3 10zm136 458zm33-174zm-9 33zm17 133zm91 64zm25-291z" stroke="#836370"/><path d="M0 0m38 165zm13-5zm40-23zm4 57zm-18 116zm2 16zm19 26zm9-39zm140 59zm-11 183zm51-196zm62 28zm-5 238zm25-267zm18 7zm32 215zm80-346zm9-56z" stroke="#835477"/><path d="M0 0m87 332zm109 248zm27-248zm1 28zm-16 222zm55-188zm59 18zm15 207zm59-88zm50-290z" stroke="#81407f"/><path d="M0 0m37 166zm-5 175zm30-158zm10 162zm15-206zm-10 188zm12 22zm22-233zm85 183zm15 26zm11 3zm1 9zm-6 216zm-14 38zm14 26zm16-298zm4 36zm-1 62zm2 3zm21-32zm5 207zm11-216zm47 38zm-5 205zm11-14zm45-270zm-13 22zm11 157zm-20 1zm68 51zm18-419zm37 388zm31-401z" stroke="#7f3086"/><path d="M0 0m62 141zm5 11zm15 30zm8 148zm50-238zm-5 136zm15 78zm64 44zm24-15zm11 95zm-10 189zm32-280zm22 30zm14 27zm6 18zm-2 14zm2 4zm16 206zm8 19zm-7 8zm50-304z" stroke="#7e228c"/><path d="M0 0m93 215zm20-99zm150 502zm202-489z" stroke="#70b63e"/><path d="M0 0m49 339zm22-210zm-20 12zm35 38zm10 152zm7-159zm1 18zm5 23zm25-116zm30 220zm56 249zm-19 31zm27-238zm15 10zm-17 243zm-1 6zm34-36zm35-220zm-4 21zm25 98zm-4 17zm10 74zm-5 41zm13-209zm19 237zm-20 1zm45-115zm16-197zm54 266zm9-494zm16 466z" stroke="#6db949"/><path d="M0 0m26 173zm25-22zm15 190zm30-188zm17 5zm6 13zm-11 3zm11 47zm0 13zm-12 78zm15 20zm6-235zm-3 225zm75-1zm42 107zm-15 126zm20 62zm31-242zm14 122zm51 155zm118-418zm-10 321z" stroke="#6bbb54"/><path d="M0 0m64 123zm-1 7zm5 16zm-18 9zm14 175zm13-195zm10 191zm37-236zm-10 121zm123 202zm7 8zm11-67zm16 170zm-21 97zm33-258zm5 8zm49 170zm-7 72zm0 7zm11 11zm19-274zm13 3zm54 186zm41-352zm35-94z" stroke="#6abc60"/><path d="M0 0m67 150zm2 2zm52 38zm8-90zm4 95zm49 95zm56 131zm20-83zm-7 29zm17 230zm107-255zm59-87z" stroke="#6eae61"/><path d="M0 0m31 185zm-2 168zm32-26zm31-208zm-8 197zm24-93zm20-52zm145 181zm-13 201zm51-151zm-1 16zm52-46z" stroke="#779464"/><path d="M0 0m35 182zm43 165zm29-18zm69-8zm72 80zm-9 172zm30-184zm-17 216zm79-79zm29-170zm74-210zm37 100z" stroke="#7b7f61"/><path d="M0 0m114 167zm-8 46zm42 48zm-8 51zm43-4zm60 103zm-16 158zm43-205zm73 20zm-11 198zm6 17zm11 30zm-3 2z" stroke="#817269"/><path d="M0 0m70 131zm19 178zm11 14zm27-216zm69 184zm-20 30zm68 89zm24-55zm-3 233zm47-164zm23 157zm1 66zm48-298z" stroke="#836370"/><path d="M0 0m43 140zm-1 208zm22-184zm38 54zm-1 101zm43-63zm53 326zm18-32zm19-223zm157-19zm-16 63zm74-151zm-16 375z" stroke="#835477"/><path d="M0 0m89 143zm14 76zm4 131zm30-225zm61 494zm23-7zm41-220zm32 6zm5 75zm16-52zm-12 69zm16 147zm18 30zm104-130zm25-11zm27-446zm-18 148z" stroke="#81407f"/><path d="M0 0m28 357zm38-235zm-8 187zm37-166zm-14 13zm7 177zm29-227zm1 97zm-1 120zm25-17zm79 264zm21-228zm2 226zm19-197zm-9 50zm20 105zm-8 23zm55-140zm2 214zm44-263zm-17 261zm32-305zm-6 41zm22 173zm47-394zm4 88zm25-80zm-4 83zm-14 296zm8 29zm43-419zm-1 12z" stroke="#7f3086"/><path d="M0 0m66 164zm2 165zm16-183zm7 15zm18 45zm41 51zm46 321zm27-240zm-3 239zm-6 28zm56-236zm38 113zm32-78zm31 116zm-14 117zm23-277zm134-196z" stroke="#7e228c"/><path d="M0 0m318 645z" stroke="#70b63e"/><path d="M0 0m79 111zm18 81zm5-81zm-1 94zm40 108zm-2 9zm24-21zm9 26zm29 239zm27-233zm-2 249zm75-198zm5 74zm1 35zm31 94zm31-249zm5 6zm-24 51zm10 250zm16-312zm63 228z" stroke="#6db949"/><path d="M0 0m35 167zm26-8zm-9 183zm39-222zm-15 25zm12 15zm-4 152zm15 48zm21-275zm10 3zm0 67zm7 63zm-5 11zm11 4zm4 22zm76 97zm-14 222zm39-212zm-5 225zm-13 7zm2 25zm36-66zm3 7zm40-124zm-7 42zm31 71zm2 85zm13-255zm117-143zm24-60z" stroke="#6bbb54"/><path d="M0 0m38 336zm25-16zm36-192zm5 187zm69-11zm19 263zm16-257zm7 248zm20 51zm5 19zm15-215zm1 192zm61 14zm15-220zm-5 186zm116-475zm-18 484zm28-352zm-3 322zm33-323z" stroke="#6abc60"/><path d="M0 0m81 124zm7 59zm-8 142zm29-202zm2 35zm103 148zm5 30zm-10 209zm-5 63zm38-260zm10-22zm17 200zm50-58zm167-356zm19 34z" stroke="#6eae61"/><path d="M0 0m105 206zm21-88zm57 174zm40 253zm8 30zm100-166zm114-146zm13-139zm38-35z" stroke="#779464"/><path d="M0 0m41 344zm18-193zm79-57zm-6 108zm53 91zm36 278zm18 2zm21-215zm92 24zm31-49zm83-89z" stroke="#7b7f61"/><path d="M0 0m46 190zm6-35zm48-1zm3 2zm-1 50zm-1 149zm75-72zm27 43zm10 267zm29-21zm3 40zm24-69zm25-55zm74-115zm75-145zm13-12z" stroke="#817269"/><path d="M0 0m49 151zm-17 206zm29-213zm28-53zm2 27zm47-13zm-9 11zm4 77zm17 106zm121 83zm-12 199zm-2 43zm75-39zm32-223zm89 229zm46-509z" stroke="#836370"/><path d="M0 0m70 179zm14-16zm17 26zm60 107zm57 47zm-5 257zm22-280zm10 109zm13 105zm34-41zm8-94zm9 50zm14 211zm18-50zm51-286zm24 218zm49-449z" stroke="#835477"/><path d="M0 0m99 93zm-17 222zm-2 2zm44-216zm-2 213zm28 1zm50-3zm117 95zm-6 70zm28 123zm-9 89zm35-165zm108-346zm19 51z" stroke="#81407f"/><path d="M0 0m42 319zm57-223zm-21 58zm2 162zm-1 3zm27-229zm6 38zm4 12zm0 9zm-10 166zm35-60zm33 53zm15-11zm-8 19zm37 1zm-3 252zm6 39zm25-242zm9 5zm8 37zm21-33zm-8 9zm10 7zm55 167zm-4 50zm-6 12zm21-5zm33-281zm2 17zm83-123zm-16 339zm63-445z" stroke="#7f3086"/><path d="M0 0m43 185zm5 131zm-6 39zm11-164zm10 150zm19-33zm-1 49zm28-201zm21 37zm46 118zm18 7zm1 12zm34 27zm34 27zm30 1zm31 177zm11 60zm-10 1zm25 28zm76-390zm18 291z" stroke="#7e228c"/></g><g font-size="4.50" stroke="#000" stroke-width="0.14"><text x="510.00" y="393.60" text-anchor="middle">−1.0</text><text x="492.80" y="379.02" text-anchor="end">−1.0</text><text x="532.45" y="393.60" text-anchor="middle">−0.5</text><text x="492.80" y="348.47" text-anchor="end">−0.5</text><text x="554.90" y="393.60" text-anchor="middle">0.0</text><text x="492.80" y="317.92" text-anchor="end">0.0</text><text x="577.35" y="393.60" text-anchor="middle">0.5</text><text x="492.80" y="287.37" text-anchor="end">0.5</text><text x="599.80" y="393.60" text-anchor="middle">1.0</text><text x="492.80" y="256.82" text-anchor="end">1.0</text></g><text x="551.45" y="400.20" text-anchor="middle" font-size="5.05">Dimension 1</text><text transform="translate(481.40 315.65) rotate(-90)" text-anchor="middle" font-size="5.05">Dimension 2</text><text x="492.30" y="230.50" font-size="8.40">Measured n = 3,285</text><text x="492.30" y="241.80" font-size="7.38">Serum C−Peptide (nmol/L)</text><rect x="612.70" y="281.30" width="16.00" height="83.50" fill="url(#cg)"/><path d="M612.70 297.30h3.20M628.70 297.30h-3.20M612.70 314.00h3.20M628.70 314.00h-3.20M612.70 331.00h3.20M628.70 331.00h-3.20M612.70 347.80h3.20M628.70 347.80h-3.20" stroke="#fff" stroke-width="0.75" fill="none"/><g font-size="6.50"><text x="632.60" y="299.64">0.8</text><text x="632.60" y="316.34">0.6</text><text x="632.60" y="333.34">0.4</text><text x="632.60" y="350.14">0.2</text></g><text x="612.70" y="275.40" font-size="7.30">Serum C−Peptide</text></g>
<g><path d="M32.53 438.60V580.60M60.88 438.60V580.60M24.80 553.88H168.60M89.23 438.60V580.60M24.80 523.33H168.60M117.58 438.60V580.60M24.80 492.78H168.60M145.93 438.60V580.60M24.80 462.23H168.60" stroke="#e3e3e3" stroke-width="0.95" fill="none"/><path d="M46.70 438.60V580.60M24.80 569.15H168.60M75.05 438.60V580.60M24.80 538.60H168.60M103.40 438.60V580.60M24.80 508.05H168.60M131.75 438.60V580.60M24.80 477.50H168.60M160.10 438.60V580.60M24.80 446.95H168.60" stroke="#e3e3e3" stroke-width="1.25" fill="none"/><g transform="translate(25 439) scale(0.2)" fill="none" stroke-linecap="round" stroke-width="16.0"><path d="M0 0m634 56zm1 80zm29-9zm2 9zm4 16z" stroke="#b9b9bd"/><path d="M0 0m110 297zm59-216zm-18 14zm89 209zm30-21zm54 57zm9-20zm96 247zm59-244zm-11 5zm98-165zm8 36zm36-5z" stroke="#70b63e"/><path d="M0 0m65 142zm-3 17zm0 168zm36-193zm-1 37zm-15 154zm38-220zm-11 17zm12 54zm-20 116zm45-209zm-4 20zm-15 0zm13 22zm-12 227zm35-268zm-3 10zm-8 8zm19 9zm-15 33zm19-68zm9 32zm-7 51zm0 56zm9 89zm64 8zm10 253zm33-242zm-4 12zm5 208zm-17 2zm-2 20zm45-240zm-15 105zm7 133zm-12 9zm22 1zm22-243zm-15 273zm28-274zm6 52zm-11 156zm0 6zm56-133zm15 154zm-12 48zm26-73zm-12 18zm19 57zm-19 21zm12 13zm-11 2zm26-282zm13 7zm1 234zm-4 32zm36-329zm-1 215zm17-216zm-1 4zm-11 194zm25 17zm13 27zm9 18zm19-424zm-2 111zm24-151zm6 100zm-13 23zm-7 278zm8 16zm13 8zm-19 13zm35-480zm-6 6zm-2 17zm-4 53zm4 24zm8 21zm-3 28zm6 18zm30-165zm-11 8zm1 48zm33-10zm-7 41zm15 6z" stroke="#6db949"/><path d="M0 0m45 171zm4 174zm3-178zm18 134zm-2 8zm21-178zm3 0zm-12 179zm7 22zm14-176zm2 188zm30-254zm10 23zm-14 5zm18 31zm-1 12zm-4 140zm31-194zm-22 63zm3 20zm-1 16zm12 104zm-4 18zm18-139zm49 96zm14 36zm15 254zm17 21zm11-273zm13 96zm-22 124zm5 13zm22-244zm12 40zm-6 226zm15 8zm-13 26zm20-277zm16 1zm-3 187zm5 39zm-20 7zm4 9zm9 4zm-10 25zm40-234zm-21 158zm52-118zm-2 51zm21 169zm20-139zm-10 85zm14 11zm-4 23zm3 6zm1 4zm16-24zm24-281zm-3 17zm2 6zm24-40zm20 226zm8 27zm30-439zm-3 20zm-8 399zm-4 7zm43-433zm-5 3zm-1 391zm5 66zm21-463zm9 28zm-21 23zm-1 41zm4 41zm33-152zm-4 99zm-6 4zm14 21zm18-34zm-11 43zm25-50z" stroke="#6bbb54"/><path d="M0 0m43 171zm13 2zm39-20zm-7 173zm33-239zm-9 93zm8 129zm27-148zm-19 1zm4 33zm42-80zm-23 87zm36-114zm-12 11zm11 223zm26-29zm21 6zm16 21zm2-17zm33 298zm16-8zm34-264zm-3 25zm5 212zm2 6zm13-230zm6 171zm-1 18zm-5 47zm38-212zm-13 6zm5 2zm0 18zm12 83zm8-44zm11 36zm2 136zm-6 14zm13 33zm11-255zm-6 172zm6 34zm1 3zm32-227zm-12 124zm2 114zm28-252zm10 145zm86-388zm10 43zm7 52zm-4 35zm5 280zm8-499zm10 11zm3 10zm-9 3zm6 39zm-12 23zm17 26zm4 22zm-18 17zm-3 14zm13 29zm9-155zm16 105zm16-15zm-2 11z" stroke="#6abc60"/><path d="M0 0m122 171zm-6 144zm113-2zm91 101zm24 112zm-18 43zm4 37zm24-220zm43 67zm14 123zm9 73zm12-93zm-2 20zm24-217zm119-268zm-14 432zm23-435zm-7 75zm17 359zm47-452zm-10 15z" stroke="#6eae61"/><path d="M0 0m73 158zm26-50zm32 10zm7 50zm17 7zm39 143zm34-7zm39 266zm28-277zm21 38zm4 271zm13-43zm35-200zm27 107zm-14 16zm41 120zm36 31zm26-315zm76 249zm34-521zm5 7zm0 126zm-17 62zm38-175zm0 9zm-13 9zm-2 418zm32-365zm10 31zm-9 34z" stroke="#779464"/><path d="M0 0m48 171zm14-17zm1 2zm37-14zm8 185zm-2 20zm56-222zm-6 8zm-1 28zm16 165zm5-178zm106 186zm87 59zm64-1zm35-20zm19 147zm50 8zm54-439zm3 62zm-4 35zm34-101zm16 9zm10 110z" stroke="#7b7f61"/><path d="M0 0m105 305zm18 40zm14-236zm4 67zm18-52zm32-43zm54 229zm46 285zm50-55zm-3 64zm72-14zm16-8zm148-450zm18 112zm21-32zm19-135zm-2 66zm21-40zm26 23z" stroke="#817269"/><path d="M0 0m144 324zm7-1zm112 238zm54-149zm-6 174zm35-256zm-5 32zm76 233zm15-32zm6 35zm11 4zm-14 11zm97-79zm1 7zm64-464zm-13 89zm12 14zm16-113zm4 37zm7 58zm4-2zm-1 30zm56-18z" stroke="#836370"/><path d="M0 0m88 158zm8 159zm20-152zm187 170zm31 37zm39-7zm-23 213zm70 70zm28-56zm6-88zm27-170zm60-72zm6 316zm21-438zm29-77zm2 180zm2-14zm43-118z" stroke="#835477"/><path d="M0 0m47 164zm6-7zm42-28zm1 21zm-19 167zm33-216zm6 37zm2 155zm1 17zm-6 18zm-8 15zm7 1zm20-239zm4 80zm2 118zm-2 35zm37-259zm-11 1zm-11 10zm3 0zm12 14zm-9 55zm6 53zm16-129zm13 220zm72 257zm55-249zm-11 5zm16 85zm-4 164zm17-13zm-8 35zm23-255zm10 189zm31-136zm17 10zm8 7zm-9 19zm-2 19zm8 198zm33-51zm-11 13zm29-247zm-9 148zm31-148zm16-34zm0 209zm57-273zm13 277zm-9 47zm30-475zm-10 22zm-9 11zm22 398zm19-475zm-2 85zm-9 29zm32-19zm-13 30zm3 12zm19 17zm13-66zm18 12z" stroke="#81407f"/><path d="M0 0m62 144zm-4 15zm16 148zm-12 42zm2 0zm32-228zm-16 10zm10 5zm6 39zm0 149zm9-213zm8 72zm4 119zm-12 14zm14 21zm-11 7zm2 5zm34-252zm-13 59zm15 9zm-14 23zm13 160zm7-255zm0 42zm5 19zm16 13zm-14 31zm8 107zm0 8zm0 9zm23-227zm-9 126zm15 7zm-18 5zm16 0zm-12 5zm15 3zm-12 63zm21-23zm2 14zm4 6zm-10 6zm35-26zm-7 12zm38 259zm-5 1zm4 21zm29-246zm1 11zm-1 195zm3 54zm14-188zm-11 22zm13 3zm-6 137zm-7 6zm8 14zm2 1zm4 31zm16-298zm10 6zm-7 12zm-10 22zm3 15zm-2 33zm0 9zm7 138zm2 58zm24-271zm0 3zm9 37zm4 10zm-22 127zm32-160zm7 19zm9 14zm-8 0zm-12 2zm18 11zm25-2zm-13 1zm4 8zm-10 63zm1 12zm4 111zm6 2zm8 20zm-15 3zm9 3zm26-51zm-8 3zm3 10zm1 29zm-5 21zm-3 13zm42-297zm-9 10zm3 1zm-6 14zm-7 274zm46-318zm-9 11zm4 1zm-5 7zm-5 0zm3 6zm5 3zm-6 150zm9 14zm53 27zm18-428zm2 19zm4 5zm-17 116zm11 274zm0 1zm23-464zm-12 29zm23 20zm-21 32zm8 50zm9 304zm-11 2zm3 45zm22-512zm-6 93zm11 2zm3 46zm7 4zm4-104zm8 70zm-5 53zm32-59zm4 26zm-1 15z" stroke="#7f3086"/><path d="M0 0m61 168zm-5 140zm15 36zm28-203zm-4 18zm-13 148zm-5 39zm59-266zm15 52zm18 15zm-5 26zm6 20zm-16 18zm17 11zm16-118zm11 189zm6 9zm9 6zm25-13zm26-8zm10 35zm11 231zm39-229zm-9 16zm5 54zm4 13zm-24 177zm4 7zm45 2zm1-234zm8 11zm8 21zm36-1zm12 31zm24-21zm0 232zm-7 46zm30-327zm8 263zm-4 15zm31-304zm52-72zm15 308zm10 8zm7-419zm19 52zm-18 309zm25-336zm22-95zm0 73zm20 50zm14-80zm0 58zm4 2zm-12 30z" stroke="#7e228c"/><path d="M0 0m635 94zm25 11zm14 10zm14-14zm-11 55z" stroke="#b9b9bd"/><path d="M0 0m120 101zm25 9zm23 50zm233 301zm70-110zm10 166zm103 6zm22-460zm10 147zm-11 30zm46-93zm33 4z" stroke="#70b63e"/><path d="M0 0m48 164zm25-25zm-1 27zm-21 3zm59-43zm3 1zm-11 172zm41-172zm1 209zm14-200zm7 36zm2 11zm-13 138zm30-240zm32 230zm26-14zm7 5zm-9 7zm7 12zm11-16zm6 19zm5 221zm3 5zm26-228zm-1 211zm-22 55zm1 2zm23 9zm4-291zm3 2zm15 237zm-5 27zm-15 46zm40-247zm-7 21zm1 174zm-8 42zm31-237zm5 15zm15-25zm18 7zm2 79zm4-61zm2 53zm9 7zm-13 18zm15 11zm-6 8zm12 92zm-4 57zm16-10zm5 15zm29-292zm0 12zm-4 7zm-12 18zm28-42zm9 166zm3 3zm58-247zm-21 266zm41-305zm-15 35zm12 242zm-11 68zm38-507zm-7 13zm-8 34zm21 58zm-11 2zm5 4zm5 61zm-7 275zm27-462zm2 12zm-7 17zm-9 58zm20 35zm-18 345zm6 14zm13-437zm18 46zm-18 7zm6 27zm2 1zm3 36zm25-85zm-1 33zm4 0zm-4 30zm20-29z" stroke="#6db949"/><path d="M0 0m49 149zm17-5zm-11 26zm2 150zm11 4zm14-156zm12 135zm19 8zm2 28zm15-215zm10 27zm-3 41zm14-71zm6 63zm-5 16zm14 17zm16 13zm16 4zm-5 78zm-13 10zm34-28zm27-20zm-13 12zm6 17zm54 21zm10 259zm21-258zm1 13zm0 63zm-13 13zm-4 123zm27-216zm3 5zm12 48zm-1 11zm-8 141zm10 5zm-6 2zm5 13zm23-205zm-11 17zm16 21zm-4 12zm0 2zm-13 128zm20-124zm12 69zm17-17zm6 10zm-8 17zm7 7zm0 88zm8 32zm4 20zm2 9zm-10 1zm24-245zm-8 5zm-5 196zm8 5zm3 22zm10 19zm5-262zm10 266zm-10 6zm34-285zm-5 7zm0 1zm32-41zm10 211zm51-319zm-18 47zm41-233zm-9 56zm-9 16zm1 47zm6 83zm-1 10zm15 270zm-18 3zm-5 18zm13 4zm-2 8zm35-454zm-13 3zm6 8zm0 5zm2 0zm-13 6zm15 23zm-17 36zm14 13zm-7 22zm-7 17zm5 4zm3 276zm-2 41zm2 2zm27-481zm-1 13zm12 5zm-21 23zm1 0zm3 12zm16 46zm-14 16zm26-56zm1 15zm-7 17zm6 6zm-1 13zm-5 8zm4 10zm26-14z" stroke="#6bbb54"/><path d="M0 0m58 171zm31-36zm-5 0zm8 2zm3 4zm8 17zm16 163zm20-189zm-1 11zm5 15zm-15 152zm39-187zm3 50zm19-85zm50 191zm29 287zm-5 2zm14-31zm30-217zm13 223zm-5 43zm24-251zm10 31zm-16 187zm9 46zm18-270zm3 37zm20 7zm13 86zm15-24zm11 132zm16-174zm-7 138zm42-194zm-15 167zm-3 119zm53-295zm3 195zm0 3zm55-15zm-2 4zm-8 0zm-5 33zm5 2zm1 9zm7 17zm34-530zm-12 30zm13 13zm-16 32zm4 401zm-7 36zm12 17zm-6 31zm24-570zm10 20zm-19 28zm12 4zm6 43zm-1 36zm-13 4zm10 346zm18-466zm-6 17zm3 9zm37 60zm-12 22z" stroke="#6abc60"/><path d="M0 0m166 103zm6 211zm19-108zm128 393zm-8 5zm14-55zm138-196zm5 154zm-7 95zm-4 7zm66-74zm37 16zm23-442zm15 63zm2-86zm5 22zm45 2zm20 57z" stroke="#6eae61"/><path d="M0 0m72 344zm22-187zm29 32zm88 89zm89 286zm39-242zm9 62zm-19 162zm10 26zm13-185zm64 92zm32 114zm-14 61zm25-35zm19-249zm84-122zm3 330zm25-383zm6 336zm20-469zm-15 39zm29 35zm7 51z" stroke="#779464"/><path d="M0 0m124 107zm4-2zm3 242zm120-35zm49 101zm25-80zm272-123zm-16 313zm33 11zm27-400z" stroke="#7b7f61"/><path d="M0 0m63 303zm68-155zm20-35zm1 70zm168 139zm1 273zm20-206zm68 42zm8 36zm-6 125zm22 44zm135-96zm21 5zm19-447zm6 31zm37 43z" stroke="#817269"/><path d="M0 0m110 112zm10 82zm-1 146zm27-8zm25-126zm3 3zm12 4zm187 138zm65 237zm-1 13zm31-243zm39-48zm36 267zm48-464zm-13 448zm23-514zm9 127zm5 40zm35-113zm0 20z" stroke="#836370"/><path d="M0 0m95 169zm47-52zm26 71zm6 117zm111 0zm-8 236zm45-1zm-8 8zm49-187zm78 261zm6 20zm12-141zm111 37zm6-312zm45-179zm-15 77zm-6 95zm39-17zm28-35zm16-1z" stroke="#835477"/><path d="M0 0m32 170zm23 9zm37-49zm-16 1zm-1 193zm33-225zm-6 36zm0 157zm28-181zm17 50zm-10 11zm13-45zm20 18zm3 7zm-21 156zm51-13zm37 5zm43-5zm0 38zm2 194zm19-197zm30-18zm12 56zm-17 30zm15 144zm23-46zm51 138zm30-261zm-15 200zm12 15zm-3 22zm19-231zm2 237zm-2 0zm16-110zm24 9zm5 1zm96-474zm22 88zm-16 14zm26-28zm0 5zm5 54zm-4 49zm43-56z" stroke="#81407f"/><path d="M0 0m73 142zm-8 2zm1 34zm-1 132zm9 6zm-18 11zm24-194zm7 6zm-11 15zm8 139zm0 13zm33-198zm6 11zm-10 23zm8 2zm-18 6zm4 19zm14 8zm-12 116zm-9 24zm17 10zm-17 6zm15 5zm22-243zm-4 25zm3 23zm-7 24zm2 20zm1 1zm16 0zm-18 145zm0 22zm41-304zm2 53zm-14 18zm10 2zm-16 2zm18 6zm-3 53zm3 35zm-7 90zm-6 16zm27-242zm-5 5zm9 3zm3 124zm1 29zm20 49zm27-20zm5 10zm-5 2zm-4 8zm-11 4zm2 5zm25-1zm22 290zm17-281zm-3 7zm9 13zm-2 9zm-10 200zm9 1zm-15 28zm7 5zm9 3zm-13 7zm1 11zm19-247zm17 75zm-13 121zm18 10zm-8 4zm-5 32zm-9 10zm8 12zm18-300zm18 61zm-9 31zm-12 11zm17 107zm-8 13zm-9 69zm39-254zm-14 11zm11 15zm10 2zm-14 4zm-2 198zm22-225zm8 8zm-4 4zm18 12zm-15 115zm18-98zm1 9zm11 29zm4 24zm-2 108zm2 15zm-11 13zm6 39zm32-257zm-14 152zm13 52zm-3 34zm22-113zm3 105zm-10 7zm39-287zm-19 35zm40-35zm0 206zm18 3zm13 7zm-10 18zm10 2zm-2 4zm28-412zm-8 1zm-5 93zm10 282zm-3 12zm26-425zm-10 107zm-4 29zm8 252zm2 32zm-5 5zm-5 42zm27-508zm2 28zm8 54zm-1 9zm-9 30zm8 24zm5 0zm14-154zm-3 21zm18 22zm-21 5zm4 98zm38-102zm-18 49zm7 14zm19-49z" stroke="#7f3086"/><path d="M0 0m88 336zm19-238zm5 91zm-3 143zm25-253zm5 102zm-4 18zm22-127zm9 9zm-1 108zm-1 9zm-12 105zm27-137zm17 75zm-14 66zm24 5zm36-38zm21 27zm22 17zm-1 232zm21-227zm13 96zm-2 123zm-3 6zm2 1zm20-143zm-9 138zm1 30zm45-224zm4 13zm21 101zm4-42zm0 1zm6 55zm16 90zm1 46zm7-78zm9 31zm29-209zm-16 8zm2 246zm13 23zm36-300zm0 179zm9 18zm29 14zm2 17zm25-318zm-15 307zm41-426zm3 10zm-8 414zm13-500zm10 85zm-2 16zm4 379zm31-374z" stroke="#7e228c"/><path d="M0 0m663 101zm3 29zm5 10zm12 5z" stroke="#b9b9bd"/><path d="M0 0m235 279zm44 276zm26 22zm168-64zm91-266zm14-132zm1 440zm49-491zm31 59zm17-7z" stroke="#70b63e"/><path d="M0 0m67 309zm-6 6zm37-198zm-4 21zm4 5zm-5 21zm-5 134zm1 1zm0 5zm-5 34zm22-213zm-6 13zm4 196zm35-241zm-6 10zm4 1zm5 99zm7 94zm-15 48zm33-268zm-2 3zm-2 7zm-3 5zm8 24zm-4 17zm9 18zm-4 10zm-4 47zm-9 3zm9 15zm30-125zm-20 131zm3 85zm38-36zm41-1zm13 29zm28 2zm-13 251zm17-247zm6 0zm16 42zm-1 51zm-1 161zm-3 48zm28-277zm0 20zm-22 30zm10 179zm-1 38zm29-237zm-4 126zm31-130zm0 106zm-15 14zm9 2zm17-102zm15 66zm6 157zm10-222zm7 244zm-12 14zm12 6zm17-285zm14 3zm-15 8zm-1 3zm34-58zm0 11zm6 5zm-19 14zm12 3zm-6 11zm27-41zm0 12zm59-183zm-2 77zm-10 27zm7 252zm28-411zm-3 127zm7 13zm-18 330zm5 2zm21-533zm3 27zm17 63zm-16 15zm-6 5zm13 27zm-9 2zm20 32zm-20 26zm21-129zm7 6zm-2 84zm20-82zm22 40zm-16 42zm34-65zm-14 5zm9 28z" stroke="#6db949"/><path d="M0 0m46 159zm-8 14zm25-6zm33-29zm-8 155zm16-145zm-2 156zm4 30zm29-241zm7 11zm-12 63zm1 32zm-5 111zm32-228zm12 18zm-13 105zm-2 124zm20-169zm11 41zm0 13zm27 65zm33 30zm11 7zm7 253zm2 15zm15-36zm6 6zm10 33zm-17 17zm32-288zm10 8zm-9 3zm7 258zm0 10zm22-271zm-17 218zm5 35zm27-254zm6 21zm7 5zm-15 163zm4 8zm20-160zm6 26zm7 89zm-16 16zm28-47zm3 6zm15 23zm-16 13zm21 94zm8 25zm-4 46zm40-300zm-12 12zm12 7zm-13 5zm12 299zm35-371zm-3 47zm44 202zm25-324zm-14 312zm15 31zm18-519zm-9 97zm8 352zm-8 15zm18 12zm-7 25zm0 15zm-6 7zm20-443zm17 13zm-5 22zm-2 18zm-3 6zm13-130zm6 33zm8 103zm-13 15zm15 317zm14-414zm17 13zm-7 1zm6 34zm-16 34z" stroke="#6bbb54"/><path d="M0 0m85 307zm3 2zm26-195zm-9 34zm11 2zm-4 23zm-12 146zm2 6zm29-217zm-2 213zm43-218zm2 57zm-1 14zm-15 143zm32-227zm-6 127zm9 28zm0 7zm31 53zm4-26zm10 18zm-8 22zm34 289zm25-305zm4 37zm-4 257zm18-277zm10 16zm5 230zm-9 2zm-7 22zm-4 11zm27-241zm38-3zm0 11zm-7 3zm12 126zm-3 8zm29-115zm-12 99zm24 107zm17-207zm15 187zm-11 26zm-6 32zm21 18zm11-15zm52-119zm1 18zm20-259zm32-44zm4 16zm-6 278zm10 4zm4 8zm25-348zm-10 5zm-9 6zm12 34zm-2 14zm3 256zm7-478zm24 50zm-14 41zm14 70zm-8 15zm-12 9zm10 19zm11-181zm8 26zm11 24zm-5 14zm7 26zm25-16zm-17 9z" stroke="#6abc60"/><path d="M0 0m103 180zm9 165zm57-253zm3 104zm10-80zm174 254zm75 225zm53-238zm-8 5zm96 155zm-5 67zm32-472zm0 115zm34-175zm40 54z" stroke="#6eae61"/><path d="M0 0m112 167zm15-71zm2 231zm24-188zm143 178zm0 240zm22-139zm22-103zm-1 77zm-10 145zm78-84zm28 84zm-9 81zm-1 27zm25-278zm55 165zm16 6zm25 40zm48-354zm-15 310zm-1 5zm22-463zm44 108zm13-23z" stroke="#779464"/><path d="M0 0m119 152zm0 197zm21-250zm-15 98zm7 104zm56-209zm-10 19zm95 209zm18-14zm-13 11zm18 232zm19-1zm3 30zm13-18zm35-203zm29 123zm41 61zm104-21zm26 4zm45-342zm41 4z" stroke="#7b7f61"/><path d="M0 0m75 313zm73-134zm-1 133zm37-90zm85 339zm44-9zm18-239zm11 217zm42-170zm-2 4zm6 121zm47 61zm48-213zm15 185zm69-287zm-7 349zm31-50zm20-469zm-11 69zm14 71zm10 5zm-5 3zm18-59z" stroke="#817269"/><path d="M0 0m68 164zm6 17zm17-69zm-6 44zm12 4zm36-36zm6 36zm106 164zm36 251zm119-98zm185-325zm9 47zm4 17zm-14 5zm11 14zm0 336zm23-427zm-18 372z" stroke="#836370"/><path d="M0 0m135 194zm3 120zm-1 16zm42-28zm63-26zm-15 1zm9 5zm0 14zm16 16zm17 15zm12 242zm45-146zm32-35zm26 103zm18 104zm42-201zm-12 224zm18-293zm17 36zm21-6zm58 188zm50-389zm-20 420zm33-336zm25-128z" stroke="#835477"/><path d="M0 0m49 332zm11-2zm36-21zm5-179zm2 173zm9 5zm6 14zm3 2zm9-217zm38-3zm18 15zm-9 7zm-1 8zm17 109zm55 44zm0 20zm-18 12zm13 6zm19-30zm3 28zm10 233zm37-224zm3 17zm-2 189zm-11 2zm18 41zm7-250zm1 258zm45-233zm5 38zm12 77zm22 9zm11 69zm-1 51zm-1 28zm35-272zm7 9zm5 6zm-6 240zm0 26zm25-308zm1 190zm40 3zm24 31zm38-438zm-8 6zm-6 450zm31-510zm-3 62zm-1 74zm12 32zm26-139zm-4 33zm8 13zm-6 24zm1 21zm32-40zm8 34z" stroke="#81407f"/><path d="M0 0m49 154zm-8 6zm-3 4zm28-16zm-1 162zm26-194zm-11 22zm-5 25zm36-60zm2 21zm-9 2zm10 15zm-13 31zm3 16zm6 126zm6 19zm8 12zm22-228zm-5 30zm0 18zm1 17zm0 22zm2 100zm-4 5zm-11 37zm43-264zm2 18zm-6 3zm0 20zm-17 31zm5 158zm35-227zm-12 131zm13 8zm-1 83zm51-28zm7 1zm-5 11zm-3 30zm9-30zm19 19zm-5 1zm-5 247zm3 9zm11 20zm6-274zm-4 268zm23 4zm-12 6zm6 10zm-1 0zm22-203zm11 21zm-7 178zm-12 12zm44-279zm-8 21zm-12 5zm10 25zm-4 18zm2 128zm18-160zm-2 4zm11 1zm-11 187zm51-149zm8 47zm2 17zm9 85zm7-171zm11 2zm-5 140zm-7 6zm-3 56zm20 16zm-10 43zm8 4zm22-280zm1 5zm-11 5zm9 239zm32-300zm-20 14zm16 16zm-9 155zm12 20zm12-191zm13 192zm-1 4zm27-278zm-8 269zm-12 1zm8 12zm-6 10zm30-285zm5 259zm29-450zm-7 53zm-8 4zm16 3zm-2 1zm4 22zm2 15zm-20 17zm5 24zm12 7zm-19 16zm9 275zm-10 9zm27-366zm16 6zm-10 7zm8 36zm-14 315zm30-444zm-6 17zm6 29zm-7 4zm21 7zm2 23zm-4 30zm-3 5zm1 16zm-6 4zm15-91zm21 53zm-21 1zm1 2z" stroke="#7f3086"/><path d="M0 0m60 141zm11 196zm10-18zm40-201zm-18 51zm2 141zm28-224zm7 90zm18-100zm4 24zm7 14zm19 90zm31 87zm7-4zm17 25zm13-14zm-1 16zm33-14zm1 243zm21-199zm-2 0zm7 7zm-8 182zm7 81zm31-250zm50 110zm-19 8zm29-94zm5 36zm2 190zm-9 14zm30-238zm3 245zm16-43zm60-295zm-4 49zm63-243zm-2 19zm22-45zm-16 2zm4 2zm7 112zm6 8zm-9 39zm3 4zm-2 327zm34-469zm-13 9zm0 41zm37-72zm-8 52zm-2 1zm13 47zm19-27z" stroke="#7e228c"/><path d="M0 0m643 104zm30 52zm-2 6z" stroke="#b9b9bd"/><path d="M0 0m57 315zm50-188zm12 200zm120-45zm90 259zm44-161zm81 234zm55-80zm52-28zm6 36zm81-467zm-22 61z" stroke="#70b63e"/><path d="M0 0m42 165zm4 6zm53-16zm-20 152zm28-177zm-4 18zm18 173zm15-148zm12 5zm-18 2zm2 121zm-6 2zm2 17zm26-232zm14 95zm5 118zm-7 13zm-10 7zm42-21zm34-4zm59 8zm5 37zm-4 210zm-13 44zm15 13zm12-283zm6 9zm2 209zm-2 6zm30-228zm3 31zm-6 19zm-2 34zm-10 13zm5 0zm4 110zm-1 6zm9 40zm-2 15zm11-248zm-3 9zm23 5zm-20 165zm-2 17zm50-157zm10 49zm3 52zm9 72zm-9 47zm-6 24zm29-60zm1 23zm5 10zm23-253zm-3 5zm-5 11zm16 11zm-9 235zm48-274zm1 192zm22 13zm27-399zm7 14zm-19 100zm21 258zm-13 22zm0 5zm8 4zm30-493zm-13 37zm9 98zm-15 323zm21 36zm11-502zm13 12zm-23 5zm14 80zm1 17zm3 13zm-16 24zm13 46zm32-152zm-15 14zm2 18zm-6 60zm-2 24zm26-72zm7 66z" stroke="#6db949"/><path d="M0 0m54 168zm25-15zm19 22zm-21 2zm20 121zm22-173zm-4 11zm9 42zm-14 125zm19-201zm17 69zm-14 149zm15 9zm-17 22zm39-268zm-4 36zm-14 14zm9 2zm4 6zm7 9zm-1 4zm-17 46zm22-52zm2 15zm55 122zm13 3zm3 20zm14 8zm4 11zm-5 226zm-5 22zm5 6zm27-264zm-7 213zm-6 20zm10 24zm34-270zm2 89zm-11 24zm34-78zm-1 179zm27-1zm27-57zm-4 17zm22-72zm-7 12zm11 22zm-16 7zm17 126zm-12 34zm9 26zm20-254zm-3 152zm-6 35zm8 15zm9 4zm-7 5zm2 12zm-9 13zm14 19zm54-315zm15 206zm11 0zm2 5zm7 2zm-1 5zm33-388zm8 5zm-15 363zm9 36zm-7 13zm32-488zm-9 6zm12 132zm-4 284zm-17 7zm11 25zm17-498zm2 7zm1 77zm9 13zm-3 10zm9 10zm-4 55zm0 304zm-14 11zm6 29zm24-473zm-6 48zm17 32zm-12 35zm10 6zm11-87zm7 19zm-7 1zm-1 8zm22 30zm-15 2zm-8 55z" stroke="#6bbb54"/><path d="M0 0m96 292zm0 5zm0 42zm22-31zm12-210zm11 4zm-2 28zm3 36zm-9 20zm11 153zm6-247zm1 14zm21 15zm-10 43zm12 29zm-20 0zm45 61zm-11 59zm79 240zm13-247zm12 11zm-11 224zm21 34zm7 3zm28-214zm-11 50zm5 186zm20-239zm11 156zm-2 4zm-10 63zm40-200zm-3 107zm21-37zm-3 27zm17 55zm0 95zm15-100zm-5 18zm1 63zm26-237zm33-20zm-9 6zm25-43zm1 8zm34-67zm1 3zm0 4zm0 256zm28-421zm2 55zm-11 91zm7 2zm-18 272zm-1 13zm0 29zm44-456zm-14 40zm10 12zm-5 8zm-11 23zm16 7zm-8 16zm-3 20zm0 15zm-1 309zm29-486zm12 8zm-3 13zm-6 14zm12 67zm-23 14zm2 343zm5 3zm20-447zm18 14zm-13 52zm27-58zm13 70z" stroke="#6abc60"/><path d="M0 0m63 306zm23-146zm7 10zm26 7zm-18 161zm44-221zm-11 218zm16-28zm5 2zm-2 17zm35-87zm46 75zm109 56zm-11 179zm49-63zm22-7zm57-129zm-5 291zm58-107zm72-334zm-7 20zm53-158zm22 25z" stroke="#6eae61"/><path d="M0 0m83 166zm25 150zm13 1zm12-208zm2 14zm8 18zm9 30zm75 135zm33-10zm8 292zm39-263zm41 29zm-6 27zm220-255zm20-29zm-1 95zm41 7z" stroke="#779464"/><path d="M0 0m89 161zm-14 183zm25-38zm53-143zm8 166zm30-108zm42 84zm53-9zm27 116zm6 10zm23-22zm-4 127zm30-182zm-15 26zm46 23zm19 190zm6 10zm123-17zm10-60zm-5 32zm7 19zm33-484zm7 7zm16-18zm9 71z" stroke="#7b7f61"/><path d="M0 0m86 324zm9 24zm37-188zm21-3zm21 19zm-21 143zm34-233zm45 190zm92 302zm21-246zm-4 65zm9-66zm57 294zm22 10zm156-433zm26 322zm16-408zm14 54zm-5 28zm48-54z" stroke="#817269"/><path d="M0 0m38 159zm86 185zm12-244zm-11 220zm18 31zm8-178zm27 19zm102 341zm18 14zm-13 33zm26-268zm7 101zm28 135zm46-84zm25 123zm46 33zm108-398zm24-63zm4 42zm11-67zm33-63zm-5 15zm10 22zm-14 62z" stroke="#836370"/><path d="M0 0m127 91zm15 3zm-7 24zm-2 75zm-6 5zm23 137zm114-21zm9 272zm5-261zm107 67zm212-324zm-15 4zm0 4zm11 95zm22 44zm15-149zm54 98z" stroke="#835477"/><path d="M0 0m84 132zm14 41zm-1 134zm12-160zm12 30zm16-93zm10 61zm-12 14zm13 44zm-9 106zm30-215zm-18 17zm19 212zm5-197zm46 170zm20 17zm32 231zm41-214zm-8 88zm1 144zm-3 6zm13 10zm-8 18zm78-224zm1 19zm22 3zm-4 21zm25 180zm22-3zm56-288zm-5 28zm11 198zm57-385zm-9 96zm5 338zm21-501zm-9 5zm5 100zm-2 33zm-5 1zm19 328zm-7 6zm23-420zm1 89zm35-58zm-9 17zm23-74zm-7 42z" stroke="#81407f"/><path d="M0 0m47 167zm8-10zm11 162zm14-184zm15 8zm2 36zm-14 168zm22-236zm1 5zm13 43zm-11 15zm11 6zm-18 116zm23 17zm19-199zm-2 24zm-15 1zm15 39zm-5 149zm5 8zm26-201zm7 2zm-18 26zm13 15zm-14 26zm5 4zm4 94zm-6 18zm9 5zm14-248zm-1 3zm-5 27zm1 42zm2 59zm45 72zm6-9zm16 26zm-1 21zm21-4zm5 229zm-12 4zm12 19zm-3 0zm6 0zm4-272zm-2 21zm15 18zm-3 263zm7 11zm24-295zm-5 1zm-7 0zm8 3zm5 2zm-7 11zm-11 21zm23 8zm-7 39zm-11 146zm15 17zm-10 34zm3 0zm29-52zm17-194zm4 13zm8 26zm-15 118zm6 7zm-11 37zm-2 3zm3 22zm28-217zm2 3zm2 16zm0 100zm-5 9zm0 8zm28-99zm-4 42zm6 45zm-8 2zm13 98zm-3 49zm17-76zm9 68zm10 8zm-23 24zm67-309zm1 172zm-12 6zm42 3zm-14 14zm34-16zm-1 9zm7 20zm-11 6zm30-413zm-4 88zm8 315zm-13 3zm7 9zm4 6zm-15 5zm11 17zm20-483zm4 9zm-8 44zm-2 15zm17 27zm-18 49zm6 7zm12 290zm2 23zm-17 6zm24-488zm11 10zm-8 33zm14 5zm-6 6zm-14 41zm16 3zm-15 31zm0 16zm-3 283zm11 5zm16-423zm4 25zm-2 94zm-5 7zm35-112zm-1 16zm0 44z" stroke="#7f3086"/><path d="M0 0m68 320zm-5 11zm24-21zm30-197zm-7 213zm21-216zm0 3zm-3 13zm7 57zm26-31zm-10 32zm12 23zm13-121zm3 216zm32-14zm-10 20zm47 0zm36-7zm-9 257zm11 36zm5 0zm20-51zm-5 31zm18 2zm-24 32zm25-213zm14 4zm-1 163zm36-189zm8 13zm32 70zm4 10zm-8 5zm39-93zm-10 13zm-4 9zm5 134zm28-31zm-11 1zm11 1zm1 108zm40-289zm-4 3zm20 194zm49-293zm-2 3zm-17 35zm13 280zm15-348zm10 331zm3 16zm14-403zm2 80zm47-74zm-4 6zm20-45z" stroke="#7e228c"/><path d="M0 0m640 68zm-3 52zm8 9zm28 23z" stroke="#b9b9bd"/><path d="M0 0m166 161zm26 149zm75 2zm11 10zm51 24zm112 182zm78-6zm65-396zm14 423zm4-358zm14 336z" stroke="#70b63e"/><path d="M0 0m37 170zm9 1zm18 148zm21-171zm34-8zm3 4zm-12 0zm6 18zm-8 26zm8 148zm12-257zm17 79zm2 5zm-3 22zm5 4zm14-76zm-9 98zm30-115zm-3 143zm78 53zm10 285zm24-272zm-10 31zm-3 222zm0 37zm28-279zm12 14zm-1 80zm0 4zm-5 134zm5 18zm-15 17zm0 1zm4 9zm12 12zm15-67zm4 22zm-4 48zm22-228zm9 119zm-12 19zm25-143zm11 99zm0 12zm34-93zm-6 68zm-3 12zm2 111zm5 64zm25-265zm0 12zm16-35zm-11 21zm-1 190zm15 46zm24-274zm11-25zm0 13zm57 197zm14 3zm-7 35zm11-459zm15 7zm-10 16zm10 12zm4 68zm-1 6zm3 10zm-9 281zm11 48zm22-442zm-17 395zm1 25zm39-387zm11-45zm3 5zm11 11zm0 54zm9-7zm0 5z" stroke="#6db949"/><path d="M0 0m71 171zm-9 147zm33-182zm1 169zm11-208zm1 50zm6 16zm-6 181zm4 3zm13-168zm14 18zm0 101zm11-217zm16 32zm3 9zm1 95zm13-98zm-4 70zm16 40zm-17 76zm44-9zm-7 3zm58 264zm13-254zm3 9zm-9 0zm18 271zm26-228zm-24 181zm15 13zm10-221zm8 5zm3 38zm4 14zm-13 214zm28-261zm27 29zm12 30zm17 18zm-4 25zm1 27zm-6 7zm15 86zm7 67zm13-244zm-12 130zm0 30zm14 36zm9 14zm-15 12zm-8 32zm16 6zm22-299zm-12 30zm40-60zm-7 17zm-4 23zm6 161zm22-198zm4 208zm19 14zm17 3zm15-435zm-2 21zm1 388zm5 15zm0 12zm-12 7zm20-435zm2 10zm0 3zm7 15zm5 3zm2 3zm7 20zm-13 331zm-2 8zm13 2zm-6 3zm-13 26zm15 3zm18-510zm6 16zm-5 19zm0 26zm-9 4zm14 6zm-8 34zm1 33zm-3 16zm10 346zm-3 3zm32-407zm-9 18zm0 10zm-8 24zm16 30zm9-136zm8 33zm-9 46zm15 17zm21-30zm-12 1zm1 1z" stroke="#6bbb54"/><path d="M0 0m40 178zm59-39zm-18 5zm-3 193zm45-175zm-23 11zm21 161zm-14 9zm7 5zm28-266zm-13 25zm1 2zm14 92zm-7 5zm36-19zm-9 27zm7 0zm4-46zm46 126zm27-1zm3-21zm3 38zm10 270zm22-18zm23-253zm10 5zm-4 1zm-6 15zm25-6zm10 39zm4 22zm-7 139zm30-168zm-11 28zm-10 147zm49-87zm-14 32zm26-25zm19 75zm4 72zm8 11zm-2 2zm-4 25zm3 9zm10 21zm33-158zm30 19zm23 34zm32-436zm7 1zm-4 370zm-19 24zm22 61zm19-516zm-12 69zm-1 393zm26-437zm18 31zm-19 74zm10 26zm-4 303zm16-467zm11 3zm3 1zm-13 8zm8 32zm-2 80zm8 20zm28-19zm9-9z" stroke="#6abc60"/><path d="M0 0m119 180zm14-78zm-7 15zm10 213zm18-171zm60 131zm47 2zm1 28zm5 255zm28 22zm96-210zm54 118zm-4 74zm51-235zm87-233zm-3 12zm13 78zm6 37zm46-153zm8 123zm8-65z" stroke="#6eae61"/><path d="M0 0m62 313zm32 5zm95-218zm105 199zm10 104zm39 181zm21-68zm27-123zm0 94zm50 84zm-11 6zm5 41zm12 29zm100-120zm39-329zm45-24zm4 18zm16-123zm18 43zm-12 78z" stroke="#779464"/><path d="M0 0m97 164zm41 7zm39 0zm52 142zm94 110zm-1 184zm4-287zm10 30zm-9 67zm76 44zm45 149zm7 45zm107-405zm-10 327zm52-349z" stroke="#7b7f61"/><path d="M0 0m114 161zm7 32zm53-83zm58 178zm55 269zm25-8zm0 61zm22-274zm-7 234zm23-231zm60 299zm25-113zm-7 48zm-3 13zm14 69zm43-290zm25 155zm-2 6zm68-441zm1 460zm8-427zm4 45zm7 4zm-10 10zm39 50zm27-60z" stroke="#817269"/><path d="M0 0m74 153zm-5 184zm25-215zm0 42zm44-4zm-1 9zm-7 3zm39 40zm49 103zm101 16zm6-21zm38 66zm-6 153zm33-128zm17 8zm52 213zm120-530zm0 27zm38 81zm-15 362zm55-391z" stroke="#836370"/><path d="M0 0m73 344zm73-29zm8-182zm16 9zm2 93zm92 348zm32-265zm-20 232zm29-230zm132 58zm1 18zm39-51zm16 19zm31 160zm57 36zm34-497zm-2 4zm-6 139zm-5 28zm37 323zm38-437z" stroke="#835477"/><path d="M0 0m45 150zm41 6zm-8 19zm2 3zm43 17zm22-115zm-7 0zm-1 3zm7 17zm-16 14zm9 64zm9 9zm24-90zm-6 3zm-6 18zm-3 9zm5 7zm2 47zm7 10zm-5 3zm2 30zm39 23zm-1 47zm14 2zm22-16zm3 4zm38 261zm7 37zm32-177zm-20 146zm42-224zm7 186zm-9 68zm-10 20zm50-233zm11 9zm11 3zm4 31zm16 206zm4-48zm42-195zm19-52zm13 33zm40 201zm7 10zm27-478zm-11 58zm-10 102zm10 293zm31-366zm-17 38zm10 318zm16-460zm-2 9zm3 112zm20 16zm-20 354zm35-488zm-5 143zm19-127zm9 64zm12 21z" stroke="#81407f"/><path d="M0 0m49 173zm5 1zm4 161zm37-162zm-7 128zm-4 9zm-3 28zm39-235zm4 34zm-7 17zm-17 16zm4 6zm15 122zm-18 6zm2 24zm13 4zm28-251zm-1 11zm1 11zm-11 6zm10 19zm-10 4zm10 3zm-12 10zm11 14zm-16 5zm25-74zm2 25zm6 63zm10 26zm11-101zm4 126zm32 65zm2 0zm10-18zm34 13zm10 19zm-8 244zm0 9zm-7 10zm2 7zm26 3zm6 9zm-14 5zm22 26zm22-290zm-17 77zm8 4zm8 5zm-2 147zm-9 5zm5 16zm9 29zm14-278zm-1 75zm-1 138zm26-216zm5 16zm-15 34zm16 111zm-5 33zm-8 49zm23-189zm16 9zm12-6zm-4 5zm16 5zm-4 205zm-1 17zm37-259zm-12 24zm-3 2zm-1 2zm16 232zm-10 7zm26-281zm9 21zm-16 132zm32-169zm22-31zm-2 18zm-9 8zm0 196zm14 11zm-6 1zm0 1zm33-6zm4 31zm25-433zm-3 117zm0 9zm-10 263zm-4 3zm15 3zm-5 41zm-4 24zm39-495zm-6 7zm-8 27zm11 80zm-5 28zm-6 270zm34-409zm-12 16zm6 99zm1 306zm13-460zm16 20zm0 84zm-9 28zm-9 17zm41-104zm3 49zm-14 12zm17 2zm-17 10zm1 5z" stroke="#7f3086"/><path d="M0 0m72 315zm12-193zm10 1zm-3 1zm6 182zm21-127zm-9 8zm-1 134zm-8 23zm41-265zm-6 26zm12 3zm-19 6zm7 3zm-8 21zm5 41zm3 13zm2 156zm21-244zm3 30zm-5 19zm2 42zm-8 102zm20 7zm-17 21zm41-241zm-11 118zm29 87zm8 10zm5 18zm39 2zm5 258zm10-254zm-1 274zm28-280zm15 79zm-16 29zm7 127zm-3 23zm29-236zm0 37zm-10 50zm35-61zm7 0zm-17 223zm51-181zm6 262zm37-302zm-3 128zm-8 27zm16-150zm56-67zm-8 15zm23 203zm44-416zm-3 133zm26-166zm1 50zm-13 43zm20 14zm0 0zm-12 13zm16-144zm20 64zm2 58zm-13 54zm14-120zm21 74zm-19 36zm23-28zm27-78z" stroke="#7e228c"/></g><g font-size="4.50" stroke="#000" stroke-width="0.14"><text x="46.70" y="586.00" text-anchor="middle">−1.0</text><text x="22.80" y="570.77" text-anchor="end">−1.0</text><text x="75.05" y="586.00" text-anchor="middle">−0.5</text><text x="22.80" y="540.22" text-anchor="end">−0.5</text><text x="103.40" y="586.00" text-anchor="middle">0.0</text><text x="22.80" y="509.67" text-anchor="end">0.0</text><text x="131.75" y="586.00" text-anchor="middle">0.5</text><text x="22.80" y="479.12" text-anchor="end">0.5</text><text x="160.10" y="586.00" text-anchor="middle">1.0</text><text x="22.80" y="448.57" text-anchor="end">1.0</text></g><text x="96.70" y="591.40" text-anchor="middle" font-size="5.05">Dimension 1</text><text transform="translate(12.00 509.60) rotate(-90)" text-anchor="middle" font-size="5.05">Dimension 2</text><text x="24.40" y="434.10" font-size="7.38">eGFR (ml/min/1.73m2)</text><rect x="174.20" y="472.70" width="16.40" height="84.00" fill="url(#cg)"/><path d="M174.20 493.50h3.28M190.60 493.50h-3.28M174.20 514.40h3.28M190.60 514.40h-3.28M174.20 535.40h3.28M190.60 535.40h-3.28" stroke="#fff" stroke-width="0.75" fill="none"/><g font-size="6.50"><text x="195.00" y="495.84">110</text><text x="195.00" y="516.74">100</text><text x="195.00" y="537.74">90</text></g><text x="174.60" y="468.10" font-size="7.30">eGFR</text></g>
<g><path d="M266.48 438.60V580.60M294.33 438.60V580.60M259.00 553.88H401.30M322.18 438.60V580.60M259.00 523.33H401.30M350.03 438.60V580.60M259.00 492.78H401.30M377.88 438.60V580.60M259.00 462.23H401.30" stroke="#e3e3e3" stroke-width="0.95" fill="none"/><path d="M280.40 438.60V580.60M259.00 569.15H401.30M308.25 438.60V580.60M259.00 538.60H401.30M336.10 438.60V580.60M259.00 508.05H401.30M363.95 438.60V580.60M259.00 477.50H401.30M391.80 438.60V580.60M259.00 446.95H401.30" stroke="#e3e3e3" stroke-width="1.25" fill="none"/><g transform="translate(259 439) scale(0.2)" fill="none" stroke-linecap="round" stroke-width="16.0"><path d="M0 0m95 150zm-1 25zm-8 157zm22-231zm33 12zm3 52zm-14 30zm-4 157zm24-259zm10 32zm-6 19zm-2 31zm0 15zm5 8zm-5 13zm22 4zm2-26zm17 39zm-2 5zm-12 5zm47 75zm12 8zm33 222zm-1 22zm19-22zm-12 13zm26-240zm18 253zm-16 13zm41-39zm-18 23zm39-201zm-10 16zm-1 140zm41-108zm-10 62zm12 144zm4-224zm-2 5zm3 176zm22-2zm18 75zm29-315zm3-9zm4 28zm13 156zm54 25zm11-387zm16 19zm-1 33zm-18 337zm-2 25zm36-501zm-5 508zm39-512zm-20 130zm18 21zm4-84zm42 37z" stroke="#6db949"/><path d="M0 0m43 171zm18-27zm11 14zm-15 1zm-6 8zm5 6zm-1 135zm6 19zm36-193zm-10 24zm-6 167zm38-220zm-19 51zm14 9zm7 6zm-5 131zm-12 3zm-2 39zm6 5zm26-269zm-3 10zm17 0zm-6 7zm-2 6zm-2 22zm6 24zm-8 19zm-6 20zm19 135zm-6 25zm27-269zm-10 1zm1 4zm-9 6zm20 9zm-22 3zm13 2zm7 3zm-13 17zm17 24zm0 11zm-22 2zm19 6zm-3 55zm16-118zm-3 4zm-2 113zm15 20zm-11 63zm20-23zm5 12zm1 15zm57-25zm-6 4zm-1 274zm4 16zm28-277zm2 119zm-2 115zm6 34zm-2 20zm-9 7zm24-243zm12 19zm-4 36zm-4 7zm-7 149zm17 6zm-7 4zm-10 10zm12 3zm-4 23zm-10 3zm31-290zm2 8zm6 29zm4 27zm-4 129zm1 16zm-9 9zm8 22zm-14 4zm-3 12zm18 0zm-19 29zm27-269zm9 28zm4 22zm-15 143zm25-176zm7 19zm7 79zm4 11zm1 7zm-20 18zm32-68zm-7 19zm19 127zm-19 27zm10 1zm14 6zm-17 2zm7 13zm-6 6zm0 16zm14 9zm-9 2zm10 29zm24-319zm-22 197zm0 23zm17 23zm-16 2zm9 9zm23-260zm-3 7zm6 12zm-9 3zm2 224zm7 15zm34-295zm-5 12zm-11 19zm-4 0zm10 158zm33 18zm24 15zm-4 9zm-7 3zm35-451zm0 35zm-8 4zm4 5zm6 8zm6 76zm-1 18zm-16 10zm10 250zm1 37zm-5 24zm-7 10zm41-488zm-17 16zm0 4zm14 54zm-2 32zm-16 7zm23 10zm-14 294zm-3 14zm-5 33zm24-488zm23 69zm-15 7zm5 22zm-8 19zm0 48zm22-162zm-3 5zm3 11zm5 25zm-6 44zm9 20zm1 28zm-4 7zm25-97zm-7 10zm4 13zm3 16zm-2 22zm-5 7zm4 2z" stroke="#6bbb54"/><path d="M0 0m47 164zm0 7zm-2 0zm4 174zm16-203zm-3 17zm36-51zm-3 13zm-7 15zm10 6zm-4 11zm0 6zm1 158zm-19 29zm27-235zm4 11zm5 61zm4 110zm1 17zm-13 6zm2 11zm6 1zm-1 16zm38-249zm-14 14zm-8 9zm22 14zm-4 29zm3 41zm-8 99zm27-220zm5 34zm-18 44zm8 14zm-11 33zm12 104zm2 12zm3 4zm7-93zm14 70zm2 15zm36-25zm2 6zm17 13zm7 263zm45-263zm-18 11zm4 12zm8 4zm3 233zm-16 29zm35-290zm5 13zm-10 16zm10 0zm1 16zm-1 45zm-7 11zm8 1zm-6 152zm-8 21zm21-270zm19 16zm-17 2zm10 189zm-11 28zm3 1zm1 20zm12 6zm-1 15zm-13 16zm22-239zm18 2zm-4 1zm-4 5zm13-4zm16 14zm-7 0zm10 43zm-5 42zm7 10zm18-84zm-3 3zm-10 8zm1 11zm4 46zm10 97zm6 3zm-16 29zm9 13zm-11 3zm20 22zm-11 14zm6 2zm6-255zm6 5zm14 101zm-20 62zm9 8zm-5 13zm10 6zm-9 10zm7 14zm-6 18zm-2 16zm34-298zm-10 1zm1 290zm24-323zm10 7zm-7 17zm2 17zm-6 150zm2 10zm10 8zm12-226zm4 10zm40-49zm-17 265zm11 44zm33-483zm-17 34zm0 13zm3 5zm12 10zm-4 13zm0 0zm8 347zm-3 1zm-21 63zm34-521zm15 2zm-12 8zm8 25zm-20 38zm18 10zm-14 27zm17 11zm0 1zm-7 11zm7 52zm-9 292zm0 2zm18-490zm9 28zm3 14zm-12 10zm9 39zm-10 5zm15 5zm-3 17zm-4 2zm1 26zm4 9zm-12 28zm30-158zm5 36zm-14 41zm20 16zm3 16zm-10 27zm-12 6zm9 5zm15-66zm0 6zm12 15zm-8 20z" stroke="#6abc60"/><path d="M0 0m60 168zm10 176zm49-168zm10-58zm13 206zm19-112zm73 69zm2 23zm74 34zm-2 62zm13 4zm-17 174zm-4 13zm11 23zm16-294zm2 9zm24 12zm22 51zm48 184zm-8 57zm34-132zm-21 112zm29-252zm71 193zm37-22zm34-489zm-14 61zm6 37zm18-68zm17 81zm18 17z" stroke="#6eae61"/><path d="M0 0m94 129zm-15 181zm36 5zm15-210zm150 448zm15 40zm179-258zm3 6zm-2 22zm48 171zm62-426zm23-56z" stroke="#779464"/><path d="M0 0m205 295zm40 25zm78 267zm22-245zm15 49zm26-6zm3 16zm62 239zm28-317zm6 20zm110-161zm-4 47zm15-169zm-3 5z" stroke="#7b7f61"/><path d="M0 0m91 131zm-15 186zm60-14zm72-2zm83 27zm7 7zm107 73zm14 174zm-16 8zm-2 27zm77-261zm106-206zm9 6zm17-74zm-6 23zm45 43zm4-21z" stroke="#817269"/><path d="M0 0m88 131zm-1 195zm39-164zm13 14zm-5 9zm61 108zm30-8zm34 268zm41-123zm51-101zm201-74zm37-12zm5 266zm23-429z" stroke="#836370"/><path d="M0 0m73 307zm71-146zm24 32zm8-110zm71 220zm57 259zm131-68zm-4 104zm26 31zm63-102zm19-274zm24-162zm51 94zm1 5z" stroke="#835477"/><path d="M0 0m53 157zm42 167zm16-144zm47-86zm-4 39zm-4 2zm14 170zm18-1zm59 6zm22 264zm34-152zm12 3zm15 178zm2-268zm9 27zm11 175zm-13 67zm38-214zm-8 3zm55 242zm-4 15zm31-282zm-16 171zm12 48zm-4 32zm21-10zm80-31zm54-461zm-6 63zm-6 5zm9 17zm-3 5zm35-130zm-3 8zm-14 60zm13 8zm-15 59zm37 7zm27-59z" stroke="#81407f"/><path d="M0 0m67 309zm-6 40zm2 0zm16-218zm17 40zm-15 136zm38-220zm-5 51zm-6 159zm10 12zm0 28zm-14 6zm17 2zm5-242zm4 53zm19 14zm-15 168zm39-262zm-5 35zm-2 36zm-1 166zm22-218zm12 212zm2-5zm24 9zm45 11zm3 223zm-10 7zm6 44zm20-273zm-11 11zm17 250zm43-58zm-2 56zm46-216zm36 191zm8-165zm21 112zm-6 88zm6 23zm-8 8zm30-295zm-12 47zm1 2zm32-65zm6 216zm36-266zm32-130zm-9 405zm39-506zm3 40zm-16 17zm8 34zm4 74zm-7 19zm-4 29zm-3 258zm9 33zm25-451zm-7 20zm12 85zm-9 5zm20-101zm36 33zm5 46z" stroke="#7f3086"/><path d="M0 0m61 154zm1 2zm7 145zm29-160zm2 151zm6 52zm-1 3zm39-264zm11 71zm4 174zm29-247zm-4 7zm-1 234zm51-27zm26 265zm-5 5zm60-240zm-1 69zm10 212zm16-276zm2 6zm-17 18zm3 18zm23 141zm44-123zm35 223zm56-90zm19-208zm19 226zm34-426zm11 5zm-19 403zm24 1zm4-451zm9 4zm-5 173zm42-65zm6-10zm13 38z" stroke="#7e228c"/><path d="M0 0m75 131zm27 27zm33-63zm2 56zm19-29zm12 23zm-1 28zm-3 10zm46 111zm54 251zm20-221zm-2 250zm-3 21zm15 4zm6-276zm14 220zm-4 15zm18-5zm2 15zm41-213zm-1 8zm-9 133zm29-32zm34 64zm14-152zm-5 191zm2 43zm20-109zm14 5zm-18 113zm63-84zm23 7zm4 6zm22-394zm5 407zm-13 17zm38-528zm-10 13zm5 26zm11 8zm4-20zm3 133zm-5 319zm3 1zm44-373zm1 30zm-23 0zm45-4z" stroke="#6db949"/><path d="M0 0m49 149zm16-5zm-11 26zm25-37zm9 2zm3 2zm-16 17zm18 149zm13-204zm12 2zm-3 7zm-7 4zm13 7zm-20 16zm1 15zm17 27zm-4 150zm3 13zm14-261zm11 31zm-6 22zm12 51zm-14 9zm-6 155zm34-244zm-1 69zm-7 12zm11 4zm-5 10zm7 8zm-4 11zm-14 86zm22 2zm-10 5zm19-229zm5 11zm2 114zm20 72zm-8 17zm22 3zm14-24zm-1 5zm2 7zm10 26zm13 12zm4 242zm10 3zm-5 23zm9-297zm3 232zm-1 13zm17 60zm4-290zm22 88zm-9 3zm6 14zm-19 129zm14 3zm-5 2zm8 5zm-7 20zm5 21zm-10 9zm15 6zm4-289zm18 45zm-4 8zm-3 15zm-7 5zm2 132zm2 46zm3 27zm31-248zm-10 15zm8 12zm-2 15zm-13 187zm25-213zm1 6zm16 6zm3 17zm-1 65zm-17 33zm26-63zm4 17zm-5 37zm22 46zm-14 35zm-7 5zm15 18zm-18 5zm11 9zm35-237zm-21 207zm11 7zm13 33zm-15 1zm-1 8zm6 20zm5 3zm26-275zm-15 246zm-2 23zm47-311zm45-68zm2 255zm-3 37zm4 7zm-20 1zm45-336zm1 21zm-23 3zm5 254zm15 16zm-13 22zm16 2zm-5 42zm23-542zm3 21zm-19 13zm22 22zm-10 38zm10 8zm-9 24zm2 7zm-4 35zm-6 300zm-4 12zm-1 84zm32-558zm8 20zm3 9zm-14 28zm18 11zm-9 29zm-1 25zm-5 51zm29-111zm10 18zm-19 47zm19 4zm-2 18zm-17 5zm28-65zm9 19zm-7 11z" stroke="#6bbb54"/><path d="M0 0m71 166zm-14 5zm-3 8zm8 124zm-6 24zm38-186zm-13 27zm13 1zm-11 124zm0 13zm4 30zm24-194zm-6 27zm16 20zm-10 0zm7 5zm-11 99zm-7 6zm18 22zm8-216zm5 15zm10 7zm-7 16zm2 0zm-7 5zm16 13zm-16 26zm20 13zm-5 132zm-16 1zm14 3zm28-232zm-14 32zm15 16zm-6 8zm-15 148zm2 13zm30-237zm-5 5zm-1 77zm17 75zm-16 81zm34-28zm13 9zm-12 8zm25-37zm1 0zm7 28zm-15 1zm28-2zm13 287zm9-283zm10 35zm3 193zm2 31zm19-242zm1 16zm-13 76zm11 5zm0 4zm-2 119zm10 2zm-13 4zm6 51zm-9 13zm35-244zm-9 36zm-1 2zm7 116zm3 9zm-5 2zm3 9zm16-213zm8 12zm-4 9zm-7 8zm4 18zm34-6zm6 52zm0 1zm2 18zm1 8zm-17 17zm12 0zm18-8zm-2 21zm7 89zm-2 9zm-3 4zm6 51zm-6 2zm30-261zm3 11zm-13 4zm7 200zm-9 13zm-3 23zm0 12zm5 3zm34-302zm-10 16zm0 13zm17 2zm-12 139zm13 10zm-19 85zm-1 14zm30-105zm13 3zm6 9zm0 3zm5 6zm6 6zm26-274zm7 2zm-13 280zm13 4zm-11 13zm1 3zm10 4zm27-461zm-4 1zm4 11zm-18 34zm15 98zm-15 262zm16 8zm3 0zm-13 7zm0 8zm9 20zm-15 18zm36-529zm-15 29zm20 0zm-5 25zm4 7zm-14 5zm2 4zm13 7zm-11 2zm9 9zm0 36zm-6 1zm-5 2zm-3 21zm10 24zm-15 16zm2 270zm12 10zm-3 16zm-7 9zm-2 8zm3 2zm30-503zm12 4zm0 16zm-19 68zm19 38zm-22 334zm0 43zm26-481zm11 18zm2 14zm0 20zm1 26zm0 25zm18-61zm-8 13z" stroke="#6abc60"/><path d="M0 0m72 142zm-8 168zm9 6zm10-181zm39-28zm26 6zm20 107zm11 10zm0 77zm11 5zm78 238zm-9 18zm28-257zm33 238zm27-162zm-19 148zm11 11zm18-185zm10 18zm-16 3zm45 23zm11 29zm-3 25zm3 174zm33-40zm23-242zm5 10zm4 6zm-21 134zm46 15zm41 46zm26-343zm-14 332zm40-467zm8 464zm2-512zm14 56zm-9 75zm-1 350zm28-379zm17 5zm-2 31zm-22 35zm40-84zm-9 42z" stroke="#6eae61"/><path d="M0 0m149 121zm6-49zm11 113zm-11 141zm34-110zm91 334zm29-2zm12 26zm128 35zm144-493zm-15 54zm10 65zm22-175zm6 55zm61-14z" stroke="#779464"/><path d="M0 0m74 324zm66-207zm159 213zm-7 1zm-3 210zm31-208zm13-11zm7 51zm32-10zm24 113zm57-97zm104 132zm38 4zm17-421zm37 11zm-18 29zm13 25z" stroke="#7b7f61"/><path d="M0 0m67 324zm4 20zm59-156zm56-100zm112 220zm0 229zm-5 46zm36-271zm63 137zm9 29zm37 157zm22 0zm99-410zm20 312zm27-349zm-2 26zm63-46z" stroke="#817269"/><path d="M0 0m56 320zm111-196zm129 289zm82-50zm17 25zm32 266zm44-312zm-21 162zm53-177zm1 205zm86-446zm16-24zm-2 48zm19 11zm-3 1zm-7 8zm12-36zm37 21z" stroke="#836370"/><path d="M0 0m64 144zm104-93zm-3 72zm3 9zm15 81zm7 32zm48 52zm58 323zm42-235zm19 3zm33 71zm17 174zm41-21zm11-265zm48-21zm18 209zm9 42zm85-489zm20 72zm29-2z" stroke="#835477"/><path d="M0 0m32 170zm19-1zm69-25zm-7 195zm24-158zm-9 174zm23-229zm11 63zm9 20zm24 25zm46 50zm31 257zm9-223zm41-6zm2 234zm4-220zm16 35zm19 30zm52 176zm13 49zm30-10zm40-296zm21 220zm67-497zm-9 56zm19 142zm-1 9zm-16 305zm30-489zm-3 54zm14 62zm22 15z" stroke="#81407f"/><path d="M0 0m48 164zm24-25zm-7 39zm25-48zm2 27zm7 176zm6-235zm4 28zm2 1zm3 211zm14-214zm20 3zm-21 40zm8 5zm11 16zm-13 11zm-7 111zm43 4zm33-2zm35-12zm11 2zm-5 19zm29 216zm0 53zm11-272zm10 4zm-15 11zm19 15zm-7 229zm-13 7zm33 2zm-5 4zm15 14zm22-220zm24-34zm4 47zm52-4zm-18 42zm6 32zm-2 10zm-4 115zm11 31zm-5 11zm33-261zm-12 20zm0 195zm-5 6zm22 29zm13-265zm-2 1zm18 1zm91-255zm-2 121zm-6 19zm6 291zm22-490zm10 58zm-2 93zm3 13zm-7 17zm11-139zm5 43zm0 8zm-7 12zm4 7zm3 9zm-8 7zm23 10zm-20 37zm21 3zm-20 310zm35-424zm-4 46zm1 12zm37-17zm-20 6zm19 9z" stroke="#7f3086"/><path d="M0 0m86 139zm13 178zm1-25zm11 19zm-4 21zm21-221zm13 47zm22-77zm62 205zm8 8zm3 15zm18-4zm48 15zm12 5zm3 215zm16-205zm2 38zm17 0zm-2 148zm53-38zm21 53zm-7 78zm43-256zm26-32zm9 9zm-15 173zm13 7zm76-363zm-16 96zm5 294zm23 33zm35-465zm1 0zm-14 19zm16 7zm1 77zm5-131zm17 78zm6 6z" stroke="#7e228c"/><path d="M0 0m38 164zm51-52zm22 12zm20-21zm0 21zm-1 177zm6 13zm22-222zm8 0zm-10 225zm32-232zm-7 132zm71 81zm8 310zm23-308zm1 3zm7 246zm14-205zm5 5zm0 199zm12 41zm12-274zm13 244zm29-195zm2 124zm45-100zm1 207zm0 7zm10-212zm25-29zm-1 14zm39-72zm-8 215zm-9 1zm51 1zm42-309zm-23 316zm29-26zm43-449zm-6 9zm-4 67zm-5 16zm-2 41zm8 4zm-9 12zm29-100zm15 22zm-5 11zm2 63zm16-28z" stroke="#6db949"/><path d="M0 0m46 159zm-6 1zm25-12zm3 16zm-6 3zm-2 148zm30-199zm3 22zm-9 18zm12 4zm3 12zm-19 147zm3 19zm20-212zm-3 4zm12 11zm-11 162zm9 5zm-7 2zm5 4zm-5 20zm1 0zm33-235zm-2 5zm9 13zm5 37zm-10 11zm7 14zm-6 3zm0 22zm2 100zm-17 6zm10 20zm37-170zm-18 45zm19 27zm-19 80zm38-211zm-13 15zm4 85zm2 3zm5 48zm-2 55zm57-27zm-5 11zm-8 5zm5 25zm37-4zm-4 239zm6-8zm15 9zm2 28zm-9 12zm13 4zm10-269zm-4 12zm20 12zm-4 1zm4 3zm-4 30zm1 33zm-18 110zm22 4zm-4 5zm-12 10zm7 29zm-14 9zm7 24zm17-301zm16 47zm26-4zm6 4zm-23 10zm22 24zm-2 97zm-17 5zm13 1zm13-111zm12 4zm-8 82zm2 3zm3 5zm-9 9zm21-36zm15 20zm-8 1zm11 144zm0 16zm31-278zm-1 10zm-1 11zm-1 3zm3 5zm-24 2zm3 159zm4 105zm5 4zm26-304zm4 1zm6 14zm-23 9zm0 262zm29-308zm7 9zm13 0zm-19 17zm7 174zm13-11zm46-260zm-16 267zm-4 13zm11 14zm33-350zm3 38zm-23 23zm15 255zm-9 6zm12 15zm-2 30zm0 2zm-15 9zm29-528zm17 9zm-8 51zm-13 13zm14 5zm-6 2zm13 33zm-9 5zm-4 29zm4 17zm-3 2zm-1 6zm-2 12zm8 280zm-8 52zm40-496zm0 5zm-7 12zm8 21zm-1 2zm0 21zm-9 12zm6 51zm-14 8zm8 5zm26-95zm-4 15zm5 41zm-6 10zm10 16zm-15 1zm43-52z" stroke="#6bbb54"/><path d="M0 0m48 154zm-10 19zm22-32zm14 22zm-4 174zm27-194zm-5 21zm-5 134zm25-184zm-9 34zm8 19zm-9 2zm0 11zm-2 124zm16 18zm1 27zm8-253zm4 12zm8 52zm-9 7zm10 9zm-9 23zm18 98zm-9 12zm6 3zm-16 15zm-1 19zm36-266zm-2 7zm8 16zm-4 1zm1 12zm-5 17zm-10 6zm15 22zm4 35zm-17 15zm-1 118zm33-237zm-3 130zm42 55zm-15 2zm29-3zm-6 3zm0 3zm14 9zm12 4zm6 15zm-3 13zm9 258zm16-275zm8 5zm-3 6zm-15 252zm10 32zm17-286zm4 1zm1 82zm11 21zm-11 119zm9 28zm0 3zm-17 40zm35-258zm4 13zm10 3zm-16 14zm16 131zm-17 15zm4 3zm-6 39zm30-212zm9 125zm0 4zm8-126zm17 26zm4 2zm-1 22zm0 34zm-13 27zm4 3zm5 3zm6 9zm-2 142zm23-239zm-17 35zm6 28zm-4 5zm0 23zm11 69zm-11 65zm9 14zm6 17zm-2 0zm6 6zm18-326zm1 42zm-15 170zm6 39zm10 16zm-13 39zm8 21zm30-314zm-13 27zm6 4zm1 1zm-2 1zm-2 9zm3 294zm37-349zm-19 8zm-5 0zm18 17zm10-53zm-3 49zm12 184zm-11 6zm46 4zm-4 13zm25-438zm-9 7zm-1 109zm8 3zm-12 13zm2 2zm15 267zm-9 1zm-2 14zm14 40zm-12 0zm10 0zm-6 3zm24-546zm2 10zm-9 34zm-3 43zm14 8zm2 9zm-6 16zm-4 7zm8 22zm-15 19zm-2 30zm7 13zm-8 5zm4 6zm-4 259zm13 19zm-4 43zm-9 4zm45-481zm-13 8zm6 4zm7 12zm2 14zm-15 26zm-7 24zm43-67zm-16 0zm6 21zm11 25zm-4 11zm-8 10zm0 2zm8 2zm19-61zm1 29zm12 10zm-5 11z" stroke="#6abc60"/><path d="M0 0m67 309zm32-171zm-4 0zm-7 161zm16-174zm-1 23zm11 2zm1 183zm25-229zm-13 217zm41-221zm-3 3zm6 48zm19 92zm25 48zm38 25zm104 54zm-4 150zm43 75zm19 14zm13-4zm26 32zm45-300zm38 241zm29-499zm30 64zm-13 363zm25-339zm9 45z" stroke="#6eae61"/><path d="M0 0m79 138zm21 187zm31-239zm2 7zm50 121zm-7 88zm66 7zm18 2zm16 264zm88-226zm-10 22zm28 114zm86-123zm-17 1zm70-86zm32 233zm2 12zm40-411zm-2 86zm42-56zm29-25zm-4 47z" stroke="#779464"/><path d="M0 0m65 310zm67 35zm89-40zm5 14zm39-10zm4 11zm-9 249zm37-29zm29 20zm100-170zm54-68zm85 217zm64-358zm22-80zm11 27z" stroke="#7b7f61"/><path d="M0 0m87 293zm69-211zm15 18zm-8 108zm81 79zm14 280zm55 11zm1 39zm27-277zm-16 237zm36-220zm-9 31zm127-33zm39 171zm64-393zm0 420zm21-362z" stroke="#817269"/><path d="M0 0m59 330zm52 15zm29-142zm135 110zm7 241zm28-203zm105 249zm104-78zm43-419zm12 118zm-13 7zm20-151zm-1 22zm46 51zm27 3z" stroke="#836370"/><path d="M0 0m120 118zm144 209zm53 81zm-2 177zm109 33zm4-77zm69-9zm74-383zm5 44zm17 42zm-12 295zm19-411zm4 113zm36-116z" stroke="#835477"/><path d="M0 0m73 181zm24-64zm-10 192zm30-157zm7 45zm-5 127zm9-217zm47 4zm47 176zm22 20zm36 255zm42-231zm-9 87zm2 177zm37-272zm9 45zm2 137zm59 31zm-3 56zm10 43zm60-311zm-13 33zm35 177zm45-303zm33-155zm6 76zm-19 0zm6 49zm24 0zm8 5zm-10 23zm24-69zm33-54zm4 30z" stroke="#81407f"/><path d="M0 0m49 332zm25-19zm14-9zm-4 3zm11 2zm3 10zm11-216zm1 70zm-7 15zm19 157zm17-198zm25-70zm5 5zm-3 32zm-1 9zm8 11zm-1 26zm4 56zm13 8zm-14 93zm49-38zm-11 2zm22 16zm4 15zm-13 7zm15 5zm-2 1zm13-45zm-1 34zm4 244zm10 3zm-4 23zm8 3zm28-272zm-9 25zm5 247zm-12 4zm7 10zm24-265zm-4 232zm-8 9zm37-253zm10 47zm-13 21zm-5 7zm-1 208zm30-235zm26-6zm-6 125zm22-41zm20 130zm-17 16zm34-202zm-8 136zm0 121zm28-27zm28-270zm-9 155zm44 39zm17-292zm32-175zm3 40zm-15 33zm12 33zm0 347zm-12 50zm34-432zm-5 2zm3 73zm-4 8zm14 3zm-7 278zm22-465zm-13 10zm12 17zm-10 97zm27 12zm1 16zm23-73zm6 10zm1 1zm17-10z" stroke="#7f3086"/><path d="M0 0m137 93zm-4 101zm22-118zm4 24zm15 26zm-3 48zm-9 52zm25-136zm-4 29zm7 126zm49 34zm9 33zm26 243zm10-12zm-9 61zm27-284zm14 4zm-8 3zm4 270zm32-267zm13 14zm59 215zm22 49zm27-95zm-11 98zm58-73zm25 5zm31-414zm-15 104zm16 322zm26-490zm-6 126zm4 22zm25-149zm-4 58zm-5 87zm22-129zm-1 10zm-4 33zm11 29zm-12 55zm6 322zm24-400z" stroke="#7e228c"/><path d="M0 0m38 159zm40 148zm8 3zm62-218zm-19 21zm4 10zm11 22zm-3 194zm30-203zm3 27zm-14 44zm-2 0zm3 94zm24-62zm23 49zm56 300zm49-277zm-6 17zm2 2zm-3 4zm2 78zm-7 6zm22 123zm-19 37zm31-181zm-3 165zm5 27zm29-203zm-12 135zm45-40zm-18 10zm31-52zm-5 17zm1 124zm-8 45zm31-234zm2 143zm-2 87zm42-99zm45 7zm-12 1zm21 7zm2 21zm41-475zm-5 73zm0 350zm-3 42zm-4 31zm29-531zm9 69zm-15 42zm12 23zm52-35zm-12 9zm15 39z" stroke="#6db949"/><path d="M0 0m56 315zm23-180zm19 20zm-13 5zm-3 6zm10 4zm5 3zm-1 2zm-20 2zm9 147zm8 24zm11-237zm10 25zm10 3zm-15 164zm11 14zm15-233zm-7 14zm11 4zm-8 7zm10 32zm-8 18zm15 14zm-14 0zm5 5zm-11 2zm3 6zm-1 115zm7 8zm-7 11zm18 15zm-7 16zm25-268zm6 23zm-9 13zm1 15zm10 14zm-24 52zm5 119zm29-233zm39 220zm12-24zm36 32zm2 11zm-11 2zm-6 226zm7 12zm23-261zm10 45zm3 219zm-2 7zm-16 19zm14 14zm14-293zm-7 10zm11 88zm8 5zm-5 141zm-12 37zm32-275zm8 10zm-6 8zm9 2zm-16 23zm-4 54zm11 123zm2 7zm4 3zm23-171zm6 104zm-22 20zm27-129zm-3 11zm3 6zm18 54zm-10 18zm9 18zm6-89zm2 1zm5 11zm-8 10zm11 51zm4 70zm1 17zm8 42zm-23 29zm14 7zm15-100zm-1 33zm26-215zm11 22zm-15 4zm5 245zm34-302zm5 14zm-20 29zm25-37zm16 197zm8 15zm-23 3zm34-273zm12 251zm-5 4zm-9 2zm16 14zm-6 12zm-3 3zm2 11zm12-425zm7 84zm4 6zm-12 19zm-1 259zm16 0zm-12 54zm-6 8zm22 7zm21-542zm-11 51zm7 7zm-13 14zm4 9zm5 45zm-2 12zm7 16zm-3 13zm-12 0zm18 32zm-2 283zm-4 31zm12 3zm21-483zm-11 13zm12 20zm0 23zm-21 12zm13 1zm3 1zm-12 1zm2 4zm-6 1zm9 43zm12 6zm-10 8zm4 2zm0 22zm-14 301zm31-420zm5 4zm10 19zm2 2zm-8 1zm6 18zm-9 14zm-13 36zm47-34zm-9 4z" stroke="#6bbb54"/><path d="M0 0m42 165zm4 2zm9-10zm7 149zm5 14zm7 24zm19-201zm2 36zm4 127zm16-193zm-11 3zm1 14zm17 48zm2 125zm-1 10zm-23 25zm34-238zm7 14zm2 3zm-4 21zm0 197zm-7 0zm-4 16zm38-257zm-5 47zm8 9zm-2 27zm3 124zm-19 18zm16 4zm-16 3zm25-134zm12 29zm-12 81zm43-23zm6-9zm16 18zm-12 8zm0 9zm2 9zm9 3zm33-24zm-12 20zm8 231zm-3 21zm3 0zm0 21zm13-290zm-7 10zm8 11zm2 15zm-9 209zm7 54zm6 13zm12-283zm18 32zm-6 65zm-4 121zm10 33zm-7 2zm28-246zm5 29zm-12 38zm3 1zm2 118zm9 2zm-15 7zm-2 7zm-4 15zm21 24zm-3 11zm17-239zm6 10zm-9 5zm18-1zm19 21zm-13 11zm15 44zm-7 25zm-12 15zm9 2zm9 2zm5-62zm2 63zm7 107zm-9 19zm23 8zm-18 15zm12 24zm12-275zm12 0zm-14 22zm21 104zm-22 26zm10 54zm-6 3zm0 2zm6 44zm16-283zm46-32zm-3 9zm-12 17zm21-12zm0 192zm0 0zm29-265zm-9 272zm24 20zm-3 20zm-8 6zm34-480zm-10 4zm-9 25zm3 22zm9 5zm1 37zm5 2zm-2 25zm0 3zm0 29zm-19 267zm8 30zm11 11zm-17 8zm8 1zm-4 22zm23-510zm-3 89zm-1 16zm8 0zm9 8zm-3 10zm5 15zm-1 304zm-10 9zm-7 2zm36-479zm5 34zm-16 20zm15 10zm7 1zm-9 27zm7 8zm-1 64zm-15 21zm32-162zm5 12zm7 24zm-8 27zm-10 32zm17 0zm-8 55z" stroke="#6abc60"/><path d="M0 0m62 331zm34-24zm-2 32zm13-165zm18-83zm21 87zm-13 5zm-7 137zm44-199zm-19 72zm47 115zm46 0zm27 242zm-1 8zm21-217zm-15 189zm12 21zm28-158zm3 2zm-12 154zm-6 25zm5 19zm3 0zm36-56zm12-26zm18-25zm54 94zm3 21zm68-297zm46-38zm-4 268zm32-321zm0 3zm8 283zm15 34zm10-441zm5 81zm15-87z" stroke="#6eae61"/><path d="M0 0m119 177zm-19 119zm9 30zm16-128zm34-46zm0 177zm17-122zm66 89zm45 21zm14 225zm30-14zm76-47zm40 133zm13-109zm111-358zm27-76zm-3 16zm6 53zm17 37zm14-106zm4 14zm11 9z" stroke="#779464"/><path d="M0 0m78 153zm29-6zm30-17zm37-44zm54 199zm51 16zm-3 232zm4 41zm0 6zm34-276zm-8 8zm0 231zm-4 19zm100-108zm48-94zm55 174zm67-376zm-14 383zm37-501zm-20 162zm14 340zm18-445zm-5 34zm9 19zm-9 72z" stroke="#7b7f61"/><path d="M0 0m123 320zm7-160zm20-3zm16 26zm62 93zm30 40zm50-4zm114 323zm38-132zm-3 103zm59-82zm-2 1zm28-273zm20-107zm8 28zm15-66zm19 23zm-2 390z" stroke="#817269"/><path d="M0 0m117 308zm-11 8zm43-183zm10 31zm-7 145zm114 233zm35-230zm36 58zm47 14zm42 228zm146-540zm0 4zm2 9zm-19 148zm37 297zm-5 15zm16-325zm56-58z" stroke="#836370"/><path d="M0 0m117 125zm12-15zm29 25zm-5 68zm168 211zm22-60zm4 17zm-21 229zm38-83zm58 36zm14 44zm22-253zm132-287zm30 5zm11 135zm33-88z" stroke="#835477"/><path d="M0 0m95 292zm49-121zm-13 22zm14 10zm3 104zm16 17zm53-28zm76 251zm-6 47zm-12 1zm38-278zm31 33zm-13 55zm44-49zm5 16zm23 99zm4 129zm39-8zm1 49zm37-286zm90-272zm-17 459zm31 27zm34-493zm-5 21zm25 13zm10-5z" stroke="#81407f"/><path d="M0 0m45 171zm49 126zm2 1zm-14 49zm24-220zm11 32zm1 21zm-1 147zm5 17zm18-250zm9 17zm-16 7zm7 48zm9 18zm-4 145zm27-203zm0 22zm-22 23zm21 5zm1 17zm-18 128zm23-242zm8 234zm59-5zm12-12zm3 18zm4 239zm-6 28zm54-185zm-6 21zm14 161zm20-226zm15-5zm38 47zm13 35zm8 143zm-2 12zm6 10zm8-45zm15 80zm21-16zm40-287zm0 208zm34-272zm0 260zm-2 10zm40-334zm-11 33zm8 2zm-16 8zm9 269zm-13 22zm8 20zm29-484zm-4 9zm-2 120zm5 18zm-11 41zm11 289zm-6 6zm20-511zm17 84zm-9 43zm-2 38zm0 304zm28-409zm7 29zm3 25zm4 17zm-19 8zm44-35zm-12 12zm0 8z" stroke="#7f3086"/><path d="M0 0m54 168zm11 151zm18-187zm5 29zm13-13zm16 29zm3 144zm7-219zm22 4zm-23 20zm8 201zm17-239zm16 66zm-14 8zm-3 1zm13 151zm15-238zm18 178zm-1 46zm42 13zm17 233zm-2 29zm37 31zm45-235zm2 10zm10 167zm-8 26zm30-201zm6 119zm-18 25zm65 48zm-11 67zm74-116zm74-371zm2 7zm11 96zm-10 1zm37-119zm6-57zm1 81zm19 16zm-19 45z" stroke="#7e228c"/><path d="M0 0m37 170zm33 1zm29 2zm-22 2zm64-47zm-6 78zm33 11zm13 12zm76 63zm43 28zm13 94zm2 191zm23-242zm19 2zm39 96zm-12 13zm20 164zm11 10zm15-270zm1 18zm-4 222zm45-258zm-17 0zm29-16zm1 20zm7 160zm9 13zm68-445zm-5 34zm3 5zm-9 124zm2 269zm3 7zm18-376zm16 51zm-11 2zm-1 30zm3 311zm17-440zm16 65zm1 7zm10-103zm25 74zm-7 2zm16 19z" stroke="#6db949"/><path d="M0 0m94 136zm-15 42zm13 140zm-15 19zm41-234zm6 14zm-4 27zm-5 18zm8 17zm-15 8zm11 6zm-5 143zm12-257zm23 11zm-21 19zm4 23zm-7 6zm11 22zm0 11zm-6 8zm12 6zm5 4zm-5 12zm-5 97zm23-185zm-9 2zm4 3zm-2 9zm6 7zm15 37zm-13 23zm-9 17zm28-92zm0 83zm12 27zm-14 10zm31 50zm2 1zm3 4zm4 2zm-4 19zm15-27zm29 1zm-3 3zm-5 18zm7 10zm16 2zm-2 228zm-3 13zm-13 15zm17 17zm16-290zm-6 4zm2 9zm-8 0zm1 227zm5 12zm-1 5zm18 22zm-5 37zm9-305zm12 14zm1 1zm3 30zm-1 62zm-11 126zm0 3zm3 3zm4 11zm-10 3zm18 1zm-19 23zm21 8zm-7 6zm20-280zm-9 12zm17 0zm-13 37zm10 9zm-8 6zm15 127zm-5 13zm4 45zm-1 12zm7-204zm40 11zm-7 1zm-3 5zm21 20zm6 40zm-2 12zm9 46zm0 30zm1 20zm-9 15zm5 33zm27-254zm3 18zm-19 10zm14 4zm-2 110zm-10 17zm16 49zm-3 28zm-9 12zm10 12zm-14 13zm13 30zm25-296zm-6 4zm14 134zm-23 114zm41-302zm-13 2zm13 6zm-11 5zm-5 4zm24-32zm15 219zm-14 12zm42-288zm2 273zm-7 6zm10 1zm-2 28zm-9 6zm20-455zm15 11zm-6 5zm-5 6zm6 5zm4 0zm-19 0zm17 393zm-5 18zm-6 4zm-4 16zm1 1zm-4 23zm41-539zm-12 24zm3 27zm14 12zm-16 1zm0 10zm0 18zm17 1zm-22 20zm0 35zm8 18zm3 10zm-6 10zm-6 270zm3 1zm4 41zm12 14zm12-508zm11 4zm-14 9zm14 2zm-16 30zm23 2zm-6 85zm-14 35zm7 6zm-5 300zm36-447zm7 33zm-22 7zm6 26zm-8 6zm16 7zm-16 3zm8 0zm11 2zm2 7zm-7 17zm-6 28zm32-106zm-7 7zm-1 54zm5 4zm-7 1z" stroke="#6bbb54"/><path d="M0 0m46 171zm-6 7zm14-4zm4 161zm25-213zm6 2zm9 15zm-14 9zm1 8zm11 8zm2 6zm-5 3zm2 132zm3 39zm8-247zm12 43zm-9 4zm6 10zm-2 7zm0 2zm11 1zm-8 15zm1 1zm-17 124zm39-225zm4 1zm-3 2zm2 18zm-11 2zm14 6zm-14 1zm-5 5zm7 3zm-4 28zm15 42zm-7 10zm10 100zm-13 33zm1 18zm28-235zm-11 20zm1 20zm3 25zm4 3zm11 6zm-15 8zm11 9zm0 8zm-5 2zm7 0zm-1 90zm-17 21zm27-222zm-3 202zm49-29zm-24 18zm14 2zm-2 3zm5 0zm5 18zm25-45zm-11 8zm8 13zm24 15zm-8 11zm0 233zm-8 19zm21 26zm19-279zm7 85zm0 5zm0 175zm-6 6zm-7 1zm18-281zm0 21zm16 4zm-5 71zm-8 7zm14 5zm-21 8zm13 139zm15-240zm2 53zm16 6zm-15 28zm12 102zm-7 11zm-7 14zm0 11zm4 11zm2 21zm-5 27zm30-259zm14 19zm-3 19zm-10 107zm-3 22zm-2 11zm-5 2zm34-152zm10 3zm3 10zm-10 13zm9 4zm2 4zm-20 65zm4 10zm27-86zm-10 46zm4 5zm19 126zm-18 45zm-2 47zm37-302zm-10 22zm3 190zm-6 19zm8 11zm-9 2zm6 34zm15 10zm4-153zm32-182zm-5 201zm33 1zm-8 9zm19 14zm27-27zm-7 2zm-9 11zm-2 25zm33-468zm2 19zm3 12zm-4 2zm-7 4zm13 5zm-17 16zm20 3zm-14 347zm13 18zm-21 8zm1 19zm18 19zm-8 21zm19-516zm9 15zm4 10zm-7 85zm-11 19zm12 361zm3 7zm21-390zm2 35zm-2 1zm4 8zm6 1zm-20 301zm43-375zm-8 24zm7 14zm-7 27zm19-96zm3 54zm-2 16z" stroke="#6abc60"/><path d="M0 0m44 150zm18 163zm31-191zm42-39zm6 52zm-1 24zm16-55zm14 131zm31 12zm58 314zm6 16zm30-35zm15-227zm12 111zm10-90zm-3 0zm1 14zm35 6zm52 277zm52-288zm22 10zm23 168zm24 25zm30-335zm-14 27zm3 297zm28-327zm-5 309zm24-456zm5 34zm2 17zm2 7zm16-53zm18 38zm-13 28zm1 46zm31-60zm-1 28z" stroke="#6eae61"/><path d="M0 0m48 173zm14 145zm44 3zm35-229zm-6 86zm9 137zm13-181zm9 57zm94 389zm21 1zm32-250zm1 79zm-6 175zm10 29zm99-221zm6 133zm-5 117zm40-26zm145-76z" stroke="#779464"/><path d="M0 0m71 315zm50-153zm46-65zm1 45zm71 142zm118 92zm19-3zm120 153zm10 9zm52-289zm26-71zm-9 331zm40-449z" stroke="#7b7f61"/><path d="M0 0m117 298zm74-214zm-2 226zm37 3zm49 10zm15 274zm24-283zm7 6zm39 179zm46 106zm120-44zm16 16zm57-53zm-22 7zm28 7zm39-437z" stroke="#817269"/><path d="M0 0m69 337zm27-31zm46-203zm71 191zm49 281zm75 9zm81 2zm81-263zm84-156zm10 341zm31-318zm-22 22zm44-22z" stroke="#836370"/><path d="M0 0m63 319zm52 13zm20-163zm180 227zm119 253zm59-318zm10-29zm84-121zm5 53zm37-173zm47 85z" stroke="#835477"/><path d="M0 0m93 123zm-10 187zm23-122zm13 146zm-7 14zm21-243zm-7 9zm139 463zm30-26zm-19 44zm97-220zm11 18zm37 180zm13-2zm6 76zm53-329zm74 227zm32-507zm-11 143zm6 47zm0 305zm16-420zm18-39zm38 95z" stroke="#81407f"/><path d="M0 0m73 153zm0 191zm14-43zm35-164zm-15 10zm-4 29zm-1 152zm4 15zm4 4zm26-267zm6 1zm5 0zm-20 26zm16 51zm2 5zm-17 9zm33-72zm-10 59zm12 2zm10 7zm8-72zm5 4zm-10 89zm87 123zm15 24zm-3 222zm8 24zm40-236zm-19 229zm2 35zm26-271zm17 5zm6-11zm9 32zm-13 15zm33 7zm9 57zm3 36zm-12 7zm16-78zm1 64zm9 93zm34-194zm0 8zm-4 3zm-10 4zm-3 2zm1 136zm6 3zm-3 57zm10 25zm-9 20zm25-281zm-2 1zm19 15zm8-22zm20-23zm2 207zm60-442zm5 26zm4 66zm-21 73zm41-179zm-1 32zm-17 23zm24 50zm-3 16zm-2 0zm0 3zm-8 321zm29-410zm9 86zm-24 34zm26-166zm16 30zm-12 111zm-2 356zm27-454zm12 61z" stroke="#7f3086"/><path d="M0 0m80 144zm13 20zm-13 174zm41-143zm-15 149zm27-152zm38-82zm-4 12zm-3 102zm53 70zm43 289zm29-284zm31 11zm-19 7zm14 100zm-6 131zm12 57zm116-110zm-5 160zm66-135zm40 46zm16-453zm14 54zm21-73zm-14 34zm5 24zm11 39zm-12 10zm22-128zm5 127zm34-131zm-10 16zm4 44zm10 47zm20-29zm-2 5z" stroke="#7e228c"/></g><g font-size="4.50" stroke="#000" stroke-width="0.14"><text x="280.40" y="586.00" text-anchor="middle">−1.0</text><text x="256.90" y="570.77" text-anchor="end">−1.0</text><text x="308.25" y="586.00" text-anchor="middle">−0.5</text><text x="256.90" y="540.22" text-anchor="end">−0.5</text><text x="336.10" y="586.00" text-anchor="middle">0.0</text><text x="256.90" y="509.67" text-anchor="end">0.0</text><text x="363.95" y="586.00" text-anchor="middle">0.5</text><text x="256.90" y="479.12" text-anchor="end">0.5</text><text x="391.80" y="586.00" text-anchor="middle">1.0</text><text x="256.90" y="448.57" text-anchor="end">1.0</text></g><text x="330.15" y="591.40" text-anchor="middle" font-size="5.05">Dimension 1</text><text transform="translate(246.00 509.60) rotate(-90)" text-anchor="middle" font-size="5.05">Dimension 2</text><text x="258.50" y="434.10" font-size="7.38">AST/ALT Ratio</text><rect x="407.00" y="472.80" width="15.50" height="83.90" fill="url(#cg)"/><path d="M407.00 494.00h3.10M422.50 494.00h-3.10M407.00 514.80h3.10M422.50 514.80h-3.10M407.00 535.60h3.10M422.50 535.60h-3.10" stroke="#fff" stroke-width="0.75" fill="none"/><g font-size="6.50"><text x="426.40" y="496.34">1.25</text><text x="426.40" y="517.14">1.00</text><text x="426.40" y="537.94">0.75</text></g><text x="407.00" y="467.10" font-size="7.30">AST/ALT</text></g>
<g><path d="M500.45 438.60V580.60M530.35 438.60V580.60M492.50 553.88H645.40M560.25 438.60V580.60M492.50 523.33H645.40M590.15 438.60V580.60M492.50 492.78H645.40M620.05 438.60V580.60M492.50 462.23H645.40" stroke="#e3e3e3" stroke-width="0.95" fill="none"/><path d="M515.40 438.60V580.60M492.50 569.15H645.40M545.30 438.60V580.60M492.50 538.60H645.40M575.20 438.60V580.60M492.50 508.05H645.40M605.10 438.60V580.60M492.50 477.50H645.40M635.00 438.60V580.60M492.50 446.95H645.40" stroke="#e3e3e3" stroke-width="1.25" fill="none"/><g transform="translate(492 439) scale(0.2)" fill="none" stroke-linecap="round" stroke-width="16.0"><path d="M0 0m673 75zm2 80z" stroke="#b9b9bd"/><path d="M0 0m68 144zm-16 20zm15 4zm1 159zm0 22zm16-32zm34-195zm-10 20zm5 163zm1 11zm28-211zm4 80zm-19 108zm1 44zm35-244zm-1 230zm-6 25zm29-269zm-8 25zm6 7zm6 48zm-12 151zm50-2zm58 266zm18-251zm13 16zm5 229zm-3 20zm1 5zm-10 2zm26-243zm2 60zm-8 170zm2 4zm34-256zm3 0zm6 2zm-11 208zm11 3zm-3 19zm-18 16zm28-237zm14 32zm17-7zm-7 26zm28 18zm6 11zm13 146zm16 4zm-9 3zm5 26zm-1 48zm19-289zm11 2zm-6 14zm30-52zm-4 2zm-3 9zm2 16zm81 173zm52-480zm-13 34zm7 59zm-8 79zm3 28zm26-159zm-8 20zm22 50zm-11 36zm6 17zm12-96zm4 64zm14 1zm-13 27zm6 10zm26-53z" stroke="#6db949"/><path d="M0 0m48 171zm20-17zm0 2zm-9 1zm9 2zm-4 0zm-11 12zm1 174zm33-214zm9 0zm-17 27zm1 149zm-5 2zm11 1zm10 16zm-19 18zm7 2zm34-245zm-14 49zm-1 3zm18 27zm-5 147zm6 1zm8-241zm7 16zm11 65zm-6 27zm4 143zm-14 7zm42-265zm-13 10zm4 0zm7 4zm-10 1zm-7 2zm8 5zm-10 11zm10 22zm4 9zm1 15zm-11 2zm-1 4zm-4 11zm2 148zm27-243zm-6 3zm24 20zm-14 3zm-5 40zm9 1zm-14 64zm14 3zm2 18zm3 5zm4 66zm1 0zm-20 9zm20 9zm-20 0zm4 4zm17-238zm11 205zm11 2zm22-10zm1 8zm-19 0zm22 6zm-4 12zm0 2zm9-32zm8 29zm5 2zm-1 8zm27 2zm1 221zm2 2zm-15 8zm19 3zm-23 9zm24-231zm7 1zm15 0zm-5 84zm-2 115zm-12 19zm31-213zm6 54zm4 7zm2 12zm-14 150zm-4 15zm3 5zm13 3zm-14 26zm33-290zm10 20zm-11 20zm4 161zm7 14zm-19 14zm-4 18zm9 3zm13 6zm-9 4zm-13 21zm9 1zm-9 2zm3 1zm3 2zm40-244zm-5 13zm-7 143zm22-166zm16 33zm-8 0zm-10 101zm28-49zm-5 31zm22 93zm-13 12zm6 19zm5 14zm-11 3zm10 36zm5-91zm4 10zm3 12zm15 11zm-15 11zm13 13zm1 5zm1 4zm-22 12zm4 12zm-3 3zm38-290zm-8 144zm8 95zm4 10zm-12 6zm33-297zm-9 10zm9 28zm-3 7zm2 146zm26-208zm4 10zm-16 1zm16 3zm-18 10zm2 6zm4 178zm-5 18zm45 26zm9-300zm6 9zm11 275zm-13 4zm11 20zm3 18zm17-491zm-8 44zm-7 9zm13 9zm-2 4zm-3 9zm15 0zm-6 67zm5 272zm17-471zm-11 22zm4 10zm15 4zm-5 4zm-3 17zm-10 20zm-5 3zm4 39zm11 15zm2 9zm-11 6zm7 17zm-11 47zm0 6zm0 272zm5 10zm23-480zm16 4zm-18 4zm16 17zm-8 56zm11 3zm-5 7zm-16 2zm14 8zm-4 12zm-8 19zm19 1zm-22 1zm10 2zm6 1zm-10 5zm-4 31zm32-158zm-7 19zm22 62zm-4 12zm-19 49zm5 1zm4 4zm18-87zm3 47zm-5 7zm4 8z" stroke="#6bbb54"/><path d="M0 0m50 171zm12 2zm-1 135zm9 41zm6-48zm13 6zm5 25zm10-211zm-1 8zm-3 2zm7 10zm2 15zm-6 3zm19 24zm-13 109zm10 5zm-15 20zm0 7zm10 19zm-3 1zm5 0zm5 0zm-6 3zm3 2zm28-269zm-16 25zm17 4zm-8 9zm1 0zm1 38zm-3 6zm-13 3zm17 23zm-16 114zm22 1zm-19 6zm-1 1zm-3 5zm32-232zm-5 20zm18 21zm-19 1zm23 0zm-12 7zm-5 29zm5 9zm4 5zm-2 31zm-11 95zm19 27zm16-252zm3 7zm-4 16zm10 9zm-10 7zm-2 52zm-9 6zm15 16zm-12 116zm25-224zm-1 14zm4 138zm10 69zm-12 1zm11 4zm-9 11zm19-17zm27-6zm14 8zm-12 1zm3 17zm15 254zm14-292zm-6 4zm4 265zm-4 8zm-1 1zm12 4zm-8 12zm31-249zm9 102zm-11 113zm6 29zm-1 12zm21-273zm5 13zm-4 1zm-5 13zm10 2zm0 16zm3 15zm-15 29zm14 4zm-3 3zm-4 7zm-6 11zm-5 137zm18 7zm-5 4zm-2 36zm-4 5zm17-294zm3 14zm13 2zm3 23zm0 156zm-7 11zm8 5zm-15 21zm-4 14zm3 0zm16 12zm-2 15zm8-264zm2 9zm9 28zm-9 4zm18 2zm-14 9zm-9 5zm19 2zm-3 5zm-13 120zm-1 18zm35-157zm-8 0zm12 11zm3 16zm1 52zm-1 20zm7-83zm20 9zm-10 9zm-9 5zm6 8zm-9 10zm13 36zm-11 16zm5 111zm6 2zm1 7zm-8 16zm17 14zm-8 5zm20-246zm-2 3zm7 5zm4 94zm-10 62zm-1 7zm3 50zm3 0zm-6 21zm-1 44zm42-328zm-10 1zm5 2zm-14 15zm17 4zm-4 3zm-9 126zm-4 0zm-5 86zm0 5zm1 10zm36-267zm2 6zm5 1zm3 1zm-5 7zm0 3zm4 6zm1 149zm12-189zm1 209zm24-2zm6 15zm33-419zm0 13zm-9 399zm9 2zm-19 14zm2 21zm26-480zm3 11zm14 5zm-23 8zm12 5zm6 6zm-18 14zm4 6zm4 17zm10 3zm-2 33zm0 49zm-7 260zm8 16zm-6 21zm10 10zm23-500zm4 10zm-24 23zm13 29zm-4 5zm4 34zm4 19zm-1 7zm-16 3zm10 1zm0 16zm-4 5zm14 7zm-8 15zm-5 301zm1 5zm19-493zm4 31zm8 7zm-7 2zm9 3zm-15 20zm22 18zm-13 39zm2 23zm14-115zm2 23zm0 82zm11 28zm13-55zm3 35z" stroke="#6abc60"/><path d="M0 0m143 90zm28 108zm11-5zm1 29zm37 59zm102 31zm-10 11zm9 99zm-19 179zm53-272zm63 146zm15-75zm29 184zm31-207zm101-122zm-14 323zm22-431zm35-6zm24-71zm4 14zm-1 76zm37-37z" stroke="#6eae61"/><path d="M0 0m157 149zm11 5zm329 460zm141-418zm2 313zm74-340z" stroke="#779464"/><path d="M0 0m71 142zm256 174zm113 306zm6 27zm17-110zm130 35zm7-316zm51-164zm37 125zm34-47z" stroke="#7b7f61"/><path d="M0 0m106 134zm62-1zm184 202zm-1 19zm271-281zm12-13zm17 78zm5 5z" stroke="#817269"/><path d="M0 0m389 391zm12-1zm168 164zm41-417zm32 101zm-13 330zm61-465z" stroke="#836370"/><path d="M0 0m97 136zm-2 22zm8 17zm362 423zm4 15zm-4 19zm143-100zm35-441zm-13 13zm22 128zm49-78z" stroke="#835477"/><path d="M0 0m89 325zm35-187zm14 214zm27-162zm45 51zm145 131zm70 92zm22 186zm43-9zm-11 8zm90-122zm51-323zm-13 365zm42-357zm45-41z" stroke="#81407f"/><path d="M0 0m57 167zm50-59zm6 3zm-8 60zm27 0zm-2 5zm31 26zm4 9zm175 354zm13-249zm82 79zm9 7zm-9 188zm-3 27zm20-35zm7 22zm34 25zm24-110zm7 4zm36 4zm59-17zm46-313zm43-84zm-3 23zm12 24z" stroke="#7f3086"/><path d="M0 0m166 161zm28 60zm16 7zm81 368zm23-296zm10 291zm25-4zm97 29zm10-40zm30 64zm88-378zm-11 272zm53-23zm14-3zm45-364zm41-18zm-7 26z" stroke="#7e228c"/><path d="M0 0m699 143zm7-6z" stroke="#b9b9bd"/><path d="M0 0m72 178zm2 146zm17-189zm28-9zm3 16zm-11 8zm-3 183zm31-222zm8 61zm15-51zm-5 211zm19-143zm11 116zm17-99zm57 78zm-5 2zm12 16zm-1 10zm8-7zm16 287zm10-297zm19 325zm29-222zm-23 16zm16 126zm-17 4zm16 51zm-11 9zm42-243zm24-10zm-17 31zm21-19zm27 42zm9 30zm7 23zm-8 25zm0 88zm9 10zm4 42zm-9 10zm5 1zm21-246zm2 179zm-8 57zm15 18zm25-291zm-5 255zm-11 17zm25-281zm13 169zm72-263zm-10 300zm10 3zm9-326zm17 20zm-4 273zm4 5zm-5 35zm19-512zm4 1zm-9 16zm16 41zm-16 13zm5 55zm5 55zm5 4zm12-183zm19 21zm-10 46zm-14 14zm18 43zm2 1zm3 36zm-5 4zm-18 8zm39-49zm8 7zm-21 23zm27-45z" stroke="#6db949"/><path d="M0 0m56 169zm13 134zm2 7zm-9 10zm29-27zm0 13zm-9 18zm33-226zm4 14zm-19 25zm12 21zm-9 11zm7 123zm0 7zm-8 4zm6 14zm16 21zm19-259zm-5 26zm-12 3zm6 11zm17 13zm-3 11zm-8 24zm-8 10zm19 4zm-20 13zm16 5zm-17 122zm40-249zm-7 41zm-11 38zm4 7zm9 25zm-4 5zm4 115zm0 5zm2 13zm4 5zm-15 10zm43-255zm1 3zm-5 5zm-8 15zm-4 20zm-2 36zm13 6zm-14 17zm2 5zm-5 10zm23 15zm-20 4zm17 13zm-1 77zm7-215zm9 149zm33 45zm-15 8zm0 0zm12 4zm9 5zm-7 0zm-12 8zm27-37zm-2 5zm-3 15zm13 8zm-9 7zm24-8zm1 23zm5 221zm4 5zm20-239zm-4 7zm-3 0zm21 5zm-17 1zm16 6zm-2 18zm-3 251zm22-277zm-1 3zm1 13zm0 63zm5 14zm-9 127zm4 1zm7 1zm-15 4zm3 1zm12 25zm-12 12zm-5 4zm9 9zm8 11zm-17 2zm21-291zm3 5zm6 9zm7 38zm-5 0zm4 1zm4 10zm-8 5zm-7 5zm3 10zm6 118zm-7 4zm10 5zm-6 2zm-7 20zm9 46zm27-258zm-4 25zm-6 7zm3 3zm2 12zm7 5zm-15 187zm31-217zm15 16zm-16 115zm27-63zm5 3zm-11 7zm8 18zm4 18zm1 2zm-7 6zm12 92zm-14 17zm11 9zm22-210zm-9 0zm1 138zm0 5zm15 52zm-4 26zm-6 2zm-3 20zm39-278zm-8 8zm-12 7zm1 11zm12 117zm-6 3zm-2 108zm5 4zm-1 3zm9 16zm-17 10zm26-139zm12 2zm20-198zm9 16zm-3 1zm-5 1zm-4 7zm8 188zm1 9zm3 0zm13-2zm-5 5zm20 11zm13-286zm1 6zm-9 276zm11 17zm-13 4zm21 15zm14-473zm5 4zm-10 110zm10 5zm2 11zm-15 295zm0 8zm20 2zm-5 2zm-18 0zm21 6zm-2 58zm17-564zm2 8zm-3 36zm0 15zm-6 25zm10 9zm9 0zm-15 1zm13 15zm-7 20zm-12 3zm14 23zm-8 38zm-9 275zm23 19zm-4 19zm13-501zm13 4zm-13 9zm-5 2zm18 5zm-6 1zm9 14zm-14 12zm-7 11zm-1 5zm14 0zm-12 0zm18 6zm-3 6zm-1 14zm-15 22zm-1 9zm3 0zm20 20zm-21 1zm35-87zm1 9zm1 37zm4 12zm-5 1zm-12 15zm14 12zm22-72zm3 10z" stroke="#6bbb54"/><path d="M0 0m36 170zm35-26zm1 0zm-12 35zm2 148zm20-196zm5 2zm10 2zm-14 19zm-5 12zm38-67zm-13 42zm12 28zm6 20zm-4 104zm4 18zm-3 21zm6 7zm23-244zm-13 12zm9 13zm-2 28zm1 40zm-4 122zm-12 17zm14 6zm1 14zm-2 8zm13-238zm12 9zm-11 1zm8 0zm-3 34zm11 23zm-7 16zm21-149zm-6 30zm0 22zm2 20zm4 9zm-1 13zm4 7zm-10 20zm4 13zm2 21zm4 3zm6 113zm10-234zm10 146zm5 61zm-11 17zm52-15zm-2 3zm7 21zm32 216zm-1 4zm-9 25zm-5 2zm13 20zm1 2zm28-282zm-5 14zm-2 9zm-14 2zm13 7zm5 73zm-15 114zm12 6zm6 4zm-19 3zm10 1zm-10 9zm16 14zm-14 10zm8 3zm4 6zm-15 12zm19 5zm27-288zm-22 8zm20 13zm-8 86zm1 4zm-6 125zm12 1zm-10 9zm1 16zm10 30zm24-238zm-14 40zm-1 129zm-5 11zm16 0zm-6 26zm22-243zm13 21zm-9 0zm-1 11zm7 30zm7 6zm-9 99zm10-141zm1 8zm4 4zm15 3zm-14 3zm17 76zm-3 10zm1 5zm-9 2zm12 0zm2-70zm0 27zm3 26zm14 18zm-15 9zm4 2zm10 88zm6 2zm24-192zm-13 197zm11 7zm-5 8zm-15 26zm17 8zm6 13zm22-288zm-5 6zm6 5zm-1 1zm-14 7zm-6 7zm14 6zm-14 214zm14 9zm2 14zm33-290zm-23 11zm13 23zm-9 1zm4 6zm0 1zm-2 2zm28 144zm6 12zm57-371zm0 360zm0 61zm-23 1zm46-501zm0 0zm1 13zm-9 21zm0 42zm-3 74zm-7 19zm19 260zm-12 31zm-9 4zm11 21zm37-484zm-13 7zm13 4zm-8 20zm-16 5zm17 11zm2 20zm-10 24zm3 7zm-12 20zm7 15zm13 0zm-4 30zm-6 275zm-10 35zm31-494zm17 38zm-2 27zm-9 24zm-2 25zm11 14zm-19 26zm34-100zm2 11zm-9 13zm2 4zm17 19zm-1 9zm2 21zm-4 10zm29-46zm-8 5zm3 2zm-10 9zm9 1z" stroke="#6abc60"/><path d="M0 0m81 316zm40-189zm19-3zm8 19zm-1 49zm35-19zm-6 137zm8 4zm35-2zm78 257zm81-48zm61-73zm-14 13zm71 46zm-12 102zm112-361zm-15 16zm6 288zm26 32zm28-521zm-15 512zm29-444zm0 8zm17 85zm27-119zm-2 23zm9 39z" stroke="#6eae61"/><path d="M0 0m225 278zm130 34zm71 110zm21 145zm106-29zm93-364zm0 376zm21-462zm17 68zm39 10z" stroke="#779464"/><path d="M0 0m129 101zm26 9zm304 484zm140-92zm-10 13zm57-479zm-4 40zm-8 13zm5 27zm25-6zm-9 111zm42-47z" stroke="#7b7f61"/><path d="M0 0m365 542zm77 92zm21-33zm47-84zm26-1zm52 54zm29-449zm-3 132zm32 254zm21-430zm18 91zm23-57z" stroke="#817269"/><path d="M0 0m465 639zm100-104zm35-24zm23 26zm21-439zm-9 121zm27-127zm24-5zm5 73zm31 23zm6-82z" stroke="#836370"/><path d="M0 0m99 130zm-20 12zm178 132zm117 113zm233-233zm9 369zm16-490zm28 97zm-9 84z" stroke="#835477"/><path d="M0 0m64 171zm31-32zm-6 29zm7 168zm14-201zm190 449zm139 49zm12-44zm172-44z" stroke="#81407f"/><path d="M0 0m54 164zm6 6zm19 174zm52-200zm10 43zm-9 2zm-4 151zm41-204zm36 80zm1 29zm50 29zm47 31zm22 5zm16 237zm19-225zm7 46zm-11 200zm38-190zm2 1zm40 213zm33 18zm-9 44zm26-153zm-2 112zm5 26zm80-79zm10 2zm44-392zm-1 352zm23-425zm-4 418zm-9 16zm19-14zm0 13zm0 4z" stroke="#7f3086"/><path d="M0 0m54 149zm26-10zm21 18zm69-35zm13 98zm161 334zm21-169zm14-27zm48 30zm30 140zm-7 104zm81-117zm58 35zm-12 16zm123-442z" stroke="#7e228c"/><path d="M0 0m674 123zm14-9zm-11 1zm13 1zm20 9zm3 3zm-8 1zm18 16z" stroke="#b9b9bd"/><path d="M0 0m71 310zm27-194zm-20 221zm34-211zm0 22zm-4 171zm5 15zm32-140zm-1 151zm42-245zm-5 14zm13 2zm-5 10zm-2 34zm3 157zm13-227zm42 229zm0 0zm6-37zm15 9zm-12 6zm2 24zm40-4zm-5 3zm24 229zm14-205zm16 75zm16-104zm10 15zm-11 62zm-8 168zm3 47zm34-250zm-12 10zm8 3zm14 112zm-18 38zm21-126zm6 94zm51-98zm3 147zm6 39zm-11 75zm27-295zm-1 10zm30-9zm14-33zm12 22zm33 174zm-1 5zm27-3zm15-441zm-1 34zm5 125zm-8 278zm9 53zm23-419zm-3 45zm-2 319zm-9 52zm28-466zm16 8zm-1 2zm-16 46zm0 9zm26-87zm2 102zm30-76zm-7 24z" stroke="#6db949"/><path d="M0 0m43 173zm23-32zm-12 13zm42 139zm1 6zm-2 10zm24-206zm-10 35zm-7 0zm4 5zm3 29zm3 16zm-2 116zm8 10zm25-228zm0 38zm-15 28zm11 15zm-4 30zm6 2zm-14 123zm12 5zm8 3zm-22 3zm25-240zm23 7zm-20 4zm11 35zm-2 15zm-12 22zm3 28zm7 93zm7 15zm2 5zm8-237zm7 2zm-9 5zm6 5zm-2 11zm0 1zm1 12zm19 3zm-11 15zm-2 26zm-6 1zm4 35zm14 5zm-1 21zm-9 10zm3 70zm10-210zm7 9zm-2 144zm0 7zm27 39zm6 14zm19-29zm1 15zm5 16zm-2 2zm-4 3zm16 4zm-13 8zm36-11zm-5 243zm-16 2zm17 23zm14-278zm14 12zm-9 25zm9 200zm-16 14zm10 3zm1 30zm-12 4zm3 6zm17 12zm4-294zm4 1zm-6 4zm7 7zm15 4zm-16 1zm5 4zm-2 13zm0 2zm14 9zm-4 30zm-2 18zm-17 125zm6 5zm13 4zm-10 6zm7 21zm-2 26zm-1 22zm12-304zm11 38zm6 9zm-10 167zm5 3zm-13 7zm6 32zm24-246zm5 21zm11 12zm-21 15zm6 17zm10 117zm-14 7zm-2 47zm39-193zm0 105zm0 1zm5 2zm-3 1zm-7 14zm19-79zm4 40zm9 2zm-2 22zm-2 6zm11 69zm0 10zm-11 55zm19-226zm-3 1zm9 141zm0 11zm-1 5zm-4 56zm1 16zm7 13zm12-306zm22 26zm-15 34zm5 226zm28-289zm0 11zm-5 0zm12 5zm-19 0zm-2 14zm13 3zm-6 11zm33-69zm-5 40zm0 1zm-6 12zm7 168zm-14 11zm35-7zm35-289zm4 291zm-14 29zm-7 25zm15 2zm16-501zm7 42zm4 4zm-8 4zm-12 25zm14 48zm4 9zm1 10zm2 23zm-8 311zm-3 19zm11 1zm22-514zm-2 4zm-16 34zm0 16zm11 15zm-7 2zm6 16zm-3 7zm11 10zm-10 5zm7 7zm-11 22zm10 14zm-6 3zm12 22zm-16 268zm9 10zm-4 12zm29-467zm2 3zm4 30zm-7 28zm8 11zm-16 11zm6 1zm-8 40zm15 11zm-11 13zm-5 20zm33-100zm8 5zm-17 16zm1 10zm2 27zm-1 10zm35-43zm7 21zm11-44z" stroke="#6bbb54"/><path d="M0 0m45 160zm-2 4zm8-5zm16 156zm-1 15zm26-174zm3 142zm-2 9zm-12 6zm7 6zm3 19zm18-208zm13 11zm-17 19zm6 9zm10 4zm-10 130zm-7 6zm9 1zm1 24zm7 11zm24-252zm-9 3zm7 7zm4 1zm-7 3zm1 1zm-11 10zm-5 32zm17 151zm-6 9zm12 4zm-9 7zm-9 3zm9 22zm-11 3zm41-273zm1 6zm1 10zm-21 7zm1 48zm7 32zm-6 3zm3 122zm-5 5zm7 3zm9 17zm12-252zm4 23zm2 3zm6 8zm-10 12zm-4 10zm9 18zm-8 57zm19 9zm-20 9zm28-141zm2 158zm-2 64zm26-26zm28-2zm-7 0zm14 1zm-1 7zm9 11zm-4 14zm2 2zm8-19zm8 14zm-6 2zm1 12zm4 4zm0 234zm-5 8zm18 0zm0 6zm-16 9zm8 3zm7 17zm-17 4zm25-308zm11 11zm-10 232zm-4 19zm21 15zm-7 8zm4 16zm-12 0zm18-257zm19 79zm-4 143zm-10 2zm6 10zm3 3zm7 8zm-23 1zm12 7zm-4 17zm31-290zm2 40zm27-15zm-15 21zm20 116zm1 5zm-18 5zm14 1zm7-137zm5 0zm15 30zm2 87zm-5 3zm-7 5zm-4 6zm21-103zm3 65zm-2 33zm-3 109zm20 14zm12-222zm9 3zm-6 215zm-11 13zm15 33zm29-290zm-9 2zm5 2zm-13 2zm20 2zm1 1zm-2 1zm-12 4zm-2 2zm12 3zm-16 212zm14 32zm5 50zm18-345zm7 25zm-6 1zm-12 7zm8 147zm-11 4zm34-210zm2 22zm24-48zm-4 249zm-6 4zm0 8zm14 0zm-6 10zm39-317zm-2 16zm-9 11zm8 252zm-3 17zm-15 25zm25-430zm12 27zm5 3zm-8 35zm12 9zm-2 30zm-7 290zm-12 15zm13 40zm-16 13zm38-546zm9 23zm-12 15zm-9 1zm15 34zm-1 12zm2 9zm7 43zm-22 26zm7 26zm-5 12zm-4 11zm45-198zm-9 54zm8 12zm-10 10zm12 4zm-18 69zm8 5zm13 1zm-10 5zm14-122zm4 11zm16 22zm-15 13zm1 5zm6 31zm-7 8zm-6 1zm5 3zm8 2zm4 10zm-14 7zm22-102zm8 39zm-7 13zm9 16z" stroke="#6abc60"/><path d="M0 0m69 167zm5 142zm22-5zm18-179zm-13 39zm20 144zm-11 17zm58-120zm23 11zm82 64zm23 275zm19-238zm-4 284zm27-183zm2 167zm11-8zm39-209zm39 76zm8 13zm-2 139zm12 32zm-19 0zm43-234zm-21 251zm44-270zm-13 5zm70 154zm54-431zm31-75zm10 91zm14 70zm30-19zm21-7z" stroke="#6eae61"/><path d="M0 0m259 325zm83-1zm83 62zm30 150zm-2 44zm87-44zm52-273zm-2 277zm11-309zm59-153zm-10 154zm36-80z" stroke="#779464"/><path d="M0 0m106 117zm351 478zm-6 39zm173-133zm70-386z" stroke="#7b7f61"/><path d="M0 0m122 124zm-1 43zm31 36zm319 452zm134-427zm3 311zm2 30zm-5 2zm23-499zm21 119zm-18 27zm8 17zm-12 318zm43-476zm-18 127zm8 5zm35-48zm20-45z" stroke="#817269"/><path d="M0 0m54 332zm59-184zm339 444zm21 60zm139-113zm14-9zm36-479z" stroke="#836370"/><path d="M0 0m72 148zm51-34zm-12 66zm198 126zm35 51zm145 280zm89-94zm42-350zm7-60zm10 19zm-6 2zm3 37zm61 6z" stroke="#835477"/><path d="M0 0m149 160zm51 44zm5 20zm37 53zm9 19zm48 252zm34-150zm49-27zm5 1zm98 265zm50-105zm90-480zm5 183zm40-163zm46 64z" stroke="#81407f"/><path d="M0 0m87 138zm-6 25zm-6 1zm6 17zm52 164zm19-180zm89 122zm45 23zm-7 257zm54-15zm73-188zm42 109zm0 127zm25 8zm-10 27zm-10 10zm64-126zm10-1zm72-269zm-20 7zm31-22zm3 300zm-3 37zm25-459zm7 31zm5 39zm-18 42zm-2 12zm3 335zm20-370zm61-60zm14 23z" stroke="#7f3086"/><path d="M0 0m98 112zm6 26zm53-21zm10 94zm19-37zm13 40zm28 65zm16 0zm106 77zm19-16zm-8 41zm-4 18zm34-42zm19 29zm26 38zm27 227zm158-142zm-14 8zm57-428zm17 440z" stroke="#7e228c"/><path d="M0 0m676 86zm5 18z" stroke="#b9b9bd"/><path d="M0 0m43 159zm4 6zm47-5zm10 137zm12 19zm-7 22zm38-254zm-4 109zm31 14zm-13 100zm-10 28zm36-229zm2 57zm-14 138zm4 23zm22-11zm47-8zm13-17zm3 20zm31 17zm13 7zm12 17zm-8 259zm19-280zm2 84zm16 129zm-24 33zm19 2zm26-222zm-11 173zm15 21zm-15 14zm15 11zm-22 27zm41-83zm-10 4zm25-146zm8 89zm-11 22zm31-57zm-9 17zm36 118zm9 69zm19-284zm31-5zm17-20zm54 192zm12-415zm-1 51zm11 40zm0 56zm-2 1zm6 7zm-2 319zm22-542zm7 7zm1 66zm-16 109zm8 305zm4 13zm-9 9zm22-463zm13 43zm-10 51zm4 28zm-10 4zm39-118zm-6 21zm13 3zm-8 27zm3 9zm3 1zm-18 22zm23-65zm10 51z" stroke="#6db949"/><path d="M0 0m61 157zm1 158zm12 5zm39-209zm1 5zm2 11zm-14 16zm15 4zm-16 23zm5 3zm10 1zm-10 1zm13 128zm-11 3zm-4 33zm-2 9zm44-248zm-3 9zm-17 4zm15 0zm4 5zm0 5zm0 36zm-3 142zm-7 2zm-8 5zm22 1zm-7 11zm-11 1zm9 30zm12-257zm0 8zm10 9zm-9 3zm4 31zm6 26zm-2 2zm5 30zm-8 0zm8 106zm-2 10zm3 2zm-3 5zm-7 3zm4 6zm-7 16zm35-265zm-8 8zm6 32zm4 66zm-6 109zm-3 22zm18-237zm1 153zm11 15zm0 46zm3 8zm11-20zm28-6zm7 14zm-11 18zm27-18zm5 17zm-3 3zm20 214zm-1 3zm-10 9zm-11 11zm10 12zm-3 0zm-6 16zm13 5zm14-290zm1 21zm9 24zm-4 210zm12 17zm-20 6zm0 6zm15 28zm15-296zm-3 0zm4 3zm5 2zm-8 17zm13 23zm-7 39zm9 18zm-16 3zm-5 1zm14 4zm-13 120zm5 1zm10 16zm-8 34zm-4 3zm42-265zm3 10zm-2 9zm-9 31zm-1 16zm-2 2zm-2 6zm-2 129zm17 3zm-8 4zm2 7zm-4 41zm27-244zm6 10zm0 25zm-17 124zm6 7zm19-155zm1 30zm7 5zm9 69zm-18 24zm8 7zm15-111zm7 13zm6 63zm-4 15zm14 82zm-3 19zm-3 12zm-4 16zm-1 29zm17-76zm16 31zm-6 5zm1 12zm28-257zm-9 16zm11 143zm-12 1zm38-149zm-19 16zm36-67zm-10 14zm11 8zm-5 1zm-1 5zm10 0zm-4 207zm14-14zm4 4zm8 2zm8 1zm-9 4zm31-398zm0 103zm0 6zm-19 15zm15 270zm0 5zm7 23zm-15 3zm11 2zm-7 6zm11 17zm19-505zm-4 0zm4 2zm-2 12zm-14 48zm14 13zm4 25zm0 19zm-14 29zm8 2zm-14 309zm6 6zm26-500zm12 23zm-17 13zm14 3zm-7 4zm-9 23zm19 16zm-14 29zm6 28zm-9 312zm10 31zm-5 16zm-7 5zm9 18zm33-503zm3 10zm-5 21zm-11 0zm15 2zm-5 17zm7 1zm-11 18zm3 1zm-5 14zm11 2zm-13 33zm13 6zm-11 8zm-8 21zm47-126zm-15 6zm17 29zm-8 0zm0 1zm3 24zm-17 25zm33-17zm4 6z" stroke="#6bbb54"/><path d="M0 0m52 167zm8 1zm9 138zm3 13zm14-166zm4 13zm-6 11zm2 130zm9 3zm-2 14zm22-194zm-11 49zm0 113zm5 4zm-4 2zm0 9zm14 19zm20-228zm2 12zm-13 15zm9 1zm9 47zm-16 4zm-2 0zm1 3zm10 0zm6 3zm-11 130zm-3 4zm4 3zm2 0zm-9 7zm16 8zm-11 9zm32-256zm-4 4zm-5 25zm15 18zm-20 3zm3 3zm18 11zm-8 5zm-11 9zm12 27zm-1 7zm7 7zm-2 112zm3 10zm-18 10zm39-263zm-1 3zm-12 4zm-3 36zm7 2zm2 15zm1 12zm-4 2zm-2 4zm10 148zm-14 12zm70-38zm0 20zm-5 10zm22 2zm-4 9zm13 258zm25-269zm-17 8zm3 13zm9 223zm-9 3zm7 12zm-6 23zm12 7zm5-294zm7 3zm7 243zm5 28zm-17 19zm2 1zm7 11zm26-302zm-1 7zm-13 1zm0 13zm16 68zm4 2zm-7 18zm9 5zm-13 125zm-3 6zm-5 13zm2 16zm3 15zm36-261zm-2 7zm1 13zm-8 12zm6 6zm10 1zm-14 0zm3 29zm-10 18zm12 100zm-8 10zm-4 21zm12 25zm6 10zm14-67zm-10 3zm31-161zm4 13zm4 12zm-6 8zm0 83zm9 2zm-14 15zm32-98zm5 11zm-9 10zm2 2zm-4 18zm15 4zm-11 15zm11 12zm-17 13zm8 1zm4 1zm-9 0zm-3 1zm13 98zm3 7zm6 7zm15-216zm-2 22zm-2 130zm7 4zm-9 15zm-4 16zm9 15zm-6 15zm13 2zm-11 15zm-2 2zm8 7zm-14 32zm37-303zm-2 25zm10 130zm2 108zm-16 1zm9 6zm21-259zm-2 161zm28-204zm6 206zm-4 10zm16-10zm12 13zm28-411zm3 22zm-1 85zm-14 19zm4 14zm2 251zm-5 32zm-3 3zm10 16zm24-496zm0 4zm-1 71zm-7 9zm12 11zm-6 6zm-5 17zm11 10zm-2 13zm-5 7zm-9 2zm4 6zm-7 313zm1 5zm2 20zm28-498zm-4 9zm2 30zm12 10zm4 17zm2 6zm-2 2zm-18 41zm10 8zm-5 9zm1 1zm14 319zm-20 9zm36-443zm0 38zm-13 6zm0 24zm4 13zm17 3zm-7 7zm8 21zm-22 17zm11 8zm-9 286zm28-438zm11 39zm6 60zm-19 27zm11 28zm25-116zm9 35zm-13 20z" stroke="#6abc60"/><path d="M0 0m51 171zm56-16zm39 172zm33-193zm9 14zm-8 35zm76 130zm37 1zm-18 232zm36-229zm-1 277zm27-16zm7 0zm28-27zm14-191zm9 26zm38 220zm-1 19zm10 7zm33-3zm100-370zm27 320zm46-357zm38-147zm11 120zm27-31z" stroke="#6eae61"/><path d="M0 0m448 536zm17 51zm81-57zm-2 4zm36 43zm44-499zm-20 171zm22-90zm27-18zm14 75zm31-45z" stroke="#779464"/><path d="M0 0m149 130zm469 86zm17-159zm-7 114zm11 61zm8 292zm21-462z" stroke="#7b7f61"/><path d="M0 0m96 161zm37 17zm3 20zm26-92zm2 57zm-13 15zm314 213zm-2 140zm20 110zm87-83zm7-36zm31-369zm33-113zm-15 157zm25-60zm36 25z" stroke="#817269"/><path d="M0 0m159 178zm3 6zm85 101zm347 221zm-19 17zm45-418zm-14 40zm33 71zm15-124zm7 52zm-10 93z" stroke="#836370"/><path d="M0 0m69 331zm386 304zm26-43zm64-68zm72-326zm-5 19zm25 298zm14-442z" stroke="#835477"/><path d="M0 0m87 135zm24 13zm25-57zm-8 68zm34-26zm133 160zm3 248zm29-216zm7 5zm222 191zm28 0zm0 13zm113-407zm-15 29z" stroke="#81407f"/><path d="M0 0m92 132zm-10 212zm9 3zm33-211zm15-34zm3 58zm25 2zm8-21zm6 36zm10 30zm53 63zm47 274zm1 14zm71-237zm9 40zm25 12zm26 21zm10 230zm14 7zm29-253zm17 228zm83-340zm16 285zm20-45zm-3 0zm-8 46zm12 5zm36-426zm-10 51zm6 367zm15-497zm25 33z" stroke="#7f3086"/><path d="M0 0m135 139zm8 47zm30-22zm-16 7zm29 5zm0 17zm18 28zm33 58zm-2 17zm148 51zm139 169zm84-6zm15 21zm10 14zm1 0z" stroke="#7e228c"/><path d="M0 0m673 152zm24-46zm-16 56z" stroke="#b9b9bd"/><path d="M0 0m50 150zm26 187zm43-193zm-18 174zm28-215zm16 2zm-13 90zm17 103zm25-185zm-10 2zm7 19zm-7 25zm-7 156zm24-111zm-3 20zm6 11zm23-151zm-5 16zm16 147zm11 43zm38-18zm12 17zm-1 3zm11 16zm35 117zm-19 132zm23-248zm19 108zm-18 152zm-1 6zm12 30zm24-278zm-7 84zm3 149zm22-176zm-7 204zm34-112zm33 90zm14-40zm11 53zm-16 7zm10 32zm-10 25zm17 6zm23-299zm5 24zm15 134zm69 40zm28-460zm11 38zm0 23zm2 45zm-10 351zm38-478zm-15 108zm9 31zm-6 28zm2 274zm1 25zm32-341zm-1 25zm6-149zm5 148z" stroke="#6db949"/><path d="M0 0m54 173zm14 140zm-4 22zm25-191zm6 157zm-4 9zm-6 27zm31-240zm-11 67zm3 9zm10 14zm-8 117zm-6 1zm12 38zm0 1zm-8 0zm12 3zm18-240zm5 2zm-6 5zm8 3zm-2 15zm-15 48zm19 26zm-19 92zm18 32zm-16 4zm-5 2zm26-257zm18 25zm-4 29zm-11 2zm-1 24zm17 19zm-10 119zm21-200zm-6 3zm18 3zm-7 7zm9 9zm-13 23zm1 72zm-1 90zm26-75zm9 65zm31-6zm-22 1zm4 5zm5 0zm-3 0zm4 2zm-1 3zm9 14zm-12 2zm8 2zm36-25zm2 28zm19 3zm2 222zm-6 5zm-12 2zm-1 9zm7 16zm-11 1zm5 5zm17 12zm13-290zm-4 13zm16 85zm0 5zm-4 143zm-15 11zm-1 19zm10 16zm32-287zm-18 6zm13 14zm5 4zm-4 62zm-9 16zm7 2zm9 12zm-14 122zm-2 4zm7 14zm-12 27zm16 14zm-12 3zm12 4zm12-290zm3 12zm-3 0zm17 3zm-15 11zm2 26zm10 9zm2 146zm-16 18zm9 35zm-8 24zm29-243zm0 11zm-6 4zm11 114zm-2 5zm-4 28zm-8 49zm28-208zm1 5zm-5 14zm15 6zm2 3zm9-1zm1 66zm14 12zm1 111zm6 33zm-11 5zm11 26zm-13 21zm39-302zm-10 11zm0 9zm-4 2zm14 6zm-2 110zm-20 64zm4 8zm34-217zm-14 3zm3 17zm-4 219zm0 11zm7 45zm35-333zm2 11zm-6 4zm7 6zm3 21zm8-46zm-1 2zm1 11zm6 189zm-6 4zm12 3zm-1 4zm3 4zm-5 2zm10-15zm44-388zm-15 432zm19 0zm18-448zm-5 16zm13 18zm-12 15zm-11 79zm3 250zm-4 41zm8 8zm-7 4zm35-469zm-8 21zm9 2zm6 10zm-17 11zm0 31zm3 20zm8 16zm3 1zm-11 24zm1 22zm8 324zm2 0zm24-504zm0 11zm8 32zm-20 8zm21 53zm-13 10zm8 2zm-3 12zm7 4zm-19 10zm-3 318zm2 9zm-2 14zm31-463zm10 2zm-9 66zm9 13zm5 12zm-1 10zm-7 7zm27-41zm-7 5zm-8 2zm18 10zm-10 7zm-2 5zm2 6zm20-36z" stroke="#6bbb54"/><path d="M0 0m42 170zm3 8zm6-7zm9 3zm8 144zm2 1zm21-197zm2 26zm-13 5zm4 22zm3 3zm-9 137zm10 23zm-8 6zm22-222zm0 1zm1 13zm14 11zm6 14zm-21 12zm3 133zm11 15zm-5 7zm12 20zm15-269zm10 1zm-1 3zm-4 19zm-6 12zm4 31zm-15 9zm-1 8zm15 10zm-13 7zm14 0zm-7 0zm11 13zm-15 1zm19 4zm-24 135zm22 16zm8-268zm-1 1zm6 0zm-8 1zm10 8zm-7 10zm0 3zm2 5zm12 10zm-3 9zm-13 1zm20 6zm-6 19zm-12 5zm19 23zm-19 4zm2 2zm3 2zm10 6zm-16 6zm11 10zm-1 114zm13-212zm0 48zm10 7zm2 3zm-4 16zm6 2zm-11 2zm-5 3zm20 8zm-5 103zm15 5zm38-34zm-11 20zm-2 3zm26-19zm3 4zm5 9zm6 17zm3 261zm11-259zm11 10zm-5 241zm-6 12zm-3 5zm13 15zm21-277zm-14 18zm18 206zm-13 40zm18 1zm-1 1zm-7 5zm-6 1zm8 31zm22-307zm-5 1zm-10 5zm22 0zm-18 10zm12 1zm8 15zm-9 59zm-1 5zm1 7zm4 6zm-6 141zm9 6zm-14 15zm14 20zm18-242zm-8 14zm16 6zm-12 8zm10 122zm-15 25zm27-205zm6 16zm5 7zm-18 162zm3 11zm36-152zm-1 24zm4 2zm6 41zm-10 30zm-1 12zm2 1zm11-107zm16 20zm-10 46zm4 5zm-3 22zm-6 7zm8 158zm30-242zm6 99zm-21 24zm12 6zm-11 24zm17 22zm-3 14zm4 24zm-3 2zm-1 19zm-3 6zm31-287zm-14 23zm0 9zm7 121zm-8 69zm16 46zm-7 5zm35-278zm-16 1zm3 15zm2 5zm-8 5zm39-68zm-3 3zm2 15zm-3 3zm-7 5zm-2 27zm11 181zm14-13zm9 22zm10 11zm-6 5zm29-415zm-10 102zm-2 272zm3 1zm-7 6zm13 62zm17-482zm-10 0zm13 4zm-12 14zm19 381zm-17 18zm10 3zm2 33zm11-495zm-1 9zm16 16zm6 9zm-21 15zm0 28zm2 25zm5 14zm-1 27zm-2 2zm17 16zm-7 2zm-9 288zm15 8zm16-467zm-5 56zm1 1zm2 7zm10 60zm-9 27zm3 8zm11-156zm3 1zm14 29zm2 11zm5 12zm-24 7zm8 9zm10 35zm0 12zm-6 32zm22-91zm8 31zm-5 4zm5 17z" stroke="#6abc60"/><path d="M0 0m107 139zm9 49zm24-79zm-12 31zm7 24zm19-72zm43 4zm-16 26zm100 197zm15 278zm66-73zm-12 77zm37-85zm44-107zm28-18zm7 264zm10-32zm44-303zm35 204zm41 17zm-8 15zm-9 6zm5 15zm25-456zm9 56zm-1 337zm22-443zm-13 165zm25-173zm7 164zm21-142zm38 25zm-6 56zm6 7z" stroke="#6eae61"/><path d="M0 0m377 344zm228-215zm1 402zm39-493zm-1 105zm5 69zm13-5z" stroke="#779464"/><path d="M0 0m287 577zm149-156zm38-38zm0 264zm100-116zm22-418zm-1 409zm26-359zm0 368zm12 18zm18-328zm27-20zm27-98zm12 17zm-4 55z" stroke="#7b7f61"/><path d="M0 0m176 214zm168 147zm105 32zm66 128zm80-271zm2 315zm40-515zm15 4zm24 20zm20 69z" stroke="#817269"/><path d="M0 0m326 317zm33 22zm2 242zm41-206zm27 15zm168-150zm23-112zm-9 3zm-5 450zm29-487zm10 82zm-5 19zm-8 31zm2 329zm28-449zm21 28zm1 46zm-7 377z" stroke="#836370"/><path d="M0 0m123 163zm25 6zm306 404zm159-454zm-5 7zm7 8zm8 67zm-12 12zm12 294zm10-326zm9 11z" stroke="#835477"/><path d="M0 0m93 156zm9 8zm80 53zm15 12zm138 326zm103 50zm11 28zm17 12zm69-119zm56 2zm22-436zm7 414zm36-409zm33-28z" stroke="#81407f"/><path d="M0 0m98 124zm15 52zm22-59zm-2 20zm-2 7zm17 16zm-1 18zm34 34zm12 27zm105 79zm-1 240zm16-259zm18 250zm84-162zm14 20zm2 4zm12 50zm21-72zm-2 133zm6 6zm-7 70zm15 68zm115-148zm16-433zm13 113zm5 321zm27 19zm36-371zm7 23zm13-78z" stroke="#7f3086"/><path d="M0 0m77 171zm31-1zm28-32zm-4 24zm16 9zm9-8zm147 146zm35 22zm15 8zm39 26zm67 246zm150-488zm5 7zm-14 125zm46-182zm-20 475z" stroke="#7e228c"/></g><g font-size="4.50" stroke="#000" stroke-width="0.14"><text x="515.40" y="586.00" text-anchor="middle">−1.0</text><text x="490.30" y="570.77" text-anchor="end">−1.0</text><text x="545.30" y="586.00" text-anchor="middle">−0.5</text><text x="490.30" y="540.22" text-anchor="end">−0.5</text><text x="575.20" y="586.00" text-anchor="middle">0.0</text><text x="490.30" y="509.67" text-anchor="end">0.0</text><text x="605.10" y="586.00" text-anchor="middle">0.5</text><text x="490.30" y="479.12" text-anchor="end">0.5</text><text x="635.00" y="586.00" text-anchor="middle">1.0</text><text x="490.30" y="448.57" text-anchor="end">1.0</text></g><text x="568.95" y="591.40" text-anchor="middle" font-size="5.05">Dimension 1</text><text transform="translate(479.60 509.60) rotate(-90)" text-anchor="middle" font-size="5.05">Dimension 2</text><text x="491.90" y="434.10" font-size="7.38">FIB−4</text><rect x="650.80" y="472.80" width="15.70" height="83.90" fill="url(#cg)"/><path d="M650.80 486.90h3.14M666.50 486.90h-3.14M650.80 514.80h3.14M666.50 514.80h-3.14M650.80 542.60h3.14M666.50 542.60h-3.14" stroke="#fff" stroke-width="0.75" fill="none"/><g font-size="6.50"><text x="669.90" y="489.24">3</text><text x="669.90" y="517.14">2</text><text x="669.90" y="544.94">1</text></g><text x="650.80" y="467.10" font-size="7.30">FIB−4</text></g>
</svg>
</body></html>
